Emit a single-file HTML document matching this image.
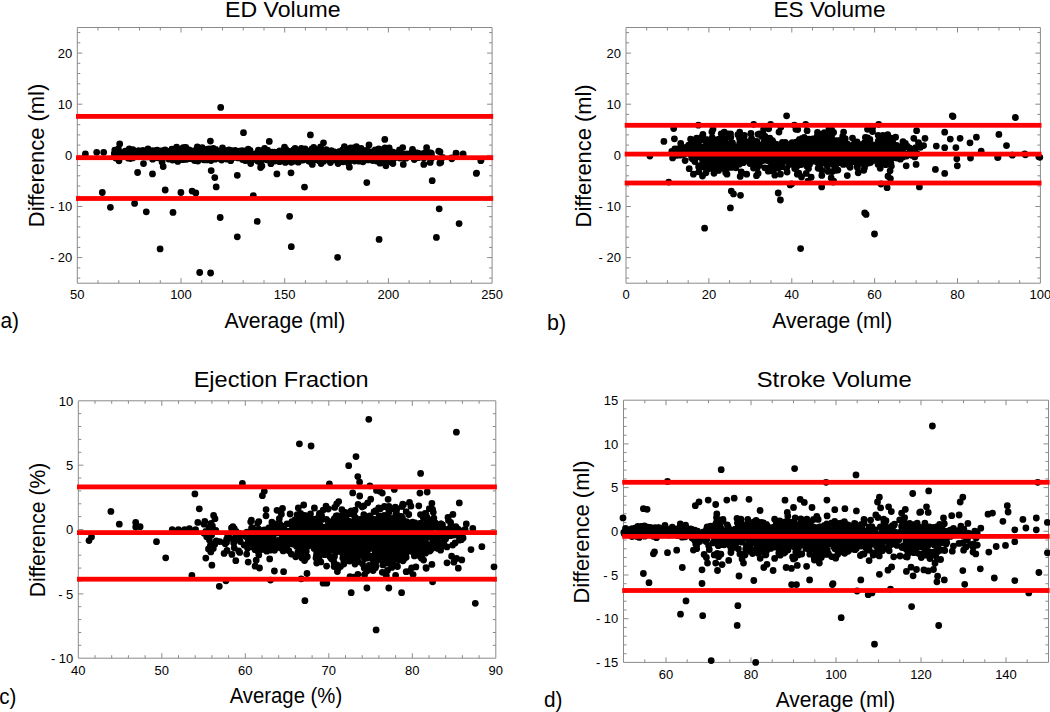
<!DOCTYPE html>
<html><head><meta charset="utf-8"><style>html,body{margin:0;padding:0;background:#fff;overflow:hidden}svg{display:block}</style></head><body>
<svg width="1050" height="712" viewBox="0 0 1050 712">
<rect width="1050" height="712" fill="#fff"/>
<path d="M77.3 27.5H492.1V283.2H77.3ZM98 283.2v-3M98 27.5v3M118.8 283.2v-3M118.8 27.5v3M139.5 283.2v-3M139.5 27.5v3M160.3 283.2v-3M160.3 27.5v3M181 283.2v-5M181 27.5v5M201.7 283.2v-3M201.7 27.5v3M222.5 283.2v-3M222.5 27.5v3M243.2 283.2v-3M243.2 27.5v3M264 283.2v-3M264 27.5v3M284.7 283.2v-5M284.7 27.5v5M305.4 283.2v-3M305.4 27.5v3M326.2 283.2v-3M326.2 27.5v3M346.9 283.2v-3M346.9 27.5v3M367.7 283.2v-3M367.7 27.5v3M388.4 283.2v-5M388.4 27.5v5M409.1 283.2v-3M409.1 27.5v3M429.9 283.2v-3M429.9 27.5v3M450.6 283.2v-3M450.6 27.5v3M471.4 283.2v-3M471.4 27.5v3M77.3 278.1h3M492.1 278.1h-3M77.3 267.9h3M492.1 267.9h-3M77.3 257.6h5M492.1 257.6h-5M77.3 247.4h3M492.1 247.4h-3M77.3 237.2h3M492.1 237.2h-3M77.3 226.9h3M492.1 226.9h-3M77.3 216.7h3M492.1 216.7h-3M77.3 206.5h5M492.1 206.5h-5M77.3 196.3h3M492.1 196.3h-3M77.3 186h3M492.1 186h-3M77.3 175.8h3M492.1 175.8h-3M77.3 165.6h3M492.1 165.6h-3M77.3 155.3h5M492.1 155.3h-5M77.3 145.1h3M492.1 145.1h-3M77.3 134.9h3M492.1 134.9h-3M77.3 124.7h3M492.1 124.7h-3M77.3 114.4h3M492.1 114.4h-3M77.3 104.2h5M492.1 104.2h-5M77.3 94h3M492.1 94h-3M77.3 83.8h3M492.1 83.8h-3M77.3 73.5h3M492.1 73.5h-3M77.3 63.3h3M492.1 63.3h-3M77.3 53.1h5M492.1 53.1h-5M77.3 42.8h3M492.1 42.8h-3M77.3 32.6h3M492.1 32.6h-3" stroke="#8a8a8a" stroke-width="1" fill="none"/>
<path d="M153.7 156.9a3.4 3.4 0 1 0 6.8 0a3.4 3.4 0 1 0 -6.8 0M127.2 155.4a3.4 3.4 0 1 0 6.8 0a3.4 3.4 0 1 0 -6.8 0M234.6 157.9a3.4 3.4 0 1 0 6.8 0a3.4 3.4 0 1 0 -6.8 0M146 155.5a3.4 3.4 0 1 0 6.8 0a3.4 3.4 0 1 0 -6.8 0M381.6 147.8a3.4 3.4 0 1 0 6.8 0a3.4 3.4 0 1 0 -6.8 0M356.1 160.5a3.4 3.4 0 1 0 6.8 0a3.4 3.4 0 1 0 -6.8 0M144.3 154.7a3.4 3.4 0 1 0 6.8 0a3.4 3.4 0 1 0 -6.8 0M293.3 153.1a3.4 3.4 0 1 0 6.8 0a3.4 3.4 0 1 0 -6.8 0M128.6 155.1a3.4 3.4 0 1 0 6.8 0a3.4 3.4 0 1 0 -6.8 0M200.4 159.8a3.4 3.4 0 1 0 6.8 0a3.4 3.4 0 1 0 -6.8 0M196.3 154.2a3.4 3.4 0 1 0 6.8 0a3.4 3.4 0 1 0 -6.8 0M260.8 152.7a3.4 3.4 0 1 0 6.8 0a3.4 3.4 0 1 0 -6.8 0M193 157.5a3.4 3.4 0 1 0 6.8 0a3.4 3.4 0 1 0 -6.8 0M154.1 155.8a3.4 3.4 0 1 0 6.8 0a3.4 3.4 0 1 0 -6.8 0M301.7 149a3.4 3.4 0 1 0 6.8 0a3.4 3.4 0 1 0 -6.8 0M309.5 152a3.4 3.4 0 1 0 6.8 0a3.4 3.4 0 1 0 -6.8 0M241.1 158.5a3.4 3.4 0 1 0 6.8 0a3.4 3.4 0 1 0 -6.8 0M128 153a3.4 3.4 0 1 0 6.8 0a3.4 3.4 0 1 0 -6.8 0M394.6 154.3a3.4 3.4 0 1 0 6.8 0a3.4 3.4 0 1 0 -6.8 0M117.1 156.5a3.4 3.4 0 1 0 6.8 0a3.4 3.4 0 1 0 -6.8 0M144.1 154.2a3.4 3.4 0 1 0 6.8 0a3.4 3.4 0 1 0 -6.8 0M222.4 153.3a3.4 3.4 0 1 0 6.8 0a3.4 3.4 0 1 0 -6.8 0M239.1 159.5a3.4 3.4 0 1 0 6.8 0a3.4 3.4 0 1 0 -6.8 0M190.2 150.9a3.4 3.4 0 1 0 6.8 0a3.4 3.4 0 1 0 -6.8 0M363.5 156.2a3.4 3.4 0 1 0 6.8 0a3.4 3.4 0 1 0 -6.8 0M177.3 156.7a3.4 3.4 0 1 0 6.8 0a3.4 3.4 0 1 0 -6.8 0M185.7 152.2a3.4 3.4 0 1 0 6.8 0a3.4 3.4 0 1 0 -6.8 0M383.2 156.5a3.4 3.4 0 1 0 6.8 0a3.4 3.4 0 1 0 -6.8 0M287.2 161.7a3.4 3.4 0 1 0 6.8 0a3.4 3.4 0 1 0 -6.8 0M360.7 157.4a3.4 3.4 0 1 0 6.8 0a3.4 3.4 0 1 0 -6.8 0M224.7 154.2a3.4 3.4 0 1 0 6.8 0a3.4 3.4 0 1 0 -6.8 0M170.3 154.1a3.4 3.4 0 1 0 6.8 0a3.4 3.4 0 1 0 -6.8 0M125.6 154.7a3.4 3.4 0 1 0 6.8 0a3.4 3.4 0 1 0 -6.8 0M117.9 155a3.4 3.4 0 1 0 6.8 0a3.4 3.4 0 1 0 -6.8 0M153.1 152.6a3.4 3.4 0 1 0 6.8 0a3.4 3.4 0 1 0 -6.8 0M353.4 157.6a3.4 3.4 0 1 0 6.8 0a3.4 3.4 0 1 0 -6.8 0M249 157.4a3.4 3.4 0 1 0 6.8 0a3.4 3.4 0 1 0 -6.8 0M347.7 156.8a3.4 3.4 0 1 0 6.8 0a3.4 3.4 0 1 0 -6.8 0M382.6 157.5a3.4 3.4 0 1 0 6.8 0a3.4 3.4 0 1 0 -6.8 0M261.6 158.3a3.4 3.4 0 1 0 6.8 0a3.4 3.4 0 1 0 -6.8 0M309.7 153.7a3.4 3.4 0 1 0 6.8 0a3.4 3.4 0 1 0 -6.8 0M262.9 156.5a3.4 3.4 0 1 0 6.8 0a3.4 3.4 0 1 0 -6.8 0M174.4 161.4a3.4 3.4 0 1 0 6.8 0a3.4 3.4 0 1 0 -6.8 0M344.6 154.4a3.4 3.4 0 1 0 6.8 0a3.4 3.4 0 1 0 -6.8 0M258.6 155.8a3.4 3.4 0 1 0 6.8 0a3.4 3.4 0 1 0 -6.8 0M184.7 155.1a3.4 3.4 0 1 0 6.8 0a3.4 3.4 0 1 0 -6.8 0M410.9 159.5a3.4 3.4 0 1 0 6.8 0a3.4 3.4 0 1 0 -6.8 0M173.7 154.4a3.4 3.4 0 1 0 6.8 0a3.4 3.4 0 1 0 -6.8 0M169.1 160.1a3.4 3.4 0 1 0 6.8 0a3.4 3.4 0 1 0 -6.8 0M297.4 151.3a3.4 3.4 0 1 0 6.8 0a3.4 3.4 0 1 0 -6.8 0M299.5 156.1a3.4 3.4 0 1 0 6.8 0a3.4 3.4 0 1 0 -6.8 0M161.7 149.8a3.4 3.4 0 1 0 6.8 0a3.4 3.4 0 1 0 -6.8 0M339.6 152.3a3.4 3.4 0 1 0 6.8 0a3.4 3.4 0 1 0 -6.8 0M419.8 156.1a3.4 3.4 0 1 0 6.8 0a3.4 3.4 0 1 0 -6.8 0M153.8 154.5a3.4 3.4 0 1 0 6.8 0a3.4 3.4 0 1 0 -6.8 0M391 153.3a3.4 3.4 0 1 0 6.8 0a3.4 3.4 0 1 0 -6.8 0M267.5 163.7a3.4 3.4 0 1 0 6.8 0a3.4 3.4 0 1 0 -6.8 0M261.2 155.8a3.4 3.4 0 1 0 6.8 0a3.4 3.4 0 1 0 -6.8 0M359.9 155.6a3.4 3.4 0 1 0 6.8 0a3.4 3.4 0 1 0 -6.8 0M179.4 157.4a3.4 3.4 0 1 0 6.8 0a3.4 3.4 0 1 0 -6.8 0M230.4 157.6a3.4 3.4 0 1 0 6.8 0a3.4 3.4 0 1 0 -6.8 0M277.4 153.3a3.4 3.4 0 1 0 6.8 0a3.4 3.4 0 1 0 -6.8 0M373.1 151.1a3.4 3.4 0 1 0 6.8 0a3.4 3.4 0 1 0 -6.8 0M236.5 154.2a3.4 3.4 0 1 0 6.8 0a3.4 3.4 0 1 0 -6.8 0M339.2 149.8a3.4 3.4 0 1 0 6.8 0a3.4 3.4 0 1 0 -6.8 0M203.8 155.9a3.4 3.4 0 1 0 6.8 0a3.4 3.4 0 1 0 -6.8 0M334.9 152.7a3.4 3.4 0 1 0 6.8 0a3.4 3.4 0 1 0 -6.8 0M331.5 154.1a3.4 3.4 0 1 0 6.8 0a3.4 3.4 0 1 0 -6.8 0M328 150.7a3.4 3.4 0 1 0 6.8 0a3.4 3.4 0 1 0 -6.8 0M257.1 156.6a3.4 3.4 0 1 0 6.8 0a3.4 3.4 0 1 0 -6.8 0M263.1 159.8a3.4 3.4 0 1 0 6.8 0a3.4 3.4 0 1 0 -6.8 0M380.1 153.2a3.4 3.4 0 1 0 6.8 0a3.4 3.4 0 1 0 -6.8 0M380.4 156.1a3.4 3.4 0 1 0 6.8 0a3.4 3.4 0 1 0 -6.8 0M131.3 155a3.4 3.4 0 1 0 6.8 0a3.4 3.4 0 1 0 -6.8 0M302.1 156.5a3.4 3.4 0 1 0 6.8 0a3.4 3.4 0 1 0 -6.8 0M299.4 153.8a3.4 3.4 0 1 0 6.8 0a3.4 3.4 0 1 0 -6.8 0M387.3 158.2a3.4 3.4 0 1 0 6.8 0a3.4 3.4 0 1 0 -6.8 0M393.7 154a3.4 3.4 0 1 0 6.8 0a3.4 3.4 0 1 0 -6.8 0M234 153.8a3.4 3.4 0 1 0 6.8 0a3.4 3.4 0 1 0 -6.8 0M317.1 156.8a3.4 3.4 0 1 0 6.8 0a3.4 3.4 0 1 0 -6.8 0M236.6 152.7a3.4 3.4 0 1 0 6.8 0a3.4 3.4 0 1 0 -6.8 0M129 157.2a3.4 3.4 0 1 0 6.8 0a3.4 3.4 0 1 0 -6.8 0M388.5 154.9a3.4 3.4 0 1 0 6.8 0a3.4 3.4 0 1 0 -6.8 0M187.9 155.9a3.4 3.4 0 1 0 6.8 0a3.4 3.4 0 1 0 -6.8 0M371.3 154.9a3.4 3.4 0 1 0 6.8 0a3.4 3.4 0 1 0 -6.8 0M273.8 156.9a3.4 3.4 0 1 0 6.8 0a3.4 3.4 0 1 0 -6.8 0M127.1 153.1a3.4 3.4 0 1 0 6.8 0a3.4 3.4 0 1 0 -6.8 0M292 155.6a3.4 3.4 0 1 0 6.8 0a3.4 3.4 0 1 0 -6.8 0M355.5 157.4a3.4 3.4 0 1 0 6.8 0a3.4 3.4 0 1 0 -6.8 0M268.8 152.2a3.4 3.4 0 1 0 6.8 0a3.4 3.4 0 1 0 -6.8 0M147.6 154.1a3.4 3.4 0 1 0 6.8 0a3.4 3.4 0 1 0 -6.8 0M125 155.2a3.4 3.4 0 1 0 6.8 0a3.4 3.4 0 1 0 -6.8 0M197.8 154a3.4 3.4 0 1 0 6.8 0a3.4 3.4 0 1 0 -6.8 0M209.8 158.8a3.4 3.4 0 1 0 6.8 0a3.4 3.4 0 1 0 -6.8 0M115 152.4a3.4 3.4 0 1 0 6.8 0a3.4 3.4 0 1 0 -6.8 0M377.9 154.3a3.4 3.4 0 1 0 6.8 0a3.4 3.4 0 1 0 -6.8 0M234.2 156.7a3.4 3.4 0 1 0 6.8 0a3.4 3.4 0 1 0 -6.8 0M307.3 152.2a3.4 3.4 0 1 0 6.8 0a3.4 3.4 0 1 0 -6.8 0M348.6 152.8a3.4 3.4 0 1 0 6.8 0a3.4 3.4 0 1 0 -6.8 0M126.2 152a3.4 3.4 0 1 0 6.8 0a3.4 3.4 0 1 0 -6.8 0M322.5 155.7a3.4 3.4 0 1 0 6.8 0a3.4 3.4 0 1 0 -6.8 0M359.6 156.2a3.4 3.4 0 1 0 6.8 0a3.4 3.4 0 1 0 -6.8 0M179.9 153.1a3.4 3.4 0 1 0 6.8 0a3.4 3.4 0 1 0 -6.8 0M185.9 155.5a3.4 3.4 0 1 0 6.8 0a3.4 3.4 0 1 0 -6.8 0M414.1 156.5a3.4 3.4 0 1 0 6.8 0a3.4 3.4 0 1 0 -6.8 0M110.9 153.5a3.4 3.4 0 1 0 6.8 0a3.4 3.4 0 1 0 -6.8 0M254.4 154.7a3.4 3.4 0 1 0 6.8 0a3.4 3.4 0 1 0 -6.8 0M136.3 154a3.4 3.4 0 1 0 6.8 0a3.4 3.4 0 1 0 -6.8 0M117 154.4a3.4 3.4 0 1 0 6.8 0a3.4 3.4 0 1 0 -6.8 0M325.3 159.4a3.4 3.4 0 1 0 6.8 0a3.4 3.4 0 1 0 -6.8 0M362 150.6a3.4 3.4 0 1 0 6.8 0a3.4 3.4 0 1 0 -6.8 0M317.7 163.5a3.4 3.4 0 1 0 6.8 0a3.4 3.4 0 1 0 -6.8 0M349.5 151.3a3.4 3.4 0 1 0 6.8 0a3.4 3.4 0 1 0 -6.8 0M150.4 151a3.4 3.4 0 1 0 6.8 0a3.4 3.4 0 1 0 -6.8 0M349.4 157a3.4 3.4 0 1 0 6.8 0a3.4 3.4 0 1 0 -6.8 0M305.9 151.1a3.4 3.4 0 1 0 6.8 0a3.4 3.4 0 1 0 -6.8 0M119.5 153.2a3.4 3.4 0 1 0 6.8 0a3.4 3.4 0 1 0 -6.8 0M270.3 156.2a3.4 3.4 0 1 0 6.8 0a3.4 3.4 0 1 0 -6.8 0M305.3 160.9a3.4 3.4 0 1 0 6.8 0a3.4 3.4 0 1 0 -6.8 0M254.4 155.1a3.4 3.4 0 1 0 6.8 0a3.4 3.4 0 1 0 -6.8 0M129.5 154a3.4 3.4 0 1 0 6.8 0a3.4 3.4 0 1 0 -6.8 0M319.2 156.3a3.4 3.4 0 1 0 6.8 0a3.4 3.4 0 1 0 -6.8 0M389.7 152.2a3.4 3.4 0 1 0 6.8 0a3.4 3.4 0 1 0 -6.8 0M330 157.5a3.4 3.4 0 1 0 6.8 0a3.4 3.4 0 1 0 -6.8 0M132.8 153.9a3.4 3.4 0 1 0 6.8 0a3.4 3.4 0 1 0 -6.8 0M273 160.4a3.4 3.4 0 1 0 6.8 0a3.4 3.4 0 1 0 -6.8 0M187.5 153.2a3.4 3.4 0 1 0 6.8 0a3.4 3.4 0 1 0 -6.8 0M258.3 150.4a3.4 3.4 0 1 0 6.8 0a3.4 3.4 0 1 0 -6.8 0M144.5 156.3a3.4 3.4 0 1 0 6.8 0a3.4 3.4 0 1 0 -6.8 0M115.6 160.8a3.4 3.4 0 1 0 6.8 0a3.4 3.4 0 1 0 -6.8 0M387.5 154.7a3.4 3.4 0 1 0 6.8 0a3.4 3.4 0 1 0 -6.8 0M403.3 156.2a3.4 3.4 0 1 0 6.8 0a3.4 3.4 0 1 0 -6.8 0M260.5 159.1a3.4 3.4 0 1 0 6.8 0a3.4 3.4 0 1 0 -6.8 0M364.2 159.5a3.4 3.4 0 1 0 6.8 0a3.4 3.4 0 1 0 -6.8 0M367.3 155.3a3.4 3.4 0 1 0 6.8 0a3.4 3.4 0 1 0 -6.8 0M239.5 155a3.4 3.4 0 1 0 6.8 0a3.4 3.4 0 1 0 -6.8 0M209 155.1a3.4 3.4 0 1 0 6.8 0a3.4 3.4 0 1 0 -6.8 0M350.6 154.8a3.4 3.4 0 1 0 6.8 0a3.4 3.4 0 1 0 -6.8 0M314.5 154.2a3.4 3.4 0 1 0 6.8 0a3.4 3.4 0 1 0 -6.8 0M396.3 158.1a3.4 3.4 0 1 0 6.8 0a3.4 3.4 0 1 0 -6.8 0M233 156.5a3.4 3.4 0 1 0 6.8 0a3.4 3.4 0 1 0 -6.8 0M192.3 155.5a3.4 3.4 0 1 0 6.8 0a3.4 3.4 0 1 0 -6.8 0M186.6 156.2a3.4 3.4 0 1 0 6.8 0a3.4 3.4 0 1 0 -6.8 0M424.9 156.6a3.4 3.4 0 1 0 6.8 0a3.4 3.4 0 1 0 -6.8 0M371.8 150a3.4 3.4 0 1 0 6.8 0a3.4 3.4 0 1 0 -6.8 0M320.1 153.4a3.4 3.4 0 1 0 6.8 0a3.4 3.4 0 1 0 -6.8 0M294.9 162.2a3.4 3.4 0 1 0 6.8 0a3.4 3.4 0 1 0 -6.8 0M245.6 157.3a3.4 3.4 0 1 0 6.8 0a3.4 3.4 0 1 0 -6.8 0M322 154.7a3.4 3.4 0 1 0 6.8 0a3.4 3.4 0 1 0 -6.8 0M270 159.8a3.4 3.4 0 1 0 6.8 0a3.4 3.4 0 1 0 -6.8 0M156.8 156.5a3.4 3.4 0 1 0 6.8 0a3.4 3.4 0 1 0 -6.8 0M369.8 152.8a3.4 3.4 0 1 0 6.8 0a3.4 3.4 0 1 0 -6.8 0M150.5 156a3.4 3.4 0 1 0 6.8 0a3.4 3.4 0 1 0 -6.8 0M179 156.6a3.4 3.4 0 1 0 6.8 0a3.4 3.4 0 1 0 -6.8 0M364.4 152.1a3.4 3.4 0 1 0 6.8 0a3.4 3.4 0 1 0 -6.8 0M218.4 156.8a3.4 3.4 0 1 0 6.8 0a3.4 3.4 0 1 0 -6.8 0M190 157.7a3.4 3.4 0 1 0 6.8 0a3.4 3.4 0 1 0 -6.8 0M357.4 157.8a3.4 3.4 0 1 0 6.8 0a3.4 3.4 0 1 0 -6.8 0M181.7 147.3a3.4 3.4 0 1 0 6.8 0a3.4 3.4 0 1 0 -6.8 0M360.2 157.7a3.4 3.4 0 1 0 6.8 0a3.4 3.4 0 1 0 -6.8 0M313.5 150.7a3.4 3.4 0 1 0 6.8 0a3.4 3.4 0 1 0 -6.8 0M222.6 155.7a3.4 3.4 0 1 0 6.8 0a3.4 3.4 0 1 0 -6.8 0M355.3 155a3.4 3.4 0 1 0 6.8 0a3.4 3.4 0 1 0 -6.8 0M260 156.6a3.4 3.4 0 1 0 6.8 0a3.4 3.4 0 1 0 -6.8 0M419.7 155.2a3.4 3.4 0 1 0 6.8 0a3.4 3.4 0 1 0 -6.8 0M121.9 151.1a3.4 3.4 0 1 0 6.8 0a3.4 3.4 0 1 0 -6.8 0M373.7 154.4a3.4 3.4 0 1 0 6.8 0a3.4 3.4 0 1 0 -6.8 0M292.6 156.6a3.4 3.4 0 1 0 6.8 0a3.4 3.4 0 1 0 -6.8 0M130.7 151.8a3.4 3.4 0 1 0 6.8 0a3.4 3.4 0 1 0 -6.8 0M282.5 153.4a3.4 3.4 0 1 0 6.8 0a3.4 3.4 0 1 0 -6.8 0M242.4 150.8a3.4 3.4 0 1 0 6.8 0a3.4 3.4 0 1 0 -6.8 0M177.7 149.6a3.4 3.4 0 1 0 6.8 0a3.4 3.4 0 1 0 -6.8 0M419.1 157.1a3.4 3.4 0 1 0 6.8 0a3.4 3.4 0 1 0 -6.8 0M230.7 155.5a3.4 3.4 0 1 0 6.8 0a3.4 3.4 0 1 0 -6.8 0M375.2 157.9a3.4 3.4 0 1 0 6.8 0a3.4 3.4 0 1 0 -6.8 0M305.8 155.6a3.4 3.4 0 1 0 6.8 0a3.4 3.4 0 1 0 -6.8 0M322 157.4a3.4 3.4 0 1 0 6.8 0a3.4 3.4 0 1 0 -6.8 0M345.1 163.4a3.4 3.4 0 1 0 6.8 0a3.4 3.4 0 1 0 -6.8 0M328.1 158.7a3.4 3.4 0 1 0 6.8 0a3.4 3.4 0 1 0 -6.8 0M174.5 153.9a3.4 3.4 0 1 0 6.8 0a3.4 3.4 0 1 0 -6.8 0M381.9 153.2a3.4 3.4 0 1 0 6.8 0a3.4 3.4 0 1 0 -6.8 0M401.1 155.8a3.4 3.4 0 1 0 6.8 0a3.4 3.4 0 1 0 -6.8 0M223.1 159a3.4 3.4 0 1 0 6.8 0a3.4 3.4 0 1 0 -6.8 0M426.4 153a3.4 3.4 0 1 0 6.8 0a3.4 3.4 0 1 0 -6.8 0M378.3 159.8a3.4 3.4 0 1 0 6.8 0a3.4 3.4 0 1 0 -6.8 0M217.5 156a3.4 3.4 0 1 0 6.8 0a3.4 3.4 0 1 0 -6.8 0M111.4 150.1a3.4 3.4 0 1 0 6.8 0a3.4 3.4 0 1 0 -6.8 0M386.4 161.6a3.4 3.4 0 1 0 6.8 0a3.4 3.4 0 1 0 -6.8 0M345.6 154a3.4 3.4 0 1 0 6.8 0a3.4 3.4 0 1 0 -6.8 0M217.2 155.4a3.4 3.4 0 1 0 6.8 0a3.4 3.4 0 1 0 -6.8 0M214.8 158.3a3.4 3.4 0 1 0 6.8 0a3.4 3.4 0 1 0 -6.8 0M329.9 155.6a3.4 3.4 0 1 0 6.8 0a3.4 3.4 0 1 0 -6.8 0M128.5 153.8a3.4 3.4 0 1 0 6.8 0a3.4 3.4 0 1 0 -6.8 0M207.6 160.5a3.4 3.4 0 1 0 6.8 0a3.4 3.4 0 1 0 -6.8 0M416.3 154.7a3.4 3.4 0 1 0 6.8 0a3.4 3.4 0 1 0 -6.8 0M111.7 151.8a3.4 3.4 0 1 0 6.8 0a3.4 3.4 0 1 0 -6.8 0M291.9 157.4a3.4 3.4 0 1 0 6.8 0a3.4 3.4 0 1 0 -6.8 0M384.2 155.4a3.4 3.4 0 1 0 6.8 0a3.4 3.4 0 1 0 -6.8 0M182.4 147.4a3.4 3.4 0 1 0 6.8 0a3.4 3.4 0 1 0 -6.8 0M340.1 155.3a3.4 3.4 0 1 0 6.8 0a3.4 3.4 0 1 0 -6.8 0M331.6 153.6a3.4 3.4 0 1 0 6.8 0a3.4 3.4 0 1 0 -6.8 0M334.3 157.6a3.4 3.4 0 1 0 6.8 0a3.4 3.4 0 1 0 -6.8 0M325.9 155.8a3.4 3.4 0 1 0 6.8 0a3.4 3.4 0 1 0 -6.8 0M203.8 155.3a3.4 3.4 0 1 0 6.8 0a3.4 3.4 0 1 0 -6.8 0M393.1 156.3a3.4 3.4 0 1 0 6.8 0a3.4 3.4 0 1 0 -6.8 0M313.6 155.7a3.4 3.4 0 1 0 6.8 0a3.4 3.4 0 1 0 -6.8 0M229.8 152.5a3.4 3.4 0 1 0 6.8 0a3.4 3.4 0 1 0 -6.8 0M300.6 150.1a3.4 3.4 0 1 0 6.8 0a3.4 3.4 0 1 0 -6.8 0M194.6 151.2a3.4 3.4 0 1 0 6.8 0a3.4 3.4 0 1 0 -6.8 0M181.4 158.9a3.4 3.4 0 1 0 6.8 0a3.4 3.4 0 1 0 -6.8 0M363.5 153.5a3.4 3.4 0 1 0 6.8 0a3.4 3.4 0 1 0 -6.8 0M412.8 156.6a3.4 3.4 0 1 0 6.8 0a3.4 3.4 0 1 0 -6.8 0M297.5 158a3.4 3.4 0 1 0 6.8 0a3.4 3.4 0 1 0 -6.8 0M351 157.2a3.4 3.4 0 1 0 6.8 0a3.4 3.4 0 1 0 -6.8 0M194.6 158.3a3.4 3.4 0 1 0 6.8 0a3.4 3.4 0 1 0 -6.8 0M376.6 163.2a3.4 3.4 0 1 0 6.8 0a3.4 3.4 0 1 0 -6.8 0M239 156.4a3.4 3.4 0 1 0 6.8 0a3.4 3.4 0 1 0 -6.8 0M281.1 147.2a3.4 3.4 0 1 0 6.8 0a3.4 3.4 0 1 0 -6.8 0M216.1 155.7a3.4 3.4 0 1 0 6.8 0a3.4 3.4 0 1 0 -6.8 0M297 157.4a3.4 3.4 0 1 0 6.8 0a3.4 3.4 0 1 0 -6.8 0M204.2 156.1a3.4 3.4 0 1 0 6.8 0a3.4 3.4 0 1 0 -6.8 0M338.1 157.6a3.4 3.4 0 1 0 6.8 0a3.4 3.4 0 1 0 -6.8 0M139.6 150.5a3.4 3.4 0 1 0 6.8 0a3.4 3.4 0 1 0 -6.8 0M157.4 152.8a3.4 3.4 0 1 0 6.8 0a3.4 3.4 0 1 0 -6.8 0M191.6 157.7a3.4 3.4 0 1 0 6.8 0a3.4 3.4 0 1 0 -6.8 0M212.8 154.2a3.4 3.4 0 1 0 6.8 0a3.4 3.4 0 1 0 -6.8 0M395.6 156.7a3.4 3.4 0 1 0 6.8 0a3.4 3.4 0 1 0 -6.8 0M112.3 158a3.4 3.4 0 1 0 6.8 0a3.4 3.4 0 1 0 -6.8 0M345.2 157.7a3.4 3.4 0 1 0 6.8 0a3.4 3.4 0 1 0 -6.8 0M114.8 152.1a3.4 3.4 0 1 0 6.8 0a3.4 3.4 0 1 0 -6.8 0M370.8 152.7a3.4 3.4 0 1 0 6.8 0a3.4 3.4 0 1 0 -6.8 0M152.3 152.3a3.4 3.4 0 1 0 6.8 0a3.4 3.4 0 1 0 -6.8 0M375.3 149a3.4 3.4 0 1 0 6.8 0a3.4 3.4 0 1 0 -6.8 0M402.9 155.2a3.4 3.4 0 1 0 6.8 0a3.4 3.4 0 1 0 -6.8 0M427.8 158.9a3.4 3.4 0 1 0 6.8 0a3.4 3.4 0 1 0 -6.8 0M369.2 157.5a3.4 3.4 0 1 0 6.8 0a3.4 3.4 0 1 0 -6.8 0M156.4 154.5a3.4 3.4 0 1 0 6.8 0a3.4 3.4 0 1 0 -6.8 0M347.7 158.3a3.4 3.4 0 1 0 6.8 0a3.4 3.4 0 1 0 -6.8 0M224.9 153.7a3.4 3.4 0 1 0 6.8 0a3.4 3.4 0 1 0 -6.8 0M317.9 156.1a3.4 3.4 0 1 0 6.8 0a3.4 3.4 0 1 0 -6.8 0M271.4 161.1a3.4 3.4 0 1 0 6.8 0a3.4 3.4 0 1 0 -6.8 0M282.1 156.5a3.4 3.4 0 1 0 6.8 0a3.4 3.4 0 1 0 -6.8 0M198.2 152a3.4 3.4 0 1 0 6.8 0a3.4 3.4 0 1 0 -6.8 0M238.4 153.3a3.4 3.4 0 1 0 6.8 0a3.4 3.4 0 1 0 -6.8 0M287.6 155.5a3.4 3.4 0 1 0 6.8 0a3.4 3.4 0 1 0 -6.8 0M241.7 160.6a3.4 3.4 0 1 0 6.8 0a3.4 3.4 0 1 0 -6.8 0M141.2 153a3.4 3.4 0 1 0 6.8 0a3.4 3.4 0 1 0 -6.8 0M256.5 155.6a3.4 3.4 0 1 0 6.8 0a3.4 3.4 0 1 0 -6.8 0M134.1 154.5a3.4 3.4 0 1 0 6.8 0a3.4 3.4 0 1 0 -6.8 0M254.7 151.1a3.4 3.4 0 1 0 6.8 0a3.4 3.4 0 1 0 -6.8 0M401 157.9a3.4 3.4 0 1 0 6.8 0a3.4 3.4 0 1 0 -6.8 0M166 153.9a3.4 3.4 0 1 0 6.8 0a3.4 3.4 0 1 0 -6.8 0M384.2 158a3.4 3.4 0 1 0 6.8 0a3.4 3.4 0 1 0 -6.8 0M129.3 157.9a3.4 3.4 0 1 0 6.8 0a3.4 3.4 0 1 0 -6.8 0M156 153.3a3.4 3.4 0 1 0 6.8 0a3.4 3.4 0 1 0 -6.8 0M254.2 161a3.4 3.4 0 1 0 6.8 0a3.4 3.4 0 1 0 -6.8 0M185.8 154.6a3.4 3.4 0 1 0 6.8 0a3.4 3.4 0 1 0 -6.8 0M156.7 154.6a3.4 3.4 0 1 0 6.8 0a3.4 3.4 0 1 0 -6.8 0M366.7 155.4a3.4 3.4 0 1 0 6.8 0a3.4 3.4 0 1 0 -6.8 0M292.6 153.4a3.4 3.4 0 1 0 6.8 0a3.4 3.4 0 1 0 -6.8 0M269.4 156.1a3.4 3.4 0 1 0 6.8 0a3.4 3.4 0 1 0 -6.8 0M416.8 154.4a3.4 3.4 0 1 0 6.8 0a3.4 3.4 0 1 0 -6.8 0M186.3 152.2a3.4 3.4 0 1 0 6.8 0a3.4 3.4 0 1 0 -6.8 0M237.1 153.5a3.4 3.4 0 1 0 6.8 0a3.4 3.4 0 1 0 -6.8 0M124.4 153.9a3.4 3.4 0 1 0 6.8 0a3.4 3.4 0 1 0 -6.8 0M415.3 157.6a3.4 3.4 0 1 0 6.8 0a3.4 3.4 0 1 0 -6.8 0M111.1 156.1a3.4 3.4 0 1 0 6.8 0a3.4 3.4 0 1 0 -6.8 0M257.2 158.7a3.4 3.4 0 1 0 6.8 0a3.4 3.4 0 1 0 -6.8 0M175.6 155.2a3.4 3.4 0 1 0 6.8 0a3.4 3.4 0 1 0 -6.8 0M141 154a3.4 3.4 0 1 0 6.8 0a3.4 3.4 0 1 0 -6.8 0M277.5 156.3a3.4 3.4 0 1 0 6.8 0a3.4 3.4 0 1 0 -6.8 0M149.1 157.5a3.4 3.4 0 1 0 6.8 0a3.4 3.4 0 1 0 -6.8 0M153.3 150.6a3.4 3.4 0 1 0 6.8 0a3.4 3.4 0 1 0 -6.8 0M225.6 149.9a3.4 3.4 0 1 0 6.8 0a3.4 3.4 0 1 0 -6.8 0M295.1 152.2a3.4 3.4 0 1 0 6.8 0a3.4 3.4 0 1 0 -6.8 0M378.6 158.8a3.4 3.4 0 1 0 6.8 0a3.4 3.4 0 1 0 -6.8 0M369 151.7a3.4 3.4 0 1 0 6.8 0a3.4 3.4 0 1 0 -6.8 0M127.3 153.5a3.4 3.4 0 1 0 6.8 0a3.4 3.4 0 1 0 -6.8 0M268.2 156.4a3.4 3.4 0 1 0 6.8 0a3.4 3.4 0 1 0 -6.8 0M255.6 156.7a3.4 3.4 0 1 0 6.8 0a3.4 3.4 0 1 0 -6.8 0M160.5 153.7a3.4 3.4 0 1 0 6.8 0a3.4 3.4 0 1 0 -6.8 0M334.5 156a3.4 3.4 0 1 0 6.8 0a3.4 3.4 0 1 0 -6.8 0M352.1 149.7a3.4 3.4 0 1 0 6.8 0a3.4 3.4 0 1 0 -6.8 0M175.2 156.2a3.4 3.4 0 1 0 6.8 0a3.4 3.4 0 1 0 -6.8 0M121.7 154a3.4 3.4 0 1 0 6.8 0a3.4 3.4 0 1 0 -6.8 0M314.1 149.9a3.4 3.4 0 1 0 6.8 0a3.4 3.4 0 1 0 -6.8 0M235.3 152.4a3.4 3.4 0 1 0 6.8 0a3.4 3.4 0 1 0 -6.8 0M386.6 154.6a3.4 3.4 0 1 0 6.8 0a3.4 3.4 0 1 0 -6.8 0M115 154.4a3.4 3.4 0 1 0 6.8 0a3.4 3.4 0 1 0 -6.8 0M420.5 158a3.4 3.4 0 1 0 6.8 0a3.4 3.4 0 1 0 -6.8 0M204.6 158.9a3.4 3.4 0 1 0 6.8 0a3.4 3.4 0 1 0 -6.8 0M300.9 152.4a3.4 3.4 0 1 0 6.8 0a3.4 3.4 0 1 0 -6.8 0M350.8 157.2a3.4 3.4 0 1 0 6.8 0a3.4 3.4 0 1 0 -6.8 0M273.7 152.2a3.4 3.4 0 1 0 6.8 0a3.4 3.4 0 1 0 -6.8 0M288.7 156.6a3.4 3.4 0 1 0 6.8 0a3.4 3.4 0 1 0 -6.8 0M141.1 153.2a3.4 3.4 0 1 0 6.8 0a3.4 3.4 0 1 0 -6.8 0M151.2 157.9a3.4 3.4 0 1 0 6.8 0a3.4 3.4 0 1 0 -6.8 0M309.9 156.3a3.4 3.4 0 1 0 6.8 0a3.4 3.4 0 1 0 -6.8 0M279.5 157.5a3.4 3.4 0 1 0 6.8 0a3.4 3.4 0 1 0 -6.8 0M129.5 149.6a3.4 3.4 0 1 0 6.8 0a3.4 3.4 0 1 0 -6.8 0M380.7 155.4a3.4 3.4 0 1 0 6.8 0a3.4 3.4 0 1 0 -6.8 0M353 156.5a3.4 3.4 0 1 0 6.8 0a3.4 3.4 0 1 0 -6.8 0M346.6 154.6a3.4 3.4 0 1 0 6.8 0a3.4 3.4 0 1 0 -6.8 0M327.2 156.5a3.4 3.4 0 1 0 6.8 0a3.4 3.4 0 1 0 -6.8 0M231.8 154.9a3.4 3.4 0 1 0 6.8 0a3.4 3.4 0 1 0 -6.8 0M215.9 157.7a3.4 3.4 0 1 0 6.8 0a3.4 3.4 0 1 0 -6.8 0M412.7 154.7a3.4 3.4 0 1 0 6.8 0a3.4 3.4 0 1 0 -6.8 0M235.4 154.4a3.4 3.4 0 1 0 6.8 0a3.4 3.4 0 1 0 -6.8 0M312.1 156.4a3.4 3.4 0 1 0 6.8 0a3.4 3.4 0 1 0 -6.8 0M345.1 161.4a3.4 3.4 0 1 0 6.8 0a3.4 3.4 0 1 0 -6.8 0M168.4 155.3a3.4 3.4 0 1 0 6.8 0a3.4 3.4 0 1 0 -6.8 0M251.2 155a3.4 3.4 0 1 0 6.8 0a3.4 3.4 0 1 0 -6.8 0M252.1 156.3a3.4 3.4 0 1 0 6.8 0a3.4 3.4 0 1 0 -6.8 0M405.7 153.8a3.4 3.4 0 1 0 6.8 0a3.4 3.4 0 1 0 -6.8 0M253.1 154.1a3.4 3.4 0 1 0 6.8 0a3.4 3.4 0 1 0 -6.8 0M310 154a3.4 3.4 0 1 0 6.8 0a3.4 3.4 0 1 0 -6.8 0M212.3 149.5a3.4 3.4 0 1 0 6.8 0a3.4 3.4 0 1 0 -6.8 0M364.7 159.3a3.4 3.4 0 1 0 6.8 0a3.4 3.4 0 1 0 -6.8 0M185.9 151.8a3.4 3.4 0 1 0 6.8 0a3.4 3.4 0 1 0 -6.8 0M177.4 155a3.4 3.4 0 1 0 6.8 0a3.4 3.4 0 1 0 -6.8 0M326.4 153.1a3.4 3.4 0 1 0 6.8 0a3.4 3.4 0 1 0 -6.8 0M155 152.1a3.4 3.4 0 1 0 6.8 0a3.4 3.4 0 1 0 -6.8 0M322.8 149.7a3.4 3.4 0 1 0 6.8 0a3.4 3.4 0 1 0 -6.8 0M146.7 155.7a3.4 3.4 0 1 0 6.8 0a3.4 3.4 0 1 0 -6.8 0M178.7 153.4a3.4 3.4 0 1 0 6.8 0a3.4 3.4 0 1 0 -6.8 0M154.8 157.8a3.4 3.4 0 1 0 6.8 0a3.4 3.4 0 1 0 -6.8 0M204 156.6a3.4 3.4 0 1 0 6.8 0a3.4 3.4 0 1 0 -6.8 0M389.5 157.5a3.4 3.4 0 1 0 6.8 0a3.4 3.4 0 1 0 -6.8 0M385.8 147.9a3.4 3.4 0 1 0 6.8 0a3.4 3.4 0 1 0 -6.8 0M320.3 161.3a3.4 3.4 0 1 0 6.8 0a3.4 3.4 0 1 0 -6.8 0M293.1 155.9a3.4 3.4 0 1 0 6.8 0a3.4 3.4 0 1 0 -6.8 0M224.7 158.2a3.4 3.4 0 1 0 6.8 0a3.4 3.4 0 1 0 -6.8 0M253.7 153.2a3.4 3.4 0 1 0 6.8 0a3.4 3.4 0 1 0 -6.8 0M226.3 155.4a3.4 3.4 0 1 0 6.8 0a3.4 3.4 0 1 0 -6.8 0M233.6 155a3.4 3.4 0 1 0 6.8 0a3.4 3.4 0 1 0 -6.8 0M317.2 151.5a3.4 3.4 0 1 0 6.8 0a3.4 3.4 0 1 0 -6.8 0M310.8 153a3.4 3.4 0 1 0 6.8 0a3.4 3.4 0 1 0 -6.8 0M200.1 150.7a3.4 3.4 0 1 0 6.8 0a3.4 3.4 0 1 0 -6.8 0M230.6 153.9a3.4 3.4 0 1 0 6.8 0a3.4 3.4 0 1 0 -6.8 0M231.7 150.5a3.4 3.4 0 1 0 6.8 0a3.4 3.4 0 1 0 -6.8 0M227.7 156.9a3.4 3.4 0 1 0 6.8 0a3.4 3.4 0 1 0 -6.8 0M333.2 154.1a3.4 3.4 0 1 0 6.8 0a3.4 3.4 0 1 0 -6.8 0M389.3 153.1a3.4 3.4 0 1 0 6.8 0a3.4 3.4 0 1 0 -6.8 0M379.6 154.5a3.4 3.4 0 1 0 6.8 0a3.4 3.4 0 1 0 -6.8 0M274.9 154.2a3.4 3.4 0 1 0 6.8 0a3.4 3.4 0 1 0 -6.8 0M347.7 151.1a3.4 3.4 0 1 0 6.8 0a3.4 3.4 0 1 0 -6.8 0M381.7 153.7a3.4 3.4 0 1 0 6.8 0a3.4 3.4 0 1 0 -6.8 0M145.6 151.6a3.4 3.4 0 1 0 6.8 0a3.4 3.4 0 1 0 -6.8 0M126.8 153.7a3.4 3.4 0 1 0 6.8 0a3.4 3.4 0 1 0 -6.8 0M230.9 155.3a3.4 3.4 0 1 0 6.8 0a3.4 3.4 0 1 0 -6.8 0M186.4 154.6a3.4 3.4 0 1 0 6.8 0a3.4 3.4 0 1 0 -6.8 0M173.2 147.2a3.4 3.4 0 1 0 6.8 0a3.4 3.4 0 1 0 -6.8 0M171.2 156a3.4 3.4 0 1 0 6.8 0a3.4 3.4 0 1 0 -6.8 0M244.8 149.1a3.4 3.4 0 1 0 6.8 0a3.4 3.4 0 1 0 -6.8 0M386.3 151.1a3.4 3.4 0 1 0 6.8 0a3.4 3.4 0 1 0 -6.8 0M244.5 150.3a3.4 3.4 0 1 0 6.8 0a3.4 3.4 0 1 0 -6.8 0M146.4 150.9a3.4 3.4 0 1 0 6.8 0a3.4 3.4 0 1 0 -6.8 0M218.2 160.1a3.4 3.4 0 1 0 6.8 0a3.4 3.4 0 1 0 -6.8 0M163.8 153.6a3.4 3.4 0 1 0 6.8 0a3.4 3.4 0 1 0 -6.8 0M196.9 152.4a3.4 3.4 0 1 0 6.8 0a3.4 3.4 0 1 0 -6.8 0M292.9 150.1a3.4 3.4 0 1 0 6.8 0a3.4 3.4 0 1 0 -6.8 0M126.9 158.5a3.4 3.4 0 1 0 6.8 0a3.4 3.4 0 1 0 -6.8 0M334.8 157.3a3.4 3.4 0 1 0 6.8 0a3.4 3.4 0 1 0 -6.8 0M113.9 150.8a3.4 3.4 0 1 0 6.8 0a3.4 3.4 0 1 0 -6.8 0M182.1 156.5a3.4 3.4 0 1 0 6.8 0a3.4 3.4 0 1 0 -6.8 0M209.7 156.9a3.4 3.4 0 1 0 6.8 0a3.4 3.4 0 1 0 -6.8 0M337 158.5a3.4 3.4 0 1 0 6.8 0a3.4 3.4 0 1 0 -6.8 0M301.8 152.1a3.4 3.4 0 1 0 6.8 0a3.4 3.4 0 1 0 -6.8 0M350.5 153.6a3.4 3.4 0 1 0 6.8 0a3.4 3.4 0 1 0 -6.8 0M236 151.2a3.4 3.4 0 1 0 6.8 0a3.4 3.4 0 1 0 -6.8 0M186.2 157.5a3.4 3.4 0 1 0 6.8 0a3.4 3.4 0 1 0 -6.8 0M244.2 158a3.4 3.4 0 1 0 6.8 0a3.4 3.4 0 1 0 -6.8 0M253.1 155.2a3.4 3.4 0 1 0 6.8 0a3.4 3.4 0 1 0 -6.8 0M244.4 154.7a3.4 3.4 0 1 0 6.8 0a3.4 3.4 0 1 0 -6.8 0M351 147.7a3.4 3.4 0 1 0 6.8 0a3.4 3.4 0 1 0 -6.8 0M292.8 159.1a3.4 3.4 0 1 0 6.8 0a3.4 3.4 0 1 0 -6.8 0M285 157.7a3.4 3.4 0 1 0 6.8 0a3.4 3.4 0 1 0 -6.8 0M412.9 154.3a3.4 3.4 0 1 0 6.8 0a3.4 3.4 0 1 0 -6.8 0M120.3 152.3a3.4 3.4 0 1 0 6.8 0a3.4 3.4 0 1 0 -6.8 0M215.3 152.9a3.4 3.4 0 1 0 6.8 0a3.4 3.4 0 1 0 -6.8 0M331 151.8a3.4 3.4 0 1 0 6.8 0a3.4 3.4 0 1 0 -6.8 0M347 156.4a3.4 3.4 0 1 0 6.8 0a3.4 3.4 0 1 0 -6.8 0M226.1 154.5a3.4 3.4 0 1 0 6.8 0a3.4 3.4 0 1 0 -6.8 0M417.5 157.1a3.4 3.4 0 1 0 6.8 0a3.4 3.4 0 1 0 -6.8 0M201.3 151a3.4 3.4 0 1 0 6.8 0a3.4 3.4 0 1 0 -6.8 0M122.1 152.1a3.4 3.4 0 1 0 6.8 0a3.4 3.4 0 1 0 -6.8 0M266.6 154.9a3.4 3.4 0 1 0 6.8 0a3.4 3.4 0 1 0 -6.8 0M374.1 155.4a3.4 3.4 0 1 0 6.8 0a3.4 3.4 0 1 0 -6.8 0M336.3 151.5a3.4 3.4 0 1 0 6.8 0a3.4 3.4 0 1 0 -6.8 0M309.8 152a3.4 3.4 0 1 0 6.8 0a3.4 3.4 0 1 0 -6.8 0M171.4 149.6a3.4 3.4 0 1 0 6.8 0a3.4 3.4 0 1 0 -6.8 0M162.5 155.2a3.4 3.4 0 1 0 6.8 0a3.4 3.4 0 1 0 -6.8 0M372 150.8a3.4 3.4 0 1 0 6.8 0a3.4 3.4 0 1 0 -6.8 0M271.4 159.5a3.4 3.4 0 1 0 6.8 0a3.4 3.4 0 1 0 -6.8 0M231.2 150.7a3.4 3.4 0 1 0 6.8 0a3.4 3.4 0 1 0 -6.8 0M126.2 155.6a3.4 3.4 0 1 0 6.8 0a3.4 3.4 0 1 0 -6.8 0M144.6 148.8a3.4 3.4 0 1 0 6.8 0a3.4 3.4 0 1 0 -6.8 0M114.6 151.3a3.4 3.4 0 1 0 6.8 0a3.4 3.4 0 1 0 -6.8 0M378.8 151.6a3.4 3.4 0 1 0 6.8 0a3.4 3.4 0 1 0 -6.8 0M294.9 155.5a3.4 3.4 0 1 0 6.8 0a3.4 3.4 0 1 0 -6.8 0M115 153.5a3.4 3.4 0 1 0 6.8 0a3.4 3.4 0 1 0 -6.8 0M399.4 154.2a3.4 3.4 0 1 0 6.8 0a3.4 3.4 0 1 0 -6.8 0M115.7 154.2a3.4 3.4 0 1 0 6.8 0a3.4 3.4 0 1 0 -6.8 0M124.9 158.2a3.4 3.4 0 1 0 6.8 0a3.4 3.4 0 1 0 -6.8 0M355.3 159a3.4 3.4 0 1 0 6.8 0a3.4 3.4 0 1 0 -6.8 0M242.3 157.3a3.4 3.4 0 1 0 6.8 0a3.4 3.4 0 1 0 -6.8 0M386.4 155.6a3.4 3.4 0 1 0 6.8 0a3.4 3.4 0 1 0 -6.8 0M344.4 155a3.4 3.4 0 1 0 6.8 0a3.4 3.4 0 1 0 -6.8 0M319.2 157.4a3.4 3.4 0 1 0 6.8 0a3.4 3.4 0 1 0 -6.8 0M215.7 152.1a3.4 3.4 0 1 0 6.8 0a3.4 3.4 0 1 0 -6.8 0M304.2 155.9a3.4 3.4 0 1 0 6.8 0a3.4 3.4 0 1 0 -6.8 0M290.7 152a3.4 3.4 0 1 0 6.8 0a3.4 3.4 0 1 0 -6.8 0M335.5 155.9a3.4 3.4 0 1 0 6.8 0a3.4 3.4 0 1 0 -6.8 0M127.9 150.7a3.4 3.4 0 1 0 6.8 0a3.4 3.4 0 1 0 -6.8 0M347.2 147.8a3.4 3.4 0 1 0 6.8 0a3.4 3.4 0 1 0 -6.8 0M282.5 149.4a3.4 3.4 0 1 0 6.8 0a3.4 3.4 0 1 0 -6.8 0M364.6 153.2a3.4 3.4 0 1 0 6.8 0a3.4 3.4 0 1 0 -6.8 0M341.5 150.9a3.4 3.4 0 1 0 6.8 0a3.4 3.4 0 1 0 -6.8 0M185.8 149.8a3.4 3.4 0 1 0 6.8 0a3.4 3.4 0 1 0 -6.8 0M122.7 151.5a3.4 3.4 0 1 0 6.8 0a3.4 3.4 0 1 0 -6.8 0M358.6 154a3.4 3.4 0 1 0 6.8 0a3.4 3.4 0 1 0 -6.8 0M306.4 161.4a3.4 3.4 0 1 0 6.8 0a3.4 3.4 0 1 0 -6.8 0M134.9 154.5a3.4 3.4 0 1 0 6.8 0a3.4 3.4 0 1 0 -6.8 0M377.1 152.9a3.4 3.4 0 1 0 6.8 0a3.4 3.4 0 1 0 -6.8 0M304.4 155.7a3.4 3.4 0 1 0 6.8 0a3.4 3.4 0 1 0 -6.8 0M337 157.4a3.4 3.4 0 1 0 6.8 0a3.4 3.4 0 1 0 -6.8 0M341.3 155.5a3.4 3.4 0 1 0 6.8 0a3.4 3.4 0 1 0 -6.8 0M363.7 159.3a3.4 3.4 0 1 0 6.8 0a3.4 3.4 0 1 0 -6.8 0M279.1 155.7a3.4 3.4 0 1 0 6.8 0a3.4 3.4 0 1 0 -6.8 0M214.4 156.9a3.4 3.4 0 1 0 6.8 0a3.4 3.4 0 1 0 -6.8 0M258.5 165.9a3.4 3.4 0 1 0 6.8 0a3.4 3.4 0 1 0 -6.8 0M140.9 156.5a3.4 3.4 0 1 0 6.8 0a3.4 3.4 0 1 0 -6.8 0M155.3 152.2a3.4 3.4 0 1 0 6.8 0a3.4 3.4 0 1 0 -6.8 0M120.2 156.6a3.4 3.4 0 1 0 6.8 0a3.4 3.4 0 1 0 -6.8 0M249.7 154.6a3.4 3.4 0 1 0 6.8 0a3.4 3.4 0 1 0 -6.8 0M381.3 160.7a3.4 3.4 0 1 0 6.8 0a3.4 3.4 0 1 0 -6.8 0M386.2 157.1a3.4 3.4 0 1 0 6.8 0a3.4 3.4 0 1 0 -6.8 0M134.5 154.4a3.4 3.4 0 1 0 6.8 0a3.4 3.4 0 1 0 -6.8 0M359.6 161.8a3.4 3.4 0 1 0 6.8 0a3.4 3.4 0 1 0 -6.8 0M281.6 152.6a3.4 3.4 0 1 0 6.8 0a3.4 3.4 0 1 0 -6.8 0M385 150.7a3.4 3.4 0 1 0 6.8 0a3.4 3.4 0 1 0 -6.8 0M418 154a3.4 3.4 0 1 0 6.8 0a3.4 3.4 0 1 0 -6.8 0M156.3 155.8a3.4 3.4 0 1 0 6.8 0a3.4 3.4 0 1 0 -6.8 0M183.8 154.9a3.4 3.4 0 1 0 6.8 0a3.4 3.4 0 1 0 -6.8 0M369.3 160.5a3.4 3.4 0 1 0 6.8 0a3.4 3.4 0 1 0 -6.8 0M295.6 156.7a3.4 3.4 0 1 0 6.8 0a3.4 3.4 0 1 0 -6.8 0M152 157.6a3.4 3.4 0 1 0 6.8 0a3.4 3.4 0 1 0 -6.8 0M279.8 153.2a3.4 3.4 0 1 0 6.8 0a3.4 3.4 0 1 0 -6.8 0M203.2 157.7a3.4 3.4 0 1 0 6.8 0a3.4 3.4 0 1 0 -6.8 0M178.8 157.7a3.4 3.4 0 1 0 6.8 0a3.4 3.4 0 1 0 -6.8 0M114.2 154.2a3.4 3.4 0 1 0 6.8 0a3.4 3.4 0 1 0 -6.8 0M173.7 155.8a3.4 3.4 0 1 0 6.8 0a3.4 3.4 0 1 0 -6.8 0M364.8 153.6a3.4 3.4 0 1 0 6.8 0a3.4 3.4 0 1 0 -6.8 0M351.5 155.5a3.4 3.4 0 1 0 6.8 0a3.4 3.4 0 1 0 -6.8 0M207.8 150.4a3.4 3.4 0 1 0 6.8 0a3.4 3.4 0 1 0 -6.8 0M174 155.7a3.4 3.4 0 1 0 6.8 0a3.4 3.4 0 1 0 -6.8 0M268.9 156.8a3.4 3.4 0 1 0 6.8 0a3.4 3.4 0 1 0 -6.8 0M155.1 152.5a3.4 3.4 0 1 0 6.8 0a3.4 3.4 0 1 0 -6.8 0M206.3 152.1a3.4 3.4 0 1 0 6.8 0a3.4 3.4 0 1 0 -6.8 0M143.3 154.1a3.4 3.4 0 1 0 6.8 0a3.4 3.4 0 1 0 -6.8 0M366.6 155.9a3.4 3.4 0 1 0 6.8 0a3.4 3.4 0 1 0 -6.8 0M184.3 158.6a3.4 3.4 0 1 0 6.8 0a3.4 3.4 0 1 0 -6.8 0M394 156.3a3.4 3.4 0 1 0 6.8 0a3.4 3.4 0 1 0 -6.8 0M366.9 154.3a3.4 3.4 0 1 0 6.8 0a3.4 3.4 0 1 0 -6.8 0M194.5 161a3.4 3.4 0 1 0 6.8 0a3.4 3.4 0 1 0 -6.8 0M150.7 154.5a3.4 3.4 0 1 0 6.8 0a3.4 3.4 0 1 0 -6.8 0M261.2 148.3a3.4 3.4 0 1 0 6.8 0a3.4 3.4 0 1 0 -6.8 0M274 157.9a3.4 3.4 0 1 0 6.8 0a3.4 3.4 0 1 0 -6.8 0M330.9 155.4a3.4 3.4 0 1 0 6.8 0a3.4 3.4 0 1 0 -6.8 0M284.6 156.3a3.4 3.4 0 1 0 6.8 0a3.4 3.4 0 1 0 -6.8 0M169.5 153.4a3.4 3.4 0 1 0 6.8 0a3.4 3.4 0 1 0 -6.8 0M168.5 149.2a3.4 3.4 0 1 0 6.8 0a3.4 3.4 0 1 0 -6.8 0M227.3 160.7a3.4 3.4 0 1 0 6.8 0a3.4 3.4 0 1 0 -6.8 0M351.4 157.1a3.4 3.4 0 1 0 6.8 0a3.4 3.4 0 1 0 -6.8 0M115 148.8a3.4 3.4 0 1 0 6.8 0a3.4 3.4 0 1 0 -6.8 0M163.8 154.8a3.4 3.4 0 1 0 6.8 0a3.4 3.4 0 1 0 -6.8 0M157.4 153.8a3.4 3.4 0 1 0 6.8 0a3.4 3.4 0 1 0 -6.8 0M238.1 154.8a3.4 3.4 0 1 0 6.8 0a3.4 3.4 0 1 0 -6.8 0M315 156.9a3.4 3.4 0 1 0 6.8 0a3.4 3.4 0 1 0 -6.8 0M219.7 152.8a3.4 3.4 0 1 0 6.8 0a3.4 3.4 0 1 0 -6.8 0M360.2 151a3.4 3.4 0 1 0 6.8 0a3.4 3.4 0 1 0 -6.8 0M264.3 155.1a3.4 3.4 0 1 0 6.8 0a3.4 3.4 0 1 0 -6.8 0M403.8 156.1a3.4 3.4 0 1 0 6.8 0a3.4 3.4 0 1 0 -6.8 0M119.2 155.2a3.4 3.4 0 1 0 6.8 0a3.4 3.4 0 1 0 -6.8 0M166.4 151.2a3.4 3.4 0 1 0 6.8 0a3.4 3.4 0 1 0 -6.8 0M311.6 152.5a3.4 3.4 0 1 0 6.8 0a3.4 3.4 0 1 0 -6.8 0M315.7 157.8a3.4 3.4 0 1 0 6.8 0a3.4 3.4 0 1 0 -6.8 0M190.6 157.7a3.4 3.4 0 1 0 6.8 0a3.4 3.4 0 1 0 -6.8 0M149.8 154.9a3.4 3.4 0 1 0 6.8 0a3.4 3.4 0 1 0 -6.8 0M324.1 153.6a3.4 3.4 0 1 0 6.8 0a3.4 3.4 0 1 0 -6.8 0M378.7 149.5a3.4 3.4 0 1 0 6.8 0a3.4 3.4 0 1 0 -6.8 0M223.8 158a3.4 3.4 0 1 0 6.8 0a3.4 3.4 0 1 0 -6.8 0M207.4 153.2a3.4 3.4 0 1 0 6.8 0a3.4 3.4 0 1 0 -6.8 0M422.3 156.7a3.4 3.4 0 1 0 6.8 0a3.4 3.4 0 1 0 -6.8 0M353 146.7a3.4 3.4 0 1 0 6.8 0a3.4 3.4 0 1 0 -6.8 0M181.9 154.1a3.4 3.4 0 1 0 6.8 0a3.4 3.4 0 1 0 -6.8 0M214.8 158.2a3.4 3.4 0 1 0 6.8 0a3.4 3.4 0 1 0 -6.8 0M116.6 155.2a3.4 3.4 0 1 0 6.8 0a3.4 3.4 0 1 0 -6.8 0M421.5 152.8a3.4 3.4 0 1 0 6.8 0a3.4 3.4 0 1 0 -6.8 0M363.6 150.5a3.4 3.4 0 1 0 6.8 0a3.4 3.4 0 1 0 -6.8 0M186.6 154.4a3.4 3.4 0 1 0 6.8 0a3.4 3.4 0 1 0 -6.8 0M288.3 159.1a3.4 3.4 0 1 0 6.8 0a3.4 3.4 0 1 0 -6.8 0M234.6 154.3a3.4 3.4 0 1 0 6.8 0a3.4 3.4 0 1 0 -6.8 0M145 156.2a3.4 3.4 0 1 0 6.8 0a3.4 3.4 0 1 0 -6.8 0M413 152.8a3.4 3.4 0 1 0 6.8 0a3.4 3.4 0 1 0 -6.8 0M146 154.7a3.4 3.4 0 1 0 6.8 0a3.4 3.4 0 1 0 -6.8 0M226.9 155.1a3.4 3.4 0 1 0 6.8 0a3.4 3.4 0 1 0 -6.8 0M350.8 156.4a3.4 3.4 0 1 0 6.8 0a3.4 3.4 0 1 0 -6.8 0M296.6 154.1a3.4 3.4 0 1 0 6.8 0a3.4 3.4 0 1 0 -6.8 0M285.9 151.4a3.4 3.4 0 1 0 6.8 0a3.4 3.4 0 1 0 -6.8 0M179.9 151.8a3.4 3.4 0 1 0 6.8 0a3.4 3.4 0 1 0 -6.8 0M114 153.8a3.4 3.4 0 1 0 6.8 0a3.4 3.4 0 1 0 -6.8 0M178.8 152.3a3.4 3.4 0 1 0 6.8 0a3.4 3.4 0 1 0 -6.8 0M406.1 155.1a3.4 3.4 0 1 0 6.8 0a3.4 3.4 0 1 0 -6.8 0M129.7 153.1a3.4 3.4 0 1 0 6.8 0a3.4 3.4 0 1 0 -6.8 0M236.4 155.4a3.4 3.4 0 1 0 6.8 0a3.4 3.4 0 1 0 -6.8 0M175 154.9a3.4 3.4 0 1 0 6.8 0a3.4 3.4 0 1 0 -6.8 0M211.4 153.1a3.4 3.4 0 1 0 6.8 0a3.4 3.4 0 1 0 -6.8 0M353.7 149.6a3.4 3.4 0 1 0 6.8 0a3.4 3.4 0 1 0 -6.8 0M327.9 154.4a3.4 3.4 0 1 0 6.8 0a3.4 3.4 0 1 0 -6.8 0M313.2 159.7a3.4 3.4 0 1 0 6.8 0a3.4 3.4 0 1 0 -6.8 0M329.6 159.8a3.4 3.4 0 1 0 6.8 0a3.4 3.4 0 1 0 -6.8 0M385.9 150a3.4 3.4 0 1 0 6.8 0a3.4 3.4 0 1 0 -6.8 0M284.3 157.8a3.4 3.4 0 1 0 6.8 0a3.4 3.4 0 1 0 -6.8 0M241.6 154.1a3.4 3.4 0 1 0 6.8 0a3.4 3.4 0 1 0 -6.8 0M220.6 158.2a3.4 3.4 0 1 0 6.8 0a3.4 3.4 0 1 0 -6.8 0M353.6 153a3.4 3.4 0 1 0 6.8 0a3.4 3.4 0 1 0 -6.8 0M152.1 154.6a3.4 3.4 0 1 0 6.8 0a3.4 3.4 0 1 0 -6.8 0M135.7 151.8a3.4 3.4 0 1 0 6.8 0a3.4 3.4 0 1 0 -6.8 0M384.8 160.7a3.4 3.4 0 1 0 6.8 0a3.4 3.4 0 1 0 -6.8 0M371 159.1a3.4 3.4 0 1 0 6.8 0a3.4 3.4 0 1 0 -6.8 0M373.8 156.3a3.4 3.4 0 1 0 6.8 0a3.4 3.4 0 1 0 -6.8 0M396.1 150a3.4 3.4 0 1 0 6.8 0a3.4 3.4 0 1 0 -6.8 0M212.9 154.5a3.4 3.4 0 1 0 6.8 0a3.4 3.4 0 1 0 -6.8 0M381.7 153.5a3.4 3.4 0 1 0 6.8 0a3.4 3.4 0 1 0 -6.8 0M225.3 154.8a3.4 3.4 0 1 0 6.8 0a3.4 3.4 0 1 0 -6.8 0M362.2 151.5a3.4 3.4 0 1 0 6.8 0a3.4 3.4 0 1 0 -6.8 0M395.5 155.3a3.4 3.4 0 1 0 6.8 0a3.4 3.4 0 1 0 -6.8 0M343.9 151.2a3.4 3.4 0 1 0 6.8 0a3.4 3.4 0 1 0 -6.8 0M257.2 163.3a3.4 3.4 0 1 0 6.8 0a3.4 3.4 0 1 0 -6.8 0M307.9 161.9a3.4 3.4 0 1 0 6.8 0a3.4 3.4 0 1 0 -6.8 0M155.3 153.7a3.4 3.4 0 1 0 6.8 0a3.4 3.4 0 1 0 -6.8 0M255 156.9a3.4 3.4 0 1 0 6.8 0a3.4 3.4 0 1 0 -6.8 0M211.6 159.2a3.4 3.4 0 1 0 6.8 0a3.4 3.4 0 1 0 -6.8 0M122.7 154.5a3.4 3.4 0 1 0 6.8 0a3.4 3.4 0 1 0 -6.8 0M111.7 151.8a3.4 3.4 0 1 0 6.8 0a3.4 3.4 0 1 0 -6.8 0M278.3 156.3a3.4 3.4 0 1 0 6.8 0a3.4 3.4 0 1 0 -6.8 0M186.7 158.7a3.4 3.4 0 1 0 6.8 0a3.4 3.4 0 1 0 -6.8 0M395.8 153.6a3.4 3.4 0 1 0 6.8 0a3.4 3.4 0 1 0 -6.8 0M327.8 155.9a3.4 3.4 0 1 0 6.8 0a3.4 3.4 0 1 0 -6.8 0M159.4 155.6a3.4 3.4 0 1 0 6.8 0a3.4 3.4 0 1 0 -6.8 0M128.4 150.8a3.4 3.4 0 1 0 6.8 0a3.4 3.4 0 1 0 -6.8 0M202.9 153.8a3.4 3.4 0 1 0 6.8 0a3.4 3.4 0 1 0 -6.8 0M139 155.3a3.4 3.4 0 1 0 6.8 0a3.4 3.4 0 1 0 -6.8 0M210.4 154.2a3.4 3.4 0 1 0 6.8 0a3.4 3.4 0 1 0 -6.8 0M277.2 155.7a3.4 3.4 0 1 0 6.8 0a3.4 3.4 0 1 0 -6.8 0M288 162.3a3.4 3.4 0 1 0 6.8 0a3.4 3.4 0 1 0 -6.8 0M200.6 157.1a3.4 3.4 0 1 0 6.8 0a3.4 3.4 0 1 0 -6.8 0M197.5 158.7a3.4 3.4 0 1 0 6.8 0a3.4 3.4 0 1 0 -6.8 0M404.4 154.5a3.4 3.4 0 1 0 6.8 0a3.4 3.4 0 1 0 -6.8 0M173.9 157.7a3.4 3.4 0 1 0 6.8 0a3.4 3.4 0 1 0 -6.8 0M180.2 152.3a3.4 3.4 0 1 0 6.8 0a3.4 3.4 0 1 0 -6.8 0M164 153.2a3.4 3.4 0 1 0 6.8 0a3.4 3.4 0 1 0 -6.8 0M263.3 159.1a3.4 3.4 0 1 0 6.8 0a3.4 3.4 0 1 0 -6.8 0M129.3 155.1a3.4 3.4 0 1 0 6.8 0a3.4 3.4 0 1 0 -6.8 0M165.3 151.9a3.4 3.4 0 1 0 6.8 0a3.4 3.4 0 1 0 -6.8 0M120.6 153.2a3.4 3.4 0 1 0 6.8 0a3.4 3.4 0 1 0 -6.8 0M137.1 155.3a3.4 3.4 0 1 0 6.8 0a3.4 3.4 0 1 0 -6.8 0M147.1 156.4a3.4 3.4 0 1 0 6.8 0a3.4 3.4 0 1 0 -6.8 0M211.5 149.9a3.4 3.4 0 1 0 6.8 0a3.4 3.4 0 1 0 -6.8 0M384.7 158.7a3.4 3.4 0 1 0 6.8 0a3.4 3.4 0 1 0 -6.8 0M240.1 153.8a3.4 3.4 0 1 0 6.8 0a3.4 3.4 0 1 0 -6.8 0M185.2 152.3a3.4 3.4 0 1 0 6.8 0a3.4 3.4 0 1 0 -6.8 0M284.5 153.3a3.4 3.4 0 1 0 6.8 0a3.4 3.4 0 1 0 -6.8 0M145.7 152a3.4 3.4 0 1 0 6.8 0a3.4 3.4 0 1 0 -6.8 0M220.7 154.3a3.4 3.4 0 1 0 6.8 0a3.4 3.4 0 1 0 -6.8 0M199.5 156.8a3.4 3.4 0 1 0 6.8 0a3.4 3.4 0 1 0 -6.8 0M202.4 156.1a3.4 3.4 0 1 0 6.8 0a3.4 3.4 0 1 0 -6.8 0M271.3 152.2a3.4 3.4 0 1 0 6.8 0a3.4 3.4 0 1 0 -6.8 0M199.6 155a3.4 3.4 0 1 0 6.8 0a3.4 3.4 0 1 0 -6.8 0M315.6 149.1a3.4 3.4 0 1 0 6.8 0a3.4 3.4 0 1 0 -6.8 0M363.1 159.1a3.4 3.4 0 1 0 6.8 0a3.4 3.4 0 1 0 -6.8 0M189.7 152.9a3.4 3.4 0 1 0 6.8 0a3.4 3.4 0 1 0 -6.8 0M228.6 150.6a3.4 3.4 0 1 0 6.8 0a3.4 3.4 0 1 0 -6.8 0M181.6 152.2a3.4 3.4 0 1 0 6.8 0a3.4 3.4 0 1 0 -6.8 0M143.6 156.9a3.4 3.4 0 1 0 6.8 0a3.4 3.4 0 1 0 -6.8 0M314.4 156.9a3.4 3.4 0 1 0 6.8 0a3.4 3.4 0 1 0 -6.8 0M197.3 155.5a3.4 3.4 0 1 0 6.8 0a3.4 3.4 0 1 0 -6.8 0M199.5 157.7a3.4 3.4 0 1 0 6.8 0a3.4 3.4 0 1 0 -6.8 0M315.6 160.7a3.4 3.4 0 1 0 6.8 0a3.4 3.4 0 1 0 -6.8 0M306.3 161.3a3.4 3.4 0 1 0 6.8 0a3.4 3.4 0 1 0 -6.8 0M192.5 155a3.4 3.4 0 1 0 6.8 0a3.4 3.4 0 1 0 -6.8 0M284.3 155.1a3.4 3.4 0 1 0 6.8 0a3.4 3.4 0 1 0 -6.8 0M170.7 156.6a3.4 3.4 0 1 0 6.8 0a3.4 3.4 0 1 0 -6.8 0M135.2 150.6a3.4 3.4 0 1 0 6.8 0a3.4 3.4 0 1 0 -6.8 0M191 158.4a3.4 3.4 0 1 0 6.8 0a3.4 3.4 0 1 0 -6.8 0M410.2 153.9a3.4 3.4 0 1 0 6.8 0a3.4 3.4 0 1 0 -6.8 0M290.2 150a3.4 3.4 0 1 0 6.8 0a3.4 3.4 0 1 0 -6.8 0M310.3 147.4a3.4 3.4 0 1 0 6.8 0a3.4 3.4 0 1 0 -6.8 0M328.5 154.4a3.4 3.4 0 1 0 6.8 0a3.4 3.4 0 1 0 -6.8 0M341 146.7a3.4 3.4 0 1 0 6.8 0a3.4 3.4 0 1 0 -6.8 0M266.2 152.5a3.4 3.4 0 1 0 6.8 0a3.4 3.4 0 1 0 -6.8 0M212.9 155.9a3.4 3.4 0 1 0 6.8 0a3.4 3.4 0 1 0 -6.8 0M312.8 157.7a3.4 3.4 0 1 0 6.8 0a3.4 3.4 0 1 0 -6.8 0M179.7 147.7a3.4 3.4 0 1 0 6.8 0a3.4 3.4 0 1 0 -6.8 0M196.2 157.6a3.4 3.4 0 1 0 6.8 0a3.4 3.4 0 1 0 -6.8 0M271.7 156.7a3.4 3.4 0 1 0 6.8 0a3.4 3.4 0 1 0 -6.8 0M159 151a3.4 3.4 0 1 0 6.8 0a3.4 3.4 0 1 0 -6.8 0M242.5 155.8a3.4 3.4 0 1 0 6.8 0a3.4 3.4 0 1 0 -6.8 0M213.7 153.6a3.4 3.4 0 1 0 6.8 0a3.4 3.4 0 1 0 -6.8 0M190.9 153.9a3.4 3.4 0 1 0 6.8 0a3.4 3.4 0 1 0 -6.8 0M203.4 151.6a3.4 3.4 0 1 0 6.8 0a3.4 3.4 0 1 0 -6.8 0M158.7 162.1a3.4 3.4 0 1 0 6.8 0a3.4 3.4 0 1 0 -6.8 0M134.6 154.5a3.4 3.4 0 1 0 6.8 0a3.4 3.4 0 1 0 -6.8 0M414.6 153.1a3.4 3.4 0 1 0 6.8 0a3.4 3.4 0 1 0 -6.8 0M265.9 155.2a3.4 3.4 0 1 0 6.8 0a3.4 3.4 0 1 0 -6.8 0M294.9 159.4a3.4 3.4 0 1 0 6.8 0a3.4 3.4 0 1 0 -6.8 0M181 153.1a3.4 3.4 0 1 0 6.8 0a3.4 3.4 0 1 0 -6.8 0M332.1 154.4a3.4 3.4 0 1 0 6.8 0a3.4 3.4 0 1 0 -6.8 0M352.5 157a3.4 3.4 0 1 0 6.8 0a3.4 3.4 0 1 0 -6.8 0M335 154.9a3.4 3.4 0 1 0 6.8 0a3.4 3.4 0 1 0 -6.8 0M346.6 152.1a3.4 3.4 0 1 0 6.8 0a3.4 3.4 0 1 0 -6.8 0M268.2 156.2a3.4 3.4 0 1 0 6.8 0a3.4 3.4 0 1 0 -6.8 0M272.7 152.9a3.4 3.4 0 1 0 6.8 0a3.4 3.4 0 1 0 -6.8 0M312.4 158.6a3.4 3.4 0 1 0 6.8 0a3.4 3.4 0 1 0 -6.8 0M155.6 153a3.4 3.4 0 1 0 6.8 0a3.4 3.4 0 1 0 -6.8 0M133.5 155.5a3.4 3.4 0 1 0 6.8 0a3.4 3.4 0 1 0 -6.8 0M399.5 156.7a3.4 3.4 0 1 0 6.8 0a3.4 3.4 0 1 0 -6.8 0M165.2 159a3.4 3.4 0 1 0 6.8 0a3.4 3.4 0 1 0 -6.8 0M335.7 155.1a3.4 3.4 0 1 0 6.8 0a3.4 3.4 0 1 0 -6.8 0M299.8 152.4a3.4 3.4 0 1 0 6.8 0a3.4 3.4 0 1 0 -6.8 0M301.1 156.4a3.4 3.4 0 1 0 6.8 0a3.4 3.4 0 1 0 -6.8 0M157.6 150.9a3.4 3.4 0 1 0 6.8 0a3.4 3.4 0 1 0 -6.8 0M166.5 155.2a3.4 3.4 0 1 0 6.8 0a3.4 3.4 0 1 0 -6.8 0M242.3 160.6a3.4 3.4 0 1 0 6.8 0a3.4 3.4 0 1 0 -6.8 0M427.4 153a3.4 3.4 0 1 0 6.8 0a3.4 3.4 0 1 0 -6.8 0M127.8 152.3a3.4 3.4 0 1 0 6.8 0a3.4 3.4 0 1 0 -6.8 0M383.1 153.2a3.4 3.4 0 1 0 6.8 0a3.4 3.4 0 1 0 -6.8 0M196.2 155.6a3.4 3.4 0 1 0 6.8 0a3.4 3.4 0 1 0 -6.8 0M304.7 154.5a3.4 3.4 0 1 0 6.8 0a3.4 3.4 0 1 0 -6.8 0M299.5 152a3.4 3.4 0 1 0 6.8 0a3.4 3.4 0 1 0 -6.8 0M272.1 153.3a3.4 3.4 0 1 0 6.8 0a3.4 3.4 0 1 0 -6.8 0M162.2 152.8a3.4 3.4 0 1 0 6.8 0a3.4 3.4 0 1 0 -6.8 0M183.1 154.5a3.4 3.4 0 1 0 6.8 0a3.4 3.4 0 1 0 -6.8 0M182.5 152.8a3.4 3.4 0 1 0 6.8 0a3.4 3.4 0 1 0 -6.8 0M142.9 153.4a3.4 3.4 0 1 0 6.8 0a3.4 3.4 0 1 0 -6.8 0M133.5 156.5a3.4 3.4 0 1 0 6.8 0a3.4 3.4 0 1 0 -6.8 0M268.1 156.6a3.4 3.4 0 1 0 6.8 0a3.4 3.4 0 1 0 -6.8 0M143.4 153.8a3.4 3.4 0 1 0 6.8 0a3.4 3.4 0 1 0 -6.8 0M222.7 153.5a3.4 3.4 0 1 0 6.8 0a3.4 3.4 0 1 0 -6.8 0M414.6 157a3.4 3.4 0 1 0 6.8 0a3.4 3.4 0 1 0 -6.8 0M178.4 159.3a3.4 3.4 0 1 0 6.8 0a3.4 3.4 0 1 0 -6.8 0M280.6 153.4a3.4 3.4 0 1 0 6.8 0a3.4 3.4 0 1 0 -6.8 0M364.7 159.9a3.4 3.4 0 1 0 6.8 0a3.4 3.4 0 1 0 -6.8 0M271.6 156.4a3.4 3.4 0 1 0 6.8 0a3.4 3.4 0 1 0 -6.8 0M208.2 153.5a3.4 3.4 0 1 0 6.8 0a3.4 3.4 0 1 0 -6.8 0M346.7 151.2a3.4 3.4 0 1 0 6.8 0a3.4 3.4 0 1 0 -6.8 0M419.7 157.1a3.4 3.4 0 1 0 6.8 0a3.4 3.4 0 1 0 -6.8 0M139.1 154.4a3.4 3.4 0 1 0 6.8 0a3.4 3.4 0 1 0 -6.8 0M303.7 153.5a3.4 3.4 0 1 0 6.8 0a3.4 3.4 0 1 0 -6.8 0M238.4 153.6a3.4 3.4 0 1 0 6.8 0a3.4 3.4 0 1 0 -6.8 0M142.2 153.4a3.4 3.4 0 1 0 6.8 0a3.4 3.4 0 1 0 -6.8 0M269.1 153.8a3.4 3.4 0 1 0 6.8 0a3.4 3.4 0 1 0 -6.8 0M361 152a3.4 3.4 0 1 0 6.8 0a3.4 3.4 0 1 0 -6.8 0M341.7 158a3.4 3.4 0 1 0 6.8 0a3.4 3.4 0 1 0 -6.8 0M254.1 155.3a3.4 3.4 0 1 0 6.8 0a3.4 3.4 0 1 0 -6.8 0M120.7 155.6a3.4 3.4 0 1 0 6.8 0a3.4 3.4 0 1 0 -6.8 0M246.7 150.5a3.4 3.4 0 1 0 6.8 0a3.4 3.4 0 1 0 -6.8 0M223.1 154a3.4 3.4 0 1 0 6.8 0a3.4 3.4 0 1 0 -6.8 0M172.5 154.2a3.4 3.4 0 1 0 6.8 0a3.4 3.4 0 1 0 -6.8 0M123.1 152.1a3.4 3.4 0 1 0 6.8 0a3.4 3.4 0 1 0 -6.8 0M221.5 157.8a3.4 3.4 0 1 0 6.8 0a3.4 3.4 0 1 0 -6.8 0M276.2 158.6a3.4 3.4 0 1 0 6.8 0a3.4 3.4 0 1 0 -6.8 0M398.1 155.3a3.4 3.4 0 1 0 6.8 0a3.4 3.4 0 1 0 -6.8 0M188.6 152.4a3.4 3.4 0 1 0 6.8 0a3.4 3.4 0 1 0 -6.8 0M261.7 155a3.4 3.4 0 1 0 6.8 0a3.4 3.4 0 1 0 -6.8 0M397.7 155.5a3.4 3.4 0 1 0 6.8 0a3.4 3.4 0 1 0 -6.8 0M291.7 148.4a3.4 3.4 0 1 0 6.8 0a3.4 3.4 0 1 0 -6.8 0M191.1 160.4a3.4 3.4 0 1 0 6.8 0a3.4 3.4 0 1 0 -6.8 0M197.5 149.4a3.4 3.4 0 1 0 6.8 0a3.4 3.4 0 1 0 -6.8 0M256.1 152.5a3.4 3.4 0 1 0 6.8 0a3.4 3.4 0 1 0 -6.8 0M127.9 156.7a3.4 3.4 0 1 0 6.8 0a3.4 3.4 0 1 0 -6.8 0M393.3 153.3a3.4 3.4 0 1 0 6.8 0a3.4 3.4 0 1 0 -6.8 0M210.5 156.8a3.4 3.4 0 1 0 6.8 0a3.4 3.4 0 1 0 -6.8 0M359.7 151a3.4 3.4 0 1 0 6.8 0a3.4 3.4 0 1 0 -6.8 0M158.9 155.1a3.4 3.4 0 1 0 6.8 0a3.4 3.4 0 1 0 -6.8 0M198.8 147.6a3.4 3.4 0 1 0 6.8 0a3.4 3.4 0 1 0 -6.8 0M374.1 152.5a3.4 3.4 0 1 0 6.8 0a3.4 3.4 0 1 0 -6.8 0M161.7 156.4a3.4 3.4 0 1 0 6.8 0a3.4 3.4 0 1 0 -6.8 0M233.1 154.8a3.4 3.4 0 1 0 6.8 0a3.4 3.4 0 1 0 -6.8 0M249.2 154.6a3.4 3.4 0 1 0 6.8 0a3.4 3.4 0 1 0 -6.8 0M157.7 156a3.4 3.4 0 1 0 6.8 0a3.4 3.4 0 1 0 -6.8 0M173 156.4a3.4 3.4 0 1 0 6.8 0a3.4 3.4 0 1 0 -6.8 0M296 159.3a3.4 3.4 0 1 0 6.8 0a3.4 3.4 0 1 0 -6.8 0M386.1 160.3a3.4 3.4 0 1 0 6.8 0a3.4 3.4 0 1 0 -6.8 0M208.2 157.9a3.4 3.4 0 1 0 6.8 0a3.4 3.4 0 1 0 -6.8 0M264.2 150.2a3.4 3.4 0 1 0 6.8 0a3.4 3.4 0 1 0 -6.8 0M204.1 149.2a3.4 3.4 0 1 0 6.8 0a3.4 3.4 0 1 0 -6.8 0M226.5 154.4a3.4 3.4 0 1 0 6.8 0a3.4 3.4 0 1 0 -6.8 0M123.6 154.8a3.4 3.4 0 1 0 6.8 0a3.4 3.4 0 1 0 -6.8 0M252 154.8a3.4 3.4 0 1 0 6.8 0a3.4 3.4 0 1 0 -6.8 0M375.2 158.7a3.4 3.4 0 1 0 6.8 0a3.4 3.4 0 1 0 -6.8 0M398.4 154.7a3.4 3.4 0 1 0 6.8 0a3.4 3.4 0 1 0 -6.8 0M155.3 151.7a3.4 3.4 0 1 0 6.8 0a3.4 3.4 0 1 0 -6.8 0M136.3 151.1a3.4 3.4 0 1 0 6.8 0a3.4 3.4 0 1 0 -6.8 0M269.3 156.9a3.4 3.4 0 1 0 6.8 0a3.4 3.4 0 1 0 -6.8 0M205.2 154.7a3.4 3.4 0 1 0 6.8 0a3.4 3.4 0 1 0 -6.8 0M332.5 160.2a3.4 3.4 0 1 0 6.8 0a3.4 3.4 0 1 0 -6.8 0M390.1 154.3a3.4 3.4 0 1 0 6.8 0a3.4 3.4 0 1 0 -6.8 0M400.8 157.2a3.4 3.4 0 1 0 6.8 0a3.4 3.4 0 1 0 -6.8 0M298 148.5a3.4 3.4 0 1 0 6.8 0a3.4 3.4 0 1 0 -6.8 0M327 162.6a3.4 3.4 0 1 0 6.8 0a3.4 3.4 0 1 0 -6.8 0M149 150.7a3.4 3.4 0 1 0 6.8 0a3.4 3.4 0 1 0 -6.8 0M379.4 155a3.4 3.4 0 1 0 6.8 0a3.4 3.4 0 1 0 -6.8 0M161.3 155.4a3.4 3.4 0 1 0 6.8 0a3.4 3.4 0 1 0 -6.8 0M333.1 154.1a3.4 3.4 0 1 0 6.8 0a3.4 3.4 0 1 0 -6.8 0M412.6 153.2a3.4 3.4 0 1 0 6.8 0a3.4 3.4 0 1 0 -6.8 0M203.2 159.9a3.4 3.4 0 1 0 6.8 0a3.4 3.4 0 1 0 -6.8 0M320.3 153a3.4 3.4 0 1 0 6.8 0a3.4 3.4 0 1 0 -6.8 0M127.8 151.9a3.4 3.4 0 1 0 6.8 0a3.4 3.4 0 1 0 -6.8 0M373.5 153.4a3.4 3.4 0 1 0 6.8 0a3.4 3.4 0 1 0 -6.8 0M185.6 153.3a3.4 3.4 0 1 0 6.8 0a3.4 3.4 0 1 0 -6.8 0M168.7 153.3a3.4 3.4 0 1 0 6.8 0a3.4 3.4 0 1 0 -6.8 0M403.5 153.8a3.4 3.4 0 1 0 6.8 0a3.4 3.4 0 1 0 -6.8 0M357.4 154.4a3.4 3.4 0 1 0 6.8 0a3.4 3.4 0 1 0 -6.8 0M191.4 160.5a3.4 3.4 0 1 0 6.8 0a3.4 3.4 0 1 0 -6.8 0M365.4 153.2a3.4 3.4 0 1 0 6.8 0a3.4 3.4 0 1 0 -6.8 0M276.3 150.9a3.4 3.4 0 1 0 6.8 0a3.4 3.4 0 1 0 -6.8 0M363.3 156.2a3.4 3.4 0 1 0 6.8 0a3.4 3.4 0 1 0 -6.8 0M357.7 148.5a3.4 3.4 0 1 0 6.8 0a3.4 3.4 0 1 0 -6.8 0M117.6 154.4a3.4 3.4 0 1 0 6.8 0a3.4 3.4 0 1 0 -6.8 0M153.7 153.9a3.4 3.4 0 1 0 6.8 0a3.4 3.4 0 1 0 -6.8 0M158.9 156a3.4 3.4 0 1 0 6.8 0a3.4 3.4 0 1 0 -6.8 0M315.5 156.6a3.4 3.4 0 1 0 6.8 0a3.4 3.4 0 1 0 -6.8 0M397.7 155.7a3.4 3.4 0 1 0 6.8 0a3.4 3.4 0 1 0 -6.8 0M255 150.1a3.4 3.4 0 1 0 6.8 0a3.4 3.4 0 1 0 -6.8 0M140.6 156.3a3.4 3.4 0 1 0 6.8 0a3.4 3.4 0 1 0 -6.8 0M145.1 153.9a3.4 3.4 0 1 0 6.8 0a3.4 3.4 0 1 0 -6.8 0M233.1 154.3a3.4 3.4 0 1 0 6.8 0a3.4 3.4 0 1 0 -6.8 0M253.8 153.3a3.4 3.4 0 1 0 6.8 0a3.4 3.4 0 1 0 -6.8 0M252.5 153.7a3.4 3.4 0 1 0 6.8 0a3.4 3.4 0 1 0 -6.8 0M424.9 156a3.4 3.4 0 1 0 6.8 0a3.4 3.4 0 1 0 -6.8 0M161.3 154.7a3.4 3.4 0 1 0 6.8 0a3.4 3.4 0 1 0 -6.8 0M227.3 155.4a3.4 3.4 0 1 0 6.8 0a3.4 3.4 0 1 0 -6.8 0M113.6 152.1a3.4 3.4 0 1 0 6.8 0a3.4 3.4 0 1 0 -6.8 0M308 151.6a3.4 3.4 0 1 0 6.8 0a3.4 3.4 0 1 0 -6.8 0M315.9 153.6a3.4 3.4 0 1 0 6.8 0a3.4 3.4 0 1 0 -6.8 0M409 156.7a3.4 3.4 0 1 0 6.8 0a3.4 3.4 0 1 0 -6.8 0M151.5 157.6a3.4 3.4 0 1 0 6.8 0a3.4 3.4 0 1 0 -6.8 0M183.4 155.1a3.4 3.4 0 1 0 6.8 0a3.4 3.4 0 1 0 -6.8 0M179.5 159.7a3.4 3.4 0 1 0 6.8 0a3.4 3.4 0 1 0 -6.8 0M370.4 159.2a3.4 3.4 0 1 0 6.8 0a3.4 3.4 0 1 0 -6.8 0M203.4 152.3a3.4 3.4 0 1 0 6.8 0a3.4 3.4 0 1 0 -6.8 0M396.6 154.5a3.4 3.4 0 1 0 6.8 0a3.4 3.4 0 1 0 -6.8 0M256.5 157.4a3.4 3.4 0 1 0 6.8 0a3.4 3.4 0 1 0 -6.8 0M323.2 154.9a3.4 3.4 0 1 0 6.8 0a3.4 3.4 0 1 0 -6.8 0M223.1 151.2a3.4 3.4 0 1 0 6.8 0a3.4 3.4 0 1 0 -6.8 0M290.5 151.8a3.4 3.4 0 1 0 6.8 0a3.4 3.4 0 1 0 -6.8 0M285.8 158.1a3.4 3.4 0 1 0 6.8 0a3.4 3.4 0 1 0 -6.8 0M259.9 153a3.4 3.4 0 1 0 6.8 0a3.4 3.4 0 1 0 -6.8 0M151.2 150.9a3.4 3.4 0 1 0 6.8 0a3.4 3.4 0 1 0 -6.8 0M343.2 154.3a3.4 3.4 0 1 0 6.8 0a3.4 3.4 0 1 0 -6.8 0M345.7 151.1a3.4 3.4 0 1 0 6.8 0a3.4 3.4 0 1 0 -6.8 0M358.8 150.2a3.4 3.4 0 1 0 6.8 0a3.4 3.4 0 1 0 -6.8 0M348.6 156.4a3.4 3.4 0 1 0 6.8 0a3.4 3.4 0 1 0 -6.8 0M140 155a3.4 3.4 0 1 0 6.8 0a3.4 3.4 0 1 0 -6.8 0M259.7 157.8a3.4 3.4 0 1 0 6.8 0a3.4 3.4 0 1 0 -6.8 0M418.8 155.9a3.4 3.4 0 1 0 6.8 0a3.4 3.4 0 1 0 -6.8 0M338.9 157.9a3.4 3.4 0 1 0 6.8 0a3.4 3.4 0 1 0 -6.8 0M259.5 159a3.4 3.4 0 1 0 6.8 0a3.4 3.4 0 1 0 -6.8 0M207.9 157.2a3.4 3.4 0 1 0 6.8 0a3.4 3.4 0 1 0 -6.8 0M127.1 154.2a3.4 3.4 0 1 0 6.8 0a3.4 3.4 0 1 0 -6.8 0M189.1 155.3a3.4 3.4 0 1 0 6.8 0a3.4 3.4 0 1 0 -6.8 0M292.5 161.2a3.4 3.4 0 1 0 6.8 0a3.4 3.4 0 1 0 -6.8 0M231.6 152.7a3.4 3.4 0 1 0 6.8 0a3.4 3.4 0 1 0 -6.8 0M237.2 152.9a3.4 3.4 0 1 0 6.8 0a3.4 3.4 0 1 0 -6.8 0M195 151.4a3.4 3.4 0 1 0 6.8 0a3.4 3.4 0 1 0 -6.8 0M220.8 150.2a3.4 3.4 0 1 0 6.8 0a3.4 3.4 0 1 0 -6.8 0M165.4 153.4a3.4 3.4 0 1 0 6.8 0a3.4 3.4 0 1 0 -6.8 0M204.8 151.9a3.4 3.4 0 1 0 6.8 0a3.4 3.4 0 1 0 -6.8 0M219.1 147.9a3.4 3.4 0 1 0 6.8 0a3.4 3.4 0 1 0 -6.8 0M117.9 154.1a3.4 3.4 0 1 0 6.8 0a3.4 3.4 0 1 0 -6.8 0M242.8 151.8a3.4 3.4 0 1 0 6.8 0a3.4 3.4 0 1 0 -6.8 0M236.4 156.9a3.4 3.4 0 1 0 6.8 0a3.4 3.4 0 1 0 -6.8 0M346.5 154.8a3.4 3.4 0 1 0 6.8 0a3.4 3.4 0 1 0 -6.8 0M305 151.7a3.4 3.4 0 1 0 6.8 0a3.4 3.4 0 1 0 -6.8 0M330.8 155.2a3.4 3.4 0 1 0 6.8 0a3.4 3.4 0 1 0 -6.8 0M139.7 155a3.4 3.4 0 1 0 6.8 0a3.4 3.4 0 1 0 -6.8 0M272 152.8a3.4 3.4 0 1 0 6.8 0a3.4 3.4 0 1 0 -6.8 0M126.3 150.3a3.4 3.4 0 1 0 6.8 0a3.4 3.4 0 1 0 -6.8 0M277.6 157.7a3.4 3.4 0 1 0 6.8 0a3.4 3.4 0 1 0 -6.8 0M206.2 148.9a3.4 3.4 0 1 0 6.8 0a3.4 3.4 0 1 0 -6.8 0M393.4 154.8a3.4 3.4 0 1 0 6.8 0a3.4 3.4 0 1 0 -6.8 0M356.2 157.9a3.4 3.4 0 1 0 6.8 0a3.4 3.4 0 1 0 -6.8 0M230.8 152.8a3.4 3.4 0 1 0 6.8 0a3.4 3.4 0 1 0 -6.8 0M355.6 161.2a3.4 3.4 0 1 0 6.8 0a3.4 3.4 0 1 0 -6.8 0M125.5 152a3.4 3.4 0 1 0 6.8 0a3.4 3.4 0 1 0 -6.8 0M277.6 157.6a3.4 3.4 0 1 0 6.8 0a3.4 3.4 0 1 0 -6.8 0M167.9 154a3.4 3.4 0 1 0 6.8 0a3.4 3.4 0 1 0 -6.8 0M263.1 154.6a3.4 3.4 0 1 0 6.8 0a3.4 3.4 0 1 0 -6.8 0M203.1 155.8a3.4 3.4 0 1 0 6.8 0a3.4 3.4 0 1 0 -6.8 0M340.1 152.4a3.4 3.4 0 1 0 6.8 0a3.4 3.4 0 1 0 -6.8 0M378 155.8a3.4 3.4 0 1 0 6.8 0a3.4 3.4 0 1 0 -6.8 0M293.4 154.2a3.4 3.4 0 1 0 6.8 0a3.4 3.4 0 1 0 -6.8 0M131.2 156.5a3.4 3.4 0 1 0 6.8 0a3.4 3.4 0 1 0 -6.8 0M339.6 161.8a3.4 3.4 0 1 0 6.8 0a3.4 3.4 0 1 0 -6.8 0M303.6 156.5a3.4 3.4 0 1 0 6.8 0a3.4 3.4 0 1 0 -6.8 0M373.1 161.1a3.4 3.4 0 1 0 6.8 0a3.4 3.4 0 1 0 -6.8 0M137.8 156.6a3.4 3.4 0 1 0 6.8 0a3.4 3.4 0 1 0 -6.8 0M184.3 154a3.4 3.4 0 1 0 6.8 0a3.4 3.4 0 1 0 -6.8 0M154.9 153.7a3.4 3.4 0 1 0 6.8 0a3.4 3.4 0 1 0 -6.8 0M194.6 154.1a3.4 3.4 0 1 0 6.8 0a3.4 3.4 0 1 0 -6.8 0M201.8 159.1a3.4 3.4 0 1 0 6.8 0a3.4 3.4 0 1 0 -6.8 0M351.2 161a3.4 3.4 0 1 0 6.8 0a3.4 3.4 0 1 0 -6.8 0M390.9 158.2a3.4 3.4 0 1 0 6.8 0a3.4 3.4 0 1 0 -6.8 0M174.5 155.7a3.4 3.4 0 1 0 6.8 0a3.4 3.4 0 1 0 -6.8 0M243.4 150.5a3.4 3.4 0 1 0 6.8 0a3.4 3.4 0 1 0 -6.8 0M347.5 157.1a3.4 3.4 0 1 0 6.8 0a3.4 3.4 0 1 0 -6.8 0M395.5 152.3a3.4 3.4 0 1 0 6.8 0a3.4 3.4 0 1 0 -6.8 0M325.2 154.5a3.4 3.4 0 1 0 6.8 0a3.4 3.4 0 1 0 -6.8 0M137.2 156.3a3.4 3.4 0 1 0 6.8 0a3.4 3.4 0 1 0 -6.8 0M135.9 151.4a3.4 3.4 0 1 0 6.8 0a3.4 3.4 0 1 0 -6.8 0M366 156.1a3.4 3.4 0 1 0 6.8 0a3.4 3.4 0 1 0 -6.8 0M281.9 162.4a3.4 3.4 0 1 0 6.8 0a3.4 3.4 0 1 0 -6.8 0M380.7 157.8a3.4 3.4 0 1 0 6.8 0a3.4 3.4 0 1 0 -6.8 0M181.4 155.9a3.4 3.4 0 1 0 6.8 0a3.4 3.4 0 1 0 -6.8 0M335.9 158.8a3.4 3.4 0 1 0 6.8 0a3.4 3.4 0 1 0 -6.8 0M268.3 156.8a3.4 3.4 0 1 0 6.8 0a3.4 3.4 0 1 0 -6.8 0M242.6 153.5a3.4 3.4 0 1 0 6.8 0a3.4 3.4 0 1 0 -6.8 0M148.3 153.9a3.4 3.4 0 1 0 6.8 0a3.4 3.4 0 1 0 -6.8 0M217.8 156a3.4 3.4 0 1 0 6.8 0a3.4 3.4 0 1 0 -6.8 0M407.2 155.9a3.4 3.4 0 1 0 6.8 0a3.4 3.4 0 1 0 -6.8 0M248 160.6a3.4 3.4 0 1 0 6.8 0a3.4 3.4 0 1 0 -6.8 0M252.5 158.8a3.4 3.4 0 1 0 6.8 0a3.4 3.4 0 1 0 -6.8 0M244.4 151.2a3.4 3.4 0 1 0 6.8 0a3.4 3.4 0 1 0 -6.8 0M167.1 154.1a3.4 3.4 0 1 0 6.8 0a3.4 3.4 0 1 0 -6.8 0M147 156.1a3.4 3.4 0 1 0 6.8 0a3.4 3.4 0 1 0 -6.8 0M114.9 151.8a3.4 3.4 0 1 0 6.8 0a3.4 3.4 0 1 0 -6.8 0M336.8 154.1a3.4 3.4 0 1 0 6.8 0a3.4 3.4 0 1 0 -6.8 0M154.5 152.3a3.4 3.4 0 1 0 6.8 0a3.4 3.4 0 1 0 -6.8 0M223.1 153.2a3.4 3.4 0 1 0 6.8 0a3.4 3.4 0 1 0 -6.8 0M276.1 161.7a3.4 3.4 0 1 0 6.8 0a3.4 3.4 0 1 0 -6.8 0M334.8 157.3a3.4 3.4 0 1 0 6.8 0a3.4 3.4 0 1 0 -6.8 0M391.7 155.9a3.4 3.4 0 1 0 6.8 0a3.4 3.4 0 1 0 -6.8 0M308.5 151.7a3.4 3.4 0 1 0 6.8 0a3.4 3.4 0 1 0 -6.8 0M374 160a3.4 3.4 0 1 0 6.8 0a3.4 3.4 0 1 0 -6.8 0M409.8 156.1a3.4 3.4 0 1 0 6.8 0a3.4 3.4 0 1 0 -6.8 0M304.7 156.3a3.4 3.4 0 1 0 6.8 0a3.4 3.4 0 1 0 -6.8 0M150.7 154.4a3.4 3.4 0 1 0 6.8 0a3.4 3.4 0 1 0 -6.8 0M428.5 156.6a3.4 3.4 0 1 0 6.8 0a3.4 3.4 0 1 0 -6.8 0M252.8 159.6a3.4 3.4 0 1 0 6.8 0a3.4 3.4 0 1 0 -6.8 0M167.5 152a3.4 3.4 0 1 0 6.8 0a3.4 3.4 0 1 0 -6.8 0M335.6 154.4a3.4 3.4 0 1 0 6.8 0a3.4 3.4 0 1 0 -6.8 0M386.8 152a3.4 3.4 0 1 0 6.8 0a3.4 3.4 0 1 0 -6.8 0M149.2 159.2a3.4 3.4 0 1 0 6.8 0a3.4 3.4 0 1 0 -6.8 0M348.7 152.2a3.4 3.4 0 1 0 6.8 0a3.4 3.4 0 1 0 -6.8 0M235.1 156.4a3.4 3.4 0 1 0 6.8 0a3.4 3.4 0 1 0 -6.8 0M385.4 148.5a3.4 3.4 0 1 0 6.8 0a3.4 3.4 0 1 0 -6.8 0M400.3 155.3a3.4 3.4 0 1 0 6.8 0a3.4 3.4 0 1 0 -6.8 0M177 152.6a3.4 3.4 0 1 0 6.8 0a3.4 3.4 0 1 0 -6.8 0M178.3 159.2a3.4 3.4 0 1 0 6.8 0a3.4 3.4 0 1 0 -6.8 0M222.7 152.3a3.4 3.4 0 1 0 6.8 0a3.4 3.4 0 1 0 -6.8 0M305.9 156.5a3.4 3.4 0 1 0 6.8 0a3.4 3.4 0 1 0 -6.8 0M297.2 152a3.4 3.4 0 1 0 6.8 0a3.4 3.4 0 1 0 -6.8 0M280.7 155.1a3.4 3.4 0 1 0 6.8 0a3.4 3.4 0 1 0 -6.8 0M115.3 153.8a3.4 3.4 0 1 0 6.8 0a3.4 3.4 0 1 0 -6.8 0M230.3 152.1a3.4 3.4 0 1 0 6.8 0a3.4 3.4 0 1 0 -6.8 0M211.8 155.8a3.4 3.4 0 1 0 6.8 0a3.4 3.4 0 1 0 -6.8 0M194.1 154.3a3.4 3.4 0 1 0 6.8 0a3.4 3.4 0 1 0 -6.8 0M299.6 160.1a3.4 3.4 0 1 0 6.8 0a3.4 3.4 0 1 0 -6.8 0M305.9 155.9a3.4 3.4 0 1 0 6.8 0a3.4 3.4 0 1 0 -6.8 0M384.5 153.1a3.4 3.4 0 1 0 6.8 0a3.4 3.4 0 1 0 -6.8 0M365.1 157.6a3.4 3.4 0 1 0 6.8 0a3.4 3.4 0 1 0 -6.8 0M384 153a3.4 3.4 0 1 0 6.8 0a3.4 3.4 0 1 0 -6.8 0M402.7 156.2a3.4 3.4 0 1 0 6.8 0a3.4 3.4 0 1 0 -6.8 0M160.7 156.7a3.4 3.4 0 1 0 6.8 0a3.4 3.4 0 1 0 -6.8 0M342.1 154.1a3.4 3.4 0 1 0 6.8 0a3.4 3.4 0 1 0 -6.8 0M357.2 156.2a3.4 3.4 0 1 0 6.8 0a3.4 3.4 0 1 0 -6.8 0M376.2 154.3a3.4 3.4 0 1 0 6.8 0a3.4 3.4 0 1 0 -6.8 0M237.6 153.9a3.4 3.4 0 1 0 6.8 0a3.4 3.4 0 1 0 -6.8 0M299.7 152.1a3.4 3.4 0 1 0 6.8 0a3.4 3.4 0 1 0 -6.8 0M370.1 157.8a3.4 3.4 0 1 0 6.8 0a3.4 3.4 0 1 0 -6.8 0M389.8 157.5a3.4 3.4 0 1 0 6.8 0a3.4 3.4 0 1 0 -6.8 0M238.7 150.7a3.4 3.4 0 1 0 6.8 0a3.4 3.4 0 1 0 -6.8 0M319.1 157.9a3.4 3.4 0 1 0 6.8 0a3.4 3.4 0 1 0 -6.8 0M383.2 155.6a3.4 3.4 0 1 0 6.8 0a3.4 3.4 0 1 0 -6.8 0M278.6 158.2a3.4 3.4 0 1 0 6.8 0a3.4 3.4 0 1 0 -6.8 0M294.1 156a3.4 3.4 0 1 0 6.8 0a3.4 3.4 0 1 0 -6.8 0M193.9 147a3.4 3.4 0 1 0 6.8 0a3.4 3.4 0 1 0 -6.8 0M340.8 159.4a3.4 3.4 0 1 0 6.8 0a3.4 3.4 0 1 0 -6.8 0M386 154a3.4 3.4 0 1 0 6.8 0a3.4 3.4 0 1 0 -6.8 0M275.1 152.5a3.4 3.4 0 1 0 6.8 0a3.4 3.4 0 1 0 -6.8 0M209.9 148.3a3.4 3.4 0 1 0 6.8 0a3.4 3.4 0 1 0 -6.8 0M321.8 154.3a3.4 3.4 0 1 0 6.8 0a3.4 3.4 0 1 0 -6.8 0M125.9 149a3.4 3.4 0 1 0 6.8 0a3.4 3.4 0 1 0 -6.8 0M402.6 158.2a3.4 3.4 0 1 0 6.8 0a3.4 3.4 0 1 0 -6.8 0M402.9 154.2a3.4 3.4 0 1 0 6.8 0a3.4 3.4 0 1 0 -6.8 0M223.3 155.6a3.4 3.4 0 1 0 6.8 0a3.4 3.4 0 1 0 -6.8 0M405.1 156.7a3.4 3.4 0 1 0 6.8 0a3.4 3.4 0 1 0 -6.8 0M292.8 153a3.4 3.4 0 1 0 6.8 0a3.4 3.4 0 1 0 -6.8 0M154.1 150.7a3.4 3.4 0 1 0 6.8 0a3.4 3.4 0 1 0 -6.8 0M325.9 155.8a3.4 3.4 0 1 0 6.8 0a3.4 3.4 0 1 0 -6.8 0M373 153.9a3.4 3.4 0 1 0 6.8 0a3.4 3.4 0 1 0 -6.8 0M331.2 159.5a3.4 3.4 0 1 0 6.8 0a3.4 3.4 0 1 0 -6.8 0M272.6 157.4a3.4 3.4 0 1 0 6.8 0a3.4 3.4 0 1 0 -6.8 0M130.6 153.2a3.4 3.4 0 1 0 6.8 0a3.4 3.4 0 1 0 -6.8 0M304.5 155.6a3.4 3.4 0 1 0 6.8 0a3.4 3.4 0 1 0 -6.8 0M295 153.5a3.4 3.4 0 1 0 6.8 0a3.4 3.4 0 1 0 -6.8 0M308.5 148.8a3.4 3.4 0 1 0 6.8 0a3.4 3.4 0 1 0 -6.8 0M208.3 159.8a3.4 3.4 0 1 0 6.8 0a3.4 3.4 0 1 0 -6.8 0M210.6 157.8a3.4 3.4 0 1 0 6.8 0a3.4 3.4 0 1 0 -6.8 0M302.1 152.1a3.4 3.4 0 1 0 6.8 0a3.4 3.4 0 1 0 -6.8 0M207.5 151.7a3.4 3.4 0 1 0 6.8 0a3.4 3.4 0 1 0 -6.8 0M301.6 157a3.4 3.4 0 1 0 6.8 0a3.4 3.4 0 1 0 -6.8 0M274.7 158.3a3.4 3.4 0 1 0 6.8 0a3.4 3.4 0 1 0 -6.8 0M153.8 150.2a3.4 3.4 0 1 0 6.8 0a3.4 3.4 0 1 0 -6.8 0M253.8 159.4a3.4 3.4 0 1 0 6.8 0a3.4 3.4 0 1 0 -6.8 0M296.2 151.8a3.4 3.4 0 1 0 6.8 0a3.4 3.4 0 1 0 -6.8 0M312 153a3.4 3.4 0 1 0 6.8 0a3.4 3.4 0 1 0 -6.8 0M283.2 153.3a3.4 3.4 0 1 0 6.8 0a3.4 3.4 0 1 0 -6.8 0M171.5 159.1a3.4 3.4 0 1 0 6.8 0a3.4 3.4 0 1 0 -6.8 0M422.3 156.5a3.4 3.4 0 1 0 6.8 0a3.4 3.4 0 1 0 -6.8 0M131.2 153.9a3.4 3.4 0 1 0 6.8 0a3.4 3.4 0 1 0 -6.8 0M150.3 154.2a3.4 3.4 0 1 0 6.8 0a3.4 3.4 0 1 0 -6.8 0M238.1 155.3a3.4 3.4 0 1 0 6.8 0a3.4 3.4 0 1 0 -6.8 0M142.2 153.3a3.4 3.4 0 1 0 6.8 0a3.4 3.4 0 1 0 -6.8 0M207.9 152.9a3.4 3.4 0 1 0 6.8 0a3.4 3.4 0 1 0 -6.8 0M170.4 154a3.4 3.4 0 1 0 6.8 0a3.4 3.4 0 1 0 -6.8 0M264.2 155.1a3.4 3.4 0 1 0 6.8 0a3.4 3.4 0 1 0 -6.8 0M231.8 154.2a3.4 3.4 0 1 0 6.8 0a3.4 3.4 0 1 0 -6.8 0M317.8 151.8a3.4 3.4 0 1 0 6.8 0a3.4 3.4 0 1 0 -6.8 0M175.3 157.3a3.4 3.4 0 1 0 6.8 0a3.4 3.4 0 1 0 -6.8 0M422.3 152.5a3.4 3.4 0 1 0 6.8 0a3.4 3.4 0 1 0 -6.8 0M247.3 163.5a3.4 3.4 0 1 0 6.8 0a3.4 3.4 0 1 0 -6.8 0M305.8 152.1a3.4 3.4 0 1 0 6.8 0a3.4 3.4 0 1 0 -6.8 0M225.8 155.8a3.4 3.4 0 1 0 6.8 0a3.4 3.4 0 1 0 -6.8 0M321.1 153a3.4 3.4 0 1 0 6.8 0a3.4 3.4 0 1 0 -6.8 0M166.9 155.8a3.4 3.4 0 1 0 6.8 0a3.4 3.4 0 1 0 -6.8 0M311.2 154.9a3.4 3.4 0 1 0 6.8 0a3.4 3.4 0 1 0 -6.8 0M317.2 147a3.4 3.4 0 1 0 6.8 0a3.4 3.4 0 1 0 -6.8 0M169.4 158.5a3.4 3.4 0 1 0 6.8 0a3.4 3.4 0 1 0 -6.8 0M186 151a3.4 3.4 0 1 0 6.8 0a3.4 3.4 0 1 0 -6.8 0M291.4 154.7a3.4 3.4 0 1 0 6.8 0a3.4 3.4 0 1 0 -6.8 0M212.2 155.9a3.4 3.4 0 1 0 6.8 0a3.4 3.4 0 1 0 -6.8 0M240.7 156.5a3.4 3.4 0 1 0 6.8 0a3.4 3.4 0 1 0 -6.8 0M245.4 156.2a3.4 3.4 0 1 0 6.8 0a3.4 3.4 0 1 0 -6.8 0M337.9 155.8a3.4 3.4 0 1 0 6.8 0a3.4 3.4 0 1 0 -6.8 0M271.7 153.4a3.4 3.4 0 1 0 6.8 0a3.4 3.4 0 1 0 -6.8 0M182.7 159.4a3.4 3.4 0 1 0 6.8 0a3.4 3.4 0 1 0 -6.8 0M428 153.5a3.4 3.4 0 1 0 6.8 0a3.4 3.4 0 1 0 -6.8 0M217.3 107.4a3.4 3.4 0 1 0 6.8 0a3.4 3.4 0 1 0 -6.8 0M240.1 132.7a3.4 3.4 0 1 0 6.8 0a3.4 3.4 0 1 0 -6.8 0M207 141.1a3.4 3.4 0 1 0 6.8 0a3.4 3.4 0 1 0 -6.8 0M265.9 141.4a3.4 3.4 0 1 0 6.8 0a3.4 3.4 0 1 0 -6.8 0M116.3 143.9a3.4 3.4 0 1 0 6.8 0a3.4 3.4 0 1 0 -6.8 0M82 154a3.4 3.4 0 1 0 6.8 0a3.4 3.4 0 1 0 -6.8 0M140.1 163.6a3.4 3.4 0 1 0 6.8 0a3.4 3.4 0 1 0 -6.8 0M134.2 172.5a3.4 3.4 0 1 0 6.8 0a3.4 3.4 0 1 0 -6.8 0M149.1 173.9a3.4 3.4 0 1 0 6.8 0a3.4 3.4 0 1 0 -6.8 0M159.8 166.6a3.4 3.4 0 1 0 6.8 0a3.4 3.4 0 1 0 -6.8 0M207.8 170.6a3.4 3.4 0 1 0 6.8 0a3.4 3.4 0 1 0 -6.8 0M211.4 177.6a3.4 3.4 0 1 0 6.8 0a3.4 3.4 0 1 0 -6.8 0M212.8 186.9a3.4 3.4 0 1 0 6.8 0a3.4 3.4 0 1 0 -6.8 0M233.9 175.3a3.4 3.4 0 1 0 6.8 0a3.4 3.4 0 1 0 -6.8 0M257.2 167.5a3.4 3.4 0 1 0 6.8 0a3.4 3.4 0 1 0 -6.8 0M273.5 173.9a3.4 3.4 0 1 0 6.8 0a3.4 3.4 0 1 0 -6.8 0M98.9 192.5a3.4 3.4 0 1 0 6.8 0a3.4 3.4 0 1 0 -6.8 0M161.8 190a3.4 3.4 0 1 0 6.8 0a3.4 3.4 0 1 0 -6.8 0M177.5 192.5a3.4 3.4 0 1 0 6.8 0a3.4 3.4 0 1 0 -6.8 0M188.7 191.1a3.4 3.4 0 1 0 6.8 0a3.4 3.4 0 1 0 -6.8 0M192.4 193a3.4 3.4 0 1 0 6.8 0a3.4 3.4 0 1 0 -6.8 0M249.9 195.6a3.4 3.4 0 1 0 6.8 0a3.4 3.4 0 1 0 -6.8 0M107 207.3a3.4 3.4 0 1 0 6.8 0a3.4 3.4 0 1 0 -6.8 0M131.2 203.4a3.4 3.4 0 1 0 6.8 0a3.4 3.4 0 1 0 -6.8 0M142.9 211.8a3.4 3.4 0 1 0 6.8 0a3.4 3.4 0 1 0 -6.8 0M169.6 212.4a3.4 3.4 0 1 0 6.8 0a3.4 3.4 0 1 0 -6.8 0M216.8 217.5a3.4 3.4 0 1 0 6.8 0a3.4 3.4 0 1 0 -6.8 0M253.8 221.4a3.4 3.4 0 1 0 6.8 0a3.4 3.4 0 1 0 -6.8 0M233.9 236.8a3.4 3.4 0 1 0 6.8 0a3.4 3.4 0 1 0 -6.8 0M156.7 248.9a3.4 3.4 0 1 0 6.8 0a3.4 3.4 0 1 0 -6.8 0M196.3 272.5a3.4 3.4 0 1 0 6.8 0a3.4 3.4 0 1 0 -6.8 0M207.2 273a3.4 3.4 0 1 0 6.8 0a3.4 3.4 0 1 0 -6.8 0M93.3 152.3a3.4 3.4 0 1 0 6.8 0a3.4 3.4 0 1 0 -6.8 0M100.3 152.3a3.4 3.4 0 1 0 6.8 0a3.4 3.4 0 1 0 -6.8 0M307 134.9a3.4 3.4 0 1 0 6.8 0a3.4 3.4 0 1 0 -6.8 0M381.4 139.4a3.4 3.4 0 1 0 6.8 0a3.4 3.4 0 1 0 -6.8 0M320.1 142.8a3.4 3.4 0 1 0 6.8 0a3.4 3.4 0 1 0 -6.8 0M423.2 147.6a3.4 3.4 0 1 0 6.8 0a3.4 3.4 0 1 0 -6.8 0M399.3 147.6a3.4 3.4 0 1 0 6.8 0a3.4 3.4 0 1 0 -6.8 0M409.1 149.5a3.4 3.4 0 1 0 6.8 0a3.4 3.4 0 1 0 -6.8 0M435.3 151.2a3.4 3.4 0 1 0 6.8 0a3.4 3.4 0 1 0 -6.8 0M452.6 153.2a3.4 3.4 0 1 0 6.8 0a3.4 3.4 0 1 0 -6.8 0M459.7 154a3.4 3.4 0 1 0 6.8 0a3.4 3.4 0 1 0 -6.8 0M365.6 145a3.4 3.4 0 1 0 6.8 0a3.4 3.4 0 1 0 -6.8 0M287.6 172.8a3.4 3.4 0 1 0 6.8 0a3.4 3.4 0 1 0 -6.8 0M301.1 187.1a3.4 3.4 0 1 0 6.8 0a3.4 3.4 0 1 0 -6.8 0M346 167.2a3.4 3.4 0 1 0 6.8 0a3.4 3.4 0 1 0 -6.8 0M363.4 182.6a3.4 3.4 0 1 0 6.8 0a3.4 3.4 0 1 0 -6.8 0M428.8 180.7a3.4 3.4 0 1 0 6.8 0a3.4 3.4 0 1 0 -6.8 0M436.4 163a3.4 3.4 0 1 0 6.8 0a3.4 3.4 0 1 0 -6.8 0M473.2 173.1a3.4 3.4 0 1 0 6.8 0a3.4 3.4 0 1 0 -6.8 0M477.4 160.7a3.4 3.4 0 1 0 6.8 0a3.4 3.4 0 1 0 -6.8 0M286.2 216.3a3.4 3.4 0 1 0 6.8 0a3.4 3.4 0 1 0 -6.8 0M287.9 246.7a3.4 3.4 0 1 0 6.8 0a3.4 3.4 0 1 0 -6.8 0M334.2 257.3a3.4 3.4 0 1 0 6.8 0a3.4 3.4 0 1 0 -6.8 0M375.7 239.4a3.4 3.4 0 1 0 6.8 0a3.4 3.4 0 1 0 -6.8 0M435.8 208.8a3.4 3.4 0 1 0 6.8 0a3.4 3.4 0 1 0 -6.8 0M455.7 223.6a3.4 3.4 0 1 0 6.8 0a3.4 3.4 0 1 0 -6.8 0M433 237.4a3.4 3.4 0 1 0 6.8 0a3.4 3.4 0 1 0 -6.8 0M308.9 164.4a3.4 3.4 0 1 0 6.8 0a3.4 3.4 0 1 0 -6.8 0M334.7 163.6a3.4 3.4 0 1 0 6.8 0a3.4 3.4 0 1 0 -6.8 0M382.5 165.8a3.4 3.4 0 1 0 6.8 0a3.4 3.4 0 1 0 -6.8 0M389.5 163.6a3.4 3.4 0 1 0 6.8 0a3.4 3.4 0 1 0 -6.8 0M399.9 164.4a3.4 3.4 0 1 0 6.8 0a3.4 3.4 0 1 0 -6.8 0M420.4 164.4a3.4 3.4 0 1 0 6.8 0a3.4 3.4 0 1 0 -6.8 0M426.8 162.4a3.4 3.4 0 1 0 6.8 0a3.4 3.4 0 1 0 -6.8 0M410.6 158.8a3.4 3.4 0 1 0 6.8 0a3.4 3.4 0 1 0 -6.8 0M448.4 158.8a3.4 3.4 0 1 0 6.8 0a3.4 3.4 0 1 0 -6.8 0M439.2 157.4a3.4 3.4 0 1 0 6.8 0a3.4 3.4 0 1 0 -6.8 0M436.6 151.8a3.4 3.4 0 1 0 6.8 0a3.4 3.4 0 1 0 -6.8 0M437.4 162.6a3.4 3.4 0 1 0 6.8 0a3.4 3.4 0 1 0 -6.8 0M448.2 158a3.4 3.4 0 1 0 6.8 0a3.4 3.4 0 1 0 -6.8 0M452.8 153.3a3.4 3.4 0 1 0 6.8 0a3.4 3.4 0 1 0 -6.8 0M459.8 154.1a3.4 3.4 0 1 0 6.8 0a3.4 3.4 0 1 0 -6.8 0M477.6 160.6a3.4 3.4 0 1 0 6.8 0a3.4 3.4 0 1 0 -6.8 0M472.9 173.4a3.4 3.4 0 1 0 6.8 0a3.4 3.4 0 1 0 -6.8 0" fill="#000"/>
<rect x="76" y="114" width="417.2" height="4.8" fill="#ff0000"/>
<rect x="76" y="155.3" width="417.2" height="4.8" fill="#ff0000"/>
<rect x="76" y="196.1" width="417.2" height="4.8" fill="#ff0000"/>
<path d="M626 27.5H1040.4V283.2H626ZM646.7 283.2v-3M646.7 27.5v3M667.4 283.2v-3M667.4 27.5v3M688.2 283.2v-3M688.2 27.5v3M708.9 283.2v-5M708.9 27.5v5M729.6 283.2v-3M729.6 27.5v3M750.3 283.2v-3M750.3 27.5v3M771 283.2v-3M771 27.5v3M791.8 283.2v-5M791.8 27.5v5M812.5 283.2v-3M812.5 27.5v3M833.2 283.2v-3M833.2 27.5v3M853.9 283.2v-3M853.9 27.5v3M874.6 283.2v-5M874.6 27.5v5M895.4 283.2v-3M895.4 27.5v3M916.1 283.2v-3M916.1 27.5v3M936.8 283.2v-3M936.8 27.5v3M957.5 283.2v-5M957.5 27.5v5M978.2 283.2v-3M978.2 27.5v3M999 283.2v-3M999 27.5v3M1019.7 283.2v-3M1019.7 27.5v3M626 278.1h3M1040.4 278.1h-3M626 267.9h3M1040.4 267.9h-3M626 257.6h5M1040.4 257.6h-5M626 247.4h3M1040.4 247.4h-3M626 237.2h3M1040.4 237.2h-3M626 226.9h3M1040.4 226.9h-3M626 216.7h3M1040.4 216.7h-3M626 206.5h5M1040.4 206.5h-5M626 196.3h3M1040.4 196.3h-3M626 186h3M1040.4 186h-3M626 175.8h3M1040.4 175.8h-3M626 165.6h3M1040.4 165.6h-3M626 155.3h5M1040.4 155.3h-5M626 145.1h3M1040.4 145.1h-3M626 134.9h3M1040.4 134.9h-3M626 124.7h3M1040.4 124.7h-3M626 114.4h3M1040.4 114.4h-3M626 104.2h5M1040.4 104.2h-5M626 94h3M1040.4 94h-3M626 83.8h3M1040.4 83.8h-3M626 73.5h3M1040.4 73.5h-3M626 63.3h3M1040.4 63.3h-3M626 53.1h5M1040.4 53.1h-5M626 42.8h3M1040.4 42.8h-3M626 32.6h3M1040.4 32.6h-3" stroke="#8a8a8a" stroke-width="1" fill="none"/>
<path d="M742.9 155.1a3.4 3.4 0 1 0 6.8 0a3.4 3.4 0 1 0 -6.8 0M673.5 150.6a3.4 3.4 0 1 0 6.8 0a3.4 3.4 0 1 0 -6.8 0M690.1 152.9a3.4 3.4 0 1 0 6.8 0a3.4 3.4 0 1 0 -6.8 0M690.2 149a3.4 3.4 0 1 0 6.8 0a3.4 3.4 0 1 0 -6.8 0M734.4 157.4a3.4 3.4 0 1 0 6.8 0a3.4 3.4 0 1 0 -6.8 0M717.8 146.9a3.4 3.4 0 1 0 6.8 0a3.4 3.4 0 1 0 -6.8 0M849.2 149.4a3.4 3.4 0 1 0 6.8 0a3.4 3.4 0 1 0 -6.8 0M753.1 150a3.4 3.4 0 1 0 6.8 0a3.4 3.4 0 1 0 -6.8 0M788.4 161.3a3.4 3.4 0 1 0 6.8 0a3.4 3.4 0 1 0 -6.8 0M755.1 156.1a3.4 3.4 0 1 0 6.8 0a3.4 3.4 0 1 0 -6.8 0M789.3 145.9a3.4 3.4 0 1 0 6.8 0a3.4 3.4 0 1 0 -6.8 0M708.8 137.7a3.4 3.4 0 1 0 6.8 0a3.4 3.4 0 1 0 -6.8 0M697.7 156.5a3.4 3.4 0 1 0 6.8 0a3.4 3.4 0 1 0 -6.8 0M799.8 151.1a3.4 3.4 0 1 0 6.8 0a3.4 3.4 0 1 0 -6.8 0M793.2 166.6a3.4 3.4 0 1 0 6.8 0a3.4 3.4 0 1 0 -6.8 0M827.8 161.7a3.4 3.4 0 1 0 6.8 0a3.4 3.4 0 1 0 -6.8 0M819.8 144.7a3.4 3.4 0 1 0 6.8 0a3.4 3.4 0 1 0 -6.8 0M818.2 138.6a3.4 3.4 0 1 0 6.8 0a3.4 3.4 0 1 0 -6.8 0M691.4 161.5a3.4 3.4 0 1 0 6.8 0a3.4 3.4 0 1 0 -6.8 0M715.2 170.4a3.4 3.4 0 1 0 6.8 0a3.4 3.4 0 1 0 -6.8 0M760.9 154.9a3.4 3.4 0 1 0 6.8 0a3.4 3.4 0 1 0 -6.8 0M825.6 128.6a3.4 3.4 0 1 0 6.8 0a3.4 3.4 0 1 0 -6.8 0M804.5 145.4a3.4 3.4 0 1 0 6.8 0a3.4 3.4 0 1 0 -6.8 0M830.3 145.8a3.4 3.4 0 1 0 6.8 0a3.4 3.4 0 1 0 -6.8 0M729.8 162.5a3.4 3.4 0 1 0 6.8 0a3.4 3.4 0 1 0 -6.8 0M688.7 152.2a3.4 3.4 0 1 0 6.8 0a3.4 3.4 0 1 0 -6.8 0M706 153.6a3.4 3.4 0 1 0 6.8 0a3.4 3.4 0 1 0 -6.8 0M826.3 158.4a3.4 3.4 0 1 0 6.8 0a3.4 3.4 0 1 0 -6.8 0M702.1 164.8a3.4 3.4 0 1 0 6.8 0a3.4 3.4 0 1 0 -6.8 0M740.6 141.6a3.4 3.4 0 1 0 6.8 0a3.4 3.4 0 1 0 -6.8 0M834.6 162.8a3.4 3.4 0 1 0 6.8 0a3.4 3.4 0 1 0 -6.8 0M670 151.2a3.4 3.4 0 1 0 6.8 0a3.4 3.4 0 1 0 -6.8 0M773.1 145.4a3.4 3.4 0 1 0 6.8 0a3.4 3.4 0 1 0 -6.8 0M780.1 155a3.4 3.4 0 1 0 6.8 0a3.4 3.4 0 1 0 -6.8 0M801 161.2a3.4 3.4 0 1 0 6.8 0a3.4 3.4 0 1 0 -6.8 0M685.1 145.6a3.4 3.4 0 1 0 6.8 0a3.4 3.4 0 1 0 -6.8 0M812.4 158.4a3.4 3.4 0 1 0 6.8 0a3.4 3.4 0 1 0 -6.8 0M724.4 149.3a3.4 3.4 0 1 0 6.8 0a3.4 3.4 0 1 0 -6.8 0M734.5 134.7a3.4 3.4 0 1 0 6.8 0a3.4 3.4 0 1 0 -6.8 0M820.1 163a3.4 3.4 0 1 0 6.8 0a3.4 3.4 0 1 0 -6.8 0M887.2 150.7a3.4 3.4 0 1 0 6.8 0a3.4 3.4 0 1 0 -6.8 0M691.8 153.7a3.4 3.4 0 1 0 6.8 0a3.4 3.4 0 1 0 -6.8 0M882.6 153a3.4 3.4 0 1 0 6.8 0a3.4 3.4 0 1 0 -6.8 0M874.8 142.4a3.4 3.4 0 1 0 6.8 0a3.4 3.4 0 1 0 -6.8 0M805 147.5a3.4 3.4 0 1 0 6.8 0a3.4 3.4 0 1 0 -6.8 0M824.8 147.3a3.4 3.4 0 1 0 6.8 0a3.4 3.4 0 1 0 -6.8 0M780.3 158a3.4 3.4 0 1 0 6.8 0a3.4 3.4 0 1 0 -6.8 0M868.3 148.1a3.4 3.4 0 1 0 6.8 0a3.4 3.4 0 1 0 -6.8 0M718.7 152.7a3.4 3.4 0 1 0 6.8 0a3.4 3.4 0 1 0 -6.8 0M789.6 150.8a3.4 3.4 0 1 0 6.8 0a3.4 3.4 0 1 0 -6.8 0M750.5 147.9a3.4 3.4 0 1 0 6.8 0a3.4 3.4 0 1 0 -6.8 0M840.9 143.3a3.4 3.4 0 1 0 6.8 0a3.4 3.4 0 1 0 -6.8 0M685.3 151.4a3.4 3.4 0 1 0 6.8 0a3.4 3.4 0 1 0 -6.8 0M772 168.6a3.4 3.4 0 1 0 6.8 0a3.4 3.4 0 1 0 -6.8 0M786.7 154a3.4 3.4 0 1 0 6.8 0a3.4 3.4 0 1 0 -6.8 0M677.1 152.2a3.4 3.4 0 1 0 6.8 0a3.4 3.4 0 1 0 -6.8 0M758.3 148.3a3.4 3.4 0 1 0 6.8 0a3.4 3.4 0 1 0 -6.8 0M836.5 147a3.4 3.4 0 1 0 6.8 0a3.4 3.4 0 1 0 -6.8 0M746.4 141.9a3.4 3.4 0 1 0 6.8 0a3.4 3.4 0 1 0 -6.8 0M820.1 155.4a3.4 3.4 0 1 0 6.8 0a3.4 3.4 0 1 0 -6.8 0M827.4 155.1a3.4 3.4 0 1 0 6.8 0a3.4 3.4 0 1 0 -6.8 0M867.1 162.5a3.4 3.4 0 1 0 6.8 0a3.4 3.4 0 1 0 -6.8 0M672.9 155.4a3.4 3.4 0 1 0 6.8 0a3.4 3.4 0 1 0 -6.8 0M781.9 159.8a3.4 3.4 0 1 0 6.8 0a3.4 3.4 0 1 0 -6.8 0M702.5 139.5a3.4 3.4 0 1 0 6.8 0a3.4 3.4 0 1 0 -6.8 0M720.3 158.1a3.4 3.4 0 1 0 6.8 0a3.4 3.4 0 1 0 -6.8 0M689.3 154.2a3.4 3.4 0 1 0 6.8 0a3.4 3.4 0 1 0 -6.8 0M708.3 149.3a3.4 3.4 0 1 0 6.8 0a3.4 3.4 0 1 0 -6.8 0M740.4 155.6a3.4 3.4 0 1 0 6.8 0a3.4 3.4 0 1 0 -6.8 0M843.2 154.5a3.4 3.4 0 1 0 6.8 0a3.4 3.4 0 1 0 -6.8 0M839.4 152.8a3.4 3.4 0 1 0 6.8 0a3.4 3.4 0 1 0 -6.8 0M779.1 158.1a3.4 3.4 0 1 0 6.8 0a3.4 3.4 0 1 0 -6.8 0M828.6 154.3a3.4 3.4 0 1 0 6.8 0a3.4 3.4 0 1 0 -6.8 0M679 150.2a3.4 3.4 0 1 0 6.8 0a3.4 3.4 0 1 0 -6.8 0M789 157.3a3.4 3.4 0 1 0 6.8 0a3.4 3.4 0 1 0 -6.8 0M721.3 156.8a3.4 3.4 0 1 0 6.8 0a3.4 3.4 0 1 0 -6.8 0M698.4 136.8a3.4 3.4 0 1 0 6.8 0a3.4 3.4 0 1 0 -6.8 0M698.9 154.7a3.4 3.4 0 1 0 6.8 0a3.4 3.4 0 1 0 -6.8 0M860.4 170.3a3.4 3.4 0 1 0 6.8 0a3.4 3.4 0 1 0 -6.8 0M821.7 148.8a3.4 3.4 0 1 0 6.8 0a3.4 3.4 0 1 0 -6.8 0M712.9 152.9a3.4 3.4 0 1 0 6.8 0a3.4 3.4 0 1 0 -6.8 0M818.9 154.4a3.4 3.4 0 1 0 6.8 0a3.4 3.4 0 1 0 -6.8 0M699.3 150a3.4 3.4 0 1 0 6.8 0a3.4 3.4 0 1 0 -6.8 0M739.7 155.8a3.4 3.4 0 1 0 6.8 0a3.4 3.4 0 1 0 -6.8 0M890.9 157.6a3.4 3.4 0 1 0 6.8 0a3.4 3.4 0 1 0 -6.8 0M692.3 152.1a3.4 3.4 0 1 0 6.8 0a3.4 3.4 0 1 0 -6.8 0M858.8 144.3a3.4 3.4 0 1 0 6.8 0a3.4 3.4 0 1 0 -6.8 0M709.3 151.9a3.4 3.4 0 1 0 6.8 0a3.4 3.4 0 1 0 -6.8 0M899.6 141.6a3.4 3.4 0 1 0 6.8 0a3.4 3.4 0 1 0 -6.8 0M720.8 162.2a3.4 3.4 0 1 0 6.8 0a3.4 3.4 0 1 0 -6.8 0M830.6 158.6a3.4 3.4 0 1 0 6.8 0a3.4 3.4 0 1 0 -6.8 0M715.8 154.5a3.4 3.4 0 1 0 6.8 0a3.4 3.4 0 1 0 -6.8 0M821.1 151.4a3.4 3.4 0 1 0 6.8 0a3.4 3.4 0 1 0 -6.8 0M884.4 151a3.4 3.4 0 1 0 6.8 0a3.4 3.4 0 1 0 -6.8 0M822.3 160.8a3.4 3.4 0 1 0 6.8 0a3.4 3.4 0 1 0 -6.8 0M806.2 151.3a3.4 3.4 0 1 0 6.8 0a3.4 3.4 0 1 0 -6.8 0M890.2 155.2a3.4 3.4 0 1 0 6.8 0a3.4 3.4 0 1 0 -6.8 0M737.1 150.4a3.4 3.4 0 1 0 6.8 0a3.4 3.4 0 1 0 -6.8 0M677.4 151.8a3.4 3.4 0 1 0 6.8 0a3.4 3.4 0 1 0 -6.8 0M725.1 151.7a3.4 3.4 0 1 0 6.8 0a3.4 3.4 0 1 0 -6.8 0M789 152a3.4 3.4 0 1 0 6.8 0a3.4 3.4 0 1 0 -6.8 0M882.5 154.6a3.4 3.4 0 1 0 6.8 0a3.4 3.4 0 1 0 -6.8 0M770.7 159.6a3.4 3.4 0 1 0 6.8 0a3.4 3.4 0 1 0 -6.8 0M771.3 153.5a3.4 3.4 0 1 0 6.8 0a3.4 3.4 0 1 0 -6.8 0M813.9 162.2a3.4 3.4 0 1 0 6.8 0a3.4 3.4 0 1 0 -6.8 0M821.4 139.3a3.4 3.4 0 1 0 6.8 0a3.4 3.4 0 1 0 -6.8 0M817.6 157.1a3.4 3.4 0 1 0 6.8 0a3.4 3.4 0 1 0 -6.8 0M824.9 152.8a3.4 3.4 0 1 0 6.8 0a3.4 3.4 0 1 0 -6.8 0M763.4 157.6a3.4 3.4 0 1 0 6.8 0a3.4 3.4 0 1 0 -6.8 0M705.3 142.9a3.4 3.4 0 1 0 6.8 0a3.4 3.4 0 1 0 -6.8 0M771.4 175.2a3.4 3.4 0 1 0 6.8 0a3.4 3.4 0 1 0 -6.8 0M699.5 134.5a3.4 3.4 0 1 0 6.8 0a3.4 3.4 0 1 0 -6.8 0M714.4 151.6a3.4 3.4 0 1 0 6.8 0a3.4 3.4 0 1 0 -6.8 0M762.6 156.6a3.4 3.4 0 1 0 6.8 0a3.4 3.4 0 1 0 -6.8 0M793.2 142.2a3.4 3.4 0 1 0 6.8 0a3.4 3.4 0 1 0 -6.8 0M826.1 153.5a3.4 3.4 0 1 0 6.8 0a3.4 3.4 0 1 0 -6.8 0M788.7 158.8a3.4 3.4 0 1 0 6.8 0a3.4 3.4 0 1 0 -6.8 0M839.9 164.4a3.4 3.4 0 1 0 6.8 0a3.4 3.4 0 1 0 -6.8 0M883.8 163.3a3.4 3.4 0 1 0 6.8 0a3.4 3.4 0 1 0 -6.8 0M792.3 148.5a3.4 3.4 0 1 0 6.8 0a3.4 3.4 0 1 0 -6.8 0M796.8 152.6a3.4 3.4 0 1 0 6.8 0a3.4 3.4 0 1 0 -6.8 0M693.9 156.3a3.4 3.4 0 1 0 6.8 0a3.4 3.4 0 1 0 -6.8 0M748.1 138.3a3.4 3.4 0 1 0 6.8 0a3.4 3.4 0 1 0 -6.8 0M738.9 138.4a3.4 3.4 0 1 0 6.8 0a3.4 3.4 0 1 0 -6.8 0M713.5 161.5a3.4 3.4 0 1 0 6.8 0a3.4 3.4 0 1 0 -6.8 0M740.9 153.7a3.4 3.4 0 1 0 6.8 0a3.4 3.4 0 1 0 -6.8 0M877.3 146.1a3.4 3.4 0 1 0 6.8 0a3.4 3.4 0 1 0 -6.8 0M883.6 140.5a3.4 3.4 0 1 0 6.8 0a3.4 3.4 0 1 0 -6.8 0M724.8 134a3.4 3.4 0 1 0 6.8 0a3.4 3.4 0 1 0 -6.8 0M862 145.4a3.4 3.4 0 1 0 6.8 0a3.4 3.4 0 1 0 -6.8 0M681.4 151.6a3.4 3.4 0 1 0 6.8 0a3.4 3.4 0 1 0 -6.8 0M672.4 152.8a3.4 3.4 0 1 0 6.8 0a3.4 3.4 0 1 0 -6.8 0M673.9 149.9a3.4 3.4 0 1 0 6.8 0a3.4 3.4 0 1 0 -6.8 0M671 138.8a3.4 3.4 0 1 0 6.8 0a3.4 3.4 0 1 0 -6.8 0M882.5 147a3.4 3.4 0 1 0 6.8 0a3.4 3.4 0 1 0 -6.8 0M756.2 151a3.4 3.4 0 1 0 6.8 0a3.4 3.4 0 1 0 -6.8 0M700.7 159.4a3.4 3.4 0 1 0 6.8 0a3.4 3.4 0 1 0 -6.8 0M725.9 160.4a3.4 3.4 0 1 0 6.8 0a3.4 3.4 0 1 0 -6.8 0M736.9 157.4a3.4 3.4 0 1 0 6.8 0a3.4 3.4 0 1 0 -6.8 0M696.1 165.6a3.4 3.4 0 1 0 6.8 0a3.4 3.4 0 1 0 -6.8 0M743.1 154.4a3.4 3.4 0 1 0 6.8 0a3.4 3.4 0 1 0 -6.8 0M831.3 163.3a3.4 3.4 0 1 0 6.8 0a3.4 3.4 0 1 0 -6.8 0M788.5 153.9a3.4 3.4 0 1 0 6.8 0a3.4 3.4 0 1 0 -6.8 0M782.2 147.2a3.4 3.4 0 1 0 6.8 0a3.4 3.4 0 1 0 -6.8 0M716 159a3.4 3.4 0 1 0 6.8 0a3.4 3.4 0 1 0 -6.8 0M725.2 157.6a3.4 3.4 0 1 0 6.8 0a3.4 3.4 0 1 0 -6.8 0M790.8 151.1a3.4 3.4 0 1 0 6.8 0a3.4 3.4 0 1 0 -6.8 0M778.9 147.3a3.4 3.4 0 1 0 6.8 0a3.4 3.4 0 1 0 -6.8 0M815.8 148.2a3.4 3.4 0 1 0 6.8 0a3.4 3.4 0 1 0 -6.8 0M711 160.7a3.4 3.4 0 1 0 6.8 0a3.4 3.4 0 1 0 -6.8 0M876.8 168.3a3.4 3.4 0 1 0 6.8 0a3.4 3.4 0 1 0 -6.8 0M733.2 146.6a3.4 3.4 0 1 0 6.8 0a3.4 3.4 0 1 0 -6.8 0M774.6 159.2a3.4 3.4 0 1 0 6.8 0a3.4 3.4 0 1 0 -6.8 0M820 155.9a3.4 3.4 0 1 0 6.8 0a3.4 3.4 0 1 0 -6.8 0M716.7 143.9a3.4 3.4 0 1 0 6.8 0a3.4 3.4 0 1 0 -6.8 0M789.7 151.5a3.4 3.4 0 1 0 6.8 0a3.4 3.4 0 1 0 -6.8 0M832.1 146.1a3.4 3.4 0 1 0 6.8 0a3.4 3.4 0 1 0 -6.8 0M782.9 156.7a3.4 3.4 0 1 0 6.8 0a3.4 3.4 0 1 0 -6.8 0M756 153.2a3.4 3.4 0 1 0 6.8 0a3.4 3.4 0 1 0 -6.8 0M819.4 140.9a3.4 3.4 0 1 0 6.8 0a3.4 3.4 0 1 0 -6.8 0M703.6 148.4a3.4 3.4 0 1 0 6.8 0a3.4 3.4 0 1 0 -6.8 0M692.5 149a3.4 3.4 0 1 0 6.8 0a3.4 3.4 0 1 0 -6.8 0M754.4 151a3.4 3.4 0 1 0 6.8 0a3.4 3.4 0 1 0 -6.8 0M873.3 153.8a3.4 3.4 0 1 0 6.8 0a3.4 3.4 0 1 0 -6.8 0M744.3 153.9a3.4 3.4 0 1 0 6.8 0a3.4 3.4 0 1 0 -6.8 0M796.9 151.3a3.4 3.4 0 1 0 6.8 0a3.4 3.4 0 1 0 -6.8 0M698.8 139.7a3.4 3.4 0 1 0 6.8 0a3.4 3.4 0 1 0 -6.8 0M713.3 147.5a3.4 3.4 0 1 0 6.8 0a3.4 3.4 0 1 0 -6.8 0M736.4 152.6a3.4 3.4 0 1 0 6.8 0a3.4 3.4 0 1 0 -6.8 0M881.6 159a3.4 3.4 0 1 0 6.8 0a3.4 3.4 0 1 0 -6.8 0M754.3 147.6a3.4 3.4 0 1 0 6.8 0a3.4 3.4 0 1 0 -6.8 0M707.1 154.8a3.4 3.4 0 1 0 6.8 0a3.4 3.4 0 1 0 -6.8 0M846.5 151.1a3.4 3.4 0 1 0 6.8 0a3.4 3.4 0 1 0 -6.8 0M754.9 165.1a3.4 3.4 0 1 0 6.8 0a3.4 3.4 0 1 0 -6.8 0M713.2 169.7a3.4 3.4 0 1 0 6.8 0a3.4 3.4 0 1 0 -6.8 0M715.2 157.4a3.4 3.4 0 1 0 6.8 0a3.4 3.4 0 1 0 -6.8 0M690.3 143.6a3.4 3.4 0 1 0 6.8 0a3.4 3.4 0 1 0 -6.8 0M815.4 141.5a3.4 3.4 0 1 0 6.8 0a3.4 3.4 0 1 0 -6.8 0M842 161.3a3.4 3.4 0 1 0 6.8 0a3.4 3.4 0 1 0 -6.8 0M738.5 155.4a3.4 3.4 0 1 0 6.8 0a3.4 3.4 0 1 0 -6.8 0M851 154.3a3.4 3.4 0 1 0 6.8 0a3.4 3.4 0 1 0 -6.8 0M872.4 160.5a3.4 3.4 0 1 0 6.8 0a3.4 3.4 0 1 0 -6.8 0M899.1 145.7a3.4 3.4 0 1 0 6.8 0a3.4 3.4 0 1 0 -6.8 0M841.2 144.1a3.4 3.4 0 1 0 6.8 0a3.4 3.4 0 1 0 -6.8 0M764.7 160.3a3.4 3.4 0 1 0 6.8 0a3.4 3.4 0 1 0 -6.8 0M846.9 163.2a3.4 3.4 0 1 0 6.8 0a3.4 3.4 0 1 0 -6.8 0M820.9 132.7a3.4 3.4 0 1 0 6.8 0a3.4 3.4 0 1 0 -6.8 0M780.7 157.4a3.4 3.4 0 1 0 6.8 0a3.4 3.4 0 1 0 -6.8 0M736.6 141.4a3.4 3.4 0 1 0 6.8 0a3.4 3.4 0 1 0 -6.8 0M879.5 149.6a3.4 3.4 0 1 0 6.8 0a3.4 3.4 0 1 0 -6.8 0M734.9 155.9a3.4 3.4 0 1 0 6.8 0a3.4 3.4 0 1 0 -6.8 0M839.6 160a3.4 3.4 0 1 0 6.8 0a3.4 3.4 0 1 0 -6.8 0M753.9 156.2a3.4 3.4 0 1 0 6.8 0a3.4 3.4 0 1 0 -6.8 0M884.7 143.9a3.4 3.4 0 1 0 6.8 0a3.4 3.4 0 1 0 -6.8 0M815.5 134a3.4 3.4 0 1 0 6.8 0a3.4 3.4 0 1 0 -6.8 0M811.9 158.6a3.4 3.4 0 1 0 6.8 0a3.4 3.4 0 1 0 -6.8 0M857.7 156.3a3.4 3.4 0 1 0 6.8 0a3.4 3.4 0 1 0 -6.8 0M812.8 153.4a3.4 3.4 0 1 0 6.8 0a3.4 3.4 0 1 0 -6.8 0M823.8 157.8a3.4 3.4 0 1 0 6.8 0a3.4 3.4 0 1 0 -6.8 0M817.5 146a3.4 3.4 0 1 0 6.8 0a3.4 3.4 0 1 0 -6.8 0M749.3 148.1a3.4 3.4 0 1 0 6.8 0a3.4 3.4 0 1 0 -6.8 0M804.3 146.8a3.4 3.4 0 1 0 6.8 0a3.4 3.4 0 1 0 -6.8 0M875.2 154.9a3.4 3.4 0 1 0 6.8 0a3.4 3.4 0 1 0 -6.8 0M887.1 145.5a3.4 3.4 0 1 0 6.8 0a3.4 3.4 0 1 0 -6.8 0M838 157.7a3.4 3.4 0 1 0 6.8 0a3.4 3.4 0 1 0 -6.8 0M791.9 144.5a3.4 3.4 0 1 0 6.8 0a3.4 3.4 0 1 0 -6.8 0M709 147.9a3.4 3.4 0 1 0 6.8 0a3.4 3.4 0 1 0 -6.8 0M893.3 158.1a3.4 3.4 0 1 0 6.8 0a3.4 3.4 0 1 0 -6.8 0M795.8 174.6a3.4 3.4 0 1 0 6.8 0a3.4 3.4 0 1 0 -6.8 0M818.9 159.4a3.4 3.4 0 1 0 6.8 0a3.4 3.4 0 1 0 -6.8 0M881.4 153.5a3.4 3.4 0 1 0 6.8 0a3.4 3.4 0 1 0 -6.8 0M820.1 157.5a3.4 3.4 0 1 0 6.8 0a3.4 3.4 0 1 0 -6.8 0M851.8 157.9a3.4 3.4 0 1 0 6.8 0a3.4 3.4 0 1 0 -6.8 0M727.7 144.5a3.4 3.4 0 1 0 6.8 0a3.4 3.4 0 1 0 -6.8 0M689.6 151.6a3.4 3.4 0 1 0 6.8 0a3.4 3.4 0 1 0 -6.8 0M794.2 151.5a3.4 3.4 0 1 0 6.8 0a3.4 3.4 0 1 0 -6.8 0M773.7 165.5a3.4 3.4 0 1 0 6.8 0a3.4 3.4 0 1 0 -6.8 0M771.3 151.7a3.4 3.4 0 1 0 6.8 0a3.4 3.4 0 1 0 -6.8 0M727.2 133.9a3.4 3.4 0 1 0 6.8 0a3.4 3.4 0 1 0 -6.8 0M828.7 147.3a3.4 3.4 0 1 0 6.8 0a3.4 3.4 0 1 0 -6.8 0M801 152.8a3.4 3.4 0 1 0 6.8 0a3.4 3.4 0 1 0 -6.8 0M753.6 157.7a3.4 3.4 0 1 0 6.8 0a3.4 3.4 0 1 0 -6.8 0M840.7 151.7a3.4 3.4 0 1 0 6.8 0a3.4 3.4 0 1 0 -6.8 0M746.6 150.5a3.4 3.4 0 1 0 6.8 0a3.4 3.4 0 1 0 -6.8 0M700.8 155.4a3.4 3.4 0 1 0 6.8 0a3.4 3.4 0 1 0 -6.8 0M759.9 144.9a3.4 3.4 0 1 0 6.8 0a3.4 3.4 0 1 0 -6.8 0M891 152.8a3.4 3.4 0 1 0 6.8 0a3.4 3.4 0 1 0 -6.8 0M716.7 154.2a3.4 3.4 0 1 0 6.8 0a3.4 3.4 0 1 0 -6.8 0M787.6 157.3a3.4 3.4 0 1 0 6.8 0a3.4 3.4 0 1 0 -6.8 0M738.7 145.8a3.4 3.4 0 1 0 6.8 0a3.4 3.4 0 1 0 -6.8 0M710.3 165.8a3.4 3.4 0 1 0 6.8 0a3.4 3.4 0 1 0 -6.8 0M689.7 151.2a3.4 3.4 0 1 0 6.8 0a3.4 3.4 0 1 0 -6.8 0M818.4 145.8a3.4 3.4 0 1 0 6.8 0a3.4 3.4 0 1 0 -6.8 0M730.8 146.3a3.4 3.4 0 1 0 6.8 0a3.4 3.4 0 1 0 -6.8 0M882.4 144.1a3.4 3.4 0 1 0 6.8 0a3.4 3.4 0 1 0 -6.8 0M874.6 149.6a3.4 3.4 0 1 0 6.8 0a3.4 3.4 0 1 0 -6.8 0M892.9 148.5a3.4 3.4 0 1 0 6.8 0a3.4 3.4 0 1 0 -6.8 0M705.1 152.6a3.4 3.4 0 1 0 6.8 0a3.4 3.4 0 1 0 -6.8 0M756.4 150.4a3.4 3.4 0 1 0 6.8 0a3.4 3.4 0 1 0 -6.8 0M814.8 137.1a3.4 3.4 0 1 0 6.8 0a3.4 3.4 0 1 0 -6.8 0M756 148.8a3.4 3.4 0 1 0 6.8 0a3.4 3.4 0 1 0 -6.8 0M774.6 151.1a3.4 3.4 0 1 0 6.8 0a3.4 3.4 0 1 0 -6.8 0M739.9 162.7a3.4 3.4 0 1 0 6.8 0a3.4 3.4 0 1 0 -6.8 0M727.7 153.5a3.4 3.4 0 1 0 6.8 0a3.4 3.4 0 1 0 -6.8 0M691.9 150.4a3.4 3.4 0 1 0 6.8 0a3.4 3.4 0 1 0 -6.8 0M802.2 152.1a3.4 3.4 0 1 0 6.8 0a3.4 3.4 0 1 0 -6.8 0M792.1 155.7a3.4 3.4 0 1 0 6.8 0a3.4 3.4 0 1 0 -6.8 0M884.3 153.9a3.4 3.4 0 1 0 6.8 0a3.4 3.4 0 1 0 -6.8 0M852.4 150.7a3.4 3.4 0 1 0 6.8 0a3.4 3.4 0 1 0 -6.8 0M878.8 161.1a3.4 3.4 0 1 0 6.8 0a3.4 3.4 0 1 0 -6.8 0M862.5 162.6a3.4 3.4 0 1 0 6.8 0a3.4 3.4 0 1 0 -6.8 0M669.5 155.8a3.4 3.4 0 1 0 6.8 0a3.4 3.4 0 1 0 -6.8 0M704.7 153.2a3.4 3.4 0 1 0 6.8 0a3.4 3.4 0 1 0 -6.8 0M774.6 157.8a3.4 3.4 0 1 0 6.8 0a3.4 3.4 0 1 0 -6.8 0M889.5 151.1a3.4 3.4 0 1 0 6.8 0a3.4 3.4 0 1 0 -6.8 0M721.6 169.6a3.4 3.4 0 1 0 6.8 0a3.4 3.4 0 1 0 -6.8 0M714.2 151.5a3.4 3.4 0 1 0 6.8 0a3.4 3.4 0 1 0 -6.8 0M792.6 142.2a3.4 3.4 0 1 0 6.8 0a3.4 3.4 0 1 0 -6.8 0M679.1 150.5a3.4 3.4 0 1 0 6.8 0a3.4 3.4 0 1 0 -6.8 0M752.4 143.5a3.4 3.4 0 1 0 6.8 0a3.4 3.4 0 1 0 -6.8 0M821.6 145.7a3.4 3.4 0 1 0 6.8 0a3.4 3.4 0 1 0 -6.8 0M860.3 154.3a3.4 3.4 0 1 0 6.8 0a3.4 3.4 0 1 0 -6.8 0M689.5 155.8a3.4 3.4 0 1 0 6.8 0a3.4 3.4 0 1 0 -6.8 0M857.4 153.5a3.4 3.4 0 1 0 6.8 0a3.4 3.4 0 1 0 -6.8 0M769.1 140.6a3.4 3.4 0 1 0 6.8 0a3.4 3.4 0 1 0 -6.8 0M824 166a3.4 3.4 0 1 0 6.8 0a3.4 3.4 0 1 0 -6.8 0M741.9 147.9a3.4 3.4 0 1 0 6.8 0a3.4 3.4 0 1 0 -6.8 0M874.7 164.6a3.4 3.4 0 1 0 6.8 0a3.4 3.4 0 1 0 -6.8 0M774.8 156.5a3.4 3.4 0 1 0 6.8 0a3.4 3.4 0 1 0 -6.8 0M818.7 145.9a3.4 3.4 0 1 0 6.8 0a3.4 3.4 0 1 0 -6.8 0M872.5 152.3a3.4 3.4 0 1 0 6.8 0a3.4 3.4 0 1 0 -6.8 0M861.9 144.6a3.4 3.4 0 1 0 6.8 0a3.4 3.4 0 1 0 -6.8 0M830.9 159.1a3.4 3.4 0 1 0 6.8 0a3.4 3.4 0 1 0 -6.8 0M811.5 155a3.4 3.4 0 1 0 6.8 0a3.4 3.4 0 1 0 -6.8 0M725 148.7a3.4 3.4 0 1 0 6.8 0a3.4 3.4 0 1 0 -6.8 0M790.4 149.4a3.4 3.4 0 1 0 6.8 0a3.4 3.4 0 1 0 -6.8 0M728 165.4a3.4 3.4 0 1 0 6.8 0a3.4 3.4 0 1 0 -6.8 0M889.3 147.2a3.4 3.4 0 1 0 6.8 0a3.4 3.4 0 1 0 -6.8 0M872.6 155.4a3.4 3.4 0 1 0 6.8 0a3.4 3.4 0 1 0 -6.8 0M890.6 148.7a3.4 3.4 0 1 0 6.8 0a3.4 3.4 0 1 0 -6.8 0M834.5 170.1a3.4 3.4 0 1 0 6.8 0a3.4 3.4 0 1 0 -6.8 0M793.1 158.2a3.4 3.4 0 1 0 6.8 0a3.4 3.4 0 1 0 -6.8 0M741.8 152.5a3.4 3.4 0 1 0 6.8 0a3.4 3.4 0 1 0 -6.8 0M701.1 149.1a3.4 3.4 0 1 0 6.8 0a3.4 3.4 0 1 0 -6.8 0M827.6 141.6a3.4 3.4 0 1 0 6.8 0a3.4 3.4 0 1 0 -6.8 0M737.2 155.3a3.4 3.4 0 1 0 6.8 0a3.4 3.4 0 1 0 -6.8 0M708.1 157.1a3.4 3.4 0 1 0 6.8 0a3.4 3.4 0 1 0 -6.8 0M736.2 154.7a3.4 3.4 0 1 0 6.8 0a3.4 3.4 0 1 0 -6.8 0M854.9 151.8a3.4 3.4 0 1 0 6.8 0a3.4 3.4 0 1 0 -6.8 0M816.4 166.2a3.4 3.4 0 1 0 6.8 0a3.4 3.4 0 1 0 -6.8 0M900.9 144.1a3.4 3.4 0 1 0 6.8 0a3.4 3.4 0 1 0 -6.8 0M702.7 147.2a3.4 3.4 0 1 0 6.8 0a3.4 3.4 0 1 0 -6.8 0M867.8 153a3.4 3.4 0 1 0 6.8 0a3.4 3.4 0 1 0 -6.8 0M885.2 162.5a3.4 3.4 0 1 0 6.8 0a3.4 3.4 0 1 0 -6.8 0M785.1 148.5a3.4 3.4 0 1 0 6.8 0a3.4 3.4 0 1 0 -6.8 0M755 154a3.4 3.4 0 1 0 6.8 0a3.4 3.4 0 1 0 -6.8 0M740.6 152.4a3.4 3.4 0 1 0 6.8 0a3.4 3.4 0 1 0 -6.8 0M813.6 143.2a3.4 3.4 0 1 0 6.8 0a3.4 3.4 0 1 0 -6.8 0M915.1 142.7a3.4 3.4 0 1 0 6.8 0a3.4 3.4 0 1 0 -6.8 0M765.9 143.4a3.4 3.4 0 1 0 6.8 0a3.4 3.4 0 1 0 -6.8 0M673.2 151a3.4 3.4 0 1 0 6.8 0a3.4 3.4 0 1 0 -6.8 0M822.3 160.7a3.4 3.4 0 1 0 6.8 0a3.4 3.4 0 1 0 -6.8 0M822.5 139.3a3.4 3.4 0 1 0 6.8 0a3.4 3.4 0 1 0 -6.8 0M739.6 148.3a3.4 3.4 0 1 0 6.8 0a3.4 3.4 0 1 0 -6.8 0M825.3 154.1a3.4 3.4 0 1 0 6.8 0a3.4 3.4 0 1 0 -6.8 0M681.9 151.6a3.4 3.4 0 1 0 6.8 0a3.4 3.4 0 1 0 -6.8 0M705.5 143.4a3.4 3.4 0 1 0 6.8 0a3.4 3.4 0 1 0 -6.8 0M887.1 144.5a3.4 3.4 0 1 0 6.8 0a3.4 3.4 0 1 0 -6.8 0M689.1 145.7a3.4 3.4 0 1 0 6.8 0a3.4 3.4 0 1 0 -6.8 0M768.9 159.4a3.4 3.4 0 1 0 6.8 0a3.4 3.4 0 1 0 -6.8 0M815.9 152.3a3.4 3.4 0 1 0 6.8 0a3.4 3.4 0 1 0 -6.8 0M714.1 150.2a3.4 3.4 0 1 0 6.8 0a3.4 3.4 0 1 0 -6.8 0M820 157.5a3.4 3.4 0 1 0 6.8 0a3.4 3.4 0 1 0 -6.8 0M824.9 146.5a3.4 3.4 0 1 0 6.8 0a3.4 3.4 0 1 0 -6.8 0M698.3 157.3a3.4 3.4 0 1 0 6.8 0a3.4 3.4 0 1 0 -6.8 0M842.3 151.5a3.4 3.4 0 1 0 6.8 0a3.4 3.4 0 1 0 -6.8 0M780.8 151a3.4 3.4 0 1 0 6.8 0a3.4 3.4 0 1 0 -6.8 0M766.4 155.8a3.4 3.4 0 1 0 6.8 0a3.4 3.4 0 1 0 -6.8 0M711.1 148.9a3.4 3.4 0 1 0 6.8 0a3.4 3.4 0 1 0 -6.8 0M801.6 143.3a3.4 3.4 0 1 0 6.8 0a3.4 3.4 0 1 0 -6.8 0M746.9 151.7a3.4 3.4 0 1 0 6.8 0a3.4 3.4 0 1 0 -6.8 0M669.6 152.2a3.4 3.4 0 1 0 6.8 0a3.4 3.4 0 1 0 -6.8 0M804.8 162.7a3.4 3.4 0 1 0 6.8 0a3.4 3.4 0 1 0 -6.8 0M756 146.1a3.4 3.4 0 1 0 6.8 0a3.4 3.4 0 1 0 -6.8 0M783.2 168.4a3.4 3.4 0 1 0 6.8 0a3.4 3.4 0 1 0 -6.8 0M759.7 146.1a3.4 3.4 0 1 0 6.8 0a3.4 3.4 0 1 0 -6.8 0M700.4 149.3a3.4 3.4 0 1 0 6.8 0a3.4 3.4 0 1 0 -6.8 0M780.2 149a3.4 3.4 0 1 0 6.8 0a3.4 3.4 0 1 0 -6.8 0M840.6 157.9a3.4 3.4 0 1 0 6.8 0a3.4 3.4 0 1 0 -6.8 0M734.5 148.5a3.4 3.4 0 1 0 6.8 0a3.4 3.4 0 1 0 -6.8 0M695.2 145.2a3.4 3.4 0 1 0 6.8 0a3.4 3.4 0 1 0 -6.8 0M865.7 150.5a3.4 3.4 0 1 0 6.8 0a3.4 3.4 0 1 0 -6.8 0M736 150.2a3.4 3.4 0 1 0 6.8 0a3.4 3.4 0 1 0 -6.8 0M870 155.8a3.4 3.4 0 1 0 6.8 0a3.4 3.4 0 1 0 -6.8 0M781.9 160.2a3.4 3.4 0 1 0 6.8 0a3.4 3.4 0 1 0 -6.8 0M825.7 148.3a3.4 3.4 0 1 0 6.8 0a3.4 3.4 0 1 0 -6.8 0M785.6 156.3a3.4 3.4 0 1 0 6.8 0a3.4 3.4 0 1 0 -6.8 0M726.3 152.9a3.4 3.4 0 1 0 6.8 0a3.4 3.4 0 1 0 -6.8 0M749.5 158.3a3.4 3.4 0 1 0 6.8 0a3.4 3.4 0 1 0 -6.8 0M765.3 156.4a3.4 3.4 0 1 0 6.8 0a3.4 3.4 0 1 0 -6.8 0M757.6 150.4a3.4 3.4 0 1 0 6.8 0a3.4 3.4 0 1 0 -6.8 0M758.6 144.9a3.4 3.4 0 1 0 6.8 0a3.4 3.4 0 1 0 -6.8 0M854.9 164.2a3.4 3.4 0 1 0 6.8 0a3.4 3.4 0 1 0 -6.8 0M706.7 149a3.4 3.4 0 1 0 6.8 0a3.4 3.4 0 1 0 -6.8 0M880.2 139.8a3.4 3.4 0 1 0 6.8 0a3.4 3.4 0 1 0 -6.8 0M832.5 159.9a3.4 3.4 0 1 0 6.8 0a3.4 3.4 0 1 0 -6.8 0M737.8 154.6a3.4 3.4 0 1 0 6.8 0a3.4 3.4 0 1 0 -6.8 0M789.1 158.7a3.4 3.4 0 1 0 6.8 0a3.4 3.4 0 1 0 -6.8 0M670.4 151.1a3.4 3.4 0 1 0 6.8 0a3.4 3.4 0 1 0 -6.8 0M865 157.9a3.4 3.4 0 1 0 6.8 0a3.4 3.4 0 1 0 -6.8 0M742.4 144.4a3.4 3.4 0 1 0 6.8 0a3.4 3.4 0 1 0 -6.8 0M669.2 157.9a3.4 3.4 0 1 0 6.8 0a3.4 3.4 0 1 0 -6.8 0M862 137.4a3.4 3.4 0 1 0 6.8 0a3.4 3.4 0 1 0 -6.8 0M716.5 139.4a3.4 3.4 0 1 0 6.8 0a3.4 3.4 0 1 0 -6.8 0M736.3 143.2a3.4 3.4 0 1 0 6.8 0a3.4 3.4 0 1 0 -6.8 0M727.9 151.2a3.4 3.4 0 1 0 6.8 0a3.4 3.4 0 1 0 -6.8 0M747.8 155a3.4 3.4 0 1 0 6.8 0a3.4 3.4 0 1 0 -6.8 0M797.2 164.7a3.4 3.4 0 1 0 6.8 0a3.4 3.4 0 1 0 -6.8 0M857.6 157.7a3.4 3.4 0 1 0 6.8 0a3.4 3.4 0 1 0 -6.8 0M729.7 148.3a3.4 3.4 0 1 0 6.8 0a3.4 3.4 0 1 0 -6.8 0M804.1 151.3a3.4 3.4 0 1 0 6.8 0a3.4 3.4 0 1 0 -6.8 0M739.2 147.3a3.4 3.4 0 1 0 6.8 0a3.4 3.4 0 1 0 -6.8 0M795.1 154a3.4 3.4 0 1 0 6.8 0a3.4 3.4 0 1 0 -6.8 0M866.1 155.7a3.4 3.4 0 1 0 6.8 0a3.4 3.4 0 1 0 -6.8 0M786.5 157.5a3.4 3.4 0 1 0 6.8 0a3.4 3.4 0 1 0 -6.8 0M692 152.7a3.4 3.4 0 1 0 6.8 0a3.4 3.4 0 1 0 -6.8 0M824.9 153.1a3.4 3.4 0 1 0 6.8 0a3.4 3.4 0 1 0 -6.8 0M800.8 162a3.4 3.4 0 1 0 6.8 0a3.4 3.4 0 1 0 -6.8 0M740.8 141.6a3.4 3.4 0 1 0 6.8 0a3.4 3.4 0 1 0 -6.8 0M878.2 153a3.4 3.4 0 1 0 6.8 0a3.4 3.4 0 1 0 -6.8 0M748.1 155.9a3.4 3.4 0 1 0 6.8 0a3.4 3.4 0 1 0 -6.8 0M728.4 150.6a3.4 3.4 0 1 0 6.8 0a3.4 3.4 0 1 0 -6.8 0M846 159.7a3.4 3.4 0 1 0 6.8 0a3.4 3.4 0 1 0 -6.8 0M797.6 147.5a3.4 3.4 0 1 0 6.8 0a3.4 3.4 0 1 0 -6.8 0M815.9 144.8a3.4 3.4 0 1 0 6.8 0a3.4 3.4 0 1 0 -6.8 0M691.7 153.9a3.4 3.4 0 1 0 6.8 0a3.4 3.4 0 1 0 -6.8 0M690.4 152a3.4 3.4 0 1 0 6.8 0a3.4 3.4 0 1 0 -6.8 0M776.8 146a3.4 3.4 0 1 0 6.8 0a3.4 3.4 0 1 0 -6.8 0M684.9 151.3a3.4 3.4 0 1 0 6.8 0a3.4 3.4 0 1 0 -6.8 0M881.9 155.3a3.4 3.4 0 1 0 6.8 0a3.4 3.4 0 1 0 -6.8 0M769.7 157.4a3.4 3.4 0 1 0 6.8 0a3.4 3.4 0 1 0 -6.8 0M773.6 153.1a3.4 3.4 0 1 0 6.8 0a3.4 3.4 0 1 0 -6.8 0M718.8 146.5a3.4 3.4 0 1 0 6.8 0a3.4 3.4 0 1 0 -6.8 0M832.7 157.2a3.4 3.4 0 1 0 6.8 0a3.4 3.4 0 1 0 -6.8 0M809.4 146.4a3.4 3.4 0 1 0 6.8 0a3.4 3.4 0 1 0 -6.8 0M687.9 149.5a3.4 3.4 0 1 0 6.8 0a3.4 3.4 0 1 0 -6.8 0M798.1 154a3.4 3.4 0 1 0 6.8 0a3.4 3.4 0 1 0 -6.8 0M720.9 151.6a3.4 3.4 0 1 0 6.8 0a3.4 3.4 0 1 0 -6.8 0M877.8 144.3a3.4 3.4 0 1 0 6.8 0a3.4 3.4 0 1 0 -6.8 0M725.4 165.1a3.4 3.4 0 1 0 6.8 0a3.4 3.4 0 1 0 -6.8 0M828.6 147.4a3.4 3.4 0 1 0 6.8 0a3.4 3.4 0 1 0 -6.8 0M670.5 152.2a3.4 3.4 0 1 0 6.8 0a3.4 3.4 0 1 0 -6.8 0M749.7 149.3a3.4 3.4 0 1 0 6.8 0a3.4 3.4 0 1 0 -6.8 0M827 161.6a3.4 3.4 0 1 0 6.8 0a3.4 3.4 0 1 0 -6.8 0M758.3 154.7a3.4 3.4 0 1 0 6.8 0a3.4 3.4 0 1 0 -6.8 0M847.7 148.9a3.4 3.4 0 1 0 6.8 0a3.4 3.4 0 1 0 -6.8 0M768.1 165.8a3.4 3.4 0 1 0 6.8 0a3.4 3.4 0 1 0 -6.8 0M704.9 160a3.4 3.4 0 1 0 6.8 0a3.4 3.4 0 1 0 -6.8 0M734.9 155.1a3.4 3.4 0 1 0 6.8 0a3.4 3.4 0 1 0 -6.8 0M823.5 146.9a3.4 3.4 0 1 0 6.8 0a3.4 3.4 0 1 0 -6.8 0M711.6 148.2a3.4 3.4 0 1 0 6.8 0a3.4 3.4 0 1 0 -6.8 0M721.6 141.2a3.4 3.4 0 1 0 6.8 0a3.4 3.4 0 1 0 -6.8 0M805.9 151.6a3.4 3.4 0 1 0 6.8 0a3.4 3.4 0 1 0 -6.8 0M824.1 150.2a3.4 3.4 0 1 0 6.8 0a3.4 3.4 0 1 0 -6.8 0M758.8 153.1a3.4 3.4 0 1 0 6.8 0a3.4 3.4 0 1 0 -6.8 0M786.5 155.6a3.4 3.4 0 1 0 6.8 0a3.4 3.4 0 1 0 -6.8 0M708 155.5a3.4 3.4 0 1 0 6.8 0a3.4 3.4 0 1 0 -6.8 0M766.3 158.6a3.4 3.4 0 1 0 6.8 0a3.4 3.4 0 1 0 -6.8 0M775.6 148.3a3.4 3.4 0 1 0 6.8 0a3.4 3.4 0 1 0 -6.8 0M775.6 167.8a3.4 3.4 0 1 0 6.8 0a3.4 3.4 0 1 0 -6.8 0M720.1 155.9a3.4 3.4 0 1 0 6.8 0a3.4 3.4 0 1 0 -6.8 0M848.1 145.6a3.4 3.4 0 1 0 6.8 0a3.4 3.4 0 1 0 -6.8 0M903.2 156.1a3.4 3.4 0 1 0 6.8 0a3.4 3.4 0 1 0 -6.8 0M691.3 155.7a3.4 3.4 0 1 0 6.8 0a3.4 3.4 0 1 0 -6.8 0M726.5 161.2a3.4 3.4 0 1 0 6.8 0a3.4 3.4 0 1 0 -6.8 0M691.1 159.5a3.4 3.4 0 1 0 6.8 0a3.4 3.4 0 1 0 -6.8 0M805.7 139.1a3.4 3.4 0 1 0 6.8 0a3.4 3.4 0 1 0 -6.8 0M815.3 149.2a3.4 3.4 0 1 0 6.8 0a3.4 3.4 0 1 0 -6.8 0M676.5 155.1a3.4 3.4 0 1 0 6.8 0a3.4 3.4 0 1 0 -6.8 0M711.3 155.8a3.4 3.4 0 1 0 6.8 0a3.4 3.4 0 1 0 -6.8 0M818.4 175.4a3.4 3.4 0 1 0 6.8 0a3.4 3.4 0 1 0 -6.8 0M800.9 137.5a3.4 3.4 0 1 0 6.8 0a3.4 3.4 0 1 0 -6.8 0M875.8 152.4a3.4 3.4 0 1 0 6.8 0a3.4 3.4 0 1 0 -6.8 0M859.7 154.2a3.4 3.4 0 1 0 6.8 0a3.4 3.4 0 1 0 -6.8 0M834.4 140.7a3.4 3.4 0 1 0 6.8 0a3.4 3.4 0 1 0 -6.8 0M716.5 156.3a3.4 3.4 0 1 0 6.8 0a3.4 3.4 0 1 0 -6.8 0M793.7 152a3.4 3.4 0 1 0 6.8 0a3.4 3.4 0 1 0 -6.8 0M720.4 161.8a3.4 3.4 0 1 0 6.8 0a3.4 3.4 0 1 0 -6.8 0M887.8 150.9a3.4 3.4 0 1 0 6.8 0a3.4 3.4 0 1 0 -6.8 0M871.7 151.8a3.4 3.4 0 1 0 6.8 0a3.4 3.4 0 1 0 -6.8 0M718.4 150.7a3.4 3.4 0 1 0 6.8 0a3.4 3.4 0 1 0 -6.8 0M762.7 142.3a3.4 3.4 0 1 0 6.8 0a3.4 3.4 0 1 0 -6.8 0M854.8 152.6a3.4 3.4 0 1 0 6.8 0a3.4 3.4 0 1 0 -6.8 0M738.6 144.4a3.4 3.4 0 1 0 6.8 0a3.4 3.4 0 1 0 -6.8 0M727.7 145.5a3.4 3.4 0 1 0 6.8 0a3.4 3.4 0 1 0 -6.8 0M719.5 152.5a3.4 3.4 0 1 0 6.8 0a3.4 3.4 0 1 0 -6.8 0M688 153.4a3.4 3.4 0 1 0 6.8 0a3.4 3.4 0 1 0 -6.8 0M777 144.6a3.4 3.4 0 1 0 6.8 0a3.4 3.4 0 1 0 -6.8 0M843.6 155.1a3.4 3.4 0 1 0 6.8 0a3.4 3.4 0 1 0 -6.8 0M852.6 143.7a3.4 3.4 0 1 0 6.8 0a3.4 3.4 0 1 0 -6.8 0M883.4 146.2a3.4 3.4 0 1 0 6.8 0a3.4 3.4 0 1 0 -6.8 0M720 158.9a3.4 3.4 0 1 0 6.8 0a3.4 3.4 0 1 0 -6.8 0M709.8 148.1a3.4 3.4 0 1 0 6.8 0a3.4 3.4 0 1 0 -6.8 0M764.5 149.8a3.4 3.4 0 1 0 6.8 0a3.4 3.4 0 1 0 -6.8 0M806.6 155.7a3.4 3.4 0 1 0 6.8 0a3.4 3.4 0 1 0 -6.8 0M687.2 151.1a3.4 3.4 0 1 0 6.8 0a3.4 3.4 0 1 0 -6.8 0M719.5 145.4a3.4 3.4 0 1 0 6.8 0a3.4 3.4 0 1 0 -6.8 0M769.5 161.6a3.4 3.4 0 1 0 6.8 0a3.4 3.4 0 1 0 -6.8 0M756.4 145.6a3.4 3.4 0 1 0 6.8 0a3.4 3.4 0 1 0 -6.8 0M766.4 138.1a3.4 3.4 0 1 0 6.8 0a3.4 3.4 0 1 0 -6.8 0M806.9 160a3.4 3.4 0 1 0 6.8 0a3.4 3.4 0 1 0 -6.8 0M724.4 153.3a3.4 3.4 0 1 0 6.8 0a3.4 3.4 0 1 0 -6.8 0M724.1 145.7a3.4 3.4 0 1 0 6.8 0a3.4 3.4 0 1 0 -6.8 0M870.3 153.1a3.4 3.4 0 1 0 6.8 0a3.4 3.4 0 1 0 -6.8 0M690 154.9a3.4 3.4 0 1 0 6.8 0a3.4 3.4 0 1 0 -6.8 0M887.3 157.1a3.4 3.4 0 1 0 6.8 0a3.4 3.4 0 1 0 -6.8 0M686.9 154.2a3.4 3.4 0 1 0 6.8 0a3.4 3.4 0 1 0 -6.8 0M699.1 147a3.4 3.4 0 1 0 6.8 0a3.4 3.4 0 1 0 -6.8 0M750.9 153.2a3.4 3.4 0 1 0 6.8 0a3.4 3.4 0 1 0 -6.8 0M713.9 139.6a3.4 3.4 0 1 0 6.8 0a3.4 3.4 0 1 0 -6.8 0M850.8 146.1a3.4 3.4 0 1 0 6.8 0a3.4 3.4 0 1 0 -6.8 0M723.3 149.2a3.4 3.4 0 1 0 6.8 0a3.4 3.4 0 1 0 -6.8 0M830.4 165a3.4 3.4 0 1 0 6.8 0a3.4 3.4 0 1 0 -6.8 0M683.7 146.9a3.4 3.4 0 1 0 6.8 0a3.4 3.4 0 1 0 -6.8 0M854.6 149.1a3.4 3.4 0 1 0 6.8 0a3.4 3.4 0 1 0 -6.8 0M717.6 161.6a3.4 3.4 0 1 0 6.8 0a3.4 3.4 0 1 0 -6.8 0M781.4 146.4a3.4 3.4 0 1 0 6.8 0a3.4 3.4 0 1 0 -6.8 0M736.2 153.9a3.4 3.4 0 1 0 6.8 0a3.4 3.4 0 1 0 -6.8 0M729.2 146.9a3.4 3.4 0 1 0 6.8 0a3.4 3.4 0 1 0 -6.8 0M832.6 165.2a3.4 3.4 0 1 0 6.8 0a3.4 3.4 0 1 0 -6.8 0M820.6 150.8a3.4 3.4 0 1 0 6.8 0a3.4 3.4 0 1 0 -6.8 0M744.4 145.6a3.4 3.4 0 1 0 6.8 0a3.4 3.4 0 1 0 -6.8 0M706.1 146.5a3.4 3.4 0 1 0 6.8 0a3.4 3.4 0 1 0 -6.8 0M750.1 168a3.4 3.4 0 1 0 6.8 0a3.4 3.4 0 1 0 -6.8 0M886.6 154.5a3.4 3.4 0 1 0 6.8 0a3.4 3.4 0 1 0 -6.8 0M842.8 147a3.4 3.4 0 1 0 6.8 0a3.4 3.4 0 1 0 -6.8 0M679.3 153.2a3.4 3.4 0 1 0 6.8 0a3.4 3.4 0 1 0 -6.8 0M842.6 157.5a3.4 3.4 0 1 0 6.8 0a3.4 3.4 0 1 0 -6.8 0M748.7 158.5a3.4 3.4 0 1 0 6.8 0a3.4 3.4 0 1 0 -6.8 0M747.4 148.9a3.4 3.4 0 1 0 6.8 0a3.4 3.4 0 1 0 -6.8 0M817.7 143a3.4 3.4 0 1 0 6.8 0a3.4 3.4 0 1 0 -6.8 0M818.9 146.5a3.4 3.4 0 1 0 6.8 0a3.4 3.4 0 1 0 -6.8 0M789.6 149.4a3.4 3.4 0 1 0 6.8 0a3.4 3.4 0 1 0 -6.8 0M691.1 152.8a3.4 3.4 0 1 0 6.8 0a3.4 3.4 0 1 0 -6.8 0M700.3 154.5a3.4 3.4 0 1 0 6.8 0a3.4 3.4 0 1 0 -6.8 0M804.4 159.2a3.4 3.4 0 1 0 6.8 0a3.4 3.4 0 1 0 -6.8 0M722.8 169.7a3.4 3.4 0 1 0 6.8 0a3.4 3.4 0 1 0 -6.8 0M821.8 154.9a3.4 3.4 0 1 0 6.8 0a3.4 3.4 0 1 0 -6.8 0M810.4 161a3.4 3.4 0 1 0 6.8 0a3.4 3.4 0 1 0 -6.8 0M790.3 155.7a3.4 3.4 0 1 0 6.8 0a3.4 3.4 0 1 0 -6.8 0M715.1 150.1a3.4 3.4 0 1 0 6.8 0a3.4 3.4 0 1 0 -6.8 0M727.5 160.3a3.4 3.4 0 1 0 6.8 0a3.4 3.4 0 1 0 -6.8 0M801.6 152.2a3.4 3.4 0 1 0 6.8 0a3.4 3.4 0 1 0 -6.8 0M759.8 157.4a3.4 3.4 0 1 0 6.8 0a3.4 3.4 0 1 0 -6.8 0M746.9 147a3.4 3.4 0 1 0 6.8 0a3.4 3.4 0 1 0 -6.8 0M887 178.6a3.4 3.4 0 1 0 6.8 0a3.4 3.4 0 1 0 -6.8 0M803.5 158.2a3.4 3.4 0 1 0 6.8 0a3.4 3.4 0 1 0 -6.8 0M802.8 173.4a3.4 3.4 0 1 0 6.8 0a3.4 3.4 0 1 0 -6.8 0M810.4 151.3a3.4 3.4 0 1 0 6.8 0a3.4 3.4 0 1 0 -6.8 0M753.9 167.5a3.4 3.4 0 1 0 6.8 0a3.4 3.4 0 1 0 -6.8 0M781.8 142.5a3.4 3.4 0 1 0 6.8 0a3.4 3.4 0 1 0 -6.8 0M694.9 153.2a3.4 3.4 0 1 0 6.8 0a3.4 3.4 0 1 0 -6.8 0M888.4 147.4a3.4 3.4 0 1 0 6.8 0a3.4 3.4 0 1 0 -6.8 0M865.8 157.8a3.4 3.4 0 1 0 6.8 0a3.4 3.4 0 1 0 -6.8 0M761.4 167.8a3.4 3.4 0 1 0 6.8 0a3.4 3.4 0 1 0 -6.8 0M887.1 147.4a3.4 3.4 0 1 0 6.8 0a3.4 3.4 0 1 0 -6.8 0M840.4 146.8a3.4 3.4 0 1 0 6.8 0a3.4 3.4 0 1 0 -6.8 0M880.1 139.1a3.4 3.4 0 1 0 6.8 0a3.4 3.4 0 1 0 -6.8 0M855 145.1a3.4 3.4 0 1 0 6.8 0a3.4 3.4 0 1 0 -6.8 0M877.9 159a3.4 3.4 0 1 0 6.8 0a3.4 3.4 0 1 0 -6.8 0M710.8 153.2a3.4 3.4 0 1 0 6.8 0a3.4 3.4 0 1 0 -6.8 0M710.6 161.8a3.4 3.4 0 1 0 6.8 0a3.4 3.4 0 1 0 -6.8 0M808.2 155a3.4 3.4 0 1 0 6.8 0a3.4 3.4 0 1 0 -6.8 0M744.4 147.3a3.4 3.4 0 1 0 6.8 0a3.4 3.4 0 1 0 -6.8 0M742.3 155.9a3.4 3.4 0 1 0 6.8 0a3.4 3.4 0 1 0 -6.8 0M692 149.9a3.4 3.4 0 1 0 6.8 0a3.4 3.4 0 1 0 -6.8 0M692.3 150.9a3.4 3.4 0 1 0 6.8 0a3.4 3.4 0 1 0 -6.8 0M723.5 143.5a3.4 3.4 0 1 0 6.8 0a3.4 3.4 0 1 0 -6.8 0M887.9 154.5a3.4 3.4 0 1 0 6.8 0a3.4 3.4 0 1 0 -6.8 0M826.8 148a3.4 3.4 0 1 0 6.8 0a3.4 3.4 0 1 0 -6.8 0M868.7 153a3.4 3.4 0 1 0 6.8 0a3.4 3.4 0 1 0 -6.8 0M726.3 148.3a3.4 3.4 0 1 0 6.8 0a3.4 3.4 0 1 0 -6.8 0M788.5 153.5a3.4 3.4 0 1 0 6.8 0a3.4 3.4 0 1 0 -6.8 0M818.6 136.1a3.4 3.4 0 1 0 6.8 0a3.4 3.4 0 1 0 -6.8 0M734.7 148.2a3.4 3.4 0 1 0 6.8 0a3.4 3.4 0 1 0 -6.8 0M788.3 155.6a3.4 3.4 0 1 0 6.8 0a3.4 3.4 0 1 0 -6.8 0M782.1 154a3.4 3.4 0 1 0 6.8 0a3.4 3.4 0 1 0 -6.8 0M795.8 144.8a3.4 3.4 0 1 0 6.8 0a3.4 3.4 0 1 0 -6.8 0M776.1 152a3.4 3.4 0 1 0 6.8 0a3.4 3.4 0 1 0 -6.8 0M833.4 161.7a3.4 3.4 0 1 0 6.8 0a3.4 3.4 0 1 0 -6.8 0M735.9 164.2a3.4 3.4 0 1 0 6.8 0a3.4 3.4 0 1 0 -6.8 0M864.7 151.7a3.4 3.4 0 1 0 6.8 0a3.4 3.4 0 1 0 -6.8 0M883.1 150.8a3.4 3.4 0 1 0 6.8 0a3.4 3.4 0 1 0 -6.8 0M746.8 152.4a3.4 3.4 0 1 0 6.8 0a3.4 3.4 0 1 0 -6.8 0M808.5 144.6a3.4 3.4 0 1 0 6.8 0a3.4 3.4 0 1 0 -6.8 0M758 149.3a3.4 3.4 0 1 0 6.8 0a3.4 3.4 0 1 0 -6.8 0M760 134.7a3.4 3.4 0 1 0 6.8 0a3.4 3.4 0 1 0 -6.8 0M736.1 138.2a3.4 3.4 0 1 0 6.8 0a3.4 3.4 0 1 0 -6.8 0M696.6 157a3.4 3.4 0 1 0 6.8 0a3.4 3.4 0 1 0 -6.8 0M904 146.5a3.4 3.4 0 1 0 6.8 0a3.4 3.4 0 1 0 -6.8 0M690.6 151.5a3.4 3.4 0 1 0 6.8 0a3.4 3.4 0 1 0 -6.8 0M765.2 160.8a3.4 3.4 0 1 0 6.8 0a3.4 3.4 0 1 0 -6.8 0M745.8 150.4a3.4 3.4 0 1 0 6.8 0a3.4 3.4 0 1 0 -6.8 0M705.1 140.2a3.4 3.4 0 1 0 6.8 0a3.4 3.4 0 1 0 -6.8 0M886.7 170.8a3.4 3.4 0 1 0 6.8 0a3.4 3.4 0 1 0 -6.8 0M727.8 158.4a3.4 3.4 0 1 0 6.8 0a3.4 3.4 0 1 0 -6.8 0M881 147a3.4 3.4 0 1 0 6.8 0a3.4 3.4 0 1 0 -6.8 0M796 148.9a3.4 3.4 0 1 0 6.8 0a3.4 3.4 0 1 0 -6.8 0M765.3 128.8a3.4 3.4 0 1 0 6.8 0a3.4 3.4 0 1 0 -6.8 0M828.5 145.9a3.4 3.4 0 1 0 6.8 0a3.4 3.4 0 1 0 -6.8 0M766.6 167.4a3.4 3.4 0 1 0 6.8 0a3.4 3.4 0 1 0 -6.8 0M778.1 150a3.4 3.4 0 1 0 6.8 0a3.4 3.4 0 1 0 -6.8 0M822.1 146.1a3.4 3.4 0 1 0 6.8 0a3.4 3.4 0 1 0 -6.8 0M800.1 163.8a3.4 3.4 0 1 0 6.8 0a3.4 3.4 0 1 0 -6.8 0M801.5 148.4a3.4 3.4 0 1 0 6.8 0a3.4 3.4 0 1 0 -6.8 0M763.3 155a3.4 3.4 0 1 0 6.8 0a3.4 3.4 0 1 0 -6.8 0M771.4 156.9a3.4 3.4 0 1 0 6.8 0a3.4 3.4 0 1 0 -6.8 0M761.5 136.1a3.4 3.4 0 1 0 6.8 0a3.4 3.4 0 1 0 -6.8 0M801.9 141.3a3.4 3.4 0 1 0 6.8 0a3.4 3.4 0 1 0 -6.8 0M826.6 147.8a3.4 3.4 0 1 0 6.8 0a3.4 3.4 0 1 0 -6.8 0M820.6 155.3a3.4 3.4 0 1 0 6.8 0a3.4 3.4 0 1 0 -6.8 0M819.5 146.3a3.4 3.4 0 1 0 6.8 0a3.4 3.4 0 1 0 -6.8 0M710.8 148.5a3.4 3.4 0 1 0 6.8 0a3.4 3.4 0 1 0 -6.8 0M706 168.5a3.4 3.4 0 1 0 6.8 0a3.4 3.4 0 1 0 -6.8 0M709 155.2a3.4 3.4 0 1 0 6.8 0a3.4 3.4 0 1 0 -6.8 0M875.8 148.3a3.4 3.4 0 1 0 6.8 0a3.4 3.4 0 1 0 -6.8 0M689.7 158.1a3.4 3.4 0 1 0 6.8 0a3.4 3.4 0 1 0 -6.8 0M864.8 161.2a3.4 3.4 0 1 0 6.8 0a3.4 3.4 0 1 0 -6.8 0M886.7 159.1a3.4 3.4 0 1 0 6.8 0a3.4 3.4 0 1 0 -6.8 0M785.2 147.1a3.4 3.4 0 1 0 6.8 0a3.4 3.4 0 1 0 -6.8 0M727.6 148.4a3.4 3.4 0 1 0 6.8 0a3.4 3.4 0 1 0 -6.8 0M880.7 151a3.4 3.4 0 1 0 6.8 0a3.4 3.4 0 1 0 -6.8 0M783.6 153.8a3.4 3.4 0 1 0 6.8 0a3.4 3.4 0 1 0 -6.8 0M702.7 140.9a3.4 3.4 0 1 0 6.8 0a3.4 3.4 0 1 0 -6.8 0M854.4 154.3a3.4 3.4 0 1 0 6.8 0a3.4 3.4 0 1 0 -6.8 0M812.7 154.4a3.4 3.4 0 1 0 6.8 0a3.4 3.4 0 1 0 -6.8 0M794.8 150.5a3.4 3.4 0 1 0 6.8 0a3.4 3.4 0 1 0 -6.8 0M782.2 147.7a3.4 3.4 0 1 0 6.8 0a3.4 3.4 0 1 0 -6.8 0M752.1 149.2a3.4 3.4 0 1 0 6.8 0a3.4 3.4 0 1 0 -6.8 0M869.8 157.8a3.4 3.4 0 1 0 6.8 0a3.4 3.4 0 1 0 -6.8 0M787.3 147.7a3.4 3.4 0 1 0 6.8 0a3.4 3.4 0 1 0 -6.8 0M792.9 155.4a3.4 3.4 0 1 0 6.8 0a3.4 3.4 0 1 0 -6.8 0M728.6 143.4a3.4 3.4 0 1 0 6.8 0a3.4 3.4 0 1 0 -6.8 0M818.6 141.8a3.4 3.4 0 1 0 6.8 0a3.4 3.4 0 1 0 -6.8 0M768.6 151.4a3.4 3.4 0 1 0 6.8 0a3.4 3.4 0 1 0 -6.8 0M759.5 160.6a3.4 3.4 0 1 0 6.8 0a3.4 3.4 0 1 0 -6.8 0M749.7 140.7a3.4 3.4 0 1 0 6.8 0a3.4 3.4 0 1 0 -6.8 0M880.9 152.4a3.4 3.4 0 1 0 6.8 0a3.4 3.4 0 1 0 -6.8 0M778.4 166.6a3.4 3.4 0 1 0 6.8 0a3.4 3.4 0 1 0 -6.8 0M761.3 147.4a3.4 3.4 0 1 0 6.8 0a3.4 3.4 0 1 0 -6.8 0M754.7 173.4a3.4 3.4 0 1 0 6.8 0a3.4 3.4 0 1 0 -6.8 0M824.6 143.5a3.4 3.4 0 1 0 6.8 0a3.4 3.4 0 1 0 -6.8 0M689.2 159a3.4 3.4 0 1 0 6.8 0a3.4 3.4 0 1 0 -6.8 0M805.5 151.9a3.4 3.4 0 1 0 6.8 0a3.4 3.4 0 1 0 -6.8 0M716.5 139a3.4 3.4 0 1 0 6.8 0a3.4 3.4 0 1 0 -6.8 0M701.4 153.8a3.4 3.4 0 1 0 6.8 0a3.4 3.4 0 1 0 -6.8 0M770 162.7a3.4 3.4 0 1 0 6.8 0a3.4 3.4 0 1 0 -6.8 0M895.6 153a3.4 3.4 0 1 0 6.8 0a3.4 3.4 0 1 0 -6.8 0M770.9 153.3a3.4 3.4 0 1 0 6.8 0a3.4 3.4 0 1 0 -6.8 0M889 149.7a3.4 3.4 0 1 0 6.8 0a3.4 3.4 0 1 0 -6.8 0M862.2 153.5a3.4 3.4 0 1 0 6.8 0a3.4 3.4 0 1 0 -6.8 0M724 144.7a3.4 3.4 0 1 0 6.8 0a3.4 3.4 0 1 0 -6.8 0M893.3 152a3.4 3.4 0 1 0 6.8 0a3.4 3.4 0 1 0 -6.8 0M711.2 154.6a3.4 3.4 0 1 0 6.8 0a3.4 3.4 0 1 0 -6.8 0M798.7 138.4a3.4 3.4 0 1 0 6.8 0a3.4 3.4 0 1 0 -6.8 0M763.9 160.6a3.4 3.4 0 1 0 6.8 0a3.4 3.4 0 1 0 -6.8 0M742.4 158.6a3.4 3.4 0 1 0 6.8 0a3.4 3.4 0 1 0 -6.8 0M844.2 144.2a3.4 3.4 0 1 0 6.8 0a3.4 3.4 0 1 0 -6.8 0M695 148.7a3.4 3.4 0 1 0 6.8 0a3.4 3.4 0 1 0 -6.8 0M686.4 151.3a3.4 3.4 0 1 0 6.8 0a3.4 3.4 0 1 0 -6.8 0M715 158.7a3.4 3.4 0 1 0 6.8 0a3.4 3.4 0 1 0 -6.8 0M853.6 141.8a3.4 3.4 0 1 0 6.8 0a3.4 3.4 0 1 0 -6.8 0M780.9 161.4a3.4 3.4 0 1 0 6.8 0a3.4 3.4 0 1 0 -6.8 0M715.7 145.2a3.4 3.4 0 1 0 6.8 0a3.4 3.4 0 1 0 -6.8 0M702.9 144.7a3.4 3.4 0 1 0 6.8 0a3.4 3.4 0 1 0 -6.8 0M807.5 139.5a3.4 3.4 0 1 0 6.8 0a3.4 3.4 0 1 0 -6.8 0M870.1 155.6a3.4 3.4 0 1 0 6.8 0a3.4 3.4 0 1 0 -6.8 0M788 150.8a3.4 3.4 0 1 0 6.8 0a3.4 3.4 0 1 0 -6.8 0M861 143a3.4 3.4 0 1 0 6.8 0a3.4 3.4 0 1 0 -6.8 0M888 166.1a3.4 3.4 0 1 0 6.8 0a3.4 3.4 0 1 0 -6.8 0M681.7 152.1a3.4 3.4 0 1 0 6.8 0a3.4 3.4 0 1 0 -6.8 0M845 153.3a3.4 3.4 0 1 0 6.8 0a3.4 3.4 0 1 0 -6.8 0M855.8 145a3.4 3.4 0 1 0 6.8 0a3.4 3.4 0 1 0 -6.8 0M839 156.1a3.4 3.4 0 1 0 6.8 0a3.4 3.4 0 1 0 -6.8 0M796.4 151.8a3.4 3.4 0 1 0 6.8 0a3.4 3.4 0 1 0 -6.8 0M792 154a3.4 3.4 0 1 0 6.8 0a3.4 3.4 0 1 0 -6.8 0M791.4 159.5a3.4 3.4 0 1 0 6.8 0a3.4 3.4 0 1 0 -6.8 0M737.1 145.7a3.4 3.4 0 1 0 6.8 0a3.4 3.4 0 1 0 -6.8 0M713.2 166.8a3.4 3.4 0 1 0 6.8 0a3.4 3.4 0 1 0 -6.8 0M794.6 155.9a3.4 3.4 0 1 0 6.8 0a3.4 3.4 0 1 0 -6.8 0M726.9 156.7a3.4 3.4 0 1 0 6.8 0a3.4 3.4 0 1 0 -6.8 0M843.1 147.7a3.4 3.4 0 1 0 6.8 0a3.4 3.4 0 1 0 -6.8 0M822.5 138a3.4 3.4 0 1 0 6.8 0a3.4 3.4 0 1 0 -6.8 0M676.3 152.7a3.4 3.4 0 1 0 6.8 0a3.4 3.4 0 1 0 -6.8 0M826.9 163.2a3.4 3.4 0 1 0 6.8 0a3.4 3.4 0 1 0 -6.8 0M690.7 151.4a3.4 3.4 0 1 0 6.8 0a3.4 3.4 0 1 0 -6.8 0M740.5 156.2a3.4 3.4 0 1 0 6.8 0a3.4 3.4 0 1 0 -6.8 0M724 146.6a3.4 3.4 0 1 0 6.8 0a3.4 3.4 0 1 0 -6.8 0M797.8 155a3.4 3.4 0 1 0 6.8 0a3.4 3.4 0 1 0 -6.8 0M818.1 139.8a3.4 3.4 0 1 0 6.8 0a3.4 3.4 0 1 0 -6.8 0M707.7 146.9a3.4 3.4 0 1 0 6.8 0a3.4 3.4 0 1 0 -6.8 0M702.7 154.1a3.4 3.4 0 1 0 6.8 0a3.4 3.4 0 1 0 -6.8 0M722.4 150.7a3.4 3.4 0 1 0 6.8 0a3.4 3.4 0 1 0 -6.8 0M847.2 150a3.4 3.4 0 1 0 6.8 0a3.4 3.4 0 1 0 -6.8 0M748.7 145.4a3.4 3.4 0 1 0 6.8 0a3.4 3.4 0 1 0 -6.8 0M788.9 151.3a3.4 3.4 0 1 0 6.8 0a3.4 3.4 0 1 0 -6.8 0M763.2 155a3.4 3.4 0 1 0 6.8 0a3.4 3.4 0 1 0 -6.8 0M831.4 154a3.4 3.4 0 1 0 6.8 0a3.4 3.4 0 1 0 -6.8 0M796.5 149.2a3.4 3.4 0 1 0 6.8 0a3.4 3.4 0 1 0 -6.8 0M846.4 156.7a3.4 3.4 0 1 0 6.8 0a3.4 3.4 0 1 0 -6.8 0M907 150.8a3.4 3.4 0 1 0 6.8 0a3.4 3.4 0 1 0 -6.8 0M821.3 158.3a3.4 3.4 0 1 0 6.8 0a3.4 3.4 0 1 0 -6.8 0M862.8 144.1a3.4 3.4 0 1 0 6.8 0a3.4 3.4 0 1 0 -6.8 0M881.5 150.4a3.4 3.4 0 1 0 6.8 0a3.4 3.4 0 1 0 -6.8 0M746.6 142a3.4 3.4 0 1 0 6.8 0a3.4 3.4 0 1 0 -6.8 0M691.3 152.8a3.4 3.4 0 1 0 6.8 0a3.4 3.4 0 1 0 -6.8 0M844.2 145.9a3.4 3.4 0 1 0 6.8 0a3.4 3.4 0 1 0 -6.8 0M680.3 154.3a3.4 3.4 0 1 0 6.8 0a3.4 3.4 0 1 0 -6.8 0M826 138.6a3.4 3.4 0 1 0 6.8 0a3.4 3.4 0 1 0 -6.8 0M881 150a3.4 3.4 0 1 0 6.8 0a3.4 3.4 0 1 0 -6.8 0M691.1 148.3a3.4 3.4 0 1 0 6.8 0a3.4 3.4 0 1 0 -6.8 0M803.5 166.3a3.4 3.4 0 1 0 6.8 0a3.4 3.4 0 1 0 -6.8 0M694.6 154.5a3.4 3.4 0 1 0 6.8 0a3.4 3.4 0 1 0 -6.8 0M899.6 157a3.4 3.4 0 1 0 6.8 0a3.4 3.4 0 1 0 -6.8 0M770.9 162.8a3.4 3.4 0 1 0 6.8 0a3.4 3.4 0 1 0 -6.8 0M822.1 149.9a3.4 3.4 0 1 0 6.8 0a3.4 3.4 0 1 0 -6.8 0M881.5 153.4a3.4 3.4 0 1 0 6.8 0a3.4 3.4 0 1 0 -6.8 0M870.9 149.6a3.4 3.4 0 1 0 6.8 0a3.4 3.4 0 1 0 -6.8 0M709.3 144.7a3.4 3.4 0 1 0 6.8 0a3.4 3.4 0 1 0 -6.8 0M833.6 144a3.4 3.4 0 1 0 6.8 0a3.4 3.4 0 1 0 -6.8 0M753.6 154.3a3.4 3.4 0 1 0 6.8 0a3.4 3.4 0 1 0 -6.8 0M814.1 132.4a3.4 3.4 0 1 0 6.8 0a3.4 3.4 0 1 0 -6.8 0M691.2 151.2a3.4 3.4 0 1 0 6.8 0a3.4 3.4 0 1 0 -6.8 0M706.3 166.1a3.4 3.4 0 1 0 6.8 0a3.4 3.4 0 1 0 -6.8 0M812.5 155a3.4 3.4 0 1 0 6.8 0a3.4 3.4 0 1 0 -6.8 0M795.6 151.2a3.4 3.4 0 1 0 6.8 0a3.4 3.4 0 1 0 -6.8 0M772.6 144.1a3.4 3.4 0 1 0 6.8 0a3.4 3.4 0 1 0 -6.8 0M737.3 162.4a3.4 3.4 0 1 0 6.8 0a3.4 3.4 0 1 0 -6.8 0M718.4 134.9a3.4 3.4 0 1 0 6.8 0a3.4 3.4 0 1 0 -6.8 0M793.8 153.2a3.4 3.4 0 1 0 6.8 0a3.4 3.4 0 1 0 -6.8 0M818.5 144.1a3.4 3.4 0 1 0 6.8 0a3.4 3.4 0 1 0 -6.8 0M771.7 152.2a3.4 3.4 0 1 0 6.8 0a3.4 3.4 0 1 0 -6.8 0M748.8 143.3a3.4 3.4 0 1 0 6.8 0a3.4 3.4 0 1 0 -6.8 0M767.8 146.5a3.4 3.4 0 1 0 6.8 0a3.4 3.4 0 1 0 -6.8 0M825.6 156.1a3.4 3.4 0 1 0 6.8 0a3.4 3.4 0 1 0 -6.8 0M686.1 148.5a3.4 3.4 0 1 0 6.8 0a3.4 3.4 0 1 0 -6.8 0M722.5 154.5a3.4 3.4 0 1 0 6.8 0a3.4 3.4 0 1 0 -6.8 0M883.8 147.1a3.4 3.4 0 1 0 6.8 0a3.4 3.4 0 1 0 -6.8 0M814.5 154a3.4 3.4 0 1 0 6.8 0a3.4 3.4 0 1 0 -6.8 0M724.7 153.9a3.4 3.4 0 1 0 6.8 0a3.4 3.4 0 1 0 -6.8 0M721.7 139.5a3.4 3.4 0 1 0 6.8 0a3.4 3.4 0 1 0 -6.8 0M878.7 138.5a3.4 3.4 0 1 0 6.8 0a3.4 3.4 0 1 0 -6.8 0M753.5 141.3a3.4 3.4 0 1 0 6.8 0a3.4 3.4 0 1 0 -6.8 0M791.9 155.3a3.4 3.4 0 1 0 6.8 0a3.4 3.4 0 1 0 -6.8 0M814.3 136.1a3.4 3.4 0 1 0 6.8 0a3.4 3.4 0 1 0 -6.8 0M702.9 147.5a3.4 3.4 0 1 0 6.8 0a3.4 3.4 0 1 0 -6.8 0M870.8 153.8a3.4 3.4 0 1 0 6.8 0a3.4 3.4 0 1 0 -6.8 0M737.1 148.6a3.4 3.4 0 1 0 6.8 0a3.4 3.4 0 1 0 -6.8 0M836.7 162.7a3.4 3.4 0 1 0 6.8 0a3.4 3.4 0 1 0 -6.8 0M821.8 144.5a3.4 3.4 0 1 0 6.8 0a3.4 3.4 0 1 0 -6.8 0M746.6 159.6a3.4 3.4 0 1 0 6.8 0a3.4 3.4 0 1 0 -6.8 0M737.1 157.7a3.4 3.4 0 1 0 6.8 0a3.4 3.4 0 1 0 -6.8 0M731.9 157.7a3.4 3.4 0 1 0 6.8 0a3.4 3.4 0 1 0 -6.8 0M857.5 148a3.4 3.4 0 1 0 6.8 0a3.4 3.4 0 1 0 -6.8 0M835.1 149.1a3.4 3.4 0 1 0 6.8 0a3.4 3.4 0 1 0 -6.8 0M816.7 153a3.4 3.4 0 1 0 6.8 0a3.4 3.4 0 1 0 -6.8 0M735.6 155a3.4 3.4 0 1 0 6.8 0a3.4 3.4 0 1 0 -6.8 0M850.5 144.3a3.4 3.4 0 1 0 6.8 0a3.4 3.4 0 1 0 -6.8 0M851.9 161.9a3.4 3.4 0 1 0 6.8 0a3.4 3.4 0 1 0 -6.8 0M826.5 149.2a3.4 3.4 0 1 0 6.8 0a3.4 3.4 0 1 0 -6.8 0M707.9 141.7a3.4 3.4 0 1 0 6.8 0a3.4 3.4 0 1 0 -6.8 0M787.2 147.4a3.4 3.4 0 1 0 6.8 0a3.4 3.4 0 1 0 -6.8 0M736.2 151.1a3.4 3.4 0 1 0 6.8 0a3.4 3.4 0 1 0 -6.8 0M689.2 150.2a3.4 3.4 0 1 0 6.8 0a3.4 3.4 0 1 0 -6.8 0M718.6 153.6a3.4 3.4 0 1 0 6.8 0a3.4 3.4 0 1 0 -6.8 0M734.8 150.5a3.4 3.4 0 1 0 6.8 0a3.4 3.4 0 1 0 -6.8 0M800.1 160.7a3.4 3.4 0 1 0 6.8 0a3.4 3.4 0 1 0 -6.8 0M813.4 153.3a3.4 3.4 0 1 0 6.8 0a3.4 3.4 0 1 0 -6.8 0M725.2 153.1a3.4 3.4 0 1 0 6.8 0a3.4 3.4 0 1 0 -6.8 0M861.8 152.6a3.4 3.4 0 1 0 6.8 0a3.4 3.4 0 1 0 -6.8 0M846.7 167.3a3.4 3.4 0 1 0 6.8 0a3.4 3.4 0 1 0 -6.8 0M885 162.2a3.4 3.4 0 1 0 6.8 0a3.4 3.4 0 1 0 -6.8 0M814 158.2a3.4 3.4 0 1 0 6.8 0a3.4 3.4 0 1 0 -6.8 0M716.8 168a3.4 3.4 0 1 0 6.8 0a3.4 3.4 0 1 0 -6.8 0M728.5 150.5a3.4 3.4 0 1 0 6.8 0a3.4 3.4 0 1 0 -6.8 0M827.5 147.2a3.4 3.4 0 1 0 6.8 0a3.4 3.4 0 1 0 -6.8 0M750.2 144.9a3.4 3.4 0 1 0 6.8 0a3.4 3.4 0 1 0 -6.8 0M712 147.5a3.4 3.4 0 1 0 6.8 0a3.4 3.4 0 1 0 -6.8 0M811.9 145.3a3.4 3.4 0 1 0 6.8 0a3.4 3.4 0 1 0 -6.8 0M722.9 143.6a3.4 3.4 0 1 0 6.8 0a3.4 3.4 0 1 0 -6.8 0M814.7 153a3.4 3.4 0 1 0 6.8 0a3.4 3.4 0 1 0 -6.8 0M688.8 151.2a3.4 3.4 0 1 0 6.8 0a3.4 3.4 0 1 0 -6.8 0M798.9 155.1a3.4 3.4 0 1 0 6.8 0a3.4 3.4 0 1 0 -6.8 0M808.6 159.5a3.4 3.4 0 1 0 6.8 0a3.4 3.4 0 1 0 -6.8 0M850.8 157.1a3.4 3.4 0 1 0 6.8 0a3.4 3.4 0 1 0 -6.8 0M733.8 155.2a3.4 3.4 0 1 0 6.8 0a3.4 3.4 0 1 0 -6.8 0M743 157.5a3.4 3.4 0 1 0 6.8 0a3.4 3.4 0 1 0 -6.8 0M745.7 160.5a3.4 3.4 0 1 0 6.8 0a3.4 3.4 0 1 0 -6.8 0M879.1 156.3a3.4 3.4 0 1 0 6.8 0a3.4 3.4 0 1 0 -6.8 0M858.7 147.5a3.4 3.4 0 1 0 6.8 0a3.4 3.4 0 1 0 -6.8 0M702.6 149.3a3.4 3.4 0 1 0 6.8 0a3.4 3.4 0 1 0 -6.8 0M746.2 160a3.4 3.4 0 1 0 6.8 0a3.4 3.4 0 1 0 -6.8 0M874.9 160.7a3.4 3.4 0 1 0 6.8 0a3.4 3.4 0 1 0 -6.8 0M709.3 148a3.4 3.4 0 1 0 6.8 0a3.4 3.4 0 1 0 -6.8 0M710.5 141.5a3.4 3.4 0 1 0 6.8 0a3.4 3.4 0 1 0 -6.8 0M803.1 148.4a3.4 3.4 0 1 0 6.8 0a3.4 3.4 0 1 0 -6.8 0M880.3 157.8a3.4 3.4 0 1 0 6.8 0a3.4 3.4 0 1 0 -6.8 0M745.7 152.7a3.4 3.4 0 1 0 6.8 0a3.4 3.4 0 1 0 -6.8 0M727.4 137.3a3.4 3.4 0 1 0 6.8 0a3.4 3.4 0 1 0 -6.8 0M844.4 156.6a3.4 3.4 0 1 0 6.8 0a3.4 3.4 0 1 0 -6.8 0M688.3 158.1a3.4 3.4 0 1 0 6.8 0a3.4 3.4 0 1 0 -6.8 0M764.8 149.2a3.4 3.4 0 1 0 6.8 0a3.4 3.4 0 1 0 -6.8 0M831.9 150.8a3.4 3.4 0 1 0 6.8 0a3.4 3.4 0 1 0 -6.8 0M779 142.5a3.4 3.4 0 1 0 6.8 0a3.4 3.4 0 1 0 -6.8 0M690.3 146.2a3.4 3.4 0 1 0 6.8 0a3.4 3.4 0 1 0 -6.8 0M834.9 152.3a3.4 3.4 0 1 0 6.8 0a3.4 3.4 0 1 0 -6.8 0M815.6 145.2a3.4 3.4 0 1 0 6.8 0a3.4 3.4 0 1 0 -6.8 0M756.3 162.8a3.4 3.4 0 1 0 6.8 0a3.4 3.4 0 1 0 -6.8 0M731.7 146.9a3.4 3.4 0 1 0 6.8 0a3.4 3.4 0 1 0 -6.8 0M801.2 159.1a3.4 3.4 0 1 0 6.8 0a3.4 3.4 0 1 0 -6.8 0M768.1 140.1a3.4 3.4 0 1 0 6.8 0a3.4 3.4 0 1 0 -6.8 0M824 160a3.4 3.4 0 1 0 6.8 0a3.4 3.4 0 1 0 -6.8 0M808.5 145.6a3.4 3.4 0 1 0 6.8 0a3.4 3.4 0 1 0 -6.8 0M695.2 166.7a3.4 3.4 0 1 0 6.8 0a3.4 3.4 0 1 0 -6.8 0M769.1 151.3a3.4 3.4 0 1 0 6.8 0a3.4 3.4 0 1 0 -6.8 0M816.8 164.2a3.4 3.4 0 1 0 6.8 0a3.4 3.4 0 1 0 -6.8 0M751.4 147a3.4 3.4 0 1 0 6.8 0a3.4 3.4 0 1 0 -6.8 0M912 147.9a3.4 3.4 0 1 0 6.8 0a3.4 3.4 0 1 0 -6.8 0M830.1 149.9a3.4 3.4 0 1 0 6.8 0a3.4 3.4 0 1 0 -6.8 0M827.6 156.7a3.4 3.4 0 1 0 6.8 0a3.4 3.4 0 1 0 -6.8 0M884.2 156.2a3.4 3.4 0 1 0 6.8 0a3.4 3.4 0 1 0 -6.8 0M763.2 152.6a3.4 3.4 0 1 0 6.8 0a3.4 3.4 0 1 0 -6.8 0M767.8 148.5a3.4 3.4 0 1 0 6.8 0a3.4 3.4 0 1 0 -6.8 0M789.4 161.9a3.4 3.4 0 1 0 6.8 0a3.4 3.4 0 1 0 -6.8 0M729.1 143a3.4 3.4 0 1 0 6.8 0a3.4 3.4 0 1 0 -6.8 0M809.9 155.1a3.4 3.4 0 1 0 6.8 0a3.4 3.4 0 1 0 -6.8 0M876.1 153.8a3.4 3.4 0 1 0 6.8 0a3.4 3.4 0 1 0 -6.8 0M827.4 156.4a3.4 3.4 0 1 0 6.8 0a3.4 3.4 0 1 0 -6.8 0M676.9 150.8a3.4 3.4 0 1 0 6.8 0a3.4 3.4 0 1 0 -6.8 0M846.5 149.1a3.4 3.4 0 1 0 6.8 0a3.4 3.4 0 1 0 -6.8 0M731.8 160.3a3.4 3.4 0 1 0 6.8 0a3.4 3.4 0 1 0 -6.8 0M829.4 149.9a3.4 3.4 0 1 0 6.8 0a3.4 3.4 0 1 0 -6.8 0M827.3 160.5a3.4 3.4 0 1 0 6.8 0a3.4 3.4 0 1 0 -6.8 0M892.4 155.9a3.4 3.4 0 1 0 6.8 0a3.4 3.4 0 1 0 -6.8 0M692.4 151.3a3.4 3.4 0 1 0 6.8 0a3.4 3.4 0 1 0 -6.8 0M770.1 166.3a3.4 3.4 0 1 0 6.8 0a3.4 3.4 0 1 0 -6.8 0M906.2 152.1a3.4 3.4 0 1 0 6.8 0a3.4 3.4 0 1 0 -6.8 0M821.7 150.7a3.4 3.4 0 1 0 6.8 0a3.4 3.4 0 1 0 -6.8 0M770.7 149.4a3.4 3.4 0 1 0 6.8 0a3.4 3.4 0 1 0 -6.8 0M818.4 142.7a3.4 3.4 0 1 0 6.8 0a3.4 3.4 0 1 0 -6.8 0M737.9 171.8a3.4 3.4 0 1 0 6.8 0a3.4 3.4 0 1 0 -6.8 0M854 167.6a3.4 3.4 0 1 0 6.8 0a3.4 3.4 0 1 0 -6.8 0M909.4 151a3.4 3.4 0 1 0 6.8 0a3.4 3.4 0 1 0 -6.8 0M899.2 156.6a3.4 3.4 0 1 0 6.8 0a3.4 3.4 0 1 0 -6.8 0M850.9 153.9a3.4 3.4 0 1 0 6.8 0a3.4 3.4 0 1 0 -6.8 0M827 148.3a3.4 3.4 0 1 0 6.8 0a3.4 3.4 0 1 0 -6.8 0M709.4 145a3.4 3.4 0 1 0 6.8 0a3.4 3.4 0 1 0 -6.8 0M772.1 153.3a3.4 3.4 0 1 0 6.8 0a3.4 3.4 0 1 0 -6.8 0M670.4 154.2a3.4 3.4 0 1 0 6.8 0a3.4 3.4 0 1 0 -6.8 0M879 157.2a3.4 3.4 0 1 0 6.8 0a3.4 3.4 0 1 0 -6.8 0M689.6 148.3a3.4 3.4 0 1 0 6.8 0a3.4 3.4 0 1 0 -6.8 0M678.9 150.4a3.4 3.4 0 1 0 6.8 0a3.4 3.4 0 1 0 -6.8 0M826.9 160.7a3.4 3.4 0 1 0 6.8 0a3.4 3.4 0 1 0 -6.8 0M720.2 156.3a3.4 3.4 0 1 0 6.8 0a3.4 3.4 0 1 0 -6.8 0M886.6 148.6a3.4 3.4 0 1 0 6.8 0a3.4 3.4 0 1 0 -6.8 0M787.4 152.4a3.4 3.4 0 1 0 6.8 0a3.4 3.4 0 1 0 -6.8 0M836.9 146.8a3.4 3.4 0 1 0 6.8 0a3.4 3.4 0 1 0 -6.8 0M832 142.8a3.4 3.4 0 1 0 6.8 0a3.4 3.4 0 1 0 -6.8 0M741 143.4a3.4 3.4 0 1 0 6.8 0a3.4 3.4 0 1 0 -6.8 0M755.3 144.7a3.4 3.4 0 1 0 6.8 0a3.4 3.4 0 1 0 -6.8 0M748.4 143.8a3.4 3.4 0 1 0 6.8 0a3.4 3.4 0 1 0 -6.8 0M887.2 153.4a3.4 3.4 0 1 0 6.8 0a3.4 3.4 0 1 0 -6.8 0M720.2 151.4a3.4 3.4 0 1 0 6.8 0a3.4 3.4 0 1 0 -6.8 0M829.5 146.9a3.4 3.4 0 1 0 6.8 0a3.4 3.4 0 1 0 -6.8 0M852.6 154.3a3.4 3.4 0 1 0 6.8 0a3.4 3.4 0 1 0 -6.8 0M827.4 148.5a3.4 3.4 0 1 0 6.8 0a3.4 3.4 0 1 0 -6.8 0M755.9 133.9a3.4 3.4 0 1 0 6.8 0a3.4 3.4 0 1 0 -6.8 0M689.1 147.4a3.4 3.4 0 1 0 6.8 0a3.4 3.4 0 1 0 -6.8 0M678.9 148.2a3.4 3.4 0 1 0 6.8 0a3.4 3.4 0 1 0 -6.8 0M809.4 150.3a3.4 3.4 0 1 0 6.8 0a3.4 3.4 0 1 0 -6.8 0M887.5 147.7a3.4 3.4 0 1 0 6.8 0a3.4 3.4 0 1 0 -6.8 0M825.7 150.5a3.4 3.4 0 1 0 6.8 0a3.4 3.4 0 1 0 -6.8 0M813 157.1a3.4 3.4 0 1 0 6.8 0a3.4 3.4 0 1 0 -6.8 0M802.7 153a3.4 3.4 0 1 0 6.8 0a3.4 3.4 0 1 0 -6.8 0M849.7 146.6a3.4 3.4 0 1 0 6.8 0a3.4 3.4 0 1 0 -6.8 0M908.9 155.4a3.4 3.4 0 1 0 6.8 0a3.4 3.4 0 1 0 -6.8 0M787.4 163.8a3.4 3.4 0 1 0 6.8 0a3.4 3.4 0 1 0 -6.8 0M777.6 154.5a3.4 3.4 0 1 0 6.8 0a3.4 3.4 0 1 0 -6.8 0M818.5 157.7a3.4 3.4 0 1 0 6.8 0a3.4 3.4 0 1 0 -6.8 0M698.4 153.1a3.4 3.4 0 1 0 6.8 0a3.4 3.4 0 1 0 -6.8 0M876.1 149.5a3.4 3.4 0 1 0 6.8 0a3.4 3.4 0 1 0 -6.8 0M802.8 154.5a3.4 3.4 0 1 0 6.8 0a3.4 3.4 0 1 0 -6.8 0M833 162.2a3.4 3.4 0 1 0 6.8 0a3.4 3.4 0 1 0 -6.8 0M857.5 157.6a3.4 3.4 0 1 0 6.8 0a3.4 3.4 0 1 0 -6.8 0M832.9 170.3a3.4 3.4 0 1 0 6.8 0a3.4 3.4 0 1 0 -6.8 0M797.4 152.2a3.4 3.4 0 1 0 6.8 0a3.4 3.4 0 1 0 -6.8 0M827.8 178a3.4 3.4 0 1 0 6.8 0a3.4 3.4 0 1 0 -6.8 0M794.5 144.4a3.4 3.4 0 1 0 6.8 0a3.4 3.4 0 1 0 -6.8 0M736.9 163.1a3.4 3.4 0 1 0 6.8 0a3.4 3.4 0 1 0 -6.8 0M829.2 154.4a3.4 3.4 0 1 0 6.8 0a3.4 3.4 0 1 0 -6.8 0M762.1 145.7a3.4 3.4 0 1 0 6.8 0a3.4 3.4 0 1 0 -6.8 0M869.1 160.3a3.4 3.4 0 1 0 6.8 0a3.4 3.4 0 1 0 -6.8 0M808.2 141.4a3.4 3.4 0 1 0 6.8 0a3.4 3.4 0 1 0 -6.8 0M699.7 148.8a3.4 3.4 0 1 0 6.8 0a3.4 3.4 0 1 0 -6.8 0M706.2 149.6a3.4 3.4 0 1 0 6.8 0a3.4 3.4 0 1 0 -6.8 0M717.8 133.8a3.4 3.4 0 1 0 6.8 0a3.4 3.4 0 1 0 -6.8 0M863.9 146.7a3.4 3.4 0 1 0 6.8 0a3.4 3.4 0 1 0 -6.8 0M709.8 147.3a3.4 3.4 0 1 0 6.8 0a3.4 3.4 0 1 0 -6.8 0M820.1 151.1a3.4 3.4 0 1 0 6.8 0a3.4 3.4 0 1 0 -6.8 0M731.4 159.5a3.4 3.4 0 1 0 6.8 0a3.4 3.4 0 1 0 -6.8 0M816.9 146.2a3.4 3.4 0 1 0 6.8 0a3.4 3.4 0 1 0 -6.8 0M848.2 146.3a3.4 3.4 0 1 0 6.8 0a3.4 3.4 0 1 0 -6.8 0M901.8 154a3.4 3.4 0 1 0 6.8 0a3.4 3.4 0 1 0 -6.8 0M707.3 154.8a3.4 3.4 0 1 0 6.8 0a3.4 3.4 0 1 0 -6.8 0M689.7 150.5a3.4 3.4 0 1 0 6.8 0a3.4 3.4 0 1 0 -6.8 0M674.6 153a3.4 3.4 0 1 0 6.8 0a3.4 3.4 0 1 0 -6.8 0M747.2 151.2a3.4 3.4 0 1 0 6.8 0a3.4 3.4 0 1 0 -6.8 0M871.3 152.8a3.4 3.4 0 1 0 6.8 0a3.4 3.4 0 1 0 -6.8 0M673.9 148.8a3.4 3.4 0 1 0 6.8 0a3.4 3.4 0 1 0 -6.8 0M880.8 152.8a3.4 3.4 0 1 0 6.8 0a3.4 3.4 0 1 0 -6.8 0M767.8 148a3.4 3.4 0 1 0 6.8 0a3.4 3.4 0 1 0 -6.8 0M777.3 160a3.4 3.4 0 1 0 6.8 0a3.4 3.4 0 1 0 -6.8 0M698.5 158.6a3.4 3.4 0 1 0 6.8 0a3.4 3.4 0 1 0 -6.8 0M830.2 132.4a3.4 3.4 0 1 0 6.8 0a3.4 3.4 0 1 0 -6.8 0M737.6 159.5a3.4 3.4 0 1 0 6.8 0a3.4 3.4 0 1 0 -6.8 0M849.1 138.1a3.4 3.4 0 1 0 6.8 0a3.4 3.4 0 1 0 -6.8 0M769.7 152.5a3.4 3.4 0 1 0 6.8 0a3.4 3.4 0 1 0 -6.8 0M801 158.1a3.4 3.4 0 1 0 6.8 0a3.4 3.4 0 1 0 -6.8 0M728 146.6a3.4 3.4 0 1 0 6.8 0a3.4 3.4 0 1 0 -6.8 0M872.2 146.7a3.4 3.4 0 1 0 6.8 0a3.4 3.4 0 1 0 -6.8 0M712.7 153.4a3.4 3.4 0 1 0 6.8 0a3.4 3.4 0 1 0 -6.8 0M813.6 153.9a3.4 3.4 0 1 0 6.8 0a3.4 3.4 0 1 0 -6.8 0M719.7 150.3a3.4 3.4 0 1 0 6.8 0a3.4 3.4 0 1 0 -6.8 0M768.5 151.5a3.4 3.4 0 1 0 6.8 0a3.4 3.4 0 1 0 -6.8 0M797.6 145a3.4 3.4 0 1 0 6.8 0a3.4 3.4 0 1 0 -6.8 0M822 147.6a3.4 3.4 0 1 0 6.8 0a3.4 3.4 0 1 0 -6.8 0M764.9 171.2a3.4 3.4 0 1 0 6.8 0a3.4 3.4 0 1 0 -6.8 0M789.7 150.9a3.4 3.4 0 1 0 6.8 0a3.4 3.4 0 1 0 -6.8 0M913.6 153.7a3.4 3.4 0 1 0 6.8 0a3.4 3.4 0 1 0 -6.8 0M721.4 166.2a3.4 3.4 0 1 0 6.8 0a3.4 3.4 0 1 0 -6.8 0M788.7 142.7a3.4 3.4 0 1 0 6.8 0a3.4 3.4 0 1 0 -6.8 0M828.1 159.7a3.4 3.4 0 1 0 6.8 0a3.4 3.4 0 1 0 -6.8 0M841.8 138.7a3.4 3.4 0 1 0 6.8 0a3.4 3.4 0 1 0 -6.8 0M739.2 152.2a3.4 3.4 0 1 0 6.8 0a3.4 3.4 0 1 0 -6.8 0M763.8 157.7a3.4 3.4 0 1 0 6.8 0a3.4 3.4 0 1 0 -6.8 0M713 156.4a3.4 3.4 0 1 0 6.8 0a3.4 3.4 0 1 0 -6.8 0M759.2 149.1a3.4 3.4 0 1 0 6.8 0a3.4 3.4 0 1 0 -6.8 0M682 153.4a3.4 3.4 0 1 0 6.8 0a3.4 3.4 0 1 0 -6.8 0M738.4 151.4a3.4 3.4 0 1 0 6.8 0a3.4 3.4 0 1 0 -6.8 0M825.8 144.2a3.4 3.4 0 1 0 6.8 0a3.4 3.4 0 1 0 -6.8 0M740.8 139.1a3.4 3.4 0 1 0 6.8 0a3.4 3.4 0 1 0 -6.8 0M769.9 171.3a3.4 3.4 0 1 0 6.8 0a3.4 3.4 0 1 0 -6.8 0M772.5 150.2a3.4 3.4 0 1 0 6.8 0a3.4 3.4 0 1 0 -6.8 0M892.4 152.7a3.4 3.4 0 1 0 6.8 0a3.4 3.4 0 1 0 -6.8 0M793.7 148.5a3.4 3.4 0 1 0 6.8 0a3.4 3.4 0 1 0 -6.8 0M848.4 148.3a3.4 3.4 0 1 0 6.8 0a3.4 3.4 0 1 0 -6.8 0M839.3 136.4a3.4 3.4 0 1 0 6.8 0a3.4 3.4 0 1 0 -6.8 0M718.5 154.4a3.4 3.4 0 1 0 6.8 0a3.4 3.4 0 1 0 -6.8 0M747.2 147.1a3.4 3.4 0 1 0 6.8 0a3.4 3.4 0 1 0 -6.8 0M814.1 140.6a3.4 3.4 0 1 0 6.8 0a3.4 3.4 0 1 0 -6.8 0M854.8 144.4a3.4 3.4 0 1 0 6.8 0a3.4 3.4 0 1 0 -6.8 0M758.7 152.5a3.4 3.4 0 1 0 6.8 0a3.4 3.4 0 1 0 -6.8 0M812 154.2a3.4 3.4 0 1 0 6.8 0a3.4 3.4 0 1 0 -6.8 0M754.8 149a3.4 3.4 0 1 0 6.8 0a3.4 3.4 0 1 0 -6.8 0M818.6 136.2a3.4 3.4 0 1 0 6.8 0a3.4 3.4 0 1 0 -6.8 0M884.7 151.4a3.4 3.4 0 1 0 6.8 0a3.4 3.4 0 1 0 -6.8 0M811.6 152a3.4 3.4 0 1 0 6.8 0a3.4 3.4 0 1 0 -6.8 0M770.8 155.3a3.4 3.4 0 1 0 6.8 0a3.4 3.4 0 1 0 -6.8 0M708.7 142.3a3.4 3.4 0 1 0 6.8 0a3.4 3.4 0 1 0 -6.8 0M883.8 149.9a3.4 3.4 0 1 0 6.8 0a3.4 3.4 0 1 0 -6.8 0M880.7 147.8a3.4 3.4 0 1 0 6.8 0a3.4 3.4 0 1 0 -6.8 0M881.7 153.1a3.4 3.4 0 1 0 6.8 0a3.4 3.4 0 1 0 -6.8 0M825 146.7a3.4 3.4 0 1 0 6.8 0a3.4 3.4 0 1 0 -6.8 0M761.7 153.4a3.4 3.4 0 1 0 6.8 0a3.4 3.4 0 1 0 -6.8 0M728.2 167.4a3.4 3.4 0 1 0 6.8 0a3.4 3.4 0 1 0 -6.8 0M794.5 152.5a3.4 3.4 0 1 0 6.8 0a3.4 3.4 0 1 0 -6.8 0M839.3 152.2a3.4 3.4 0 1 0 6.8 0a3.4 3.4 0 1 0 -6.8 0M699.6 153.8a3.4 3.4 0 1 0 6.8 0a3.4 3.4 0 1 0 -6.8 0M887.4 163.1a3.4 3.4 0 1 0 6.8 0a3.4 3.4 0 1 0 -6.8 0M702.6 153.5a3.4 3.4 0 1 0 6.8 0a3.4 3.4 0 1 0 -6.8 0M734.9 149.7a3.4 3.4 0 1 0 6.8 0a3.4 3.4 0 1 0 -6.8 0M696.2 148.7a3.4 3.4 0 1 0 6.8 0a3.4 3.4 0 1 0 -6.8 0M825.2 155.7a3.4 3.4 0 1 0 6.8 0a3.4 3.4 0 1 0 -6.8 0M872.8 149.7a3.4 3.4 0 1 0 6.8 0a3.4 3.4 0 1 0 -6.8 0M894.5 152.2a3.4 3.4 0 1 0 6.8 0a3.4 3.4 0 1 0 -6.8 0M776.7 157.7a3.4 3.4 0 1 0 6.8 0a3.4 3.4 0 1 0 -6.8 0M668.4 151.5a3.4 3.4 0 1 0 6.8 0a3.4 3.4 0 1 0 -6.8 0M832.4 160.7a3.4 3.4 0 1 0 6.8 0a3.4 3.4 0 1 0 -6.8 0M860.4 159.3a3.4 3.4 0 1 0 6.8 0a3.4 3.4 0 1 0 -6.8 0M797.4 152.1a3.4 3.4 0 1 0 6.8 0a3.4 3.4 0 1 0 -6.8 0M720.2 154.5a3.4 3.4 0 1 0 6.8 0a3.4 3.4 0 1 0 -6.8 0M800.9 153.3a3.4 3.4 0 1 0 6.8 0a3.4 3.4 0 1 0 -6.8 0M824.5 152.4a3.4 3.4 0 1 0 6.8 0a3.4 3.4 0 1 0 -6.8 0M848.3 158.9a3.4 3.4 0 1 0 6.8 0a3.4 3.4 0 1 0 -6.8 0M827.8 155.4a3.4 3.4 0 1 0 6.8 0a3.4 3.4 0 1 0 -6.8 0M755.5 165.4a3.4 3.4 0 1 0 6.8 0a3.4 3.4 0 1 0 -6.8 0M680.7 147.9a3.4 3.4 0 1 0 6.8 0a3.4 3.4 0 1 0 -6.8 0M777.5 144.8a3.4 3.4 0 1 0 6.8 0a3.4 3.4 0 1 0 -6.8 0M760.6 153.6a3.4 3.4 0 1 0 6.8 0a3.4 3.4 0 1 0 -6.8 0M738.9 162.7a3.4 3.4 0 1 0 6.8 0a3.4 3.4 0 1 0 -6.8 0M881.5 151.8a3.4 3.4 0 1 0 6.8 0a3.4 3.4 0 1 0 -6.8 0M692.3 153.5a3.4 3.4 0 1 0 6.8 0a3.4 3.4 0 1 0 -6.8 0M736.3 150.2a3.4 3.4 0 1 0 6.8 0a3.4 3.4 0 1 0 -6.8 0M799.6 148.3a3.4 3.4 0 1 0 6.8 0a3.4 3.4 0 1 0 -6.8 0M703.4 151.7a3.4 3.4 0 1 0 6.8 0a3.4 3.4 0 1 0 -6.8 0M769.5 154.7a3.4 3.4 0 1 0 6.8 0a3.4 3.4 0 1 0 -6.8 0M818.1 146.5a3.4 3.4 0 1 0 6.8 0a3.4 3.4 0 1 0 -6.8 0M820.7 151.2a3.4 3.4 0 1 0 6.8 0a3.4 3.4 0 1 0 -6.8 0M676.9 149.6a3.4 3.4 0 1 0 6.8 0a3.4 3.4 0 1 0 -6.8 0M819.3 142.3a3.4 3.4 0 1 0 6.8 0a3.4 3.4 0 1 0 -6.8 0M693.2 138.2a3.4 3.4 0 1 0 6.8 0a3.4 3.4 0 1 0 -6.8 0M693.9 146.4a3.4 3.4 0 1 0 6.8 0a3.4 3.4 0 1 0 -6.8 0M862.8 160.3a3.4 3.4 0 1 0 6.8 0a3.4 3.4 0 1 0 -6.8 0M712 169.2a3.4 3.4 0 1 0 6.8 0a3.4 3.4 0 1 0 -6.8 0M879.2 152.6a3.4 3.4 0 1 0 6.8 0a3.4 3.4 0 1 0 -6.8 0M802.9 149.2a3.4 3.4 0 1 0 6.8 0a3.4 3.4 0 1 0 -6.8 0M810.7 155.9a3.4 3.4 0 1 0 6.8 0a3.4 3.4 0 1 0 -6.8 0M823.1 151.9a3.4 3.4 0 1 0 6.8 0a3.4 3.4 0 1 0 -6.8 0M832 154.2a3.4 3.4 0 1 0 6.8 0a3.4 3.4 0 1 0 -6.8 0M754.1 157.1a3.4 3.4 0 1 0 6.8 0a3.4 3.4 0 1 0 -6.8 0M779.8 152.3a3.4 3.4 0 1 0 6.8 0a3.4 3.4 0 1 0 -6.8 0M859.2 148a3.4 3.4 0 1 0 6.8 0a3.4 3.4 0 1 0 -6.8 0M700.3 167a3.4 3.4 0 1 0 6.8 0a3.4 3.4 0 1 0 -6.8 0M815.8 168.4a3.4 3.4 0 1 0 6.8 0a3.4 3.4 0 1 0 -6.8 0M782.1 143a3.4 3.4 0 1 0 6.8 0a3.4 3.4 0 1 0 -6.8 0M789.4 153.1a3.4 3.4 0 1 0 6.8 0a3.4 3.4 0 1 0 -6.8 0M757 156.5a3.4 3.4 0 1 0 6.8 0a3.4 3.4 0 1 0 -6.8 0M885.2 154.9a3.4 3.4 0 1 0 6.8 0a3.4 3.4 0 1 0 -6.8 0M700.9 159.5a3.4 3.4 0 1 0 6.8 0a3.4 3.4 0 1 0 -6.8 0M685.6 148.5a3.4 3.4 0 1 0 6.8 0a3.4 3.4 0 1 0 -6.8 0M782.4 155.9a3.4 3.4 0 1 0 6.8 0a3.4 3.4 0 1 0 -6.8 0M732.5 167.8a3.4 3.4 0 1 0 6.8 0a3.4 3.4 0 1 0 -6.8 0M760.8 140.6a3.4 3.4 0 1 0 6.8 0a3.4 3.4 0 1 0 -6.8 0M692 151.9a3.4 3.4 0 1 0 6.8 0a3.4 3.4 0 1 0 -6.8 0M692.9 150.3a3.4 3.4 0 1 0 6.8 0a3.4 3.4 0 1 0 -6.8 0M843 147.2a3.4 3.4 0 1 0 6.8 0a3.4 3.4 0 1 0 -6.8 0M774 149.4a3.4 3.4 0 1 0 6.8 0a3.4 3.4 0 1 0 -6.8 0M795.4 173.2a3.4 3.4 0 1 0 6.8 0a3.4 3.4 0 1 0 -6.8 0M746.6 163.5a3.4 3.4 0 1 0 6.8 0a3.4 3.4 0 1 0 -6.8 0M757.8 158a3.4 3.4 0 1 0 6.8 0a3.4 3.4 0 1 0 -6.8 0M829.8 148.7a3.4 3.4 0 1 0 6.8 0a3.4 3.4 0 1 0 -6.8 0M725.3 144.4a3.4 3.4 0 1 0 6.8 0a3.4 3.4 0 1 0 -6.8 0M736.8 176.4a3.4 3.4 0 1 0 6.8 0a3.4 3.4 0 1 0 -6.8 0M761.3 141.8a3.4 3.4 0 1 0 6.8 0a3.4 3.4 0 1 0 -6.8 0M699.3 162.4a3.4 3.4 0 1 0 6.8 0a3.4 3.4 0 1 0 -6.8 0M727.7 146.6a3.4 3.4 0 1 0 6.8 0a3.4 3.4 0 1 0 -6.8 0M807.8 177.2a3.4 3.4 0 1 0 6.8 0a3.4 3.4 0 1 0 -6.8 0M743.6 158.5a3.4 3.4 0 1 0 6.8 0a3.4 3.4 0 1 0 -6.8 0M763 159.8a3.4 3.4 0 1 0 6.8 0a3.4 3.4 0 1 0 -6.8 0M687.5 150.4a3.4 3.4 0 1 0 6.8 0a3.4 3.4 0 1 0 -6.8 0M699.3 156.8a3.4 3.4 0 1 0 6.8 0a3.4 3.4 0 1 0 -6.8 0M825.8 148.1a3.4 3.4 0 1 0 6.8 0a3.4 3.4 0 1 0 -6.8 0M697.5 151.5a3.4 3.4 0 1 0 6.8 0a3.4 3.4 0 1 0 -6.8 0M885.6 146.2a3.4 3.4 0 1 0 6.8 0a3.4 3.4 0 1 0 -6.8 0M884.3 134.6a3.4 3.4 0 1 0 6.8 0a3.4 3.4 0 1 0 -6.8 0M864.5 148.8a3.4 3.4 0 1 0 6.8 0a3.4 3.4 0 1 0 -6.8 0M736.5 159a3.4 3.4 0 1 0 6.8 0a3.4 3.4 0 1 0 -6.8 0M828.7 143a3.4 3.4 0 1 0 6.8 0a3.4 3.4 0 1 0 -6.8 0M735 157.6a3.4 3.4 0 1 0 6.8 0a3.4 3.4 0 1 0 -6.8 0M809.2 149.9a3.4 3.4 0 1 0 6.8 0a3.4 3.4 0 1 0 -6.8 0M750.8 156.8a3.4 3.4 0 1 0 6.8 0a3.4 3.4 0 1 0 -6.8 0M756.2 150.4a3.4 3.4 0 1 0 6.8 0a3.4 3.4 0 1 0 -6.8 0M760.2 148.2a3.4 3.4 0 1 0 6.8 0a3.4 3.4 0 1 0 -6.8 0M834 153.4a3.4 3.4 0 1 0 6.8 0a3.4 3.4 0 1 0 -6.8 0M684.3 151.6a3.4 3.4 0 1 0 6.8 0a3.4 3.4 0 1 0 -6.8 0M852.5 157.5a3.4 3.4 0 1 0 6.8 0a3.4 3.4 0 1 0 -6.8 0M762.1 155.8a3.4 3.4 0 1 0 6.8 0a3.4 3.4 0 1 0 -6.8 0M766.1 150.6a3.4 3.4 0 1 0 6.8 0a3.4 3.4 0 1 0 -6.8 0M694.4 142a3.4 3.4 0 1 0 6.8 0a3.4 3.4 0 1 0 -6.8 0M749.8 163a3.4 3.4 0 1 0 6.8 0a3.4 3.4 0 1 0 -6.8 0M728.4 143.1a3.4 3.4 0 1 0 6.8 0a3.4 3.4 0 1 0 -6.8 0M753.1 157.2a3.4 3.4 0 1 0 6.8 0a3.4 3.4 0 1 0 -6.8 0M780.7 154.5a3.4 3.4 0 1 0 6.8 0a3.4 3.4 0 1 0 -6.8 0M714.7 153.4a3.4 3.4 0 1 0 6.8 0a3.4 3.4 0 1 0 -6.8 0M736.8 152.7a3.4 3.4 0 1 0 6.8 0a3.4 3.4 0 1 0 -6.8 0M709.2 156.7a3.4 3.4 0 1 0 6.8 0a3.4 3.4 0 1 0 -6.8 0M724.2 146.4a3.4 3.4 0 1 0 6.8 0a3.4 3.4 0 1 0 -6.8 0M781.3 145.7a3.4 3.4 0 1 0 6.8 0a3.4 3.4 0 1 0 -6.8 0M740.2 140.4a3.4 3.4 0 1 0 6.8 0a3.4 3.4 0 1 0 -6.8 0M797.8 163.4a3.4 3.4 0 1 0 6.8 0a3.4 3.4 0 1 0 -6.8 0M741.2 151.7a3.4 3.4 0 1 0 6.8 0a3.4 3.4 0 1 0 -6.8 0M785.5 156.3a3.4 3.4 0 1 0 6.8 0a3.4 3.4 0 1 0 -6.8 0M912.7 164.4a3.4 3.4 0 1 0 6.8 0a3.4 3.4 0 1 0 -6.8 0M671.4 148.8a3.4 3.4 0 1 0 6.8 0a3.4 3.4 0 1 0 -6.8 0M863.7 146.5a3.4 3.4 0 1 0 6.8 0a3.4 3.4 0 1 0 -6.8 0M766 154.5a3.4 3.4 0 1 0 6.8 0a3.4 3.4 0 1 0 -6.8 0M811.4 155.7a3.4 3.4 0 1 0 6.8 0a3.4 3.4 0 1 0 -6.8 0M727.8 145.1a3.4 3.4 0 1 0 6.8 0a3.4 3.4 0 1 0 -6.8 0M780 150.6a3.4 3.4 0 1 0 6.8 0a3.4 3.4 0 1 0 -6.8 0M762.5 155.9a3.4 3.4 0 1 0 6.8 0a3.4 3.4 0 1 0 -6.8 0M714.9 153.3a3.4 3.4 0 1 0 6.8 0a3.4 3.4 0 1 0 -6.8 0M693.4 147.3a3.4 3.4 0 1 0 6.8 0a3.4 3.4 0 1 0 -6.8 0M758.8 136.6a3.4 3.4 0 1 0 6.8 0a3.4 3.4 0 1 0 -6.8 0M767.3 154.4a3.4 3.4 0 1 0 6.8 0a3.4 3.4 0 1 0 -6.8 0M694.9 142.6a3.4 3.4 0 1 0 6.8 0a3.4 3.4 0 1 0 -6.8 0M715.2 146.8a3.4 3.4 0 1 0 6.8 0a3.4 3.4 0 1 0 -6.8 0M849 148.3a3.4 3.4 0 1 0 6.8 0a3.4 3.4 0 1 0 -6.8 0M686.4 151.2a3.4 3.4 0 1 0 6.8 0a3.4 3.4 0 1 0 -6.8 0M691.3 153.7a3.4 3.4 0 1 0 6.8 0a3.4 3.4 0 1 0 -6.8 0M828.3 159.9a3.4 3.4 0 1 0 6.8 0a3.4 3.4 0 1 0 -6.8 0M690.7 142.8a3.4 3.4 0 1 0 6.8 0a3.4 3.4 0 1 0 -6.8 0M688.9 152.2a3.4 3.4 0 1 0 6.8 0a3.4 3.4 0 1 0 -6.8 0M746 147.8a3.4 3.4 0 1 0 6.8 0a3.4 3.4 0 1 0 -6.8 0M713.3 149.6a3.4 3.4 0 1 0 6.8 0a3.4 3.4 0 1 0 -6.8 0M789 147a3.4 3.4 0 1 0 6.8 0a3.4 3.4 0 1 0 -6.8 0M814.7 168.3a3.4 3.4 0 1 0 6.8 0a3.4 3.4 0 1 0 -6.8 0M862.7 163.9a3.4 3.4 0 1 0 6.8 0a3.4 3.4 0 1 0 -6.8 0M887 137.9a3.4 3.4 0 1 0 6.8 0a3.4 3.4 0 1 0 -6.8 0M807 140.9a3.4 3.4 0 1 0 6.8 0a3.4 3.4 0 1 0 -6.8 0M866.1 153.4a3.4 3.4 0 1 0 6.8 0a3.4 3.4 0 1 0 -6.8 0M827.4 148.9a3.4 3.4 0 1 0 6.8 0a3.4 3.4 0 1 0 -6.8 0M830.9 152.9a3.4 3.4 0 1 0 6.8 0a3.4 3.4 0 1 0 -6.8 0M707.7 146.7a3.4 3.4 0 1 0 6.8 0a3.4 3.4 0 1 0 -6.8 0M766.7 141.3a3.4 3.4 0 1 0 6.8 0a3.4 3.4 0 1 0 -6.8 0M764.8 143.3a3.4 3.4 0 1 0 6.8 0a3.4 3.4 0 1 0 -6.8 0M786.3 161a3.4 3.4 0 1 0 6.8 0a3.4 3.4 0 1 0 -6.8 0M859.2 153.8a3.4 3.4 0 1 0 6.8 0a3.4 3.4 0 1 0 -6.8 0M812.7 154.7a3.4 3.4 0 1 0 6.8 0a3.4 3.4 0 1 0 -6.8 0M794.3 129.5a3.4 3.4 0 1 0 6.8 0a3.4 3.4 0 1 0 -6.8 0M736.1 153.4a3.4 3.4 0 1 0 6.8 0a3.4 3.4 0 1 0 -6.8 0M752 156.1a3.4 3.4 0 1 0 6.8 0a3.4 3.4 0 1 0 -6.8 0M720.3 147a3.4 3.4 0 1 0 6.8 0a3.4 3.4 0 1 0 -6.8 0M739.8 150.8a3.4 3.4 0 1 0 6.8 0a3.4 3.4 0 1 0 -6.8 0M885.7 151.8a3.4 3.4 0 1 0 6.8 0a3.4 3.4 0 1 0 -6.8 0M883.8 152.7a3.4 3.4 0 1 0 6.8 0a3.4 3.4 0 1 0 -6.8 0M857.6 154.8a3.4 3.4 0 1 0 6.8 0a3.4 3.4 0 1 0 -6.8 0M760.8 146.9a3.4 3.4 0 1 0 6.8 0a3.4 3.4 0 1 0 -6.8 0M721.7 165a3.4 3.4 0 1 0 6.8 0a3.4 3.4 0 1 0 -6.8 0M762 158.8a3.4 3.4 0 1 0 6.8 0a3.4 3.4 0 1 0 -6.8 0M793.7 156.1a3.4 3.4 0 1 0 6.8 0a3.4 3.4 0 1 0 -6.8 0M863.2 155.2a3.4 3.4 0 1 0 6.8 0a3.4 3.4 0 1 0 -6.8 0M829.3 161.1a3.4 3.4 0 1 0 6.8 0a3.4 3.4 0 1 0 -6.8 0M754.6 134.3a3.4 3.4 0 1 0 6.8 0a3.4 3.4 0 1 0 -6.8 0M842.7 148.5a3.4 3.4 0 1 0 6.8 0a3.4 3.4 0 1 0 -6.8 0M755.6 149.8a3.4 3.4 0 1 0 6.8 0a3.4 3.4 0 1 0 -6.8 0M835.5 148.4a3.4 3.4 0 1 0 6.8 0a3.4 3.4 0 1 0 -6.8 0M886.6 153.3a3.4 3.4 0 1 0 6.8 0a3.4 3.4 0 1 0 -6.8 0M883.7 151.3a3.4 3.4 0 1 0 6.8 0a3.4 3.4 0 1 0 -6.8 0M835.5 157.6a3.4 3.4 0 1 0 6.8 0a3.4 3.4 0 1 0 -6.8 0M700.7 151.9a3.4 3.4 0 1 0 6.8 0a3.4 3.4 0 1 0 -6.8 0M792.8 164a3.4 3.4 0 1 0 6.8 0a3.4 3.4 0 1 0 -6.8 0M818 147.1a3.4 3.4 0 1 0 6.8 0a3.4 3.4 0 1 0 -6.8 0M763 149.8a3.4 3.4 0 1 0 6.8 0a3.4 3.4 0 1 0 -6.8 0M775.3 155.9a3.4 3.4 0 1 0 6.8 0a3.4 3.4 0 1 0 -6.8 0M861.1 167.7a3.4 3.4 0 1 0 6.8 0a3.4 3.4 0 1 0 -6.8 0M777.8 158.4a3.4 3.4 0 1 0 6.8 0a3.4 3.4 0 1 0 -6.8 0M746 146.4a3.4 3.4 0 1 0 6.8 0a3.4 3.4 0 1 0 -6.8 0M794.7 150a3.4 3.4 0 1 0 6.8 0a3.4 3.4 0 1 0 -6.8 0M765.6 145.6a3.4 3.4 0 1 0 6.8 0a3.4 3.4 0 1 0 -6.8 0M794.3 158.3a3.4 3.4 0 1 0 6.8 0a3.4 3.4 0 1 0 -6.8 0M725.4 151.5a3.4 3.4 0 1 0 6.8 0a3.4 3.4 0 1 0 -6.8 0M814.8 156.2a3.4 3.4 0 1 0 6.8 0a3.4 3.4 0 1 0 -6.8 0M871.1 151.1a3.4 3.4 0 1 0 6.8 0a3.4 3.4 0 1 0 -6.8 0M864.6 151.6a3.4 3.4 0 1 0 6.8 0a3.4 3.4 0 1 0 -6.8 0M758.5 148.3a3.4 3.4 0 1 0 6.8 0a3.4 3.4 0 1 0 -6.8 0M699.1 176a3.4 3.4 0 1 0 6.8 0a3.4 3.4 0 1 0 -6.8 0M844.4 164.5a3.4 3.4 0 1 0 6.8 0a3.4 3.4 0 1 0 -6.8 0M806.6 141.5a3.4 3.4 0 1 0 6.8 0a3.4 3.4 0 1 0 -6.8 0M868.1 159.9a3.4 3.4 0 1 0 6.8 0a3.4 3.4 0 1 0 -6.8 0M912.3 147.6a3.4 3.4 0 1 0 6.8 0a3.4 3.4 0 1 0 -6.8 0M783.2 144.1a3.4 3.4 0 1 0 6.8 0a3.4 3.4 0 1 0 -6.8 0M725.6 151.9a3.4 3.4 0 1 0 6.8 0a3.4 3.4 0 1 0 -6.8 0M868.8 144.6a3.4 3.4 0 1 0 6.8 0a3.4 3.4 0 1 0 -6.8 0M689.9 151.6a3.4 3.4 0 1 0 6.8 0a3.4 3.4 0 1 0 -6.8 0M883.8 155.5a3.4 3.4 0 1 0 6.8 0a3.4 3.4 0 1 0 -6.8 0M827.5 155.9a3.4 3.4 0 1 0 6.8 0a3.4 3.4 0 1 0 -6.8 0M879.4 156.6a3.4 3.4 0 1 0 6.8 0a3.4 3.4 0 1 0 -6.8 0M822.7 149.2a3.4 3.4 0 1 0 6.8 0a3.4 3.4 0 1 0 -6.8 0M704.4 151.5a3.4 3.4 0 1 0 6.8 0a3.4 3.4 0 1 0 -6.8 0M841 156.3a3.4 3.4 0 1 0 6.8 0a3.4 3.4 0 1 0 -6.8 0M715.8 146a3.4 3.4 0 1 0 6.8 0a3.4 3.4 0 1 0 -6.8 0M806.1 164.5a3.4 3.4 0 1 0 6.8 0a3.4 3.4 0 1 0 -6.8 0M786.1 155.8a3.4 3.4 0 1 0 6.8 0a3.4 3.4 0 1 0 -6.8 0M768.1 155.9a3.4 3.4 0 1 0 6.8 0a3.4 3.4 0 1 0 -6.8 0M755.7 158.6a3.4 3.4 0 1 0 6.8 0a3.4 3.4 0 1 0 -6.8 0M814 153.8a3.4 3.4 0 1 0 6.8 0a3.4 3.4 0 1 0 -6.8 0M874.8 135.3a3.4 3.4 0 1 0 6.8 0a3.4 3.4 0 1 0 -6.8 0M743.3 142.6a3.4 3.4 0 1 0 6.8 0a3.4 3.4 0 1 0 -6.8 0M823.3 146.8a3.4 3.4 0 1 0 6.8 0a3.4 3.4 0 1 0 -6.8 0M813 154.5a3.4 3.4 0 1 0 6.8 0a3.4 3.4 0 1 0 -6.8 0M828.2 129.7a3.4 3.4 0 1 0 6.8 0a3.4 3.4 0 1 0 -6.8 0M773 150.9a3.4 3.4 0 1 0 6.8 0a3.4 3.4 0 1 0 -6.8 0M867.3 147.5a3.4 3.4 0 1 0 6.8 0a3.4 3.4 0 1 0 -6.8 0M744.7 152.5a3.4 3.4 0 1 0 6.8 0a3.4 3.4 0 1 0 -6.8 0M771.7 150a3.4 3.4 0 1 0 6.8 0a3.4 3.4 0 1 0 -6.8 0M704.7 160.7a3.4 3.4 0 1 0 6.8 0a3.4 3.4 0 1 0 -6.8 0M833.3 162.5a3.4 3.4 0 1 0 6.8 0a3.4 3.4 0 1 0 -6.8 0M917.1 147.3a3.4 3.4 0 1 0 6.8 0a3.4 3.4 0 1 0 -6.8 0M724 156.7a3.4 3.4 0 1 0 6.8 0a3.4 3.4 0 1 0 -6.8 0M784.8 152.3a3.4 3.4 0 1 0 6.8 0a3.4 3.4 0 1 0 -6.8 0M735.3 154a3.4 3.4 0 1 0 6.8 0a3.4 3.4 0 1 0 -6.8 0M880.1 153.6a3.4 3.4 0 1 0 6.8 0a3.4 3.4 0 1 0 -6.8 0M877.8 148.7a3.4 3.4 0 1 0 6.8 0a3.4 3.4 0 1 0 -6.8 0M695.4 171.8a3.4 3.4 0 1 0 6.8 0a3.4 3.4 0 1 0 -6.8 0M817.7 156.6a3.4 3.4 0 1 0 6.8 0a3.4 3.4 0 1 0 -6.8 0M709.4 152.6a3.4 3.4 0 1 0 6.8 0a3.4 3.4 0 1 0 -6.8 0M721.4 154.9a3.4 3.4 0 1 0 6.8 0a3.4 3.4 0 1 0 -6.8 0M786.1 164.6a3.4 3.4 0 1 0 6.8 0a3.4 3.4 0 1 0 -6.8 0M813.6 136.7a3.4 3.4 0 1 0 6.8 0a3.4 3.4 0 1 0 -6.8 0M795.2 151a3.4 3.4 0 1 0 6.8 0a3.4 3.4 0 1 0 -6.8 0M761.5 159.7a3.4 3.4 0 1 0 6.8 0a3.4 3.4 0 1 0 -6.8 0M870.1 152a3.4 3.4 0 1 0 6.8 0a3.4 3.4 0 1 0 -6.8 0M771 144.3a3.4 3.4 0 1 0 6.8 0a3.4 3.4 0 1 0 -6.8 0M812.9 153.7a3.4 3.4 0 1 0 6.8 0a3.4 3.4 0 1 0 -6.8 0M867.7 151.5a3.4 3.4 0 1 0 6.8 0a3.4 3.4 0 1 0 -6.8 0M758 157.4a3.4 3.4 0 1 0 6.8 0a3.4 3.4 0 1 0 -6.8 0M899.3 149a3.4 3.4 0 1 0 6.8 0a3.4 3.4 0 1 0 -6.8 0M777.4 127.2a3.4 3.4 0 1 0 6.8 0a3.4 3.4 0 1 0 -6.8 0M812.3 149.1a3.4 3.4 0 1 0 6.8 0a3.4 3.4 0 1 0 -6.8 0M851.3 154.6a3.4 3.4 0 1 0 6.8 0a3.4 3.4 0 1 0 -6.8 0M791.3 168.6a3.4 3.4 0 1 0 6.8 0a3.4 3.4 0 1 0 -6.8 0M740.8 146.3a3.4 3.4 0 1 0 6.8 0a3.4 3.4 0 1 0 -6.8 0M736.7 148.4a3.4 3.4 0 1 0 6.8 0a3.4 3.4 0 1 0 -6.8 0M746.7 152.3a3.4 3.4 0 1 0 6.8 0a3.4 3.4 0 1 0 -6.8 0M735 157.5a3.4 3.4 0 1 0 6.8 0a3.4 3.4 0 1 0 -6.8 0M843.7 144a3.4 3.4 0 1 0 6.8 0a3.4 3.4 0 1 0 -6.8 0M709.4 143.6a3.4 3.4 0 1 0 6.8 0a3.4 3.4 0 1 0 -6.8 0M728.7 145.1a3.4 3.4 0 1 0 6.8 0a3.4 3.4 0 1 0 -6.8 0M882.4 164.7a3.4 3.4 0 1 0 6.8 0a3.4 3.4 0 1 0 -6.8 0M875.9 163.8a3.4 3.4 0 1 0 6.8 0a3.4 3.4 0 1 0 -6.8 0M722.8 149.3a3.4 3.4 0 1 0 6.8 0a3.4 3.4 0 1 0 -6.8 0M713.3 150.3a3.4 3.4 0 1 0 6.8 0a3.4 3.4 0 1 0 -6.8 0M843.2 154.7a3.4 3.4 0 1 0 6.8 0a3.4 3.4 0 1 0 -6.8 0M802.2 154.8a3.4 3.4 0 1 0 6.8 0a3.4 3.4 0 1 0 -6.8 0M859.2 150.3a3.4 3.4 0 1 0 6.8 0a3.4 3.4 0 1 0 -6.8 0M790.6 153.4a3.4 3.4 0 1 0 6.8 0a3.4 3.4 0 1 0 -6.8 0M837.8 154.8a3.4 3.4 0 1 0 6.8 0a3.4 3.4 0 1 0 -6.8 0M710.6 173.3a3.4 3.4 0 1 0 6.8 0a3.4 3.4 0 1 0 -6.8 0M679.7 152.2a3.4 3.4 0 1 0 6.8 0a3.4 3.4 0 1 0 -6.8 0M716.6 141.5a3.4 3.4 0 1 0 6.8 0a3.4 3.4 0 1 0 -6.8 0M786.6 159.1a3.4 3.4 0 1 0 6.8 0a3.4 3.4 0 1 0 -6.8 0M761.9 140a3.4 3.4 0 1 0 6.8 0a3.4 3.4 0 1 0 -6.8 0M865.8 152.6a3.4 3.4 0 1 0 6.8 0a3.4 3.4 0 1 0 -6.8 0M681.7 148.8a3.4 3.4 0 1 0 6.8 0a3.4 3.4 0 1 0 -6.8 0M744.3 147.7a3.4 3.4 0 1 0 6.8 0a3.4 3.4 0 1 0 -6.8 0M853.8 166.6a3.4 3.4 0 1 0 6.8 0a3.4 3.4 0 1 0 -6.8 0M761.4 154a3.4 3.4 0 1 0 6.8 0a3.4 3.4 0 1 0 -6.8 0M824.1 145.5a3.4 3.4 0 1 0 6.8 0a3.4 3.4 0 1 0 -6.8 0M737.5 145.8a3.4 3.4 0 1 0 6.8 0a3.4 3.4 0 1 0 -6.8 0M866.6 147.6a3.4 3.4 0 1 0 6.8 0a3.4 3.4 0 1 0 -6.8 0M794.8 160.4a3.4 3.4 0 1 0 6.8 0a3.4 3.4 0 1 0 -6.8 0M715.5 151.6a3.4 3.4 0 1 0 6.8 0a3.4 3.4 0 1 0 -6.8 0M791.1 151.6a3.4 3.4 0 1 0 6.8 0a3.4 3.4 0 1 0 -6.8 0M865.2 162.9a3.4 3.4 0 1 0 6.8 0a3.4 3.4 0 1 0 -6.8 0M797.9 146.1a3.4 3.4 0 1 0 6.8 0a3.4 3.4 0 1 0 -6.8 0M747.8 146.1a3.4 3.4 0 1 0 6.8 0a3.4 3.4 0 1 0 -6.8 0M830.3 152.7a3.4 3.4 0 1 0 6.8 0a3.4 3.4 0 1 0 -6.8 0M883.8 149.2a3.4 3.4 0 1 0 6.8 0a3.4 3.4 0 1 0 -6.8 0M709.3 142.9a3.4 3.4 0 1 0 6.8 0a3.4 3.4 0 1 0 -6.8 0M860.1 159.2a3.4 3.4 0 1 0 6.8 0a3.4 3.4 0 1 0 -6.8 0M781.4 150.6a3.4 3.4 0 1 0 6.8 0a3.4 3.4 0 1 0 -6.8 0M802.7 152.5a3.4 3.4 0 1 0 6.8 0a3.4 3.4 0 1 0 -6.8 0M762.9 154.9a3.4 3.4 0 1 0 6.8 0a3.4 3.4 0 1 0 -6.8 0M745.8 152.4a3.4 3.4 0 1 0 6.8 0a3.4 3.4 0 1 0 -6.8 0M741.3 158.6a3.4 3.4 0 1 0 6.8 0a3.4 3.4 0 1 0 -6.8 0M766.4 153.9a3.4 3.4 0 1 0 6.8 0a3.4 3.4 0 1 0 -6.8 0M832.4 140.6a3.4 3.4 0 1 0 6.8 0a3.4 3.4 0 1 0 -6.8 0M773.9 165.7a3.4 3.4 0 1 0 6.8 0a3.4 3.4 0 1 0 -6.8 0M763 149.2a3.4 3.4 0 1 0 6.8 0a3.4 3.4 0 1 0 -6.8 0M827.8 150.7a3.4 3.4 0 1 0 6.8 0a3.4 3.4 0 1 0 -6.8 0M794.9 150.8a3.4 3.4 0 1 0 6.8 0a3.4 3.4 0 1 0 -6.8 0M716.9 145.5a3.4 3.4 0 1 0 6.8 0a3.4 3.4 0 1 0 -6.8 0M672.9 149.3a3.4 3.4 0 1 0 6.8 0a3.4 3.4 0 1 0 -6.8 0M689.9 155.2a3.4 3.4 0 1 0 6.8 0a3.4 3.4 0 1 0 -6.8 0M911.3 156.9a3.4 3.4 0 1 0 6.8 0a3.4 3.4 0 1 0 -6.8 0M809.3 138.8a3.4 3.4 0 1 0 6.8 0a3.4 3.4 0 1 0 -6.8 0M865.7 154.2a3.4 3.4 0 1 0 6.8 0a3.4 3.4 0 1 0 -6.8 0M774.2 154a3.4 3.4 0 1 0 6.8 0a3.4 3.4 0 1 0 -6.8 0M768.8 151.4a3.4 3.4 0 1 0 6.8 0a3.4 3.4 0 1 0 -6.8 0M897 159.2a3.4 3.4 0 1 0 6.8 0a3.4 3.4 0 1 0 -6.8 0M754.7 156.5a3.4 3.4 0 1 0 6.8 0a3.4 3.4 0 1 0 -6.8 0M815.5 154.2a3.4 3.4 0 1 0 6.8 0a3.4 3.4 0 1 0 -6.8 0M860.4 163.9a3.4 3.4 0 1 0 6.8 0a3.4 3.4 0 1 0 -6.8 0M723.1 145.6a3.4 3.4 0 1 0 6.8 0a3.4 3.4 0 1 0 -6.8 0M805.5 147.9a3.4 3.4 0 1 0 6.8 0a3.4 3.4 0 1 0 -6.8 0M765.2 144a3.4 3.4 0 1 0 6.8 0a3.4 3.4 0 1 0 -6.8 0M887.5 163.1a3.4 3.4 0 1 0 6.8 0a3.4 3.4 0 1 0 -6.8 0M716.6 148a3.4 3.4 0 1 0 6.8 0a3.4 3.4 0 1 0 -6.8 0M796.1 139.3a3.4 3.4 0 1 0 6.8 0a3.4 3.4 0 1 0 -6.8 0M707.3 144.8a3.4 3.4 0 1 0 6.8 0a3.4 3.4 0 1 0 -6.8 0M714.3 147.3a3.4 3.4 0 1 0 6.8 0a3.4 3.4 0 1 0 -6.8 0M697.3 154.2a3.4 3.4 0 1 0 6.8 0a3.4 3.4 0 1 0 -6.8 0M719.5 152.8a3.4 3.4 0 1 0 6.8 0a3.4 3.4 0 1 0 -6.8 0M770.8 151.3a3.4 3.4 0 1 0 6.8 0a3.4 3.4 0 1 0 -6.8 0M690.4 149.5a3.4 3.4 0 1 0 6.8 0a3.4 3.4 0 1 0 -6.8 0M887.1 150.5a3.4 3.4 0 1 0 6.8 0a3.4 3.4 0 1 0 -6.8 0M874.8 141.2a3.4 3.4 0 1 0 6.8 0a3.4 3.4 0 1 0 -6.8 0M720.5 151.8a3.4 3.4 0 1 0 6.8 0a3.4 3.4 0 1 0 -6.8 0M752.7 162.3a3.4 3.4 0 1 0 6.8 0a3.4 3.4 0 1 0 -6.8 0M703.6 146.9a3.4 3.4 0 1 0 6.8 0a3.4 3.4 0 1 0 -6.8 0M712.5 159a3.4 3.4 0 1 0 6.8 0a3.4 3.4 0 1 0 -6.8 0M829.2 152.9a3.4 3.4 0 1 0 6.8 0a3.4 3.4 0 1 0 -6.8 0M800.2 152.9a3.4 3.4 0 1 0 6.8 0a3.4 3.4 0 1 0 -6.8 0M732.4 150.8a3.4 3.4 0 1 0 6.8 0a3.4 3.4 0 1 0 -6.8 0M783.7 172.1a3.4 3.4 0 1 0 6.8 0a3.4 3.4 0 1 0 -6.8 0M756.8 149.9a3.4 3.4 0 1 0 6.8 0a3.4 3.4 0 1 0 -6.8 0M723.1 146.4a3.4 3.4 0 1 0 6.8 0a3.4 3.4 0 1 0 -6.8 0M698.1 149.1a3.4 3.4 0 1 0 6.8 0a3.4 3.4 0 1 0 -6.8 0M854.8 158.3a3.4 3.4 0 1 0 6.8 0a3.4 3.4 0 1 0 -6.8 0M715.8 151.2a3.4 3.4 0 1 0 6.8 0a3.4 3.4 0 1 0 -6.8 0M761.8 142.1a3.4 3.4 0 1 0 6.8 0a3.4 3.4 0 1 0 -6.8 0M822.4 150.8a3.4 3.4 0 1 0 6.8 0a3.4 3.4 0 1 0 -6.8 0M708.5 132a3.4 3.4 0 1 0 6.8 0a3.4 3.4 0 1 0 -6.8 0M823.9 157a3.4 3.4 0 1 0 6.8 0a3.4 3.4 0 1 0 -6.8 0M826 149a3.4 3.4 0 1 0 6.8 0a3.4 3.4 0 1 0 -6.8 0M829.4 156.3a3.4 3.4 0 1 0 6.8 0a3.4 3.4 0 1 0 -6.8 0M866.5 139.4a3.4 3.4 0 1 0 6.8 0a3.4 3.4 0 1 0 -6.8 0M720.1 145.1a3.4 3.4 0 1 0 6.8 0a3.4 3.4 0 1 0 -6.8 0M853.5 147.8a3.4 3.4 0 1 0 6.8 0a3.4 3.4 0 1 0 -6.8 0M812.2 150a3.4 3.4 0 1 0 6.8 0a3.4 3.4 0 1 0 -6.8 0M876.2 146.2a3.4 3.4 0 1 0 6.8 0a3.4 3.4 0 1 0 -6.8 0M798.4 155.4a3.4 3.4 0 1 0 6.8 0a3.4 3.4 0 1 0 -6.8 0M789 161.7a3.4 3.4 0 1 0 6.8 0a3.4 3.4 0 1 0 -6.8 0M845.9 152.5a3.4 3.4 0 1 0 6.8 0a3.4 3.4 0 1 0 -6.8 0M734 155.3a3.4 3.4 0 1 0 6.8 0a3.4 3.4 0 1 0 -6.8 0M852.4 149.3a3.4 3.4 0 1 0 6.8 0a3.4 3.4 0 1 0 -6.8 0M763.2 151.2a3.4 3.4 0 1 0 6.8 0a3.4 3.4 0 1 0 -6.8 0M789.8 154a3.4 3.4 0 1 0 6.8 0a3.4 3.4 0 1 0 -6.8 0M809.6 152.7a3.4 3.4 0 1 0 6.8 0a3.4 3.4 0 1 0 -6.8 0M762.5 152.7a3.4 3.4 0 1 0 6.8 0a3.4 3.4 0 1 0 -6.8 0M689.3 157.1a3.4 3.4 0 1 0 6.8 0a3.4 3.4 0 1 0 -6.8 0M781.1 148.6a3.4 3.4 0 1 0 6.8 0a3.4 3.4 0 1 0 -6.8 0M807.2 161a3.4 3.4 0 1 0 6.8 0a3.4 3.4 0 1 0 -6.8 0M832.7 145.6a3.4 3.4 0 1 0 6.8 0a3.4 3.4 0 1 0 -6.8 0M818.5 170.5a3.4 3.4 0 1 0 6.8 0a3.4 3.4 0 1 0 -6.8 0M762.6 147.8a3.4 3.4 0 1 0 6.8 0a3.4 3.4 0 1 0 -6.8 0M764.7 150.6a3.4 3.4 0 1 0 6.8 0a3.4 3.4 0 1 0 -6.8 0M792.4 146a3.4 3.4 0 1 0 6.8 0a3.4 3.4 0 1 0 -6.8 0M816 144.4a3.4 3.4 0 1 0 6.8 0a3.4 3.4 0 1 0 -6.8 0M842.2 150.8a3.4 3.4 0 1 0 6.8 0a3.4 3.4 0 1 0 -6.8 0M780.7 159.4a3.4 3.4 0 1 0 6.8 0a3.4 3.4 0 1 0 -6.8 0M746.9 150.8a3.4 3.4 0 1 0 6.8 0a3.4 3.4 0 1 0 -6.8 0M769.3 160.4a3.4 3.4 0 1 0 6.8 0a3.4 3.4 0 1 0 -6.8 0M692.9 151.4a3.4 3.4 0 1 0 6.8 0a3.4 3.4 0 1 0 -6.8 0M780.3 146.7a3.4 3.4 0 1 0 6.8 0a3.4 3.4 0 1 0 -6.8 0M785.7 152.3a3.4 3.4 0 1 0 6.8 0a3.4 3.4 0 1 0 -6.8 0M864.1 148.3a3.4 3.4 0 1 0 6.8 0a3.4 3.4 0 1 0 -6.8 0M883.7 146.5a3.4 3.4 0 1 0 6.8 0a3.4 3.4 0 1 0 -6.8 0M839.7 162.1a3.4 3.4 0 1 0 6.8 0a3.4 3.4 0 1 0 -6.8 0M752.8 152.2a3.4 3.4 0 1 0 6.8 0a3.4 3.4 0 1 0 -6.8 0M721.2 150.3a3.4 3.4 0 1 0 6.8 0a3.4 3.4 0 1 0 -6.8 0M820 150.2a3.4 3.4 0 1 0 6.8 0a3.4 3.4 0 1 0 -6.8 0M770.2 169.3a3.4 3.4 0 1 0 6.8 0a3.4 3.4 0 1 0 -6.8 0M720.5 145.8a3.4 3.4 0 1 0 6.8 0a3.4 3.4 0 1 0 -6.8 0M728.8 153.7a3.4 3.4 0 1 0 6.8 0a3.4 3.4 0 1 0 -6.8 0M670.9 151.1a3.4 3.4 0 1 0 6.8 0a3.4 3.4 0 1 0 -6.8 0M749.6 149.4a3.4 3.4 0 1 0 6.8 0a3.4 3.4 0 1 0 -6.8 0M889.2 141.5a3.4 3.4 0 1 0 6.8 0a3.4 3.4 0 1 0 -6.8 0M774.8 156.5a3.4 3.4 0 1 0 6.8 0a3.4 3.4 0 1 0 -6.8 0M815.8 149.4a3.4 3.4 0 1 0 6.8 0a3.4 3.4 0 1 0 -6.8 0M829.6 162.3a3.4 3.4 0 1 0 6.8 0a3.4 3.4 0 1 0 -6.8 0M845.5 153.1a3.4 3.4 0 1 0 6.8 0a3.4 3.4 0 1 0 -6.8 0M829.4 147.9a3.4 3.4 0 1 0 6.8 0a3.4 3.4 0 1 0 -6.8 0M885.6 155.5a3.4 3.4 0 1 0 6.8 0a3.4 3.4 0 1 0 -6.8 0M829.1 146.6a3.4 3.4 0 1 0 6.8 0a3.4 3.4 0 1 0 -6.8 0M827.1 153.8a3.4 3.4 0 1 0 6.8 0a3.4 3.4 0 1 0 -6.8 0M850.3 156.5a3.4 3.4 0 1 0 6.8 0a3.4 3.4 0 1 0 -6.8 0M869.2 127.6a3.4 3.4 0 1 0 6.8 0a3.4 3.4 0 1 0 -6.8 0M884.7 151.3a3.4 3.4 0 1 0 6.8 0a3.4 3.4 0 1 0 -6.8 0M738.9 152.3a3.4 3.4 0 1 0 6.8 0a3.4 3.4 0 1 0 -6.8 0M886.2 160.8a3.4 3.4 0 1 0 6.8 0a3.4 3.4 0 1 0 -6.8 0M867.3 152.3a3.4 3.4 0 1 0 6.8 0a3.4 3.4 0 1 0 -6.8 0M701.7 152.7a3.4 3.4 0 1 0 6.8 0a3.4 3.4 0 1 0 -6.8 0M802 144.4a3.4 3.4 0 1 0 6.8 0a3.4 3.4 0 1 0 -6.8 0M757 150.9a3.4 3.4 0 1 0 6.8 0a3.4 3.4 0 1 0 -6.8 0M848.8 146.9a3.4 3.4 0 1 0 6.8 0a3.4 3.4 0 1 0 -6.8 0M815.4 153.7a3.4 3.4 0 1 0 6.8 0a3.4 3.4 0 1 0 -6.8 0M749.8 145.5a3.4 3.4 0 1 0 6.8 0a3.4 3.4 0 1 0 -6.8 0M681.7 160.6a3.4 3.4 0 1 0 6.8 0a3.4 3.4 0 1 0 -6.8 0M829.3 161.2a3.4 3.4 0 1 0 6.8 0a3.4 3.4 0 1 0 -6.8 0M794.8 161.2a3.4 3.4 0 1 0 6.8 0a3.4 3.4 0 1 0 -6.8 0M870.3 159.1a3.4 3.4 0 1 0 6.8 0a3.4 3.4 0 1 0 -6.8 0M761.3 144.6a3.4 3.4 0 1 0 6.8 0a3.4 3.4 0 1 0 -6.8 0M895.4 152.3a3.4 3.4 0 1 0 6.8 0a3.4 3.4 0 1 0 -6.8 0M836.5 140.5a3.4 3.4 0 1 0 6.8 0a3.4 3.4 0 1 0 -6.8 0M793 157.8a3.4 3.4 0 1 0 6.8 0a3.4 3.4 0 1 0 -6.8 0M740.9 135.5a3.4 3.4 0 1 0 6.8 0a3.4 3.4 0 1 0 -6.8 0M885.6 152.1a3.4 3.4 0 1 0 6.8 0a3.4 3.4 0 1 0 -6.8 0M858.1 157.4a3.4 3.4 0 1 0 6.8 0a3.4 3.4 0 1 0 -6.8 0M827.8 139.8a3.4 3.4 0 1 0 6.8 0a3.4 3.4 0 1 0 -6.8 0M805.9 146.4a3.4 3.4 0 1 0 6.8 0a3.4 3.4 0 1 0 -6.8 0M746.8 157a3.4 3.4 0 1 0 6.8 0a3.4 3.4 0 1 0 -6.8 0M828.1 136.6a3.4 3.4 0 1 0 6.8 0a3.4 3.4 0 1 0 -6.8 0M796.5 145.8a3.4 3.4 0 1 0 6.8 0a3.4 3.4 0 1 0 -6.8 0M759.1 151.7a3.4 3.4 0 1 0 6.8 0a3.4 3.4 0 1 0 -6.8 0M751.8 164.5a3.4 3.4 0 1 0 6.8 0a3.4 3.4 0 1 0 -6.8 0M689.4 150.3a3.4 3.4 0 1 0 6.8 0a3.4 3.4 0 1 0 -6.8 0M734.6 149.9a3.4 3.4 0 1 0 6.8 0a3.4 3.4 0 1 0 -6.8 0M847.9 151.8a3.4 3.4 0 1 0 6.8 0a3.4 3.4 0 1 0 -6.8 0M689.1 149.3a3.4 3.4 0 1 0 6.8 0a3.4 3.4 0 1 0 -6.8 0M785.3 152.5a3.4 3.4 0 1 0 6.8 0a3.4 3.4 0 1 0 -6.8 0M895 151.5a3.4 3.4 0 1 0 6.8 0a3.4 3.4 0 1 0 -6.8 0M881.1 159.5a3.4 3.4 0 1 0 6.8 0a3.4 3.4 0 1 0 -6.8 0M769.6 152.8a3.4 3.4 0 1 0 6.8 0a3.4 3.4 0 1 0 -6.8 0M807.7 151.8a3.4 3.4 0 1 0 6.8 0a3.4 3.4 0 1 0 -6.8 0M726.5 153.6a3.4 3.4 0 1 0 6.8 0a3.4 3.4 0 1 0 -6.8 0M836.1 145.3a3.4 3.4 0 1 0 6.8 0a3.4 3.4 0 1 0 -6.8 0M783.1 158.5a3.4 3.4 0 1 0 6.8 0a3.4 3.4 0 1 0 -6.8 0M682.5 152.8a3.4 3.4 0 1 0 6.8 0a3.4 3.4 0 1 0 -6.8 0M698.1 154.5a3.4 3.4 0 1 0 6.8 0a3.4 3.4 0 1 0 -6.8 0M711.4 154.4a3.4 3.4 0 1 0 6.8 0a3.4 3.4 0 1 0 -6.8 0M812.4 153.5a3.4 3.4 0 1 0 6.8 0a3.4 3.4 0 1 0 -6.8 0M865 143.8a3.4 3.4 0 1 0 6.8 0a3.4 3.4 0 1 0 -6.8 0M744.8 150.7a3.4 3.4 0 1 0 6.8 0a3.4 3.4 0 1 0 -6.8 0M746 157.6a3.4 3.4 0 1 0 6.8 0a3.4 3.4 0 1 0 -6.8 0M745.4 150.5a3.4 3.4 0 1 0 6.8 0a3.4 3.4 0 1 0 -6.8 0M800 146.5a3.4 3.4 0 1 0 6.8 0a3.4 3.4 0 1 0 -6.8 0M797.7 152.5a3.4 3.4 0 1 0 6.8 0a3.4 3.4 0 1 0 -6.8 0M715.2 149.8a3.4 3.4 0 1 0 6.8 0a3.4 3.4 0 1 0 -6.8 0M731.5 147.7a3.4 3.4 0 1 0 6.8 0a3.4 3.4 0 1 0 -6.8 0M879.7 143.4a3.4 3.4 0 1 0 6.8 0a3.4 3.4 0 1 0 -6.8 0M753.6 159.6a3.4 3.4 0 1 0 6.8 0a3.4 3.4 0 1 0 -6.8 0M744.3 154.9a3.4 3.4 0 1 0 6.8 0a3.4 3.4 0 1 0 -6.8 0M696.2 147.2a3.4 3.4 0 1 0 6.8 0a3.4 3.4 0 1 0 -6.8 0M801.6 151.5a3.4 3.4 0 1 0 6.8 0a3.4 3.4 0 1 0 -6.8 0M773 146.7a3.4 3.4 0 1 0 6.8 0a3.4 3.4 0 1 0 -6.8 0M870.2 150.4a3.4 3.4 0 1 0 6.8 0a3.4 3.4 0 1 0 -6.8 0M797.7 153.8a3.4 3.4 0 1 0 6.8 0a3.4 3.4 0 1 0 -6.8 0M785.3 153.5a3.4 3.4 0 1 0 6.8 0a3.4 3.4 0 1 0 -6.8 0M905.9 147.8a3.4 3.4 0 1 0 6.8 0a3.4 3.4 0 1 0 -6.8 0M771.4 156a3.4 3.4 0 1 0 6.8 0a3.4 3.4 0 1 0 -6.8 0M841.2 144a3.4 3.4 0 1 0 6.8 0a3.4 3.4 0 1 0 -6.8 0M771 154.5a3.4 3.4 0 1 0 6.8 0a3.4 3.4 0 1 0 -6.8 0M809.2 145.2a3.4 3.4 0 1 0 6.8 0a3.4 3.4 0 1 0 -6.8 0M871.4 153.4a3.4 3.4 0 1 0 6.8 0a3.4 3.4 0 1 0 -6.8 0M711.9 150.7a3.4 3.4 0 1 0 6.8 0a3.4 3.4 0 1 0 -6.8 0M692.8 153.3a3.4 3.4 0 1 0 6.8 0a3.4 3.4 0 1 0 -6.8 0M754.2 159a3.4 3.4 0 1 0 6.8 0a3.4 3.4 0 1 0 -6.8 0M724.5 155.3a3.4 3.4 0 1 0 6.8 0a3.4 3.4 0 1 0 -6.8 0M712.3 153.1a3.4 3.4 0 1 0 6.8 0a3.4 3.4 0 1 0 -6.8 0M792.3 149.8a3.4 3.4 0 1 0 6.8 0a3.4 3.4 0 1 0 -6.8 0M881.1 153.7a3.4 3.4 0 1 0 6.8 0a3.4 3.4 0 1 0 -6.8 0M855.5 161a3.4 3.4 0 1 0 6.8 0a3.4 3.4 0 1 0 -6.8 0M881.2 164.1a3.4 3.4 0 1 0 6.8 0a3.4 3.4 0 1 0 -6.8 0M760.9 145.4a3.4 3.4 0 1 0 6.8 0a3.4 3.4 0 1 0 -6.8 0M673.2 153.2a3.4 3.4 0 1 0 6.8 0a3.4 3.4 0 1 0 -6.8 0M844.7 160.1a3.4 3.4 0 1 0 6.8 0a3.4 3.4 0 1 0 -6.8 0M703.7 150.2a3.4 3.4 0 1 0 6.8 0a3.4 3.4 0 1 0 -6.8 0M822.4 156.9a3.4 3.4 0 1 0 6.8 0a3.4 3.4 0 1 0 -6.8 0M690.5 151.4a3.4 3.4 0 1 0 6.8 0a3.4 3.4 0 1 0 -6.8 0M862.4 154.7a3.4 3.4 0 1 0 6.8 0a3.4 3.4 0 1 0 -6.8 0M893.2 145.4a3.4 3.4 0 1 0 6.8 0a3.4 3.4 0 1 0 -6.8 0M848.8 150.7a3.4 3.4 0 1 0 6.8 0a3.4 3.4 0 1 0 -6.8 0M685.2 145.2a3.4 3.4 0 1 0 6.8 0a3.4 3.4 0 1 0 -6.8 0M702.2 148.8a3.4 3.4 0 1 0 6.8 0a3.4 3.4 0 1 0 -6.8 0M851.2 150.6a3.4 3.4 0 1 0 6.8 0a3.4 3.4 0 1 0 -6.8 0M749.1 143.8a3.4 3.4 0 1 0 6.8 0a3.4 3.4 0 1 0 -6.8 0M880.8 155.1a3.4 3.4 0 1 0 6.8 0a3.4 3.4 0 1 0 -6.8 0M684.7 149a3.4 3.4 0 1 0 6.8 0a3.4 3.4 0 1 0 -6.8 0M864.3 137.9a3.4 3.4 0 1 0 6.8 0a3.4 3.4 0 1 0 -6.8 0M822 155.1a3.4 3.4 0 1 0 6.8 0a3.4 3.4 0 1 0 -6.8 0M731.9 155.7a3.4 3.4 0 1 0 6.8 0a3.4 3.4 0 1 0 -6.8 0M757.2 156.9a3.4 3.4 0 1 0 6.8 0a3.4 3.4 0 1 0 -6.8 0M870.4 150.1a3.4 3.4 0 1 0 6.8 0a3.4 3.4 0 1 0 -6.8 0M783.2 115.8a3.4 3.4 0 1 0 6.8 0a3.4 3.4 0 1 0 -6.8 0M695 125.1a3.4 3.4 0 1 0 6.8 0a3.4 3.4 0 1 0 -6.8 0M750.3 124.3a3.4 3.4 0 1 0 6.8 0a3.4 3.4 0 1 0 -6.8 0M767.2 124.3a3.4 3.4 0 1 0 6.8 0a3.4 3.4 0 1 0 -6.8 0M802.3 124.3a3.4 3.4 0 1 0 6.8 0a3.4 3.4 0 1 0 -6.8 0M791 125.1a3.4 3.4 0 1 0 6.8 0a3.4 3.4 0 1 0 -6.8 0M670.3 128.5a3.4 3.4 0 1 0 6.8 0a3.4 3.4 0 1 0 -6.8 0M660.5 141.4a3.4 3.4 0 1 0 6.8 0a3.4 3.4 0 1 0 -6.8 0M646.5 156a3.4 3.4 0 1 0 6.8 0a3.4 3.4 0 1 0 -6.8 0M665.3 182.1a3.4 3.4 0 1 0 6.8 0a3.4 3.4 0 1 0 -6.8 0M727.9 191.1a3.4 3.4 0 1 0 6.8 0a3.4 3.4 0 1 0 -6.8 0M730.1 193.9a3.4 3.4 0 1 0 6.8 0a3.4 3.4 0 1 0 -6.8 0M737.1 195.3a3.4 3.4 0 1 0 6.8 0a3.4 3.4 0 1 0 -6.8 0M727 207.9a3.4 3.4 0 1 0 6.8 0a3.4 3.4 0 1 0 -6.8 0M774.8 193a3.4 3.4 0 1 0 6.8 0a3.4 3.4 0 1 0 -6.8 0M777 200a3.4 3.4 0 1 0 6.8 0a3.4 3.4 0 1 0 -6.8 0M701.2 228.1a3.4 3.4 0 1 0 6.8 0a3.4 3.4 0 1 0 -6.8 0M797.2 248.6a3.4 3.4 0 1 0 6.8 0a3.4 3.4 0 1 0 -6.8 0M786.8 184.9a3.4 3.4 0 1 0 6.8 0a3.4 3.4 0 1 0 -6.8 0M818.3 186.9a3.4 3.4 0 1 0 6.8 0a3.4 3.4 0 1 0 -6.8 0M830.3 181.2a3.4 3.4 0 1 0 6.8 0a3.4 3.4 0 1 0 -6.8 0M685.8 168.6a3.4 3.4 0 1 0 6.8 0a3.4 3.4 0 1 0 -6.8 0M690 174.2a3.4 3.4 0 1 0 6.8 0a3.4 3.4 0 1 0 -6.8 0M722.3 172.8a3.4 3.4 0 1 0 6.8 0a3.4 3.4 0 1 0 -6.8 0M709.6 129.3a3.4 3.4 0 1 0 6.8 0a3.4 3.4 0 1 0 -6.8 0M720.9 132.1a3.4 3.4 0 1 0 6.8 0a3.4 3.4 0 1 0 -6.8 0M736.3 132.1a3.4 3.4 0 1 0 6.8 0a3.4 3.4 0 1 0 -6.8 0M747.5 133.5a3.4 3.4 0 1 0 6.8 0a3.4 3.4 0 1 0 -6.8 0M760.2 129.3a3.4 3.4 0 1 0 6.8 0a3.4 3.4 0 1 0 -6.8 0M775.6 132.1a3.4 3.4 0 1 0 6.8 0a3.4 3.4 0 1 0 -6.8 0M792.5 129.3a3.4 3.4 0 1 0 6.8 0a3.4 3.4 0 1 0 -6.8 0M803.7 130.7a3.4 3.4 0 1 0 6.8 0a3.4 3.4 0 1 0 -6.8 0M824.7 132.1a3.4 3.4 0 1 0 6.8 0a3.4 3.4 0 1 0 -6.8 0M677.3 143.3a3.4 3.4 0 1 0 6.8 0a3.4 3.4 0 1 0 -6.8 0M687.2 139.1a3.4 3.4 0 1 0 6.8 0a3.4 3.4 0 1 0 -6.8 0M743.3 174.2a3.4 3.4 0 1 0 6.8 0a3.4 3.4 0 1 0 -6.8 0M753.1 175.6a3.4 3.4 0 1 0 6.8 0a3.4 3.4 0 1 0 -6.8 0M768.6 170a3.4 3.4 0 1 0 6.8 0a3.4 3.4 0 1 0 -6.8 0M777 174.2a3.4 3.4 0 1 0 6.8 0a3.4 3.4 0 1 0 -6.8 0M793.9 174.2a3.4 3.4 0 1 0 6.8 0a3.4 3.4 0 1 0 -6.8 0M805.1 168.6a3.4 3.4 0 1 0 6.8 0a3.4 3.4 0 1 0 -6.8 0M824.7 171.4a3.4 3.4 0 1 0 6.8 0a3.4 3.4 0 1 0 -6.8 0M702.6 172.8a3.4 3.4 0 1 0 6.8 0a3.4 3.4 0 1 0 -6.8 0M723.6 174.2a3.4 3.4 0 1 0 6.8 0a3.4 3.4 0 1 0 -6.8 0M798.1 177a3.4 3.4 0 1 0 6.8 0a3.4 3.4 0 1 0 -6.8 0M804.6 181.2a3.4 3.4 0 1 0 6.8 0a3.4 3.4 0 1 0 -6.8 0M788.2 184a3.4 3.4 0 1 0 6.8 0a3.4 3.4 0 1 0 -6.8 0M948.9 115.8a3.4 3.4 0 1 0 6.8 0a3.4 3.4 0 1 0 -6.8 0M949.6 116.5a3.4 3.4 0 1 0 6.8 0a3.4 3.4 0 1 0 -6.8 0M1012 117.5a3.4 3.4 0 1 0 6.8 0a3.4 3.4 0 1 0 -6.8 0M875.3 124.3a3.4 3.4 0 1 0 6.8 0a3.4 3.4 0 1 0 -6.8 0M913.2 130.7a3.4 3.4 0 1 0 6.8 0a3.4 3.4 0 1 0 -6.8 0M941.3 132.1a3.4 3.4 0 1 0 6.8 0a3.4 3.4 0 1 0 -6.8 0M995.5 134.4a3.4 3.4 0 1 0 6.8 0a3.4 3.4 0 1 0 -6.8 0M973 137.2a3.4 3.4 0 1 0 6.8 0a3.4 3.4 0 1 0 -6.8 0M956.7 138.3a3.4 3.4 0 1 0 6.8 0a3.4 3.4 0 1 0 -6.8 0M946.9 139.1a3.4 3.4 0 1 0 6.8 0a3.4 3.4 0 1 0 -6.8 0M921.6 138.3a3.4 3.4 0 1 0 6.8 0a3.4 3.4 0 1 0 -6.8 0M910.4 138.3a3.4 3.4 0 1 0 6.8 0a3.4 3.4 0 1 0 -6.8 0M966.6 142.8a3.4 3.4 0 1 0 6.8 0a3.4 3.4 0 1 0 -6.8 0M1003.1 145.6a3.4 3.4 0 1 0 6.8 0a3.4 3.4 0 1 0 -6.8 0M952.5 147.6a3.4 3.4 0 1 0 6.8 0a3.4 3.4 0 1 0 -6.8 0M932.9 146.1a3.4 3.4 0 1 0 6.8 0a3.4 3.4 0 1 0 -6.8 0M941.3 147.6a3.4 3.4 0 1 0 6.8 0a3.4 3.4 0 1 0 -6.8 0M977.8 151.2a3.4 3.4 0 1 0 6.8 0a3.4 3.4 0 1 0 -6.8 0M1021.3 154a3.4 3.4 0 1 0 6.8 0a3.4 3.4 0 1 0 -6.8 0M1008.7 155.1a3.4 3.4 0 1 0 6.8 0a3.4 3.4 0 1 0 -6.8 0M1035.4 156.8a3.4 3.4 0 1 0 6.8 0a3.4 3.4 0 1 0 -6.8 0M994.6 157.4a3.4 3.4 0 1 0 6.8 0a3.4 3.4 0 1 0 -6.8 0M967.1 158a3.4 3.4 0 1 0 6.8 0a3.4 3.4 0 1 0 -6.8 0M953.4 158.8a3.4 3.4 0 1 0 6.8 0a3.4 3.4 0 1 0 -6.8 0M953.9 165.8a3.4 3.4 0 1 0 6.8 0a3.4 3.4 0 1 0 -6.8 0M941.3 173.4a3.4 3.4 0 1 0 6.8 0a3.4 3.4 0 1 0 -6.8 0M932 169.4a3.4 3.4 0 1 0 6.8 0a3.4 3.4 0 1 0 -6.8 0M902.8 165.8a3.4 3.4 0 1 0 6.8 0a3.4 3.4 0 1 0 -6.8 0M916 186.9a3.4 3.4 0 1 0 6.8 0a3.4 3.4 0 1 0 -6.8 0M883.7 187.7a3.4 3.4 0 1 0 6.8 0a3.4 3.4 0 1 0 -6.8 0M877.6 184a3.4 3.4 0 1 0 6.8 0a3.4 3.4 0 1 0 -6.8 0M884.6 176.2a3.4 3.4 0 1 0 6.8 0a3.4 3.4 0 1 0 -6.8 0M861.3 213a3.4 3.4 0 1 0 6.8 0a3.4 3.4 0 1 0 -6.8 0M862.7 214.4a3.4 3.4 0 1 0 6.8 0a3.4 3.4 0 1 0 -6.8 0M871.1 234a3.4 3.4 0 1 0 6.8 0a3.4 3.4 0 1 0 -6.8 0M843.9 175.6a3.4 3.4 0 1 0 6.8 0a3.4 3.4 0 1 0 -6.8 0M854.8 172.8a3.4 3.4 0 1 0 6.8 0a3.4 3.4 0 1 0 -6.8 0M829 171.4a3.4 3.4 0 1 0 6.8 0a3.4 3.4 0 1 0 -6.8 0M829.8 182.1a3.4 3.4 0 1 0 6.8 0a3.4 3.4 0 1 0 -6.8 0M864.1 129.3a3.4 3.4 0 1 0 6.8 0a3.4 3.4 0 1 0 -6.8 0M869.1 131.5a3.4 3.4 0 1 0 6.8 0a3.4 3.4 0 1 0 -6.8 0M840.2 132.1a3.4 3.4 0 1 0 6.8 0a3.4 3.4 0 1 0 -6.8 0M879.6 135.5a3.4 3.4 0 1 0 6.8 0a3.4 3.4 0 1 0 -6.8 0M892.2 137.2a3.4 3.4 0 1 0 6.8 0a3.4 3.4 0 1 0 -6.8 0M883.7 140.5a3.4 3.4 0 1 0 6.8 0a3.4 3.4 0 1 0 -6.8 0M902 143.3a3.4 3.4 0 1 0 6.8 0a3.4 3.4 0 1 0 -6.8 0M920.2 145.6a3.4 3.4 0 1 0 6.8 0a3.4 3.4 0 1 0 -6.8 0M994.2 157.6a3.4 3.4 0 1 0 6.8 0a3.4 3.4 0 1 0 -6.8 0M1009 155.2a3.4 3.4 0 1 0 6.8 0a3.4 3.4 0 1 0 -6.8 0M1022 154.8a3.4 3.4 0 1 0 6.8 0a3.4 3.4 0 1 0 -6.8 0M1036.4 157.3a3.4 3.4 0 1 0 6.8 0a3.4 3.4 0 1 0 -6.8 0" fill="#000"/>
<rect x="624.7" y="122.9" width="416.8" height="4.8" fill="#ff0000"/>
<rect x="624.7" y="151.7" width="416.8" height="4.8" fill="#ff0000"/>
<rect x="624.7" y="180.6" width="416.8" height="4.8" fill="#ff0000"/>
<path d="M78.3 400.8H495.8V658.2H78.3ZM95 658.2v-3M95 400.8v3M111.7 658.2v-3M111.7 400.8v3M128.4 658.2v-3M128.4 400.8v3M145.1 658.2v-3M145.1 400.8v3M161.8 658.2v-5M161.8 400.8v5M178.5 658.2v-3M178.5 400.8v3M195.2 658.2v-3M195.2 400.8v3M211.9 658.2v-3M211.9 400.8v3M228.6 658.2v-3M228.6 400.8v3M245.3 658.2v-5M245.3 400.8v5M262 658.2v-3M262 400.8v3M278.7 658.2v-3M278.7 400.8v3M295.4 658.2v-3M295.4 400.8v3M312.1 658.2v-3M312.1 400.8v3M328.8 658.2v-5M328.8 400.8v5M345.5 658.2v-3M345.5 400.8v3M362.2 658.2v-3M362.2 400.8v3M378.9 658.2v-3M378.9 400.8v3M395.6 658.2v-3M395.6 400.8v3M412.3 658.2v-5M412.3 400.8v5M429 658.2v-3M429 400.8v3M445.7 658.2v-3M445.7 400.8v3M462.4 658.2v-3M462.4 400.8v3M479.1 658.2v-3M479.1 400.8v3M78.3 645.3h3M495.8 645.3h-3M78.3 632.5h3M495.8 632.5h-3M78.3 619.6h3M495.8 619.6h-3M78.3 606.7h3M495.8 606.7h-3M78.3 593.9h5M495.8 593.9h-5M78.3 581h3M495.8 581h-3M78.3 568.1h3M495.8 568.1h-3M78.3 555.2h3M495.8 555.2h-3M78.3 542.4h3M495.8 542.4h-3M78.3 529.5h5M495.8 529.5h-5M78.3 516.6h3M495.8 516.6h-3M78.3 503.8h3M495.8 503.8h-3M78.3 490.9h3M495.8 490.9h-3M78.3 478h3M495.8 478h-3M78.3 465.2h5M495.8 465.2h-5M78.3 452.3h3M495.8 452.3h-3M78.3 439.4h3M495.8 439.4h-3M78.3 426.5h3M495.8 426.5h-3M78.3 413.7h3M495.8 413.7h-3" stroke="#8a8a8a" stroke-width="1" fill="none"/>
<path d="M427.1 524.5a3.4 3.4 0 1 0 6.8 0a3.4 3.4 0 1 0 -6.8 0M211.2 543.8a3.4 3.4 0 1 0 6.8 0a3.4 3.4 0 1 0 -6.8 0M413.7 546.9a3.4 3.4 0 1 0 6.8 0a3.4 3.4 0 1 0 -6.8 0M310.5 545.2a3.4 3.4 0 1 0 6.8 0a3.4 3.4 0 1 0 -6.8 0M351.8 531.4a3.4 3.4 0 1 0 6.8 0a3.4 3.4 0 1 0 -6.8 0M206 540a3.4 3.4 0 1 0 6.8 0a3.4 3.4 0 1 0 -6.8 0M443.6 562.8a3.4 3.4 0 1 0 6.8 0a3.4 3.4 0 1 0 -6.8 0M453.7 534.6a3.4 3.4 0 1 0 6.8 0a3.4 3.4 0 1 0 -6.8 0M436.4 531.8a3.4 3.4 0 1 0 6.8 0a3.4 3.4 0 1 0 -6.8 0M354 526.5a3.4 3.4 0 1 0 6.8 0a3.4 3.4 0 1 0 -6.8 0M401.9 547.3a3.4 3.4 0 1 0 6.8 0a3.4 3.4 0 1 0 -6.8 0M393.3 565.4a3.4 3.4 0 1 0 6.8 0a3.4 3.4 0 1 0 -6.8 0M347.1 530.6a3.4 3.4 0 1 0 6.8 0a3.4 3.4 0 1 0 -6.8 0M344 531.6a3.4 3.4 0 1 0 6.8 0a3.4 3.4 0 1 0 -6.8 0M340.5 530.8a3.4 3.4 0 1 0 6.8 0a3.4 3.4 0 1 0 -6.8 0M419.3 540.8a3.4 3.4 0 1 0 6.8 0a3.4 3.4 0 1 0 -6.8 0M390.1 536.2a3.4 3.4 0 1 0 6.8 0a3.4 3.4 0 1 0 -6.8 0M353.4 549.6a3.4 3.4 0 1 0 6.8 0a3.4 3.4 0 1 0 -6.8 0M298 541.5a3.4 3.4 0 1 0 6.8 0a3.4 3.4 0 1 0 -6.8 0M266 543a3.4 3.4 0 1 0 6.8 0a3.4 3.4 0 1 0 -6.8 0M363.7 531.1a3.4 3.4 0 1 0 6.8 0a3.4 3.4 0 1 0 -6.8 0M288.2 535a3.4 3.4 0 1 0 6.8 0a3.4 3.4 0 1 0 -6.8 0M382.6 538.5a3.4 3.4 0 1 0 6.8 0a3.4 3.4 0 1 0 -6.8 0M305.8 531.8a3.4 3.4 0 1 0 6.8 0a3.4 3.4 0 1 0 -6.8 0M313.3 563.1a3.4 3.4 0 1 0 6.8 0a3.4 3.4 0 1 0 -6.8 0M389.9 558.7a3.4 3.4 0 1 0 6.8 0a3.4 3.4 0 1 0 -6.8 0M267.9 538a3.4 3.4 0 1 0 6.8 0a3.4 3.4 0 1 0 -6.8 0M366.8 516.5a3.4 3.4 0 1 0 6.8 0a3.4 3.4 0 1 0 -6.8 0M283.5 533.3a3.4 3.4 0 1 0 6.8 0a3.4 3.4 0 1 0 -6.8 0M356 525.5a3.4 3.4 0 1 0 6.8 0a3.4 3.4 0 1 0 -6.8 0M348.2 513.8a3.4 3.4 0 1 0 6.8 0a3.4 3.4 0 1 0 -6.8 0M369.7 570.5a3.4 3.4 0 1 0 6.8 0a3.4 3.4 0 1 0 -6.8 0M401.6 527a3.4 3.4 0 1 0 6.8 0a3.4 3.4 0 1 0 -6.8 0M350 522.2a3.4 3.4 0 1 0 6.8 0a3.4 3.4 0 1 0 -6.8 0M406.1 502.5a3.4 3.4 0 1 0 6.8 0a3.4 3.4 0 1 0 -6.8 0M419.2 540.8a3.4 3.4 0 1 0 6.8 0a3.4 3.4 0 1 0 -6.8 0M390.6 523a3.4 3.4 0 1 0 6.8 0a3.4 3.4 0 1 0 -6.8 0M338.5 509.7a3.4 3.4 0 1 0 6.8 0a3.4 3.4 0 1 0 -6.8 0M266.7 533a3.4 3.4 0 1 0 6.8 0a3.4 3.4 0 1 0 -6.8 0M299.3 528.9a3.4 3.4 0 1 0 6.8 0a3.4 3.4 0 1 0 -6.8 0M340.4 564a3.4 3.4 0 1 0 6.8 0a3.4 3.4 0 1 0 -6.8 0M452.9 534a3.4 3.4 0 1 0 6.8 0a3.4 3.4 0 1 0 -6.8 0M409.7 574.6a3.4 3.4 0 1 0 6.8 0a3.4 3.4 0 1 0 -6.8 0M426.6 527.5a3.4 3.4 0 1 0 6.8 0a3.4 3.4 0 1 0 -6.8 0M393.3 509.2a3.4 3.4 0 1 0 6.8 0a3.4 3.4 0 1 0 -6.8 0M394.1 566.5a3.4 3.4 0 1 0 6.8 0a3.4 3.4 0 1 0 -6.8 0M297.1 539a3.4 3.4 0 1 0 6.8 0a3.4 3.4 0 1 0 -6.8 0M418.2 537a3.4 3.4 0 1 0 6.8 0a3.4 3.4 0 1 0 -6.8 0M246.8 544.9a3.4 3.4 0 1 0 6.8 0a3.4 3.4 0 1 0 -6.8 0M312.3 521.9a3.4 3.4 0 1 0 6.8 0a3.4 3.4 0 1 0 -6.8 0M405.2 528.4a3.4 3.4 0 1 0 6.8 0a3.4 3.4 0 1 0 -6.8 0M366.3 529.9a3.4 3.4 0 1 0 6.8 0a3.4 3.4 0 1 0 -6.8 0M366.7 537.5a3.4 3.4 0 1 0 6.8 0a3.4 3.4 0 1 0 -6.8 0M414.8 546.8a3.4 3.4 0 1 0 6.8 0a3.4 3.4 0 1 0 -6.8 0M302.8 557a3.4 3.4 0 1 0 6.8 0a3.4 3.4 0 1 0 -6.8 0M319.4 533a3.4 3.4 0 1 0 6.8 0a3.4 3.4 0 1 0 -6.8 0M360 540.1a3.4 3.4 0 1 0 6.8 0a3.4 3.4 0 1 0 -6.8 0M301.2 527.2a3.4 3.4 0 1 0 6.8 0a3.4 3.4 0 1 0 -6.8 0M344.1 514.2a3.4 3.4 0 1 0 6.8 0a3.4 3.4 0 1 0 -6.8 0M267.6 550.1a3.4 3.4 0 1 0 6.8 0a3.4 3.4 0 1 0 -6.8 0M337.2 530.1a3.4 3.4 0 1 0 6.8 0a3.4 3.4 0 1 0 -6.8 0M333.9 539.9a3.4 3.4 0 1 0 6.8 0a3.4 3.4 0 1 0 -6.8 0M402.5 555.9a3.4 3.4 0 1 0 6.8 0a3.4 3.4 0 1 0 -6.8 0M296.7 531.3a3.4 3.4 0 1 0 6.8 0a3.4 3.4 0 1 0 -6.8 0M314.8 537a3.4 3.4 0 1 0 6.8 0a3.4 3.4 0 1 0 -6.8 0M366.5 515.9a3.4 3.4 0 1 0 6.8 0a3.4 3.4 0 1 0 -6.8 0M338 525.6a3.4 3.4 0 1 0 6.8 0a3.4 3.4 0 1 0 -6.8 0M300.6 544a3.4 3.4 0 1 0 6.8 0a3.4 3.4 0 1 0 -6.8 0M360.9 548.5a3.4 3.4 0 1 0 6.8 0a3.4 3.4 0 1 0 -6.8 0M401.3 552.8a3.4 3.4 0 1 0 6.8 0a3.4 3.4 0 1 0 -6.8 0M307 537.6a3.4 3.4 0 1 0 6.8 0a3.4 3.4 0 1 0 -6.8 0M406 540.9a3.4 3.4 0 1 0 6.8 0a3.4 3.4 0 1 0 -6.8 0M354.4 535.5a3.4 3.4 0 1 0 6.8 0a3.4 3.4 0 1 0 -6.8 0M412.5 540.3a3.4 3.4 0 1 0 6.8 0a3.4 3.4 0 1 0 -6.8 0M268.5 522.2a3.4 3.4 0 1 0 6.8 0a3.4 3.4 0 1 0 -6.8 0M313.7 547.7a3.4 3.4 0 1 0 6.8 0a3.4 3.4 0 1 0 -6.8 0M357.8 531.3a3.4 3.4 0 1 0 6.8 0a3.4 3.4 0 1 0 -6.8 0M362.5 551.8a3.4 3.4 0 1 0 6.8 0a3.4 3.4 0 1 0 -6.8 0M332.7 549.1a3.4 3.4 0 1 0 6.8 0a3.4 3.4 0 1 0 -6.8 0M410.9 535.9a3.4 3.4 0 1 0 6.8 0a3.4 3.4 0 1 0 -6.8 0M398.2 523.1a3.4 3.4 0 1 0 6.8 0a3.4 3.4 0 1 0 -6.8 0M280 543.8a3.4 3.4 0 1 0 6.8 0a3.4 3.4 0 1 0 -6.8 0M343.3 528.9a3.4 3.4 0 1 0 6.8 0a3.4 3.4 0 1 0 -6.8 0M418.7 549.1a3.4 3.4 0 1 0 6.8 0a3.4 3.4 0 1 0 -6.8 0M311.2 545.1a3.4 3.4 0 1 0 6.8 0a3.4 3.4 0 1 0 -6.8 0M306.8 537.2a3.4 3.4 0 1 0 6.8 0a3.4 3.4 0 1 0 -6.8 0M308.1 540.3a3.4 3.4 0 1 0 6.8 0a3.4 3.4 0 1 0 -6.8 0M294.9 507.9a3.4 3.4 0 1 0 6.8 0a3.4 3.4 0 1 0 -6.8 0M447.2 522.4a3.4 3.4 0 1 0 6.8 0a3.4 3.4 0 1 0 -6.8 0M244.7 542a3.4 3.4 0 1 0 6.8 0a3.4 3.4 0 1 0 -6.8 0M385.7 529.6a3.4 3.4 0 1 0 6.8 0a3.4 3.4 0 1 0 -6.8 0M388.7 518.7a3.4 3.4 0 1 0 6.8 0a3.4 3.4 0 1 0 -6.8 0M302.7 557.4a3.4 3.4 0 1 0 6.8 0a3.4 3.4 0 1 0 -6.8 0M374.7 541.9a3.4 3.4 0 1 0 6.8 0a3.4 3.4 0 1 0 -6.8 0M245 536.6a3.4 3.4 0 1 0 6.8 0a3.4 3.4 0 1 0 -6.8 0M304.8 538.5a3.4 3.4 0 1 0 6.8 0a3.4 3.4 0 1 0 -6.8 0M400.9 542a3.4 3.4 0 1 0 6.8 0a3.4 3.4 0 1 0 -6.8 0M369.9 541.4a3.4 3.4 0 1 0 6.8 0a3.4 3.4 0 1 0 -6.8 0M364.3 502.8a3.4 3.4 0 1 0 6.8 0a3.4 3.4 0 1 0 -6.8 0M229.5 526.6a3.4 3.4 0 1 0 6.8 0a3.4 3.4 0 1 0 -6.8 0M318.5 519.5a3.4 3.4 0 1 0 6.8 0a3.4 3.4 0 1 0 -6.8 0M357.7 543.4a3.4 3.4 0 1 0 6.8 0a3.4 3.4 0 1 0 -6.8 0M434 545.1a3.4 3.4 0 1 0 6.8 0a3.4 3.4 0 1 0 -6.8 0M370.4 520.3a3.4 3.4 0 1 0 6.8 0a3.4 3.4 0 1 0 -6.8 0M364.6 556a3.4 3.4 0 1 0 6.8 0a3.4 3.4 0 1 0 -6.8 0M283.7 537.6a3.4 3.4 0 1 0 6.8 0a3.4 3.4 0 1 0 -6.8 0M451.7 543a3.4 3.4 0 1 0 6.8 0a3.4 3.4 0 1 0 -6.8 0M345 531.1a3.4 3.4 0 1 0 6.8 0a3.4 3.4 0 1 0 -6.8 0M295.8 520.3a3.4 3.4 0 1 0 6.8 0a3.4 3.4 0 1 0 -6.8 0M387.7 545.2a3.4 3.4 0 1 0 6.8 0a3.4 3.4 0 1 0 -6.8 0M340.6 548.3a3.4 3.4 0 1 0 6.8 0a3.4 3.4 0 1 0 -6.8 0M412.6 542.4a3.4 3.4 0 1 0 6.8 0a3.4 3.4 0 1 0 -6.8 0M441.1 539.2a3.4 3.4 0 1 0 6.8 0a3.4 3.4 0 1 0 -6.8 0M378.4 533.2a3.4 3.4 0 1 0 6.8 0a3.4 3.4 0 1 0 -6.8 0M307.6 518.7a3.4 3.4 0 1 0 6.8 0a3.4 3.4 0 1 0 -6.8 0M362.8 543.8a3.4 3.4 0 1 0 6.8 0a3.4 3.4 0 1 0 -6.8 0M328.1 526.8a3.4 3.4 0 1 0 6.8 0a3.4 3.4 0 1 0 -6.8 0M348.2 544.7a3.4 3.4 0 1 0 6.8 0a3.4 3.4 0 1 0 -6.8 0M341.2 538.9a3.4 3.4 0 1 0 6.8 0a3.4 3.4 0 1 0 -6.8 0M302.5 548.9a3.4 3.4 0 1 0 6.8 0a3.4 3.4 0 1 0 -6.8 0M376.5 553.9a3.4 3.4 0 1 0 6.8 0a3.4 3.4 0 1 0 -6.8 0M361.1 527.8a3.4 3.4 0 1 0 6.8 0a3.4 3.4 0 1 0 -6.8 0M373.1 538.5a3.4 3.4 0 1 0 6.8 0a3.4 3.4 0 1 0 -6.8 0M331.2 530.2a3.4 3.4 0 1 0 6.8 0a3.4 3.4 0 1 0 -6.8 0M332.8 522.4a3.4 3.4 0 1 0 6.8 0a3.4 3.4 0 1 0 -6.8 0M417.1 514.6a3.4 3.4 0 1 0 6.8 0a3.4 3.4 0 1 0 -6.8 0M342.3 529.2a3.4 3.4 0 1 0 6.8 0a3.4 3.4 0 1 0 -6.8 0M381.7 516.1a3.4 3.4 0 1 0 6.8 0a3.4 3.4 0 1 0 -6.8 0M401.6 546.9a3.4 3.4 0 1 0 6.8 0a3.4 3.4 0 1 0 -6.8 0M362.1 528.6a3.4 3.4 0 1 0 6.8 0a3.4 3.4 0 1 0 -6.8 0M425.9 508.7a3.4 3.4 0 1 0 6.8 0a3.4 3.4 0 1 0 -6.8 0M339.9 528.1a3.4 3.4 0 1 0 6.8 0a3.4 3.4 0 1 0 -6.8 0M384.6 558a3.4 3.4 0 1 0 6.8 0a3.4 3.4 0 1 0 -6.8 0M374.6 534.9a3.4 3.4 0 1 0 6.8 0a3.4 3.4 0 1 0 -6.8 0M291 533a3.4 3.4 0 1 0 6.8 0a3.4 3.4 0 1 0 -6.8 0M360.7 522.1a3.4 3.4 0 1 0 6.8 0a3.4 3.4 0 1 0 -6.8 0M391.4 507.9a3.4 3.4 0 1 0 6.8 0a3.4 3.4 0 1 0 -6.8 0M385.5 506.3a3.4 3.4 0 1 0 6.8 0a3.4 3.4 0 1 0 -6.8 0M360.4 514.7a3.4 3.4 0 1 0 6.8 0a3.4 3.4 0 1 0 -6.8 0M421.5 531.5a3.4 3.4 0 1 0 6.8 0a3.4 3.4 0 1 0 -6.8 0M359 537.9a3.4 3.4 0 1 0 6.8 0a3.4 3.4 0 1 0 -6.8 0M450.7 532.6a3.4 3.4 0 1 0 6.8 0a3.4 3.4 0 1 0 -6.8 0M431 544.4a3.4 3.4 0 1 0 6.8 0a3.4 3.4 0 1 0 -6.8 0M317.4 520a3.4 3.4 0 1 0 6.8 0a3.4 3.4 0 1 0 -6.8 0M250.5 532.8a3.4 3.4 0 1 0 6.8 0a3.4 3.4 0 1 0 -6.8 0M299.8 554.8a3.4 3.4 0 1 0 6.8 0a3.4 3.4 0 1 0 -6.8 0M344.2 532.9a3.4 3.4 0 1 0 6.8 0a3.4 3.4 0 1 0 -6.8 0M373.2 555a3.4 3.4 0 1 0 6.8 0a3.4 3.4 0 1 0 -6.8 0M334.8 544.1a3.4 3.4 0 1 0 6.8 0a3.4 3.4 0 1 0 -6.8 0M443.8 531.7a3.4 3.4 0 1 0 6.8 0a3.4 3.4 0 1 0 -6.8 0M298.9 539a3.4 3.4 0 1 0 6.8 0a3.4 3.4 0 1 0 -6.8 0M400.9 537.7a3.4 3.4 0 1 0 6.8 0a3.4 3.4 0 1 0 -6.8 0M230.8 547.8a3.4 3.4 0 1 0 6.8 0a3.4 3.4 0 1 0 -6.8 0M364.1 550.7a3.4 3.4 0 1 0 6.8 0a3.4 3.4 0 1 0 -6.8 0M243.5 532.2a3.4 3.4 0 1 0 6.8 0a3.4 3.4 0 1 0 -6.8 0M341.4 534.5a3.4 3.4 0 1 0 6.8 0a3.4 3.4 0 1 0 -6.8 0M407.5 506.2a3.4 3.4 0 1 0 6.8 0a3.4 3.4 0 1 0 -6.8 0M391.3 538.2a3.4 3.4 0 1 0 6.8 0a3.4 3.4 0 1 0 -6.8 0M315.1 550.9a3.4 3.4 0 1 0 6.8 0a3.4 3.4 0 1 0 -6.8 0M344.1 542.1a3.4 3.4 0 1 0 6.8 0a3.4 3.4 0 1 0 -6.8 0M296.2 520.6a3.4 3.4 0 1 0 6.8 0a3.4 3.4 0 1 0 -6.8 0M387.7 532.7a3.4 3.4 0 1 0 6.8 0a3.4 3.4 0 1 0 -6.8 0M323.2 535.4a3.4 3.4 0 1 0 6.8 0a3.4 3.4 0 1 0 -6.8 0M395.9 551a3.4 3.4 0 1 0 6.8 0a3.4 3.4 0 1 0 -6.8 0M260.4 549.4a3.4 3.4 0 1 0 6.8 0a3.4 3.4 0 1 0 -6.8 0M369.3 531.5a3.4 3.4 0 1 0 6.8 0a3.4 3.4 0 1 0 -6.8 0M391.9 526.5a3.4 3.4 0 1 0 6.8 0a3.4 3.4 0 1 0 -6.8 0M262.5 530.6a3.4 3.4 0 1 0 6.8 0a3.4 3.4 0 1 0 -6.8 0M390.6 533.3a3.4 3.4 0 1 0 6.8 0a3.4 3.4 0 1 0 -6.8 0M353.5 544.9a3.4 3.4 0 1 0 6.8 0a3.4 3.4 0 1 0 -6.8 0M335.4 533.8a3.4 3.4 0 1 0 6.8 0a3.4 3.4 0 1 0 -6.8 0M406.8 571a3.4 3.4 0 1 0 6.8 0a3.4 3.4 0 1 0 -6.8 0M410.2 548.2a3.4 3.4 0 1 0 6.8 0a3.4 3.4 0 1 0 -6.8 0M290.5 535.2a3.4 3.4 0 1 0 6.8 0a3.4 3.4 0 1 0 -6.8 0M403.3 521.7a3.4 3.4 0 1 0 6.8 0a3.4 3.4 0 1 0 -6.8 0M418.7 528.3a3.4 3.4 0 1 0 6.8 0a3.4 3.4 0 1 0 -6.8 0M347.1 542.2a3.4 3.4 0 1 0 6.8 0a3.4 3.4 0 1 0 -6.8 0M373.7 522.7a3.4 3.4 0 1 0 6.8 0a3.4 3.4 0 1 0 -6.8 0M348.5 511.8a3.4 3.4 0 1 0 6.8 0a3.4 3.4 0 1 0 -6.8 0M300.7 519.1a3.4 3.4 0 1 0 6.8 0a3.4 3.4 0 1 0 -6.8 0M395.8 524.4a3.4 3.4 0 1 0 6.8 0a3.4 3.4 0 1 0 -6.8 0M276.2 545.4a3.4 3.4 0 1 0 6.8 0a3.4 3.4 0 1 0 -6.8 0M411.1 532.6a3.4 3.4 0 1 0 6.8 0a3.4 3.4 0 1 0 -6.8 0M346 556.4a3.4 3.4 0 1 0 6.8 0a3.4 3.4 0 1 0 -6.8 0M299.4 538.8a3.4 3.4 0 1 0 6.8 0a3.4 3.4 0 1 0 -6.8 0M278.7 542.8a3.4 3.4 0 1 0 6.8 0a3.4 3.4 0 1 0 -6.8 0M255.4 554.9a3.4 3.4 0 1 0 6.8 0a3.4 3.4 0 1 0 -6.8 0M301.4 549.3a3.4 3.4 0 1 0 6.8 0a3.4 3.4 0 1 0 -6.8 0M384.3 519a3.4 3.4 0 1 0 6.8 0a3.4 3.4 0 1 0 -6.8 0M428.3 522.5a3.4 3.4 0 1 0 6.8 0a3.4 3.4 0 1 0 -6.8 0M350.9 533.9a3.4 3.4 0 1 0 6.8 0a3.4 3.4 0 1 0 -6.8 0M397.2 530a3.4 3.4 0 1 0 6.8 0a3.4 3.4 0 1 0 -6.8 0M385.3 521.6a3.4 3.4 0 1 0 6.8 0a3.4 3.4 0 1 0 -6.8 0M202.4 531.3a3.4 3.4 0 1 0 6.8 0a3.4 3.4 0 1 0 -6.8 0M396.5 540.8a3.4 3.4 0 1 0 6.8 0a3.4 3.4 0 1 0 -6.8 0M323.2 566.1a3.4 3.4 0 1 0 6.8 0a3.4 3.4 0 1 0 -6.8 0M428.7 546.7a3.4 3.4 0 1 0 6.8 0a3.4 3.4 0 1 0 -6.8 0M405.7 527.3a3.4 3.4 0 1 0 6.8 0a3.4 3.4 0 1 0 -6.8 0M354.5 574.3a3.4 3.4 0 1 0 6.8 0a3.4 3.4 0 1 0 -6.8 0M302.6 548.2a3.4 3.4 0 1 0 6.8 0a3.4 3.4 0 1 0 -6.8 0M318.9 541.7a3.4 3.4 0 1 0 6.8 0a3.4 3.4 0 1 0 -6.8 0M393.8 526a3.4 3.4 0 1 0 6.8 0a3.4 3.4 0 1 0 -6.8 0M330 532.3a3.4 3.4 0 1 0 6.8 0a3.4 3.4 0 1 0 -6.8 0M297.9 551.1a3.4 3.4 0 1 0 6.8 0a3.4 3.4 0 1 0 -6.8 0M358 520.7a3.4 3.4 0 1 0 6.8 0a3.4 3.4 0 1 0 -6.8 0M445.4 534.7a3.4 3.4 0 1 0 6.8 0a3.4 3.4 0 1 0 -6.8 0M262.6 539.8a3.4 3.4 0 1 0 6.8 0a3.4 3.4 0 1 0 -6.8 0M353.8 550.4a3.4 3.4 0 1 0 6.8 0a3.4 3.4 0 1 0 -6.8 0M373.8 536a3.4 3.4 0 1 0 6.8 0a3.4 3.4 0 1 0 -6.8 0M228.1 528a3.4 3.4 0 1 0 6.8 0a3.4 3.4 0 1 0 -6.8 0M380 554.2a3.4 3.4 0 1 0 6.8 0a3.4 3.4 0 1 0 -6.8 0M313.6 525.7a3.4 3.4 0 1 0 6.8 0a3.4 3.4 0 1 0 -6.8 0M353.6 538.1a3.4 3.4 0 1 0 6.8 0a3.4 3.4 0 1 0 -6.8 0M419.6 535.2a3.4 3.4 0 1 0 6.8 0a3.4 3.4 0 1 0 -6.8 0M370.8 558.5a3.4 3.4 0 1 0 6.8 0a3.4 3.4 0 1 0 -6.8 0M400.3 524.5a3.4 3.4 0 1 0 6.8 0a3.4 3.4 0 1 0 -6.8 0M425.7 520.9a3.4 3.4 0 1 0 6.8 0a3.4 3.4 0 1 0 -6.8 0M349.7 524.5a3.4 3.4 0 1 0 6.8 0a3.4 3.4 0 1 0 -6.8 0M301.4 529.2a3.4 3.4 0 1 0 6.8 0a3.4 3.4 0 1 0 -6.8 0M280.7 541.6a3.4 3.4 0 1 0 6.8 0a3.4 3.4 0 1 0 -6.8 0M353.4 547.9a3.4 3.4 0 1 0 6.8 0a3.4 3.4 0 1 0 -6.8 0M306.9 534.1a3.4 3.4 0 1 0 6.8 0a3.4 3.4 0 1 0 -6.8 0M390.2 524.4a3.4 3.4 0 1 0 6.8 0a3.4 3.4 0 1 0 -6.8 0M380.4 544.2a3.4 3.4 0 1 0 6.8 0a3.4 3.4 0 1 0 -6.8 0M415.7 539.4a3.4 3.4 0 1 0 6.8 0a3.4 3.4 0 1 0 -6.8 0M293.4 529.6a3.4 3.4 0 1 0 6.8 0a3.4 3.4 0 1 0 -6.8 0M331.1 556.6a3.4 3.4 0 1 0 6.8 0a3.4 3.4 0 1 0 -6.8 0M409.2 527.1a3.4 3.4 0 1 0 6.8 0a3.4 3.4 0 1 0 -6.8 0M249.6 539.8a3.4 3.4 0 1 0 6.8 0a3.4 3.4 0 1 0 -6.8 0M381.4 534.6a3.4 3.4 0 1 0 6.8 0a3.4 3.4 0 1 0 -6.8 0M331.3 507.4a3.4 3.4 0 1 0 6.8 0a3.4 3.4 0 1 0 -6.8 0M396.2 540.5a3.4 3.4 0 1 0 6.8 0a3.4 3.4 0 1 0 -6.8 0M292.4 523.7a3.4 3.4 0 1 0 6.8 0a3.4 3.4 0 1 0 -6.8 0M416.6 527.2a3.4 3.4 0 1 0 6.8 0a3.4 3.4 0 1 0 -6.8 0M249.6 534.5a3.4 3.4 0 1 0 6.8 0a3.4 3.4 0 1 0 -6.8 0M356 554.6a3.4 3.4 0 1 0 6.8 0a3.4 3.4 0 1 0 -6.8 0M367.7 534.6a3.4 3.4 0 1 0 6.8 0a3.4 3.4 0 1 0 -6.8 0M294.5 529.3a3.4 3.4 0 1 0 6.8 0a3.4 3.4 0 1 0 -6.8 0M328.8 522.8a3.4 3.4 0 1 0 6.8 0a3.4 3.4 0 1 0 -6.8 0M330.4 528.8a3.4 3.4 0 1 0 6.8 0a3.4 3.4 0 1 0 -6.8 0M311 508a3.4 3.4 0 1 0 6.8 0a3.4 3.4 0 1 0 -6.8 0M371.8 533.8a3.4 3.4 0 1 0 6.8 0a3.4 3.4 0 1 0 -6.8 0M395.8 528.7a3.4 3.4 0 1 0 6.8 0a3.4 3.4 0 1 0 -6.8 0M382.5 551.1a3.4 3.4 0 1 0 6.8 0a3.4 3.4 0 1 0 -6.8 0M409.6 536a3.4 3.4 0 1 0 6.8 0a3.4 3.4 0 1 0 -6.8 0M380.7 515.5a3.4 3.4 0 1 0 6.8 0a3.4 3.4 0 1 0 -6.8 0M401.1 550.5a3.4 3.4 0 1 0 6.8 0a3.4 3.4 0 1 0 -6.8 0M386.2 522.8a3.4 3.4 0 1 0 6.8 0a3.4 3.4 0 1 0 -6.8 0M286.5 540.6a3.4 3.4 0 1 0 6.8 0a3.4 3.4 0 1 0 -6.8 0M400.7 545.3a3.4 3.4 0 1 0 6.8 0a3.4 3.4 0 1 0 -6.8 0M426.5 544.6a3.4 3.4 0 1 0 6.8 0a3.4 3.4 0 1 0 -6.8 0M372 551.8a3.4 3.4 0 1 0 6.8 0a3.4 3.4 0 1 0 -6.8 0M387.7 564.7a3.4 3.4 0 1 0 6.8 0a3.4 3.4 0 1 0 -6.8 0M384.5 552.4a3.4 3.4 0 1 0 6.8 0a3.4 3.4 0 1 0 -6.8 0M379.5 564.9a3.4 3.4 0 1 0 6.8 0a3.4 3.4 0 1 0 -6.8 0M406.3 539.9a3.4 3.4 0 1 0 6.8 0a3.4 3.4 0 1 0 -6.8 0M370.9 544.3a3.4 3.4 0 1 0 6.8 0a3.4 3.4 0 1 0 -6.8 0M350.7 560.2a3.4 3.4 0 1 0 6.8 0a3.4 3.4 0 1 0 -6.8 0M285.5 550.8a3.4 3.4 0 1 0 6.8 0a3.4 3.4 0 1 0 -6.8 0M318.2 526.9a3.4 3.4 0 1 0 6.8 0a3.4 3.4 0 1 0 -6.8 0M337.7 523.9a3.4 3.4 0 1 0 6.8 0a3.4 3.4 0 1 0 -6.8 0M442.7 529.7a3.4 3.4 0 1 0 6.8 0a3.4 3.4 0 1 0 -6.8 0M356.6 530.2a3.4 3.4 0 1 0 6.8 0a3.4 3.4 0 1 0 -6.8 0M252.8 560.2a3.4 3.4 0 1 0 6.8 0a3.4 3.4 0 1 0 -6.8 0M365.8 528.5a3.4 3.4 0 1 0 6.8 0a3.4 3.4 0 1 0 -6.8 0M318.9 536.6a3.4 3.4 0 1 0 6.8 0a3.4 3.4 0 1 0 -6.8 0M411.5 536.5a3.4 3.4 0 1 0 6.8 0a3.4 3.4 0 1 0 -6.8 0M402.8 571.7a3.4 3.4 0 1 0 6.8 0a3.4 3.4 0 1 0 -6.8 0M276.6 526.6a3.4 3.4 0 1 0 6.8 0a3.4 3.4 0 1 0 -6.8 0M374.7 550.6a3.4 3.4 0 1 0 6.8 0a3.4 3.4 0 1 0 -6.8 0M212.4 530.4a3.4 3.4 0 1 0 6.8 0a3.4 3.4 0 1 0 -6.8 0M321.5 533.5a3.4 3.4 0 1 0 6.8 0a3.4 3.4 0 1 0 -6.8 0M384 507.5a3.4 3.4 0 1 0 6.8 0a3.4 3.4 0 1 0 -6.8 0M400.2 557a3.4 3.4 0 1 0 6.8 0a3.4 3.4 0 1 0 -6.8 0M247.3 521.8a3.4 3.4 0 1 0 6.8 0a3.4 3.4 0 1 0 -6.8 0M365.4 531.3a3.4 3.4 0 1 0 6.8 0a3.4 3.4 0 1 0 -6.8 0M291.9 531.2a3.4 3.4 0 1 0 6.8 0a3.4 3.4 0 1 0 -6.8 0M394.2 530.9a3.4 3.4 0 1 0 6.8 0a3.4 3.4 0 1 0 -6.8 0M296.3 553a3.4 3.4 0 1 0 6.8 0a3.4 3.4 0 1 0 -6.8 0M348.9 525.1a3.4 3.4 0 1 0 6.8 0a3.4 3.4 0 1 0 -6.8 0M358 554.8a3.4 3.4 0 1 0 6.8 0a3.4 3.4 0 1 0 -6.8 0M439.1 533.6a3.4 3.4 0 1 0 6.8 0a3.4 3.4 0 1 0 -6.8 0M347.7 510.8a3.4 3.4 0 1 0 6.8 0a3.4 3.4 0 1 0 -6.8 0M338 542.9a3.4 3.4 0 1 0 6.8 0a3.4 3.4 0 1 0 -6.8 0M323.6 541.7a3.4 3.4 0 1 0 6.8 0a3.4 3.4 0 1 0 -6.8 0M398.5 527.3a3.4 3.4 0 1 0 6.8 0a3.4 3.4 0 1 0 -6.8 0M332.3 524.2a3.4 3.4 0 1 0 6.8 0a3.4 3.4 0 1 0 -6.8 0M303.1 523.9a3.4 3.4 0 1 0 6.8 0a3.4 3.4 0 1 0 -6.8 0M450.6 533.6a3.4 3.4 0 1 0 6.8 0a3.4 3.4 0 1 0 -6.8 0M301.4 531.8a3.4 3.4 0 1 0 6.8 0a3.4 3.4 0 1 0 -6.8 0M379.2 550.2a3.4 3.4 0 1 0 6.8 0a3.4 3.4 0 1 0 -6.8 0M327.5 530.1a3.4 3.4 0 1 0 6.8 0a3.4 3.4 0 1 0 -6.8 0M385.4 555.1a3.4 3.4 0 1 0 6.8 0a3.4 3.4 0 1 0 -6.8 0M270.2 544.7a3.4 3.4 0 1 0 6.8 0a3.4 3.4 0 1 0 -6.8 0M363.6 532.4a3.4 3.4 0 1 0 6.8 0a3.4 3.4 0 1 0 -6.8 0M314.4 544.4a3.4 3.4 0 1 0 6.8 0a3.4 3.4 0 1 0 -6.8 0M412 529.7a3.4 3.4 0 1 0 6.8 0a3.4 3.4 0 1 0 -6.8 0M371.6 526.9a3.4 3.4 0 1 0 6.8 0a3.4 3.4 0 1 0 -6.8 0M294.1 542.5a3.4 3.4 0 1 0 6.8 0a3.4 3.4 0 1 0 -6.8 0M383 575.7a3.4 3.4 0 1 0 6.8 0a3.4 3.4 0 1 0 -6.8 0M327.1 557a3.4 3.4 0 1 0 6.8 0a3.4 3.4 0 1 0 -6.8 0M315.4 551.3a3.4 3.4 0 1 0 6.8 0a3.4 3.4 0 1 0 -6.8 0M344.9 534a3.4 3.4 0 1 0 6.8 0a3.4 3.4 0 1 0 -6.8 0M396.5 559.8a3.4 3.4 0 1 0 6.8 0a3.4 3.4 0 1 0 -6.8 0M295.1 536.1a3.4 3.4 0 1 0 6.8 0a3.4 3.4 0 1 0 -6.8 0M368.5 537.6a3.4 3.4 0 1 0 6.8 0a3.4 3.4 0 1 0 -6.8 0M331 544.8a3.4 3.4 0 1 0 6.8 0a3.4 3.4 0 1 0 -6.8 0M392.2 516.1a3.4 3.4 0 1 0 6.8 0a3.4 3.4 0 1 0 -6.8 0M342.3 539a3.4 3.4 0 1 0 6.8 0a3.4 3.4 0 1 0 -6.8 0M360.9 535.4a3.4 3.4 0 1 0 6.8 0a3.4 3.4 0 1 0 -6.8 0M390.4 533.5a3.4 3.4 0 1 0 6.8 0a3.4 3.4 0 1 0 -6.8 0M339.4 558.1a3.4 3.4 0 1 0 6.8 0a3.4 3.4 0 1 0 -6.8 0M418.1 558.2a3.4 3.4 0 1 0 6.8 0a3.4 3.4 0 1 0 -6.8 0M352.4 520.8a3.4 3.4 0 1 0 6.8 0a3.4 3.4 0 1 0 -6.8 0M402.8 533.3a3.4 3.4 0 1 0 6.8 0a3.4 3.4 0 1 0 -6.8 0M300.8 544.4a3.4 3.4 0 1 0 6.8 0a3.4 3.4 0 1 0 -6.8 0M394.5 521.6a3.4 3.4 0 1 0 6.8 0a3.4 3.4 0 1 0 -6.8 0M451.4 530.3a3.4 3.4 0 1 0 6.8 0a3.4 3.4 0 1 0 -6.8 0M359.5 534a3.4 3.4 0 1 0 6.8 0a3.4 3.4 0 1 0 -6.8 0M334.8 568.6a3.4 3.4 0 1 0 6.8 0a3.4 3.4 0 1 0 -6.8 0M370 535.3a3.4 3.4 0 1 0 6.8 0a3.4 3.4 0 1 0 -6.8 0M277.4 548a3.4 3.4 0 1 0 6.8 0a3.4 3.4 0 1 0 -6.8 0M397.2 536.7a3.4 3.4 0 1 0 6.8 0a3.4 3.4 0 1 0 -6.8 0M450.2 530a3.4 3.4 0 1 0 6.8 0a3.4 3.4 0 1 0 -6.8 0M354.2 559.9a3.4 3.4 0 1 0 6.8 0a3.4 3.4 0 1 0 -6.8 0M313.3 548.6a3.4 3.4 0 1 0 6.8 0a3.4 3.4 0 1 0 -6.8 0M269.4 537.6a3.4 3.4 0 1 0 6.8 0a3.4 3.4 0 1 0 -6.8 0M378.2 541.1a3.4 3.4 0 1 0 6.8 0a3.4 3.4 0 1 0 -6.8 0M264 537.2a3.4 3.4 0 1 0 6.8 0a3.4 3.4 0 1 0 -6.8 0M354.1 551.1a3.4 3.4 0 1 0 6.8 0a3.4 3.4 0 1 0 -6.8 0M419.6 547.4a3.4 3.4 0 1 0 6.8 0a3.4 3.4 0 1 0 -6.8 0M382.7 551.8a3.4 3.4 0 1 0 6.8 0a3.4 3.4 0 1 0 -6.8 0M360.8 568.1a3.4 3.4 0 1 0 6.8 0a3.4 3.4 0 1 0 -6.8 0M419.8 534.2a3.4 3.4 0 1 0 6.8 0a3.4 3.4 0 1 0 -6.8 0M353.4 562.1a3.4 3.4 0 1 0 6.8 0a3.4 3.4 0 1 0 -6.8 0M292.9 530.6a3.4 3.4 0 1 0 6.8 0a3.4 3.4 0 1 0 -6.8 0M345.2 531.8a3.4 3.4 0 1 0 6.8 0a3.4 3.4 0 1 0 -6.8 0M205.1 548.9a3.4 3.4 0 1 0 6.8 0a3.4 3.4 0 1 0 -6.8 0M271 571a3.4 3.4 0 1 0 6.8 0a3.4 3.4 0 1 0 -6.8 0M392.5 514a3.4 3.4 0 1 0 6.8 0a3.4 3.4 0 1 0 -6.8 0M393.2 518.8a3.4 3.4 0 1 0 6.8 0a3.4 3.4 0 1 0 -6.8 0M364 532a3.4 3.4 0 1 0 6.8 0a3.4 3.4 0 1 0 -6.8 0M344.2 557.2a3.4 3.4 0 1 0 6.8 0a3.4 3.4 0 1 0 -6.8 0M281.4 540.2a3.4 3.4 0 1 0 6.8 0a3.4 3.4 0 1 0 -6.8 0M305.7 534.6a3.4 3.4 0 1 0 6.8 0a3.4 3.4 0 1 0 -6.8 0M301.4 553.6a3.4 3.4 0 1 0 6.8 0a3.4 3.4 0 1 0 -6.8 0M385.4 517.6a3.4 3.4 0 1 0 6.8 0a3.4 3.4 0 1 0 -6.8 0M434.3 548.4a3.4 3.4 0 1 0 6.8 0a3.4 3.4 0 1 0 -6.8 0M328.7 535.4a3.4 3.4 0 1 0 6.8 0a3.4 3.4 0 1 0 -6.8 0M339.8 537.7a3.4 3.4 0 1 0 6.8 0a3.4 3.4 0 1 0 -6.8 0M349.3 549.1a3.4 3.4 0 1 0 6.8 0a3.4 3.4 0 1 0 -6.8 0M371.5 527.5a3.4 3.4 0 1 0 6.8 0a3.4 3.4 0 1 0 -6.8 0M451.2 533.2a3.4 3.4 0 1 0 6.8 0a3.4 3.4 0 1 0 -6.8 0M299.4 521.1a3.4 3.4 0 1 0 6.8 0a3.4 3.4 0 1 0 -6.8 0M301.3 543.5a3.4 3.4 0 1 0 6.8 0a3.4 3.4 0 1 0 -6.8 0M347.5 535.9a3.4 3.4 0 1 0 6.8 0a3.4 3.4 0 1 0 -6.8 0M422.8 568.3a3.4 3.4 0 1 0 6.8 0a3.4 3.4 0 1 0 -6.8 0M259 536.6a3.4 3.4 0 1 0 6.8 0a3.4 3.4 0 1 0 -6.8 0M362.1 551.8a3.4 3.4 0 1 0 6.8 0a3.4 3.4 0 1 0 -6.8 0M302.5 527.7a3.4 3.4 0 1 0 6.8 0a3.4 3.4 0 1 0 -6.8 0M437.2 550.2a3.4 3.4 0 1 0 6.8 0a3.4 3.4 0 1 0 -6.8 0M390.1 559.8a3.4 3.4 0 1 0 6.8 0a3.4 3.4 0 1 0 -6.8 0M426.6 533.2a3.4 3.4 0 1 0 6.8 0a3.4 3.4 0 1 0 -6.8 0M292.2 543a3.4 3.4 0 1 0 6.8 0a3.4 3.4 0 1 0 -6.8 0M337.7 535.4a3.4 3.4 0 1 0 6.8 0a3.4 3.4 0 1 0 -6.8 0M413.8 534.2a3.4 3.4 0 1 0 6.8 0a3.4 3.4 0 1 0 -6.8 0M367.7 537a3.4 3.4 0 1 0 6.8 0a3.4 3.4 0 1 0 -6.8 0M298.7 554.9a3.4 3.4 0 1 0 6.8 0a3.4 3.4 0 1 0 -6.8 0M354 530.5a3.4 3.4 0 1 0 6.8 0a3.4 3.4 0 1 0 -6.8 0M411.5 536.1a3.4 3.4 0 1 0 6.8 0a3.4 3.4 0 1 0 -6.8 0M263.3 551.2a3.4 3.4 0 1 0 6.8 0a3.4 3.4 0 1 0 -6.8 0M407.1 548.6a3.4 3.4 0 1 0 6.8 0a3.4 3.4 0 1 0 -6.8 0M402.2 545.4a3.4 3.4 0 1 0 6.8 0a3.4 3.4 0 1 0 -6.8 0M395.6 516.2a3.4 3.4 0 1 0 6.8 0a3.4 3.4 0 1 0 -6.8 0M366.3 533.1a3.4 3.4 0 1 0 6.8 0a3.4 3.4 0 1 0 -6.8 0M246.7 534.2a3.4 3.4 0 1 0 6.8 0a3.4 3.4 0 1 0 -6.8 0M263.5 539.7a3.4 3.4 0 1 0 6.8 0a3.4 3.4 0 1 0 -6.8 0M350.5 513.3a3.4 3.4 0 1 0 6.8 0a3.4 3.4 0 1 0 -6.8 0M387.2 533.1a3.4 3.4 0 1 0 6.8 0a3.4 3.4 0 1 0 -6.8 0M349.2 529.5a3.4 3.4 0 1 0 6.8 0a3.4 3.4 0 1 0 -6.8 0M370.8 535a3.4 3.4 0 1 0 6.8 0a3.4 3.4 0 1 0 -6.8 0M274.3 524.7a3.4 3.4 0 1 0 6.8 0a3.4 3.4 0 1 0 -6.8 0M306.8 525.2a3.4 3.4 0 1 0 6.8 0a3.4 3.4 0 1 0 -6.8 0M443.3 530.2a3.4 3.4 0 1 0 6.8 0a3.4 3.4 0 1 0 -6.8 0M262.6 515.8a3.4 3.4 0 1 0 6.8 0a3.4 3.4 0 1 0 -6.8 0M320.5 544.9a3.4 3.4 0 1 0 6.8 0a3.4 3.4 0 1 0 -6.8 0M277.1 548a3.4 3.4 0 1 0 6.8 0a3.4 3.4 0 1 0 -6.8 0M328.2 523.9a3.4 3.4 0 1 0 6.8 0a3.4 3.4 0 1 0 -6.8 0M302.1 558.6a3.4 3.4 0 1 0 6.8 0a3.4 3.4 0 1 0 -6.8 0M330.4 535.4a3.4 3.4 0 1 0 6.8 0a3.4 3.4 0 1 0 -6.8 0M201.4 521.5a3.4 3.4 0 1 0 6.8 0a3.4 3.4 0 1 0 -6.8 0M342 541.8a3.4 3.4 0 1 0 6.8 0a3.4 3.4 0 1 0 -6.8 0M368 530.5a3.4 3.4 0 1 0 6.8 0a3.4 3.4 0 1 0 -6.8 0M366.1 522.2a3.4 3.4 0 1 0 6.8 0a3.4 3.4 0 1 0 -6.8 0M384.7 548.5a3.4 3.4 0 1 0 6.8 0a3.4 3.4 0 1 0 -6.8 0M416.9 537.9a3.4 3.4 0 1 0 6.8 0a3.4 3.4 0 1 0 -6.8 0M211.3 544.4a3.4 3.4 0 1 0 6.8 0a3.4 3.4 0 1 0 -6.8 0M328 558.7a3.4 3.4 0 1 0 6.8 0a3.4 3.4 0 1 0 -6.8 0M306.3 533.4a3.4 3.4 0 1 0 6.8 0a3.4 3.4 0 1 0 -6.8 0M302.9 551.2a3.4 3.4 0 1 0 6.8 0a3.4 3.4 0 1 0 -6.8 0M318.8 531.9a3.4 3.4 0 1 0 6.8 0a3.4 3.4 0 1 0 -6.8 0M414.2 538.1a3.4 3.4 0 1 0 6.8 0a3.4 3.4 0 1 0 -6.8 0M461 530.3a3.4 3.4 0 1 0 6.8 0a3.4 3.4 0 1 0 -6.8 0M435.1 528.3a3.4 3.4 0 1 0 6.8 0a3.4 3.4 0 1 0 -6.8 0M337.2 533.8a3.4 3.4 0 1 0 6.8 0a3.4 3.4 0 1 0 -6.8 0M380.5 535a3.4 3.4 0 1 0 6.8 0a3.4 3.4 0 1 0 -6.8 0M383.9 526.4a3.4 3.4 0 1 0 6.8 0a3.4 3.4 0 1 0 -6.8 0M267.4 550a3.4 3.4 0 1 0 6.8 0a3.4 3.4 0 1 0 -6.8 0M412.5 566.9a3.4 3.4 0 1 0 6.8 0a3.4 3.4 0 1 0 -6.8 0M396.9 523.2a3.4 3.4 0 1 0 6.8 0a3.4 3.4 0 1 0 -6.8 0M247.2 545.5a3.4 3.4 0 1 0 6.8 0a3.4 3.4 0 1 0 -6.8 0M366.5 529.6a3.4 3.4 0 1 0 6.8 0a3.4 3.4 0 1 0 -6.8 0M430.2 544.1a3.4 3.4 0 1 0 6.8 0a3.4 3.4 0 1 0 -6.8 0M395.6 540.1a3.4 3.4 0 1 0 6.8 0a3.4 3.4 0 1 0 -6.8 0M406.2 534.7a3.4 3.4 0 1 0 6.8 0a3.4 3.4 0 1 0 -6.8 0M326.2 524.9a3.4 3.4 0 1 0 6.8 0a3.4 3.4 0 1 0 -6.8 0M419.8 530a3.4 3.4 0 1 0 6.8 0a3.4 3.4 0 1 0 -6.8 0M262.1 532.2a3.4 3.4 0 1 0 6.8 0a3.4 3.4 0 1 0 -6.8 0M403 541.5a3.4 3.4 0 1 0 6.8 0a3.4 3.4 0 1 0 -6.8 0M386.5 537.4a3.4 3.4 0 1 0 6.8 0a3.4 3.4 0 1 0 -6.8 0M334 571.6a3.4 3.4 0 1 0 6.8 0a3.4 3.4 0 1 0 -6.8 0M394.3 549.4a3.4 3.4 0 1 0 6.8 0a3.4 3.4 0 1 0 -6.8 0M325.7 541.2a3.4 3.4 0 1 0 6.8 0a3.4 3.4 0 1 0 -6.8 0M209.9 548.6a3.4 3.4 0 1 0 6.8 0a3.4 3.4 0 1 0 -6.8 0M422.1 553.2a3.4 3.4 0 1 0 6.8 0a3.4 3.4 0 1 0 -6.8 0M300.2 525.6a3.4 3.4 0 1 0 6.8 0a3.4 3.4 0 1 0 -6.8 0M431.9 522.9a3.4 3.4 0 1 0 6.8 0a3.4 3.4 0 1 0 -6.8 0M425.4 532a3.4 3.4 0 1 0 6.8 0a3.4 3.4 0 1 0 -6.8 0M416.8 544.8a3.4 3.4 0 1 0 6.8 0a3.4 3.4 0 1 0 -6.8 0M390.2 522.8a3.4 3.4 0 1 0 6.8 0a3.4 3.4 0 1 0 -6.8 0M298.8 535.1a3.4 3.4 0 1 0 6.8 0a3.4 3.4 0 1 0 -6.8 0M367.3 534.8a3.4 3.4 0 1 0 6.8 0a3.4 3.4 0 1 0 -6.8 0M453.2 533.9a3.4 3.4 0 1 0 6.8 0a3.4 3.4 0 1 0 -6.8 0M335.8 541.8a3.4 3.4 0 1 0 6.8 0a3.4 3.4 0 1 0 -6.8 0M374 520.6a3.4 3.4 0 1 0 6.8 0a3.4 3.4 0 1 0 -6.8 0M383.6 516.6a3.4 3.4 0 1 0 6.8 0a3.4 3.4 0 1 0 -6.8 0M385.9 544a3.4 3.4 0 1 0 6.8 0a3.4 3.4 0 1 0 -6.8 0M270.6 523.7a3.4 3.4 0 1 0 6.8 0a3.4 3.4 0 1 0 -6.8 0M332.2 543.4a3.4 3.4 0 1 0 6.8 0a3.4 3.4 0 1 0 -6.8 0M339.8 544.3a3.4 3.4 0 1 0 6.8 0a3.4 3.4 0 1 0 -6.8 0M380.7 559.1a3.4 3.4 0 1 0 6.8 0a3.4 3.4 0 1 0 -6.8 0M381.2 540.4a3.4 3.4 0 1 0 6.8 0a3.4 3.4 0 1 0 -6.8 0M371.9 526.9a3.4 3.4 0 1 0 6.8 0a3.4 3.4 0 1 0 -6.8 0M429.3 539.7a3.4 3.4 0 1 0 6.8 0a3.4 3.4 0 1 0 -6.8 0M386.5 551.6a3.4 3.4 0 1 0 6.8 0a3.4 3.4 0 1 0 -6.8 0M375.4 523.8a3.4 3.4 0 1 0 6.8 0a3.4 3.4 0 1 0 -6.8 0M371 519.5a3.4 3.4 0 1 0 6.8 0a3.4 3.4 0 1 0 -6.8 0M279.8 550.9a3.4 3.4 0 1 0 6.8 0a3.4 3.4 0 1 0 -6.8 0M303.6 573.5a3.4 3.4 0 1 0 6.8 0a3.4 3.4 0 1 0 -6.8 0M350 550.1a3.4 3.4 0 1 0 6.8 0a3.4 3.4 0 1 0 -6.8 0M322.5 527.1a3.4 3.4 0 1 0 6.8 0a3.4 3.4 0 1 0 -6.8 0M351.6 541.4a3.4 3.4 0 1 0 6.8 0a3.4 3.4 0 1 0 -6.8 0M442.2 538.9a3.4 3.4 0 1 0 6.8 0a3.4 3.4 0 1 0 -6.8 0M316.2 546.4a3.4 3.4 0 1 0 6.8 0a3.4 3.4 0 1 0 -6.8 0M408.8 540.3a3.4 3.4 0 1 0 6.8 0a3.4 3.4 0 1 0 -6.8 0M419.9 537.7a3.4 3.4 0 1 0 6.8 0a3.4 3.4 0 1 0 -6.8 0M322.7 552.9a3.4 3.4 0 1 0 6.8 0a3.4 3.4 0 1 0 -6.8 0M422.6 527.4a3.4 3.4 0 1 0 6.8 0a3.4 3.4 0 1 0 -6.8 0M348.1 542.4a3.4 3.4 0 1 0 6.8 0a3.4 3.4 0 1 0 -6.8 0M303.9 556.7a3.4 3.4 0 1 0 6.8 0a3.4 3.4 0 1 0 -6.8 0M212.9 540.8a3.4 3.4 0 1 0 6.8 0a3.4 3.4 0 1 0 -6.8 0M335.3 501.6a3.4 3.4 0 1 0 6.8 0a3.4 3.4 0 1 0 -6.8 0M367.3 542.6a3.4 3.4 0 1 0 6.8 0a3.4 3.4 0 1 0 -6.8 0M306.3 532.8a3.4 3.4 0 1 0 6.8 0a3.4 3.4 0 1 0 -6.8 0M368.1 537.1a3.4 3.4 0 1 0 6.8 0a3.4 3.4 0 1 0 -6.8 0M334.6 527.7a3.4 3.4 0 1 0 6.8 0a3.4 3.4 0 1 0 -6.8 0M358.5 537.8a3.4 3.4 0 1 0 6.8 0a3.4 3.4 0 1 0 -6.8 0M392.6 526.6a3.4 3.4 0 1 0 6.8 0a3.4 3.4 0 1 0 -6.8 0M253.8 540.2a3.4 3.4 0 1 0 6.8 0a3.4 3.4 0 1 0 -6.8 0M340.8 522.3a3.4 3.4 0 1 0 6.8 0a3.4 3.4 0 1 0 -6.8 0M303.3 529.1a3.4 3.4 0 1 0 6.8 0a3.4 3.4 0 1 0 -6.8 0M377 508.8a3.4 3.4 0 1 0 6.8 0a3.4 3.4 0 1 0 -6.8 0M283.6 545.9a3.4 3.4 0 1 0 6.8 0a3.4 3.4 0 1 0 -6.8 0M351.1 548.2a3.4 3.4 0 1 0 6.8 0a3.4 3.4 0 1 0 -6.8 0M385.2 527.9a3.4 3.4 0 1 0 6.8 0a3.4 3.4 0 1 0 -6.8 0M380 526a3.4 3.4 0 1 0 6.8 0a3.4 3.4 0 1 0 -6.8 0M316.5 523.5a3.4 3.4 0 1 0 6.8 0a3.4 3.4 0 1 0 -6.8 0M443.8 530.4a3.4 3.4 0 1 0 6.8 0a3.4 3.4 0 1 0 -6.8 0M321.2 545.2a3.4 3.4 0 1 0 6.8 0a3.4 3.4 0 1 0 -6.8 0M382.1 542.8a3.4 3.4 0 1 0 6.8 0a3.4 3.4 0 1 0 -6.8 0M327.3 545.6a3.4 3.4 0 1 0 6.8 0a3.4 3.4 0 1 0 -6.8 0M351 535.8a3.4 3.4 0 1 0 6.8 0a3.4 3.4 0 1 0 -6.8 0M300.3 505a3.4 3.4 0 1 0 6.8 0a3.4 3.4 0 1 0 -6.8 0M384 536.6a3.4 3.4 0 1 0 6.8 0a3.4 3.4 0 1 0 -6.8 0M354.5 546.4a3.4 3.4 0 1 0 6.8 0a3.4 3.4 0 1 0 -6.8 0M342.3 537.3a3.4 3.4 0 1 0 6.8 0a3.4 3.4 0 1 0 -6.8 0M341.5 514.4a3.4 3.4 0 1 0 6.8 0a3.4 3.4 0 1 0 -6.8 0M345.4 548a3.4 3.4 0 1 0 6.8 0a3.4 3.4 0 1 0 -6.8 0M349.8 537.8a3.4 3.4 0 1 0 6.8 0a3.4 3.4 0 1 0 -6.8 0M247.1 531.3a3.4 3.4 0 1 0 6.8 0a3.4 3.4 0 1 0 -6.8 0M207 545.5a3.4 3.4 0 1 0 6.8 0a3.4 3.4 0 1 0 -6.8 0M427.2 533.2a3.4 3.4 0 1 0 6.8 0a3.4 3.4 0 1 0 -6.8 0M355.3 538.7a3.4 3.4 0 1 0 6.8 0a3.4 3.4 0 1 0 -6.8 0M345.8 528.6a3.4 3.4 0 1 0 6.8 0a3.4 3.4 0 1 0 -6.8 0M400.2 530.2a3.4 3.4 0 1 0 6.8 0a3.4 3.4 0 1 0 -6.8 0M375.1 549.8a3.4 3.4 0 1 0 6.8 0a3.4 3.4 0 1 0 -6.8 0M377.5 545.1a3.4 3.4 0 1 0 6.8 0a3.4 3.4 0 1 0 -6.8 0M374.8 549.2a3.4 3.4 0 1 0 6.8 0a3.4 3.4 0 1 0 -6.8 0M369.6 546.1a3.4 3.4 0 1 0 6.8 0a3.4 3.4 0 1 0 -6.8 0M249.3 546.9a3.4 3.4 0 1 0 6.8 0a3.4 3.4 0 1 0 -6.8 0M224.2 536.6a3.4 3.4 0 1 0 6.8 0a3.4 3.4 0 1 0 -6.8 0M350.2 548.3a3.4 3.4 0 1 0 6.8 0a3.4 3.4 0 1 0 -6.8 0M393.8 538.5a3.4 3.4 0 1 0 6.8 0a3.4 3.4 0 1 0 -6.8 0M356.2 541.2a3.4 3.4 0 1 0 6.8 0a3.4 3.4 0 1 0 -6.8 0M278 514.2a3.4 3.4 0 1 0 6.8 0a3.4 3.4 0 1 0 -6.8 0M368.6 536.9a3.4 3.4 0 1 0 6.8 0a3.4 3.4 0 1 0 -6.8 0M381 534.9a3.4 3.4 0 1 0 6.8 0a3.4 3.4 0 1 0 -6.8 0M301.9 540.5a3.4 3.4 0 1 0 6.8 0a3.4 3.4 0 1 0 -6.8 0M387.6 529.5a3.4 3.4 0 1 0 6.8 0a3.4 3.4 0 1 0 -6.8 0M372.6 566.3a3.4 3.4 0 1 0 6.8 0a3.4 3.4 0 1 0 -6.8 0M422.6 567.7a3.4 3.4 0 1 0 6.8 0a3.4 3.4 0 1 0 -6.8 0M333.5 564.9a3.4 3.4 0 1 0 6.8 0a3.4 3.4 0 1 0 -6.8 0M382 552a3.4 3.4 0 1 0 6.8 0a3.4 3.4 0 1 0 -6.8 0M357.8 540.4a3.4 3.4 0 1 0 6.8 0a3.4 3.4 0 1 0 -6.8 0M402 523.5a3.4 3.4 0 1 0 6.8 0a3.4 3.4 0 1 0 -6.8 0M411.6 553.1a3.4 3.4 0 1 0 6.8 0a3.4 3.4 0 1 0 -6.8 0M339.6 552.2a3.4 3.4 0 1 0 6.8 0a3.4 3.4 0 1 0 -6.8 0M340.3 512.9a3.4 3.4 0 1 0 6.8 0a3.4 3.4 0 1 0 -6.8 0M362.2 544.6a3.4 3.4 0 1 0 6.8 0a3.4 3.4 0 1 0 -6.8 0M318.2 515.6a3.4 3.4 0 1 0 6.8 0a3.4 3.4 0 1 0 -6.8 0M388.9 557.5a3.4 3.4 0 1 0 6.8 0a3.4 3.4 0 1 0 -6.8 0M363.3 541.7a3.4 3.4 0 1 0 6.8 0a3.4 3.4 0 1 0 -6.8 0M338.3 542.7a3.4 3.4 0 1 0 6.8 0a3.4 3.4 0 1 0 -6.8 0M205.6 527.3a3.4 3.4 0 1 0 6.8 0a3.4 3.4 0 1 0 -6.8 0M374.2 526.6a3.4 3.4 0 1 0 6.8 0a3.4 3.4 0 1 0 -6.8 0M328.5 528.8a3.4 3.4 0 1 0 6.8 0a3.4 3.4 0 1 0 -6.8 0M376.9 559.4a3.4 3.4 0 1 0 6.8 0a3.4 3.4 0 1 0 -6.8 0M333.9 533.7a3.4 3.4 0 1 0 6.8 0a3.4 3.4 0 1 0 -6.8 0M437.7 523.8a3.4 3.4 0 1 0 6.8 0a3.4 3.4 0 1 0 -6.8 0M392.6 540.9a3.4 3.4 0 1 0 6.8 0a3.4 3.4 0 1 0 -6.8 0M423.1 529a3.4 3.4 0 1 0 6.8 0a3.4 3.4 0 1 0 -6.8 0M391.5 544.2a3.4 3.4 0 1 0 6.8 0a3.4 3.4 0 1 0 -6.8 0M385.5 552a3.4 3.4 0 1 0 6.8 0a3.4 3.4 0 1 0 -6.8 0M332.8 530.6a3.4 3.4 0 1 0 6.8 0a3.4 3.4 0 1 0 -6.8 0M437.4 538.2a3.4 3.4 0 1 0 6.8 0a3.4 3.4 0 1 0 -6.8 0M379.3 537.8a3.4 3.4 0 1 0 6.8 0a3.4 3.4 0 1 0 -6.8 0M272.5 533.3a3.4 3.4 0 1 0 6.8 0a3.4 3.4 0 1 0 -6.8 0M331.6 518.2a3.4 3.4 0 1 0 6.8 0a3.4 3.4 0 1 0 -6.8 0M376.8 520a3.4 3.4 0 1 0 6.8 0a3.4 3.4 0 1 0 -6.8 0M402.6 532.3a3.4 3.4 0 1 0 6.8 0a3.4 3.4 0 1 0 -6.8 0M399.9 549.9a3.4 3.4 0 1 0 6.8 0a3.4 3.4 0 1 0 -6.8 0M313 555.2a3.4 3.4 0 1 0 6.8 0a3.4 3.4 0 1 0 -6.8 0M203.3 536.8a3.4 3.4 0 1 0 6.8 0a3.4 3.4 0 1 0 -6.8 0M462.9 523.9a3.4 3.4 0 1 0 6.8 0a3.4 3.4 0 1 0 -6.8 0M370.7 511.6a3.4 3.4 0 1 0 6.8 0a3.4 3.4 0 1 0 -6.8 0M400.6 555.9a3.4 3.4 0 1 0 6.8 0a3.4 3.4 0 1 0 -6.8 0M397.3 544a3.4 3.4 0 1 0 6.8 0a3.4 3.4 0 1 0 -6.8 0M292.4 541a3.4 3.4 0 1 0 6.8 0a3.4 3.4 0 1 0 -6.8 0M438.8 543.6a3.4 3.4 0 1 0 6.8 0a3.4 3.4 0 1 0 -6.8 0M251 537.2a3.4 3.4 0 1 0 6.8 0a3.4 3.4 0 1 0 -6.8 0M287.3 533a3.4 3.4 0 1 0 6.8 0a3.4 3.4 0 1 0 -6.8 0M379.6 540.6a3.4 3.4 0 1 0 6.8 0a3.4 3.4 0 1 0 -6.8 0M369.6 535.3a3.4 3.4 0 1 0 6.8 0a3.4 3.4 0 1 0 -6.8 0M280.7 526.1a3.4 3.4 0 1 0 6.8 0a3.4 3.4 0 1 0 -6.8 0M334.8 523.7a3.4 3.4 0 1 0 6.8 0a3.4 3.4 0 1 0 -6.8 0M387.7 534.5a3.4 3.4 0 1 0 6.8 0a3.4 3.4 0 1 0 -6.8 0M388.5 567.4a3.4 3.4 0 1 0 6.8 0a3.4 3.4 0 1 0 -6.8 0M258.4 538.6a3.4 3.4 0 1 0 6.8 0a3.4 3.4 0 1 0 -6.8 0M422.4 529.7a3.4 3.4 0 1 0 6.8 0a3.4 3.4 0 1 0 -6.8 0M282.9 541a3.4 3.4 0 1 0 6.8 0a3.4 3.4 0 1 0 -6.8 0M297.1 527.5a3.4 3.4 0 1 0 6.8 0a3.4 3.4 0 1 0 -6.8 0M352.1 548.2a3.4 3.4 0 1 0 6.8 0a3.4 3.4 0 1 0 -6.8 0M387.4 529.1a3.4 3.4 0 1 0 6.8 0a3.4 3.4 0 1 0 -6.8 0M254.3 531.9a3.4 3.4 0 1 0 6.8 0a3.4 3.4 0 1 0 -6.8 0M405.4 514.5a3.4 3.4 0 1 0 6.8 0a3.4 3.4 0 1 0 -6.8 0M394.4 535.9a3.4 3.4 0 1 0 6.8 0a3.4 3.4 0 1 0 -6.8 0M372 546.4a3.4 3.4 0 1 0 6.8 0a3.4 3.4 0 1 0 -6.8 0M296.9 539a3.4 3.4 0 1 0 6.8 0a3.4 3.4 0 1 0 -6.8 0M400.6 525.4a3.4 3.4 0 1 0 6.8 0a3.4 3.4 0 1 0 -6.8 0M401.1 526.5a3.4 3.4 0 1 0 6.8 0a3.4 3.4 0 1 0 -6.8 0M392.5 531.3a3.4 3.4 0 1 0 6.8 0a3.4 3.4 0 1 0 -6.8 0M419 552.9a3.4 3.4 0 1 0 6.8 0a3.4 3.4 0 1 0 -6.8 0M223.2 542.3a3.4 3.4 0 1 0 6.8 0a3.4 3.4 0 1 0 -6.8 0M207.8 531.1a3.4 3.4 0 1 0 6.8 0a3.4 3.4 0 1 0 -6.8 0M266.4 537.2a3.4 3.4 0 1 0 6.8 0a3.4 3.4 0 1 0 -6.8 0M283.6 523.8a3.4 3.4 0 1 0 6.8 0a3.4 3.4 0 1 0 -6.8 0M225.1 534.2a3.4 3.4 0 1 0 6.8 0a3.4 3.4 0 1 0 -6.8 0M333.3 503.9a3.4 3.4 0 1 0 6.8 0a3.4 3.4 0 1 0 -6.8 0M398.7 520a3.4 3.4 0 1 0 6.8 0a3.4 3.4 0 1 0 -6.8 0M399.1 518.2a3.4 3.4 0 1 0 6.8 0a3.4 3.4 0 1 0 -6.8 0M277.1 532.5a3.4 3.4 0 1 0 6.8 0a3.4 3.4 0 1 0 -6.8 0M248 533.3a3.4 3.4 0 1 0 6.8 0a3.4 3.4 0 1 0 -6.8 0M378 542.3a3.4 3.4 0 1 0 6.8 0a3.4 3.4 0 1 0 -6.8 0M336.7 522.3a3.4 3.4 0 1 0 6.8 0a3.4 3.4 0 1 0 -6.8 0M326.6 526.6a3.4 3.4 0 1 0 6.8 0a3.4 3.4 0 1 0 -6.8 0M208.5 565.2a3.4 3.4 0 1 0 6.8 0a3.4 3.4 0 1 0 -6.8 0M388.1 524.9a3.4 3.4 0 1 0 6.8 0a3.4 3.4 0 1 0 -6.8 0M304.1 530.3a3.4 3.4 0 1 0 6.8 0a3.4 3.4 0 1 0 -6.8 0M401.1 526.6a3.4 3.4 0 1 0 6.8 0a3.4 3.4 0 1 0 -6.8 0M355.7 530.4a3.4 3.4 0 1 0 6.8 0a3.4 3.4 0 1 0 -6.8 0M438.7 535.6a3.4 3.4 0 1 0 6.8 0a3.4 3.4 0 1 0 -6.8 0M427.2 550.2a3.4 3.4 0 1 0 6.8 0a3.4 3.4 0 1 0 -6.8 0M223.2 539.3a3.4 3.4 0 1 0 6.8 0a3.4 3.4 0 1 0 -6.8 0M367.1 557.2a3.4 3.4 0 1 0 6.8 0a3.4 3.4 0 1 0 -6.8 0M447.2 535.7a3.4 3.4 0 1 0 6.8 0a3.4 3.4 0 1 0 -6.8 0M395 540.5a3.4 3.4 0 1 0 6.8 0a3.4 3.4 0 1 0 -6.8 0M421.2 545.6a3.4 3.4 0 1 0 6.8 0a3.4 3.4 0 1 0 -6.8 0M392.7 531.1a3.4 3.4 0 1 0 6.8 0a3.4 3.4 0 1 0 -6.8 0M268.8 541.4a3.4 3.4 0 1 0 6.8 0a3.4 3.4 0 1 0 -6.8 0M369.9 556.5a3.4 3.4 0 1 0 6.8 0a3.4 3.4 0 1 0 -6.8 0M398.3 530a3.4 3.4 0 1 0 6.8 0a3.4 3.4 0 1 0 -6.8 0M403.3 542.1a3.4 3.4 0 1 0 6.8 0a3.4 3.4 0 1 0 -6.8 0M292.3 556.8a3.4 3.4 0 1 0 6.8 0a3.4 3.4 0 1 0 -6.8 0M287.9 554.1a3.4 3.4 0 1 0 6.8 0a3.4 3.4 0 1 0 -6.8 0M359.7 534.2a3.4 3.4 0 1 0 6.8 0a3.4 3.4 0 1 0 -6.8 0M384.1 516.5a3.4 3.4 0 1 0 6.8 0a3.4 3.4 0 1 0 -6.8 0M392.6 539.9a3.4 3.4 0 1 0 6.8 0a3.4 3.4 0 1 0 -6.8 0M427.3 548a3.4 3.4 0 1 0 6.8 0a3.4 3.4 0 1 0 -6.8 0M414.9 540.9a3.4 3.4 0 1 0 6.8 0a3.4 3.4 0 1 0 -6.8 0M411 530.6a3.4 3.4 0 1 0 6.8 0a3.4 3.4 0 1 0 -6.8 0M420.7 534.4a3.4 3.4 0 1 0 6.8 0a3.4 3.4 0 1 0 -6.8 0M377.7 546.9a3.4 3.4 0 1 0 6.8 0a3.4 3.4 0 1 0 -6.8 0M403.7 534.6a3.4 3.4 0 1 0 6.8 0a3.4 3.4 0 1 0 -6.8 0M249.2 527.8a3.4 3.4 0 1 0 6.8 0a3.4 3.4 0 1 0 -6.8 0M334.4 533.4a3.4 3.4 0 1 0 6.8 0a3.4 3.4 0 1 0 -6.8 0M319.8 545.5a3.4 3.4 0 1 0 6.8 0a3.4 3.4 0 1 0 -6.8 0M363.5 536.2a3.4 3.4 0 1 0 6.8 0a3.4 3.4 0 1 0 -6.8 0M357.7 522.1a3.4 3.4 0 1 0 6.8 0a3.4 3.4 0 1 0 -6.8 0M375 533.7a3.4 3.4 0 1 0 6.8 0a3.4 3.4 0 1 0 -6.8 0M388.8 537.6a3.4 3.4 0 1 0 6.8 0a3.4 3.4 0 1 0 -6.8 0M339.5 554.4a3.4 3.4 0 1 0 6.8 0a3.4 3.4 0 1 0 -6.8 0M440.6 535.3a3.4 3.4 0 1 0 6.8 0a3.4 3.4 0 1 0 -6.8 0M429.2 527.7a3.4 3.4 0 1 0 6.8 0a3.4 3.4 0 1 0 -6.8 0M314.1 524.9a3.4 3.4 0 1 0 6.8 0a3.4 3.4 0 1 0 -6.8 0M314.1 532.7a3.4 3.4 0 1 0 6.8 0a3.4 3.4 0 1 0 -6.8 0M281 529.8a3.4 3.4 0 1 0 6.8 0a3.4 3.4 0 1 0 -6.8 0M385.6 562.9a3.4 3.4 0 1 0 6.8 0a3.4 3.4 0 1 0 -6.8 0M282.2 549.5a3.4 3.4 0 1 0 6.8 0a3.4 3.4 0 1 0 -6.8 0M265.5 535.6a3.4 3.4 0 1 0 6.8 0a3.4 3.4 0 1 0 -6.8 0M325.6 533.3a3.4 3.4 0 1 0 6.8 0a3.4 3.4 0 1 0 -6.8 0M398.1 521.9a3.4 3.4 0 1 0 6.8 0a3.4 3.4 0 1 0 -6.8 0M402 537.7a3.4 3.4 0 1 0 6.8 0a3.4 3.4 0 1 0 -6.8 0M346.6 576.6a3.4 3.4 0 1 0 6.8 0a3.4 3.4 0 1 0 -6.8 0M235.3 550.9a3.4 3.4 0 1 0 6.8 0a3.4 3.4 0 1 0 -6.8 0M430.9 524.8a3.4 3.4 0 1 0 6.8 0a3.4 3.4 0 1 0 -6.8 0M377.6 540.3a3.4 3.4 0 1 0 6.8 0a3.4 3.4 0 1 0 -6.8 0M389.9 550.6a3.4 3.4 0 1 0 6.8 0a3.4 3.4 0 1 0 -6.8 0M353.7 530.8a3.4 3.4 0 1 0 6.8 0a3.4 3.4 0 1 0 -6.8 0M301.3 558.8a3.4 3.4 0 1 0 6.8 0a3.4 3.4 0 1 0 -6.8 0M321.9 534.4a3.4 3.4 0 1 0 6.8 0a3.4 3.4 0 1 0 -6.8 0M350.4 548a3.4 3.4 0 1 0 6.8 0a3.4 3.4 0 1 0 -6.8 0M267.9 537.9a3.4 3.4 0 1 0 6.8 0a3.4 3.4 0 1 0 -6.8 0M326.6 556.8a3.4 3.4 0 1 0 6.8 0a3.4 3.4 0 1 0 -6.8 0M352.4 541.7a3.4 3.4 0 1 0 6.8 0a3.4 3.4 0 1 0 -6.8 0M436.4 535.7a3.4 3.4 0 1 0 6.8 0a3.4 3.4 0 1 0 -6.8 0M275.9 518.7a3.4 3.4 0 1 0 6.8 0a3.4 3.4 0 1 0 -6.8 0M342.3 545a3.4 3.4 0 1 0 6.8 0a3.4 3.4 0 1 0 -6.8 0M251.8 536.4a3.4 3.4 0 1 0 6.8 0a3.4 3.4 0 1 0 -6.8 0M442 535.4a3.4 3.4 0 1 0 6.8 0a3.4 3.4 0 1 0 -6.8 0M394.9 521.6a3.4 3.4 0 1 0 6.8 0a3.4 3.4 0 1 0 -6.8 0M349.2 551a3.4 3.4 0 1 0 6.8 0a3.4 3.4 0 1 0 -6.8 0M354.7 504.4a3.4 3.4 0 1 0 6.8 0a3.4 3.4 0 1 0 -6.8 0M335 547.7a3.4 3.4 0 1 0 6.8 0a3.4 3.4 0 1 0 -6.8 0M421.6 524.4a3.4 3.4 0 1 0 6.8 0a3.4 3.4 0 1 0 -6.8 0M356.1 537a3.4 3.4 0 1 0 6.8 0a3.4 3.4 0 1 0 -6.8 0M419.1 537a3.4 3.4 0 1 0 6.8 0a3.4 3.4 0 1 0 -6.8 0M447.5 525.3a3.4 3.4 0 1 0 6.8 0a3.4 3.4 0 1 0 -6.8 0M351.1 536.4a3.4 3.4 0 1 0 6.8 0a3.4 3.4 0 1 0 -6.8 0M311.1 543.6a3.4 3.4 0 1 0 6.8 0a3.4 3.4 0 1 0 -6.8 0M343.1 531.7a3.4 3.4 0 1 0 6.8 0a3.4 3.4 0 1 0 -6.8 0M419.1 526.9a3.4 3.4 0 1 0 6.8 0a3.4 3.4 0 1 0 -6.8 0M294.5 540.8a3.4 3.4 0 1 0 6.8 0a3.4 3.4 0 1 0 -6.8 0M360.6 522.3a3.4 3.4 0 1 0 6.8 0a3.4 3.4 0 1 0 -6.8 0M325.6 551.2a3.4 3.4 0 1 0 6.8 0a3.4 3.4 0 1 0 -6.8 0M338.1 543.4a3.4 3.4 0 1 0 6.8 0a3.4 3.4 0 1 0 -6.8 0M390.9 553.5a3.4 3.4 0 1 0 6.8 0a3.4 3.4 0 1 0 -6.8 0M341.8 527.1a3.4 3.4 0 1 0 6.8 0a3.4 3.4 0 1 0 -6.8 0M299.5 533.1a3.4 3.4 0 1 0 6.8 0a3.4 3.4 0 1 0 -6.8 0M341.4 522.2a3.4 3.4 0 1 0 6.8 0a3.4 3.4 0 1 0 -6.8 0M301.5 522.8a3.4 3.4 0 1 0 6.8 0a3.4 3.4 0 1 0 -6.8 0M388.6 541.9a3.4 3.4 0 1 0 6.8 0a3.4 3.4 0 1 0 -6.8 0M379.2 542.5a3.4 3.4 0 1 0 6.8 0a3.4 3.4 0 1 0 -6.8 0M354.8 547.8a3.4 3.4 0 1 0 6.8 0a3.4 3.4 0 1 0 -6.8 0M454.9 568.2a3.4 3.4 0 1 0 6.8 0a3.4 3.4 0 1 0 -6.8 0M450.5 562.2a3.4 3.4 0 1 0 6.8 0a3.4 3.4 0 1 0 -6.8 0M422 518a3.4 3.4 0 1 0 6.8 0a3.4 3.4 0 1 0 -6.8 0M229 538.8a3.4 3.4 0 1 0 6.8 0a3.4 3.4 0 1 0 -6.8 0M383.6 562.3a3.4 3.4 0 1 0 6.8 0a3.4 3.4 0 1 0 -6.8 0M341.9 512.5a3.4 3.4 0 1 0 6.8 0a3.4 3.4 0 1 0 -6.8 0M364.3 545.4a3.4 3.4 0 1 0 6.8 0a3.4 3.4 0 1 0 -6.8 0M330.3 557.9a3.4 3.4 0 1 0 6.8 0a3.4 3.4 0 1 0 -6.8 0M338.8 535.5a3.4 3.4 0 1 0 6.8 0a3.4 3.4 0 1 0 -6.8 0M365.9 525a3.4 3.4 0 1 0 6.8 0a3.4 3.4 0 1 0 -6.8 0M390.1 540.1a3.4 3.4 0 1 0 6.8 0a3.4 3.4 0 1 0 -6.8 0M265.7 527.6a3.4 3.4 0 1 0 6.8 0a3.4 3.4 0 1 0 -6.8 0M401.5 558.2a3.4 3.4 0 1 0 6.8 0a3.4 3.4 0 1 0 -6.8 0M418.3 544.6a3.4 3.4 0 1 0 6.8 0a3.4 3.4 0 1 0 -6.8 0M440.2 534.1a3.4 3.4 0 1 0 6.8 0a3.4 3.4 0 1 0 -6.8 0M314.8 531.8a3.4 3.4 0 1 0 6.8 0a3.4 3.4 0 1 0 -6.8 0M398.3 523.3a3.4 3.4 0 1 0 6.8 0a3.4 3.4 0 1 0 -6.8 0M248.4 543.8a3.4 3.4 0 1 0 6.8 0a3.4 3.4 0 1 0 -6.8 0M378.7 550.2a3.4 3.4 0 1 0 6.8 0a3.4 3.4 0 1 0 -6.8 0M456 537.5a3.4 3.4 0 1 0 6.8 0a3.4 3.4 0 1 0 -6.8 0M283.4 546.2a3.4 3.4 0 1 0 6.8 0a3.4 3.4 0 1 0 -6.8 0M402.8 557.3a3.4 3.4 0 1 0 6.8 0a3.4 3.4 0 1 0 -6.8 0M235.4 533.5a3.4 3.4 0 1 0 6.8 0a3.4 3.4 0 1 0 -6.8 0M279.6 540a3.4 3.4 0 1 0 6.8 0a3.4 3.4 0 1 0 -6.8 0M431.3 526.5a3.4 3.4 0 1 0 6.8 0a3.4 3.4 0 1 0 -6.8 0M340.1 548.6a3.4 3.4 0 1 0 6.8 0a3.4 3.4 0 1 0 -6.8 0M399.5 532.8a3.4 3.4 0 1 0 6.8 0a3.4 3.4 0 1 0 -6.8 0M397.8 540.1a3.4 3.4 0 1 0 6.8 0a3.4 3.4 0 1 0 -6.8 0M356.3 496a3.4 3.4 0 1 0 6.8 0a3.4 3.4 0 1 0 -6.8 0M419.4 541a3.4 3.4 0 1 0 6.8 0a3.4 3.4 0 1 0 -6.8 0M417.1 523.4a3.4 3.4 0 1 0 6.8 0a3.4 3.4 0 1 0 -6.8 0M315.2 533.6a3.4 3.4 0 1 0 6.8 0a3.4 3.4 0 1 0 -6.8 0M305.4 537.8a3.4 3.4 0 1 0 6.8 0a3.4 3.4 0 1 0 -6.8 0M306.4 519.6a3.4 3.4 0 1 0 6.8 0a3.4 3.4 0 1 0 -6.8 0M302.3 520.4a3.4 3.4 0 1 0 6.8 0a3.4 3.4 0 1 0 -6.8 0M280.7 534a3.4 3.4 0 1 0 6.8 0a3.4 3.4 0 1 0 -6.8 0M388.1 565.7a3.4 3.4 0 1 0 6.8 0a3.4 3.4 0 1 0 -6.8 0M349.9 536a3.4 3.4 0 1 0 6.8 0a3.4 3.4 0 1 0 -6.8 0M384.8 535.8a3.4 3.4 0 1 0 6.8 0a3.4 3.4 0 1 0 -6.8 0M248.8 533.1a3.4 3.4 0 1 0 6.8 0a3.4 3.4 0 1 0 -6.8 0M302.7 531a3.4 3.4 0 1 0 6.8 0a3.4 3.4 0 1 0 -6.8 0M381.3 528.7a3.4 3.4 0 1 0 6.8 0a3.4 3.4 0 1 0 -6.8 0M320.2 545.1a3.4 3.4 0 1 0 6.8 0a3.4 3.4 0 1 0 -6.8 0M358.9 531.5a3.4 3.4 0 1 0 6.8 0a3.4 3.4 0 1 0 -6.8 0M290 538.6a3.4 3.4 0 1 0 6.8 0a3.4 3.4 0 1 0 -6.8 0M354.3 520a3.4 3.4 0 1 0 6.8 0a3.4 3.4 0 1 0 -6.8 0M353.3 556.6a3.4 3.4 0 1 0 6.8 0a3.4 3.4 0 1 0 -6.8 0M429.9 512.3a3.4 3.4 0 1 0 6.8 0a3.4 3.4 0 1 0 -6.8 0M235.2 540.1a3.4 3.4 0 1 0 6.8 0a3.4 3.4 0 1 0 -6.8 0M330.9 538.6a3.4 3.4 0 1 0 6.8 0a3.4 3.4 0 1 0 -6.8 0M289.2 541.9a3.4 3.4 0 1 0 6.8 0a3.4 3.4 0 1 0 -6.8 0M376.9 542.3a3.4 3.4 0 1 0 6.8 0a3.4 3.4 0 1 0 -6.8 0M353.7 529.1a3.4 3.4 0 1 0 6.8 0a3.4 3.4 0 1 0 -6.8 0M316.8 546.4a3.4 3.4 0 1 0 6.8 0a3.4 3.4 0 1 0 -6.8 0M380.5 523.2a3.4 3.4 0 1 0 6.8 0a3.4 3.4 0 1 0 -6.8 0M333.8 538.8a3.4 3.4 0 1 0 6.8 0a3.4 3.4 0 1 0 -6.8 0M360.5 534.1a3.4 3.4 0 1 0 6.8 0a3.4 3.4 0 1 0 -6.8 0M338.2 543a3.4 3.4 0 1 0 6.8 0a3.4 3.4 0 1 0 -6.8 0M259.8 539.1a3.4 3.4 0 1 0 6.8 0a3.4 3.4 0 1 0 -6.8 0M351.4 519.7a3.4 3.4 0 1 0 6.8 0a3.4 3.4 0 1 0 -6.8 0M260.3 535.3a3.4 3.4 0 1 0 6.8 0a3.4 3.4 0 1 0 -6.8 0M446 528.6a3.4 3.4 0 1 0 6.8 0a3.4 3.4 0 1 0 -6.8 0M424.3 530.2a3.4 3.4 0 1 0 6.8 0a3.4 3.4 0 1 0 -6.8 0M361.8 537.7a3.4 3.4 0 1 0 6.8 0a3.4 3.4 0 1 0 -6.8 0M346.2 547.1a3.4 3.4 0 1 0 6.8 0a3.4 3.4 0 1 0 -6.8 0M304.3 537.9a3.4 3.4 0 1 0 6.8 0a3.4 3.4 0 1 0 -6.8 0M421.5 538.3a3.4 3.4 0 1 0 6.8 0a3.4 3.4 0 1 0 -6.8 0M325.2 551.3a3.4 3.4 0 1 0 6.8 0a3.4 3.4 0 1 0 -6.8 0M375 546.9a3.4 3.4 0 1 0 6.8 0a3.4 3.4 0 1 0 -6.8 0M311.5 529.9a3.4 3.4 0 1 0 6.8 0a3.4 3.4 0 1 0 -6.8 0M381.7 528.3a3.4 3.4 0 1 0 6.8 0a3.4 3.4 0 1 0 -6.8 0M230.9 528.7a3.4 3.4 0 1 0 6.8 0a3.4 3.4 0 1 0 -6.8 0M325.4 524.4a3.4 3.4 0 1 0 6.8 0a3.4 3.4 0 1 0 -6.8 0M381.7 539.5a3.4 3.4 0 1 0 6.8 0a3.4 3.4 0 1 0 -6.8 0M315.7 515.8a3.4 3.4 0 1 0 6.8 0a3.4 3.4 0 1 0 -6.8 0M342.2 559.6a3.4 3.4 0 1 0 6.8 0a3.4 3.4 0 1 0 -6.8 0M356.4 519.3a3.4 3.4 0 1 0 6.8 0a3.4 3.4 0 1 0 -6.8 0M408 549.9a3.4 3.4 0 1 0 6.8 0a3.4 3.4 0 1 0 -6.8 0M279.7 546.2a3.4 3.4 0 1 0 6.8 0a3.4 3.4 0 1 0 -6.8 0M339.3 538.7a3.4 3.4 0 1 0 6.8 0a3.4 3.4 0 1 0 -6.8 0M351.3 536.5a3.4 3.4 0 1 0 6.8 0a3.4 3.4 0 1 0 -6.8 0M329.4 543.5a3.4 3.4 0 1 0 6.8 0a3.4 3.4 0 1 0 -6.8 0M286.8 523.8a3.4 3.4 0 1 0 6.8 0a3.4 3.4 0 1 0 -6.8 0M401.1 534.5a3.4 3.4 0 1 0 6.8 0a3.4 3.4 0 1 0 -6.8 0M428.7 535.8a3.4 3.4 0 1 0 6.8 0a3.4 3.4 0 1 0 -6.8 0M321.6 535.9a3.4 3.4 0 1 0 6.8 0a3.4 3.4 0 1 0 -6.8 0M392.2 575.5a3.4 3.4 0 1 0 6.8 0a3.4 3.4 0 1 0 -6.8 0M340 536.3a3.4 3.4 0 1 0 6.8 0a3.4 3.4 0 1 0 -6.8 0M407.7 523a3.4 3.4 0 1 0 6.8 0a3.4 3.4 0 1 0 -6.8 0M205.7 536.9a3.4 3.4 0 1 0 6.8 0a3.4 3.4 0 1 0 -6.8 0M371.7 531.7a3.4 3.4 0 1 0 6.8 0a3.4 3.4 0 1 0 -6.8 0M411 555.9a3.4 3.4 0 1 0 6.8 0a3.4 3.4 0 1 0 -6.8 0M365.3 527.8a3.4 3.4 0 1 0 6.8 0a3.4 3.4 0 1 0 -6.8 0M397.1 523.7a3.4 3.4 0 1 0 6.8 0a3.4 3.4 0 1 0 -6.8 0M380.3 559.1a3.4 3.4 0 1 0 6.8 0a3.4 3.4 0 1 0 -6.8 0M405.2 529.3a3.4 3.4 0 1 0 6.8 0a3.4 3.4 0 1 0 -6.8 0M366.6 536.3a3.4 3.4 0 1 0 6.8 0a3.4 3.4 0 1 0 -6.8 0M338.4 528a3.4 3.4 0 1 0 6.8 0a3.4 3.4 0 1 0 -6.8 0M344.7 552.9a3.4 3.4 0 1 0 6.8 0a3.4 3.4 0 1 0 -6.8 0M254.9 544.8a3.4 3.4 0 1 0 6.8 0a3.4 3.4 0 1 0 -6.8 0M440.3 542.2a3.4 3.4 0 1 0 6.8 0a3.4 3.4 0 1 0 -6.8 0M247.1 534.5a3.4 3.4 0 1 0 6.8 0a3.4 3.4 0 1 0 -6.8 0M207.7 523.3a3.4 3.4 0 1 0 6.8 0a3.4 3.4 0 1 0 -6.8 0M353.3 549.2a3.4 3.4 0 1 0 6.8 0a3.4 3.4 0 1 0 -6.8 0M285.7 533.6a3.4 3.4 0 1 0 6.8 0a3.4 3.4 0 1 0 -6.8 0M308 531.9a3.4 3.4 0 1 0 6.8 0a3.4 3.4 0 1 0 -6.8 0M344.2 533.3a3.4 3.4 0 1 0 6.8 0a3.4 3.4 0 1 0 -6.8 0M325.9 527a3.4 3.4 0 1 0 6.8 0a3.4 3.4 0 1 0 -6.8 0M280.3 550.5a3.4 3.4 0 1 0 6.8 0a3.4 3.4 0 1 0 -6.8 0M325.7 527.7a3.4 3.4 0 1 0 6.8 0a3.4 3.4 0 1 0 -6.8 0M308.2 530.8a3.4 3.4 0 1 0 6.8 0a3.4 3.4 0 1 0 -6.8 0M255.6 539.6a3.4 3.4 0 1 0 6.8 0a3.4 3.4 0 1 0 -6.8 0M353 539.4a3.4 3.4 0 1 0 6.8 0a3.4 3.4 0 1 0 -6.8 0M302.8 540.7a3.4 3.4 0 1 0 6.8 0a3.4 3.4 0 1 0 -6.8 0M336.3 518.3a3.4 3.4 0 1 0 6.8 0a3.4 3.4 0 1 0 -6.8 0M308.3 535.2a3.4 3.4 0 1 0 6.8 0a3.4 3.4 0 1 0 -6.8 0M246.7 532.7a3.4 3.4 0 1 0 6.8 0a3.4 3.4 0 1 0 -6.8 0M307.1 539.3a3.4 3.4 0 1 0 6.8 0a3.4 3.4 0 1 0 -6.8 0M324.8 530.6a3.4 3.4 0 1 0 6.8 0a3.4 3.4 0 1 0 -6.8 0M383.4 532.6a3.4 3.4 0 1 0 6.8 0a3.4 3.4 0 1 0 -6.8 0M257.9 536.2a3.4 3.4 0 1 0 6.8 0a3.4 3.4 0 1 0 -6.8 0M304.6 534.8a3.4 3.4 0 1 0 6.8 0a3.4 3.4 0 1 0 -6.8 0M384.7 499.3a3.4 3.4 0 1 0 6.8 0a3.4 3.4 0 1 0 -6.8 0M337.8 518.4a3.4 3.4 0 1 0 6.8 0a3.4 3.4 0 1 0 -6.8 0M407.9 539.7a3.4 3.4 0 1 0 6.8 0a3.4 3.4 0 1 0 -6.8 0M257.4 549.8a3.4 3.4 0 1 0 6.8 0a3.4 3.4 0 1 0 -6.8 0M298.4 539.4a3.4 3.4 0 1 0 6.8 0a3.4 3.4 0 1 0 -6.8 0M415.6 541.6a3.4 3.4 0 1 0 6.8 0a3.4 3.4 0 1 0 -6.8 0M330.6 562.5a3.4 3.4 0 1 0 6.8 0a3.4 3.4 0 1 0 -6.8 0M412.3 541a3.4 3.4 0 1 0 6.8 0a3.4 3.4 0 1 0 -6.8 0M438.3 538.8a3.4 3.4 0 1 0 6.8 0a3.4 3.4 0 1 0 -6.8 0M323.7 540.5a3.4 3.4 0 1 0 6.8 0a3.4 3.4 0 1 0 -6.8 0M348.3 553a3.4 3.4 0 1 0 6.8 0a3.4 3.4 0 1 0 -6.8 0M395.3 534.1a3.4 3.4 0 1 0 6.8 0a3.4 3.4 0 1 0 -6.8 0M391.9 507.1a3.4 3.4 0 1 0 6.8 0a3.4 3.4 0 1 0 -6.8 0M353.9 561.3a3.4 3.4 0 1 0 6.8 0a3.4 3.4 0 1 0 -6.8 0M411.2 522.6a3.4 3.4 0 1 0 6.8 0a3.4 3.4 0 1 0 -6.8 0M260.2 544.9a3.4 3.4 0 1 0 6.8 0a3.4 3.4 0 1 0 -6.8 0M421.3 548.5a3.4 3.4 0 1 0 6.8 0a3.4 3.4 0 1 0 -6.8 0M208.2 534.9a3.4 3.4 0 1 0 6.8 0a3.4 3.4 0 1 0 -6.8 0M343 537.3a3.4 3.4 0 1 0 6.8 0a3.4 3.4 0 1 0 -6.8 0M389.5 551.4a3.4 3.4 0 1 0 6.8 0a3.4 3.4 0 1 0 -6.8 0M328.2 530.2a3.4 3.4 0 1 0 6.8 0a3.4 3.4 0 1 0 -6.8 0M418.5 524.8a3.4 3.4 0 1 0 6.8 0a3.4 3.4 0 1 0 -6.8 0M365.7 565.5a3.4 3.4 0 1 0 6.8 0a3.4 3.4 0 1 0 -6.8 0M425.1 536.2a3.4 3.4 0 1 0 6.8 0a3.4 3.4 0 1 0 -6.8 0M452.4 526.6a3.4 3.4 0 1 0 6.8 0a3.4 3.4 0 1 0 -6.8 0M349.6 552.2a3.4 3.4 0 1 0 6.8 0a3.4 3.4 0 1 0 -6.8 0M322.1 534.9a3.4 3.4 0 1 0 6.8 0a3.4 3.4 0 1 0 -6.8 0M382.2 530a3.4 3.4 0 1 0 6.8 0a3.4 3.4 0 1 0 -6.8 0M456 540.2a3.4 3.4 0 1 0 6.8 0a3.4 3.4 0 1 0 -6.8 0M406.2 538.6a3.4 3.4 0 1 0 6.8 0a3.4 3.4 0 1 0 -6.8 0M340.6 532.9a3.4 3.4 0 1 0 6.8 0a3.4 3.4 0 1 0 -6.8 0M348 550.7a3.4 3.4 0 1 0 6.8 0a3.4 3.4 0 1 0 -6.8 0M298.4 537.3a3.4 3.4 0 1 0 6.8 0a3.4 3.4 0 1 0 -6.8 0M391.3 532.3a3.4 3.4 0 1 0 6.8 0a3.4 3.4 0 1 0 -6.8 0M352.8 533.7a3.4 3.4 0 1 0 6.8 0a3.4 3.4 0 1 0 -6.8 0M305.3 534.4a3.4 3.4 0 1 0 6.8 0a3.4 3.4 0 1 0 -6.8 0M381.6 558.5a3.4 3.4 0 1 0 6.8 0a3.4 3.4 0 1 0 -6.8 0M299.1 542.5a3.4 3.4 0 1 0 6.8 0a3.4 3.4 0 1 0 -6.8 0M365.8 533.1a3.4 3.4 0 1 0 6.8 0a3.4 3.4 0 1 0 -6.8 0M451.7 534.8a3.4 3.4 0 1 0 6.8 0a3.4 3.4 0 1 0 -6.8 0M309.5 528.7a3.4 3.4 0 1 0 6.8 0a3.4 3.4 0 1 0 -6.8 0M363.6 571.1a3.4 3.4 0 1 0 6.8 0a3.4 3.4 0 1 0 -6.8 0M370.7 521.3a3.4 3.4 0 1 0 6.8 0a3.4 3.4 0 1 0 -6.8 0M296.5 528.9a3.4 3.4 0 1 0 6.8 0a3.4 3.4 0 1 0 -6.8 0M345.9 545.7a3.4 3.4 0 1 0 6.8 0a3.4 3.4 0 1 0 -6.8 0M346.7 531.8a3.4 3.4 0 1 0 6.8 0a3.4 3.4 0 1 0 -6.8 0M236.8 541.5a3.4 3.4 0 1 0 6.8 0a3.4 3.4 0 1 0 -6.8 0M234.7 534.2a3.4 3.4 0 1 0 6.8 0a3.4 3.4 0 1 0 -6.8 0M341 519.1a3.4 3.4 0 1 0 6.8 0a3.4 3.4 0 1 0 -6.8 0M352 543.5a3.4 3.4 0 1 0 6.8 0a3.4 3.4 0 1 0 -6.8 0M394.7 538.3a3.4 3.4 0 1 0 6.8 0a3.4 3.4 0 1 0 -6.8 0M278.9 532.4a3.4 3.4 0 1 0 6.8 0a3.4 3.4 0 1 0 -6.8 0M444.6 517.5a3.4 3.4 0 1 0 6.8 0a3.4 3.4 0 1 0 -6.8 0M402.2 535.3a3.4 3.4 0 1 0 6.8 0a3.4 3.4 0 1 0 -6.8 0M369.9 543.6a3.4 3.4 0 1 0 6.8 0a3.4 3.4 0 1 0 -6.8 0M398.6 519.5a3.4 3.4 0 1 0 6.8 0a3.4 3.4 0 1 0 -6.8 0M342.5 529.8a3.4 3.4 0 1 0 6.8 0a3.4 3.4 0 1 0 -6.8 0M391.7 543.4a3.4 3.4 0 1 0 6.8 0a3.4 3.4 0 1 0 -6.8 0M330.9 550.4a3.4 3.4 0 1 0 6.8 0a3.4 3.4 0 1 0 -6.8 0M260.8 529.9a3.4 3.4 0 1 0 6.8 0a3.4 3.4 0 1 0 -6.8 0M254.5 542a3.4 3.4 0 1 0 6.8 0a3.4 3.4 0 1 0 -6.8 0M379.7 515.8a3.4 3.4 0 1 0 6.8 0a3.4 3.4 0 1 0 -6.8 0M236.6 535.4a3.4 3.4 0 1 0 6.8 0a3.4 3.4 0 1 0 -6.8 0M244.8 562.1a3.4 3.4 0 1 0 6.8 0a3.4 3.4 0 1 0 -6.8 0M440.6 536.5a3.4 3.4 0 1 0 6.8 0a3.4 3.4 0 1 0 -6.8 0M378.9 538.5a3.4 3.4 0 1 0 6.8 0a3.4 3.4 0 1 0 -6.8 0M378.7 524.3a3.4 3.4 0 1 0 6.8 0a3.4 3.4 0 1 0 -6.8 0M447.9 532.4a3.4 3.4 0 1 0 6.8 0a3.4 3.4 0 1 0 -6.8 0M293.8 514.6a3.4 3.4 0 1 0 6.8 0a3.4 3.4 0 1 0 -6.8 0M264.9 537.8a3.4 3.4 0 1 0 6.8 0a3.4 3.4 0 1 0 -6.8 0M343.3 535.4a3.4 3.4 0 1 0 6.8 0a3.4 3.4 0 1 0 -6.8 0M261.9 543.2a3.4 3.4 0 1 0 6.8 0a3.4 3.4 0 1 0 -6.8 0M373.7 528.2a3.4 3.4 0 1 0 6.8 0a3.4 3.4 0 1 0 -6.8 0M387.8 556.5a3.4 3.4 0 1 0 6.8 0a3.4 3.4 0 1 0 -6.8 0M391.8 548.3a3.4 3.4 0 1 0 6.8 0a3.4 3.4 0 1 0 -6.8 0M453.2 558.5a3.4 3.4 0 1 0 6.8 0a3.4 3.4 0 1 0 -6.8 0M343.6 534.5a3.4 3.4 0 1 0 6.8 0a3.4 3.4 0 1 0 -6.8 0M413.5 532a3.4 3.4 0 1 0 6.8 0a3.4 3.4 0 1 0 -6.8 0M437 533.6a3.4 3.4 0 1 0 6.8 0a3.4 3.4 0 1 0 -6.8 0M422.4 534.9a3.4 3.4 0 1 0 6.8 0a3.4 3.4 0 1 0 -6.8 0M337.3 535.1a3.4 3.4 0 1 0 6.8 0a3.4 3.4 0 1 0 -6.8 0M365.9 529.9a3.4 3.4 0 1 0 6.8 0a3.4 3.4 0 1 0 -6.8 0M383.8 517.7a3.4 3.4 0 1 0 6.8 0a3.4 3.4 0 1 0 -6.8 0M399.4 525.6a3.4 3.4 0 1 0 6.8 0a3.4 3.4 0 1 0 -6.8 0M204.2 535.4a3.4 3.4 0 1 0 6.8 0a3.4 3.4 0 1 0 -6.8 0M381.3 545.9a3.4 3.4 0 1 0 6.8 0a3.4 3.4 0 1 0 -6.8 0M342.3 528.9a3.4 3.4 0 1 0 6.8 0a3.4 3.4 0 1 0 -6.8 0M239.9 535a3.4 3.4 0 1 0 6.8 0a3.4 3.4 0 1 0 -6.8 0M399 533.8a3.4 3.4 0 1 0 6.8 0a3.4 3.4 0 1 0 -6.8 0M279.1 540a3.4 3.4 0 1 0 6.8 0a3.4 3.4 0 1 0 -6.8 0M300.7 529.6a3.4 3.4 0 1 0 6.8 0a3.4 3.4 0 1 0 -6.8 0M264.6 539.6a3.4 3.4 0 1 0 6.8 0a3.4 3.4 0 1 0 -6.8 0M364.4 558a3.4 3.4 0 1 0 6.8 0a3.4 3.4 0 1 0 -6.8 0M335.7 541.2a3.4 3.4 0 1 0 6.8 0a3.4 3.4 0 1 0 -6.8 0M373.2 561.1a3.4 3.4 0 1 0 6.8 0a3.4 3.4 0 1 0 -6.8 0M402.8 537.5a3.4 3.4 0 1 0 6.8 0a3.4 3.4 0 1 0 -6.8 0M421.8 513.4a3.4 3.4 0 1 0 6.8 0a3.4 3.4 0 1 0 -6.8 0M346.9 552.1a3.4 3.4 0 1 0 6.8 0a3.4 3.4 0 1 0 -6.8 0M302.7 533.9a3.4 3.4 0 1 0 6.8 0a3.4 3.4 0 1 0 -6.8 0M372 528.3a3.4 3.4 0 1 0 6.8 0a3.4 3.4 0 1 0 -6.8 0M260.1 531.6a3.4 3.4 0 1 0 6.8 0a3.4 3.4 0 1 0 -6.8 0M398.2 537a3.4 3.4 0 1 0 6.8 0a3.4 3.4 0 1 0 -6.8 0M360 548.7a3.4 3.4 0 1 0 6.8 0a3.4 3.4 0 1 0 -6.8 0M412.5 533.1a3.4 3.4 0 1 0 6.8 0a3.4 3.4 0 1 0 -6.8 0M389.4 508.5a3.4 3.4 0 1 0 6.8 0a3.4 3.4 0 1 0 -6.8 0M385.4 512.6a3.4 3.4 0 1 0 6.8 0a3.4 3.4 0 1 0 -6.8 0M296.9 515.3a3.4 3.4 0 1 0 6.8 0a3.4 3.4 0 1 0 -6.8 0M384.3 541.9a3.4 3.4 0 1 0 6.8 0a3.4 3.4 0 1 0 -6.8 0M436.8 538.7a3.4 3.4 0 1 0 6.8 0a3.4 3.4 0 1 0 -6.8 0M263.5 532.8a3.4 3.4 0 1 0 6.8 0a3.4 3.4 0 1 0 -6.8 0M449.3 545.1a3.4 3.4 0 1 0 6.8 0a3.4 3.4 0 1 0 -6.8 0M361.6 530.7a3.4 3.4 0 1 0 6.8 0a3.4 3.4 0 1 0 -6.8 0M329.4 541.7a3.4 3.4 0 1 0 6.8 0a3.4 3.4 0 1 0 -6.8 0M449.5 514.4a3.4 3.4 0 1 0 6.8 0a3.4 3.4 0 1 0 -6.8 0M310.4 523.2a3.4 3.4 0 1 0 6.8 0a3.4 3.4 0 1 0 -6.8 0M391.1 543a3.4 3.4 0 1 0 6.8 0a3.4 3.4 0 1 0 -6.8 0M352 517.7a3.4 3.4 0 1 0 6.8 0a3.4 3.4 0 1 0 -6.8 0M428.6 545.9a3.4 3.4 0 1 0 6.8 0a3.4 3.4 0 1 0 -6.8 0M311.9 542a3.4 3.4 0 1 0 6.8 0a3.4 3.4 0 1 0 -6.8 0M319.2 541.5a3.4 3.4 0 1 0 6.8 0a3.4 3.4 0 1 0 -6.8 0M264.7 546.6a3.4 3.4 0 1 0 6.8 0a3.4 3.4 0 1 0 -6.8 0M342.8 540.6a3.4 3.4 0 1 0 6.8 0a3.4 3.4 0 1 0 -6.8 0M334.2 536.7a3.4 3.4 0 1 0 6.8 0a3.4 3.4 0 1 0 -6.8 0M333.3 540.8a3.4 3.4 0 1 0 6.8 0a3.4 3.4 0 1 0 -6.8 0M305.6 534.8a3.4 3.4 0 1 0 6.8 0a3.4 3.4 0 1 0 -6.8 0M362.7 551.4a3.4 3.4 0 1 0 6.8 0a3.4 3.4 0 1 0 -6.8 0M407.2 541.3a3.4 3.4 0 1 0 6.8 0a3.4 3.4 0 1 0 -6.8 0M255.6 546.1a3.4 3.4 0 1 0 6.8 0a3.4 3.4 0 1 0 -6.8 0M386 533a3.4 3.4 0 1 0 6.8 0a3.4 3.4 0 1 0 -6.8 0M403.3 537.9a3.4 3.4 0 1 0 6.8 0a3.4 3.4 0 1 0 -6.8 0M248.2 527.8a3.4 3.4 0 1 0 6.8 0a3.4 3.4 0 1 0 -6.8 0M254.3 551.1a3.4 3.4 0 1 0 6.8 0a3.4 3.4 0 1 0 -6.8 0M340.3 563a3.4 3.4 0 1 0 6.8 0a3.4 3.4 0 1 0 -6.8 0M412.2 541.9a3.4 3.4 0 1 0 6.8 0a3.4 3.4 0 1 0 -6.8 0M401.2 539.6a3.4 3.4 0 1 0 6.8 0a3.4 3.4 0 1 0 -6.8 0M337.1 566.6a3.4 3.4 0 1 0 6.8 0a3.4 3.4 0 1 0 -6.8 0M207.4 551.9a3.4 3.4 0 1 0 6.8 0a3.4 3.4 0 1 0 -6.8 0M289.5 525.7a3.4 3.4 0 1 0 6.8 0a3.4 3.4 0 1 0 -6.8 0M349.3 492.9a3.4 3.4 0 1 0 6.8 0a3.4 3.4 0 1 0 -6.8 0M333.2 524.7a3.4 3.4 0 1 0 6.8 0a3.4 3.4 0 1 0 -6.8 0M274.8 547.4a3.4 3.4 0 1 0 6.8 0a3.4 3.4 0 1 0 -6.8 0M406.4 546.1a3.4 3.4 0 1 0 6.8 0a3.4 3.4 0 1 0 -6.8 0M354.5 552.4a3.4 3.4 0 1 0 6.8 0a3.4 3.4 0 1 0 -6.8 0M398.9 526.4a3.4 3.4 0 1 0 6.8 0a3.4 3.4 0 1 0 -6.8 0M395.5 533.7a3.4 3.4 0 1 0 6.8 0a3.4 3.4 0 1 0 -6.8 0M251.7 549.7a3.4 3.4 0 1 0 6.8 0a3.4 3.4 0 1 0 -6.8 0M384.1 570.5a3.4 3.4 0 1 0 6.8 0a3.4 3.4 0 1 0 -6.8 0M389.4 522a3.4 3.4 0 1 0 6.8 0a3.4 3.4 0 1 0 -6.8 0M412.5 552a3.4 3.4 0 1 0 6.8 0a3.4 3.4 0 1 0 -6.8 0M366.4 526.3a3.4 3.4 0 1 0 6.8 0a3.4 3.4 0 1 0 -6.8 0M350 577.1a3.4 3.4 0 1 0 6.8 0a3.4 3.4 0 1 0 -6.8 0M362.8 533.4a3.4 3.4 0 1 0 6.8 0a3.4 3.4 0 1 0 -6.8 0M346.7 549.8a3.4 3.4 0 1 0 6.8 0a3.4 3.4 0 1 0 -6.8 0M363.4 525.9a3.4 3.4 0 1 0 6.8 0a3.4 3.4 0 1 0 -6.8 0M322.6 506.2a3.4 3.4 0 1 0 6.8 0a3.4 3.4 0 1 0 -6.8 0M393 512a3.4 3.4 0 1 0 6.8 0a3.4 3.4 0 1 0 -6.8 0M361 558.7a3.4 3.4 0 1 0 6.8 0a3.4 3.4 0 1 0 -6.8 0M391.9 540.7a3.4 3.4 0 1 0 6.8 0a3.4 3.4 0 1 0 -6.8 0M336.4 551.4a3.4 3.4 0 1 0 6.8 0a3.4 3.4 0 1 0 -6.8 0M346 544.3a3.4 3.4 0 1 0 6.8 0a3.4 3.4 0 1 0 -6.8 0M420.2 560.1a3.4 3.4 0 1 0 6.8 0a3.4 3.4 0 1 0 -6.8 0M301.7 546.2a3.4 3.4 0 1 0 6.8 0a3.4 3.4 0 1 0 -6.8 0M337.5 531.8a3.4 3.4 0 1 0 6.8 0a3.4 3.4 0 1 0 -6.8 0M328.9 534.3a3.4 3.4 0 1 0 6.8 0a3.4 3.4 0 1 0 -6.8 0M421.6 549.7a3.4 3.4 0 1 0 6.8 0a3.4 3.4 0 1 0 -6.8 0M335.9 545.9a3.4 3.4 0 1 0 6.8 0a3.4 3.4 0 1 0 -6.8 0M313.1 551.2a3.4 3.4 0 1 0 6.8 0a3.4 3.4 0 1 0 -6.8 0M363 539.3a3.4 3.4 0 1 0 6.8 0a3.4 3.4 0 1 0 -6.8 0M339 530a3.4 3.4 0 1 0 6.8 0a3.4 3.4 0 1 0 -6.8 0M346.6 542.3a3.4 3.4 0 1 0 6.8 0a3.4 3.4 0 1 0 -6.8 0M384.1 528.8a3.4 3.4 0 1 0 6.8 0a3.4 3.4 0 1 0 -6.8 0M372.4 526.8a3.4 3.4 0 1 0 6.8 0a3.4 3.4 0 1 0 -6.8 0M342.9 549.5a3.4 3.4 0 1 0 6.8 0a3.4 3.4 0 1 0 -6.8 0M361.3 527.2a3.4 3.4 0 1 0 6.8 0a3.4 3.4 0 1 0 -6.8 0M449.5 530.8a3.4 3.4 0 1 0 6.8 0a3.4 3.4 0 1 0 -6.8 0M349.5 559.5a3.4 3.4 0 1 0 6.8 0a3.4 3.4 0 1 0 -6.8 0M346.1 532.9a3.4 3.4 0 1 0 6.8 0a3.4 3.4 0 1 0 -6.8 0M391.3 536.5a3.4 3.4 0 1 0 6.8 0a3.4 3.4 0 1 0 -6.8 0M302.1 558.1a3.4 3.4 0 1 0 6.8 0a3.4 3.4 0 1 0 -6.8 0M356 550.3a3.4 3.4 0 1 0 6.8 0a3.4 3.4 0 1 0 -6.8 0M373.1 490.4a3.4 3.4 0 1 0 6.8 0a3.4 3.4 0 1 0 -6.8 0M270.1 533.5a3.4 3.4 0 1 0 6.8 0a3.4 3.4 0 1 0 -6.8 0M290.6 537.9a3.4 3.4 0 1 0 6.8 0a3.4 3.4 0 1 0 -6.8 0M418.1 556a3.4 3.4 0 1 0 6.8 0a3.4 3.4 0 1 0 -6.8 0M369.2 559.2a3.4 3.4 0 1 0 6.8 0a3.4 3.4 0 1 0 -6.8 0M324.8 509a3.4 3.4 0 1 0 6.8 0a3.4 3.4 0 1 0 -6.8 0M286.4 532.4a3.4 3.4 0 1 0 6.8 0a3.4 3.4 0 1 0 -6.8 0M359.5 544.6a3.4 3.4 0 1 0 6.8 0a3.4 3.4 0 1 0 -6.8 0M425.1 536.9a3.4 3.4 0 1 0 6.8 0a3.4 3.4 0 1 0 -6.8 0M428.5 564.4a3.4 3.4 0 1 0 6.8 0a3.4 3.4 0 1 0 -6.8 0M359.1 563.8a3.4 3.4 0 1 0 6.8 0a3.4 3.4 0 1 0 -6.8 0M379.3 557.1a3.4 3.4 0 1 0 6.8 0a3.4 3.4 0 1 0 -6.8 0M355.4 541.9a3.4 3.4 0 1 0 6.8 0a3.4 3.4 0 1 0 -6.8 0M255.6 532.2a3.4 3.4 0 1 0 6.8 0a3.4 3.4 0 1 0 -6.8 0M278.7 533.6a3.4 3.4 0 1 0 6.8 0a3.4 3.4 0 1 0 -6.8 0M354.4 531a3.4 3.4 0 1 0 6.8 0a3.4 3.4 0 1 0 -6.8 0M295.9 545.6a3.4 3.4 0 1 0 6.8 0a3.4 3.4 0 1 0 -6.8 0M402.8 511.6a3.4 3.4 0 1 0 6.8 0a3.4 3.4 0 1 0 -6.8 0M248.7 542a3.4 3.4 0 1 0 6.8 0a3.4 3.4 0 1 0 -6.8 0M399.3 504.2a3.4 3.4 0 1 0 6.8 0a3.4 3.4 0 1 0 -6.8 0M382.7 533a3.4 3.4 0 1 0 6.8 0a3.4 3.4 0 1 0 -6.8 0M284.4 539.4a3.4 3.4 0 1 0 6.8 0a3.4 3.4 0 1 0 -6.8 0M377.9 526.3a3.4 3.4 0 1 0 6.8 0a3.4 3.4 0 1 0 -6.8 0M397.6 531.1a3.4 3.4 0 1 0 6.8 0a3.4 3.4 0 1 0 -6.8 0M300.6 527.1a3.4 3.4 0 1 0 6.8 0a3.4 3.4 0 1 0 -6.8 0M390.9 552.1a3.4 3.4 0 1 0 6.8 0a3.4 3.4 0 1 0 -6.8 0M278.3 534.8a3.4 3.4 0 1 0 6.8 0a3.4 3.4 0 1 0 -6.8 0M349.7 532a3.4 3.4 0 1 0 6.8 0a3.4 3.4 0 1 0 -6.8 0M383.7 541.9a3.4 3.4 0 1 0 6.8 0a3.4 3.4 0 1 0 -6.8 0M271.2 528.1a3.4 3.4 0 1 0 6.8 0a3.4 3.4 0 1 0 -6.8 0M296.6 534.1a3.4 3.4 0 1 0 6.8 0a3.4 3.4 0 1 0 -6.8 0M376.2 557a3.4 3.4 0 1 0 6.8 0a3.4 3.4 0 1 0 -6.8 0M376.6 524.7a3.4 3.4 0 1 0 6.8 0a3.4 3.4 0 1 0 -6.8 0M312.6 558a3.4 3.4 0 1 0 6.8 0a3.4 3.4 0 1 0 -6.8 0M414 536.3a3.4 3.4 0 1 0 6.8 0a3.4 3.4 0 1 0 -6.8 0M320.6 540.7a3.4 3.4 0 1 0 6.8 0a3.4 3.4 0 1 0 -6.8 0M382.1 538.4a3.4 3.4 0 1 0 6.8 0a3.4 3.4 0 1 0 -6.8 0M368.2 539.2a3.4 3.4 0 1 0 6.8 0a3.4 3.4 0 1 0 -6.8 0M399.9 533.4a3.4 3.4 0 1 0 6.8 0a3.4 3.4 0 1 0 -6.8 0M336.5 540.5a3.4 3.4 0 1 0 6.8 0a3.4 3.4 0 1 0 -6.8 0M358.9 545a3.4 3.4 0 1 0 6.8 0a3.4 3.4 0 1 0 -6.8 0M319.8 510.1a3.4 3.4 0 1 0 6.8 0a3.4 3.4 0 1 0 -6.8 0M258.3 544.3a3.4 3.4 0 1 0 6.8 0a3.4 3.4 0 1 0 -6.8 0M351.3 518.9a3.4 3.4 0 1 0 6.8 0a3.4 3.4 0 1 0 -6.8 0M378.6 546.2a3.4 3.4 0 1 0 6.8 0a3.4 3.4 0 1 0 -6.8 0M365.4 548.5a3.4 3.4 0 1 0 6.8 0a3.4 3.4 0 1 0 -6.8 0M316.2 552a3.4 3.4 0 1 0 6.8 0a3.4 3.4 0 1 0 -6.8 0M386.2 551.3a3.4 3.4 0 1 0 6.8 0a3.4 3.4 0 1 0 -6.8 0M268 549.8a3.4 3.4 0 1 0 6.8 0a3.4 3.4 0 1 0 -6.8 0M353.7 519.6a3.4 3.4 0 1 0 6.8 0a3.4 3.4 0 1 0 -6.8 0M406.3 532.2a3.4 3.4 0 1 0 6.8 0a3.4 3.4 0 1 0 -6.8 0M396 543.2a3.4 3.4 0 1 0 6.8 0a3.4 3.4 0 1 0 -6.8 0M298.5 558.1a3.4 3.4 0 1 0 6.8 0a3.4 3.4 0 1 0 -6.8 0M382.9 533.8a3.4 3.4 0 1 0 6.8 0a3.4 3.4 0 1 0 -6.8 0M378.9 534.7a3.4 3.4 0 1 0 6.8 0a3.4 3.4 0 1 0 -6.8 0M394.1 523.8a3.4 3.4 0 1 0 6.8 0a3.4 3.4 0 1 0 -6.8 0M458.2 530.9a3.4 3.4 0 1 0 6.8 0a3.4 3.4 0 1 0 -6.8 0M336 530.3a3.4 3.4 0 1 0 6.8 0a3.4 3.4 0 1 0 -6.8 0M419.6 547.7a3.4 3.4 0 1 0 6.8 0a3.4 3.4 0 1 0 -6.8 0M422.6 514.4a3.4 3.4 0 1 0 6.8 0a3.4 3.4 0 1 0 -6.8 0M240.7 545.1a3.4 3.4 0 1 0 6.8 0a3.4 3.4 0 1 0 -6.8 0M367.3 499.2a3.4 3.4 0 1 0 6.8 0a3.4 3.4 0 1 0 -6.8 0M262.3 530.1a3.4 3.4 0 1 0 6.8 0a3.4 3.4 0 1 0 -6.8 0M377.7 552.5a3.4 3.4 0 1 0 6.8 0a3.4 3.4 0 1 0 -6.8 0M333.1 547.8a3.4 3.4 0 1 0 6.8 0a3.4 3.4 0 1 0 -6.8 0M317.6 551.6a3.4 3.4 0 1 0 6.8 0a3.4 3.4 0 1 0 -6.8 0M384.1 546.9a3.4 3.4 0 1 0 6.8 0a3.4 3.4 0 1 0 -6.8 0M265.6 532.2a3.4 3.4 0 1 0 6.8 0a3.4 3.4 0 1 0 -6.8 0M418.1 533.2a3.4 3.4 0 1 0 6.8 0a3.4 3.4 0 1 0 -6.8 0M301.5 546.1a3.4 3.4 0 1 0 6.8 0a3.4 3.4 0 1 0 -6.8 0M408.2 530.3a3.4 3.4 0 1 0 6.8 0a3.4 3.4 0 1 0 -6.8 0M271.1 550.3a3.4 3.4 0 1 0 6.8 0a3.4 3.4 0 1 0 -6.8 0M259.5 540.4a3.4 3.4 0 1 0 6.8 0a3.4 3.4 0 1 0 -6.8 0M407 532.8a3.4 3.4 0 1 0 6.8 0a3.4 3.4 0 1 0 -6.8 0M257.8 539.9a3.4 3.4 0 1 0 6.8 0a3.4 3.4 0 1 0 -6.8 0M367.3 548.4a3.4 3.4 0 1 0 6.8 0a3.4 3.4 0 1 0 -6.8 0M255.2 529.1a3.4 3.4 0 1 0 6.8 0a3.4 3.4 0 1 0 -6.8 0M367 528.4a3.4 3.4 0 1 0 6.8 0a3.4 3.4 0 1 0 -6.8 0M331.1 540.3a3.4 3.4 0 1 0 6.8 0a3.4 3.4 0 1 0 -6.8 0M244.2 548.3a3.4 3.4 0 1 0 6.8 0a3.4 3.4 0 1 0 -6.8 0M360.6 536.7a3.4 3.4 0 1 0 6.8 0a3.4 3.4 0 1 0 -6.8 0M369.4 523a3.4 3.4 0 1 0 6.8 0a3.4 3.4 0 1 0 -6.8 0M361 540.7a3.4 3.4 0 1 0 6.8 0a3.4 3.4 0 1 0 -6.8 0M416.8 556.6a3.4 3.4 0 1 0 6.8 0a3.4 3.4 0 1 0 -6.8 0M303.6 534.4a3.4 3.4 0 1 0 6.8 0a3.4 3.4 0 1 0 -6.8 0M393.8 553.5a3.4 3.4 0 1 0 6.8 0a3.4 3.4 0 1 0 -6.8 0M396.2 554.9a3.4 3.4 0 1 0 6.8 0a3.4 3.4 0 1 0 -6.8 0M300.1 535a3.4 3.4 0 1 0 6.8 0a3.4 3.4 0 1 0 -6.8 0M359.8 544.7a3.4 3.4 0 1 0 6.8 0a3.4 3.4 0 1 0 -6.8 0M406 527.4a3.4 3.4 0 1 0 6.8 0a3.4 3.4 0 1 0 -6.8 0M421.5 543.6a3.4 3.4 0 1 0 6.8 0a3.4 3.4 0 1 0 -6.8 0M394.4 540.7a3.4 3.4 0 1 0 6.8 0a3.4 3.4 0 1 0 -6.8 0M389.6 534.9a3.4 3.4 0 1 0 6.8 0a3.4 3.4 0 1 0 -6.8 0M370.3 533.6a3.4 3.4 0 1 0 6.8 0a3.4 3.4 0 1 0 -6.8 0M340.4 539.9a3.4 3.4 0 1 0 6.8 0a3.4 3.4 0 1 0 -6.8 0M307.1 534.7a3.4 3.4 0 1 0 6.8 0a3.4 3.4 0 1 0 -6.8 0M329.5 548.4a3.4 3.4 0 1 0 6.8 0a3.4 3.4 0 1 0 -6.8 0M294.7 529.6a3.4 3.4 0 1 0 6.8 0a3.4 3.4 0 1 0 -6.8 0M359.6 534.4a3.4 3.4 0 1 0 6.8 0a3.4 3.4 0 1 0 -6.8 0M382.5 548.1a3.4 3.4 0 1 0 6.8 0a3.4 3.4 0 1 0 -6.8 0M375.7 515.9a3.4 3.4 0 1 0 6.8 0a3.4 3.4 0 1 0 -6.8 0M368.5 546.9a3.4 3.4 0 1 0 6.8 0a3.4 3.4 0 1 0 -6.8 0M361.8 526.7a3.4 3.4 0 1 0 6.8 0a3.4 3.4 0 1 0 -6.8 0M276.9 527.2a3.4 3.4 0 1 0 6.8 0a3.4 3.4 0 1 0 -6.8 0M298.4 523.7a3.4 3.4 0 1 0 6.8 0a3.4 3.4 0 1 0 -6.8 0M356.3 529.4a3.4 3.4 0 1 0 6.8 0a3.4 3.4 0 1 0 -6.8 0M350.3 550.4a3.4 3.4 0 1 0 6.8 0a3.4 3.4 0 1 0 -6.8 0M406.8 545.2a3.4 3.4 0 1 0 6.8 0a3.4 3.4 0 1 0 -6.8 0M441.2 545.6a3.4 3.4 0 1 0 6.8 0a3.4 3.4 0 1 0 -6.8 0M330.7 566.5a3.4 3.4 0 1 0 6.8 0a3.4 3.4 0 1 0 -6.8 0M288 540.5a3.4 3.4 0 1 0 6.8 0a3.4 3.4 0 1 0 -6.8 0M316.2 537.7a3.4 3.4 0 1 0 6.8 0a3.4 3.4 0 1 0 -6.8 0M261 542.3a3.4 3.4 0 1 0 6.8 0a3.4 3.4 0 1 0 -6.8 0M272.1 528.5a3.4 3.4 0 1 0 6.8 0a3.4 3.4 0 1 0 -6.8 0M332.8 516a3.4 3.4 0 1 0 6.8 0a3.4 3.4 0 1 0 -6.8 0M263.3 539a3.4 3.4 0 1 0 6.8 0a3.4 3.4 0 1 0 -6.8 0M403.3 523.3a3.4 3.4 0 1 0 6.8 0a3.4 3.4 0 1 0 -6.8 0M461.7 529.5a3.4 3.4 0 1 0 6.8 0a3.4 3.4 0 1 0 -6.8 0M428.3 534.5a3.4 3.4 0 1 0 6.8 0a3.4 3.4 0 1 0 -6.8 0M375.3 507.8a3.4 3.4 0 1 0 6.8 0a3.4 3.4 0 1 0 -6.8 0M409.1 533.7a3.4 3.4 0 1 0 6.8 0a3.4 3.4 0 1 0 -6.8 0M310.7 548.6a3.4 3.4 0 1 0 6.8 0a3.4 3.4 0 1 0 -6.8 0M286.7 514a3.4 3.4 0 1 0 6.8 0a3.4 3.4 0 1 0 -6.8 0M266.5 535.9a3.4 3.4 0 1 0 6.8 0a3.4 3.4 0 1 0 -6.8 0M274.7 540.4a3.4 3.4 0 1 0 6.8 0a3.4 3.4 0 1 0 -6.8 0M333.2 541.2a3.4 3.4 0 1 0 6.8 0a3.4 3.4 0 1 0 -6.8 0M304.7 527.5a3.4 3.4 0 1 0 6.8 0a3.4 3.4 0 1 0 -6.8 0M328.1 536.5a3.4 3.4 0 1 0 6.8 0a3.4 3.4 0 1 0 -6.8 0M356.5 539.7a3.4 3.4 0 1 0 6.8 0a3.4 3.4 0 1 0 -6.8 0M341.8 547.5a3.4 3.4 0 1 0 6.8 0a3.4 3.4 0 1 0 -6.8 0M268.8 547a3.4 3.4 0 1 0 6.8 0a3.4 3.4 0 1 0 -6.8 0M296.1 533.5a3.4 3.4 0 1 0 6.8 0a3.4 3.4 0 1 0 -6.8 0M330.1 528.5a3.4 3.4 0 1 0 6.8 0a3.4 3.4 0 1 0 -6.8 0M397.8 516.3a3.4 3.4 0 1 0 6.8 0a3.4 3.4 0 1 0 -6.8 0M333.7 515.6a3.4 3.4 0 1 0 6.8 0a3.4 3.4 0 1 0 -6.8 0M409.2 522.2a3.4 3.4 0 1 0 6.8 0a3.4 3.4 0 1 0 -6.8 0M418.3 557.2a3.4 3.4 0 1 0 6.8 0a3.4 3.4 0 1 0 -6.8 0M336.7 531.4a3.4 3.4 0 1 0 6.8 0a3.4 3.4 0 1 0 -6.8 0M366.6 543.7a3.4 3.4 0 1 0 6.8 0a3.4 3.4 0 1 0 -6.8 0M353.6 533.5a3.4 3.4 0 1 0 6.8 0a3.4 3.4 0 1 0 -6.8 0M317.4 561.9a3.4 3.4 0 1 0 6.8 0a3.4 3.4 0 1 0 -6.8 0M402 546.4a3.4 3.4 0 1 0 6.8 0a3.4 3.4 0 1 0 -6.8 0M344.9 520.8a3.4 3.4 0 1 0 6.8 0a3.4 3.4 0 1 0 -6.8 0M402 538.5a3.4 3.4 0 1 0 6.8 0a3.4 3.4 0 1 0 -6.8 0M409.4 543.7a3.4 3.4 0 1 0 6.8 0a3.4 3.4 0 1 0 -6.8 0M353.9 545.2a3.4 3.4 0 1 0 6.8 0a3.4 3.4 0 1 0 -6.8 0M210.2 515.5a3.4 3.4 0 1 0 6.8 0a3.4 3.4 0 1 0 -6.8 0M432.7 525.6a3.4 3.4 0 1 0 6.8 0a3.4 3.4 0 1 0 -6.8 0M358.8 540.5a3.4 3.4 0 1 0 6.8 0a3.4 3.4 0 1 0 -6.8 0M312 539.5a3.4 3.4 0 1 0 6.8 0a3.4 3.4 0 1 0 -6.8 0M363.2 517.6a3.4 3.4 0 1 0 6.8 0a3.4 3.4 0 1 0 -6.8 0M364.9 529.2a3.4 3.4 0 1 0 6.8 0a3.4 3.4 0 1 0 -6.8 0M372.2 510.7a3.4 3.4 0 1 0 6.8 0a3.4 3.4 0 1 0 -6.8 0M418.6 537.5a3.4 3.4 0 1 0 6.8 0a3.4 3.4 0 1 0 -6.8 0M450.2 535a3.4 3.4 0 1 0 6.8 0a3.4 3.4 0 1 0 -6.8 0M416.1 538.4a3.4 3.4 0 1 0 6.8 0a3.4 3.4 0 1 0 -6.8 0M291.7 519.7a3.4 3.4 0 1 0 6.8 0a3.4 3.4 0 1 0 -6.8 0M316.8 553.9a3.4 3.4 0 1 0 6.8 0a3.4 3.4 0 1 0 -6.8 0M330.8 518.8a3.4 3.4 0 1 0 6.8 0a3.4 3.4 0 1 0 -6.8 0M298.9 533.1a3.4 3.4 0 1 0 6.8 0a3.4 3.4 0 1 0 -6.8 0M292.6 539.3a3.4 3.4 0 1 0 6.8 0a3.4 3.4 0 1 0 -6.8 0M316.1 533.1a3.4 3.4 0 1 0 6.8 0a3.4 3.4 0 1 0 -6.8 0M425.4 549.5a3.4 3.4 0 1 0 6.8 0a3.4 3.4 0 1 0 -6.8 0M275 531.7a3.4 3.4 0 1 0 6.8 0a3.4 3.4 0 1 0 -6.8 0M374.7 544.8a3.4 3.4 0 1 0 6.8 0a3.4 3.4 0 1 0 -6.8 0M366.3 533.5a3.4 3.4 0 1 0 6.8 0a3.4 3.4 0 1 0 -6.8 0M344.5 547.9a3.4 3.4 0 1 0 6.8 0a3.4 3.4 0 1 0 -6.8 0M392.7 534.8a3.4 3.4 0 1 0 6.8 0a3.4 3.4 0 1 0 -6.8 0M325.7 539.3a3.4 3.4 0 1 0 6.8 0a3.4 3.4 0 1 0 -6.8 0M351.3 531.1a3.4 3.4 0 1 0 6.8 0a3.4 3.4 0 1 0 -6.8 0M388 542.6a3.4 3.4 0 1 0 6.8 0a3.4 3.4 0 1 0 -6.8 0M410.9 554.8a3.4 3.4 0 1 0 6.8 0a3.4 3.4 0 1 0 -6.8 0M351.7 510.2a3.4 3.4 0 1 0 6.8 0a3.4 3.4 0 1 0 -6.8 0M327.7 536.7a3.4 3.4 0 1 0 6.8 0a3.4 3.4 0 1 0 -6.8 0M365.5 533.4a3.4 3.4 0 1 0 6.8 0a3.4 3.4 0 1 0 -6.8 0M352.6 552.2a3.4 3.4 0 1 0 6.8 0a3.4 3.4 0 1 0 -6.8 0M437.6 524a3.4 3.4 0 1 0 6.8 0a3.4 3.4 0 1 0 -6.8 0M408.4 522.7a3.4 3.4 0 1 0 6.8 0a3.4 3.4 0 1 0 -6.8 0M413.2 543.7a3.4 3.4 0 1 0 6.8 0a3.4 3.4 0 1 0 -6.8 0M391.2 544a3.4 3.4 0 1 0 6.8 0a3.4 3.4 0 1 0 -6.8 0M389.3 558.1a3.4 3.4 0 1 0 6.8 0a3.4 3.4 0 1 0 -6.8 0M416.9 551.5a3.4 3.4 0 1 0 6.8 0a3.4 3.4 0 1 0 -6.8 0M246.8 534.3a3.4 3.4 0 1 0 6.8 0a3.4 3.4 0 1 0 -6.8 0M337.1 541.2a3.4 3.4 0 1 0 6.8 0a3.4 3.4 0 1 0 -6.8 0M376.5 537.3a3.4 3.4 0 1 0 6.8 0a3.4 3.4 0 1 0 -6.8 0M352.9 537.8a3.4 3.4 0 1 0 6.8 0a3.4 3.4 0 1 0 -6.8 0M409.3 537.9a3.4 3.4 0 1 0 6.8 0a3.4 3.4 0 1 0 -6.8 0M411 534.9a3.4 3.4 0 1 0 6.8 0a3.4 3.4 0 1 0 -6.8 0M228.8 531.3a3.4 3.4 0 1 0 6.8 0a3.4 3.4 0 1 0 -6.8 0M430.5 535.4a3.4 3.4 0 1 0 6.8 0a3.4 3.4 0 1 0 -6.8 0M352.9 561.1a3.4 3.4 0 1 0 6.8 0a3.4 3.4 0 1 0 -6.8 0M307.9 524.1a3.4 3.4 0 1 0 6.8 0a3.4 3.4 0 1 0 -6.8 0M387.4 535.9a3.4 3.4 0 1 0 6.8 0a3.4 3.4 0 1 0 -6.8 0M347 531.1a3.4 3.4 0 1 0 6.8 0a3.4 3.4 0 1 0 -6.8 0M378.8 531.6a3.4 3.4 0 1 0 6.8 0a3.4 3.4 0 1 0 -6.8 0M361.9 529.6a3.4 3.4 0 1 0 6.8 0a3.4 3.4 0 1 0 -6.8 0M428.6 548.5a3.4 3.4 0 1 0 6.8 0a3.4 3.4 0 1 0 -6.8 0M385.6 534a3.4 3.4 0 1 0 6.8 0a3.4 3.4 0 1 0 -6.8 0M443.5 546.9a3.4 3.4 0 1 0 6.8 0a3.4 3.4 0 1 0 -6.8 0M406.9 546.9a3.4 3.4 0 1 0 6.8 0a3.4 3.4 0 1 0 -6.8 0M375.6 532.3a3.4 3.4 0 1 0 6.8 0a3.4 3.4 0 1 0 -6.8 0M332 534.2a3.4 3.4 0 1 0 6.8 0a3.4 3.4 0 1 0 -6.8 0M361.2 574.7a3.4 3.4 0 1 0 6.8 0a3.4 3.4 0 1 0 -6.8 0M358.7 536.1a3.4 3.4 0 1 0 6.8 0a3.4 3.4 0 1 0 -6.8 0M432.9 540.1a3.4 3.4 0 1 0 6.8 0a3.4 3.4 0 1 0 -6.8 0M440.7 537.7a3.4 3.4 0 1 0 6.8 0a3.4 3.4 0 1 0 -6.8 0M309.5 540.3a3.4 3.4 0 1 0 6.8 0a3.4 3.4 0 1 0 -6.8 0M407 534.5a3.4 3.4 0 1 0 6.8 0a3.4 3.4 0 1 0 -6.8 0M323.3 548.9a3.4 3.4 0 1 0 6.8 0a3.4 3.4 0 1 0 -6.8 0M381 506.5a3.4 3.4 0 1 0 6.8 0a3.4 3.4 0 1 0 -6.8 0M289.1 544a3.4 3.4 0 1 0 6.8 0a3.4 3.4 0 1 0 -6.8 0M304 546.6a3.4 3.4 0 1 0 6.8 0a3.4 3.4 0 1 0 -6.8 0M366.3 566.6a3.4 3.4 0 1 0 6.8 0a3.4 3.4 0 1 0 -6.8 0M364.9 541.4a3.4 3.4 0 1 0 6.8 0a3.4 3.4 0 1 0 -6.8 0M380.3 546.8a3.4 3.4 0 1 0 6.8 0a3.4 3.4 0 1 0 -6.8 0M283.2 538a3.4 3.4 0 1 0 6.8 0a3.4 3.4 0 1 0 -6.8 0M412 546.2a3.4 3.4 0 1 0 6.8 0a3.4 3.4 0 1 0 -6.8 0M458 539.7a3.4 3.4 0 1 0 6.8 0a3.4 3.4 0 1 0 -6.8 0M301.9 525.1a3.4 3.4 0 1 0 6.8 0a3.4 3.4 0 1 0 -6.8 0M305.7 537.1a3.4 3.4 0 1 0 6.8 0a3.4 3.4 0 1 0 -6.8 0M370.8 560.6a3.4 3.4 0 1 0 6.8 0a3.4 3.4 0 1 0 -6.8 0M386.9 552a3.4 3.4 0 1 0 6.8 0a3.4 3.4 0 1 0 -6.8 0M250.7 532.4a3.4 3.4 0 1 0 6.8 0a3.4 3.4 0 1 0 -6.8 0M378.7 550a3.4 3.4 0 1 0 6.8 0a3.4 3.4 0 1 0 -6.8 0M314.3 533.8a3.4 3.4 0 1 0 6.8 0a3.4 3.4 0 1 0 -6.8 0M325.2 536.5a3.4 3.4 0 1 0 6.8 0a3.4 3.4 0 1 0 -6.8 0M230.3 542.9a3.4 3.4 0 1 0 6.8 0a3.4 3.4 0 1 0 -6.8 0M376.3 546.3a3.4 3.4 0 1 0 6.8 0a3.4 3.4 0 1 0 -6.8 0M443.7 532.9a3.4 3.4 0 1 0 6.8 0a3.4 3.4 0 1 0 -6.8 0M314.9 520.8a3.4 3.4 0 1 0 6.8 0a3.4 3.4 0 1 0 -6.8 0M363.3 544.2a3.4 3.4 0 1 0 6.8 0a3.4 3.4 0 1 0 -6.8 0M414.2 531.5a3.4 3.4 0 1 0 6.8 0a3.4 3.4 0 1 0 -6.8 0M265.3 543.7a3.4 3.4 0 1 0 6.8 0a3.4 3.4 0 1 0 -6.8 0M327.7 541.5a3.4 3.4 0 1 0 6.8 0a3.4 3.4 0 1 0 -6.8 0M408.9 531.4a3.4 3.4 0 1 0 6.8 0a3.4 3.4 0 1 0 -6.8 0M426.4 551a3.4 3.4 0 1 0 6.8 0a3.4 3.4 0 1 0 -6.8 0M246.3 543.3a3.4 3.4 0 1 0 6.8 0a3.4 3.4 0 1 0 -6.8 0M406.3 529.9a3.4 3.4 0 1 0 6.8 0a3.4 3.4 0 1 0 -6.8 0M358.4 534a3.4 3.4 0 1 0 6.8 0a3.4 3.4 0 1 0 -6.8 0M308.7 542.4a3.4 3.4 0 1 0 6.8 0a3.4 3.4 0 1 0 -6.8 0M415.8 537.8a3.4 3.4 0 1 0 6.8 0a3.4 3.4 0 1 0 -6.8 0M459.7 538a3.4 3.4 0 1 0 6.8 0a3.4 3.4 0 1 0 -6.8 0M354.8 534.6a3.4 3.4 0 1 0 6.8 0a3.4 3.4 0 1 0 -6.8 0M372 567.7a3.4 3.4 0 1 0 6.8 0a3.4 3.4 0 1 0 -6.8 0M330.9 557.1a3.4 3.4 0 1 0 6.8 0a3.4 3.4 0 1 0 -6.8 0M360.4 506a3.4 3.4 0 1 0 6.8 0a3.4 3.4 0 1 0 -6.8 0M385.3 542.3a3.4 3.4 0 1 0 6.8 0a3.4 3.4 0 1 0 -6.8 0M406 540a3.4 3.4 0 1 0 6.8 0a3.4 3.4 0 1 0 -6.8 0M394.5 558.8a3.4 3.4 0 1 0 6.8 0a3.4 3.4 0 1 0 -6.8 0M365.4 516.4a3.4 3.4 0 1 0 6.8 0a3.4 3.4 0 1 0 -6.8 0M412.2 526.8a3.4 3.4 0 1 0 6.8 0a3.4 3.4 0 1 0 -6.8 0M289.2 532.5a3.4 3.4 0 1 0 6.8 0a3.4 3.4 0 1 0 -6.8 0M284.6 531.4a3.4 3.4 0 1 0 6.8 0a3.4 3.4 0 1 0 -6.8 0M255.4 521.6a3.4 3.4 0 1 0 6.8 0a3.4 3.4 0 1 0 -6.8 0M421.4 528.3a3.4 3.4 0 1 0 6.8 0a3.4 3.4 0 1 0 -6.8 0M422 547.4a3.4 3.4 0 1 0 6.8 0a3.4 3.4 0 1 0 -6.8 0M367.1 545.2a3.4 3.4 0 1 0 6.8 0a3.4 3.4 0 1 0 -6.8 0M232.7 535.5a3.4 3.4 0 1 0 6.8 0a3.4 3.4 0 1 0 -6.8 0M390.3 541.1a3.4 3.4 0 1 0 6.8 0a3.4 3.4 0 1 0 -6.8 0M385.5 541.2a3.4 3.4 0 1 0 6.8 0a3.4 3.4 0 1 0 -6.8 0M374.9 538.3a3.4 3.4 0 1 0 6.8 0a3.4 3.4 0 1 0 -6.8 0M340.1 522.8a3.4 3.4 0 1 0 6.8 0a3.4 3.4 0 1 0 -6.8 0M221.1 542.8a3.4 3.4 0 1 0 6.8 0a3.4 3.4 0 1 0 -6.8 0M376.2 558.4a3.4 3.4 0 1 0 6.8 0a3.4 3.4 0 1 0 -6.8 0M405.5 524.6a3.4 3.4 0 1 0 6.8 0a3.4 3.4 0 1 0 -6.8 0M398.1 527.9a3.4 3.4 0 1 0 6.8 0a3.4 3.4 0 1 0 -6.8 0M447.5 525.2a3.4 3.4 0 1 0 6.8 0a3.4 3.4 0 1 0 -6.8 0M324.4 520.8a3.4 3.4 0 1 0 6.8 0a3.4 3.4 0 1 0 -6.8 0M301.6 532.2a3.4 3.4 0 1 0 6.8 0a3.4 3.4 0 1 0 -6.8 0M357.3 542a3.4 3.4 0 1 0 6.8 0a3.4 3.4 0 1 0 -6.8 0M221.9 543.7a3.4 3.4 0 1 0 6.8 0a3.4 3.4 0 1 0 -6.8 0M269 528.4a3.4 3.4 0 1 0 6.8 0a3.4 3.4 0 1 0 -6.8 0M341.8 549.9a3.4 3.4 0 1 0 6.8 0a3.4 3.4 0 1 0 -6.8 0M367.8 540.1a3.4 3.4 0 1 0 6.8 0a3.4 3.4 0 1 0 -6.8 0M365.2 518a3.4 3.4 0 1 0 6.8 0a3.4 3.4 0 1 0 -6.8 0M397.4 537.5a3.4 3.4 0 1 0 6.8 0a3.4 3.4 0 1 0 -6.8 0M345.1 535.2a3.4 3.4 0 1 0 6.8 0a3.4 3.4 0 1 0 -6.8 0M294.5 552.1a3.4 3.4 0 1 0 6.8 0a3.4 3.4 0 1 0 -6.8 0M415.2 523.7a3.4 3.4 0 1 0 6.8 0a3.4 3.4 0 1 0 -6.8 0M399.6 560.8a3.4 3.4 0 1 0 6.8 0a3.4 3.4 0 1 0 -6.8 0M439.2 530.1a3.4 3.4 0 1 0 6.8 0a3.4 3.4 0 1 0 -6.8 0M338.2 539.9a3.4 3.4 0 1 0 6.8 0a3.4 3.4 0 1 0 -6.8 0M385.7 544.4a3.4 3.4 0 1 0 6.8 0a3.4 3.4 0 1 0 -6.8 0M317 542.4a3.4 3.4 0 1 0 6.8 0a3.4 3.4 0 1 0 -6.8 0M317.2 516.9a3.4 3.4 0 1 0 6.8 0a3.4 3.4 0 1 0 -6.8 0M364.8 521.6a3.4 3.4 0 1 0 6.8 0a3.4 3.4 0 1 0 -6.8 0M216.4 541.6a3.4 3.4 0 1 0 6.8 0a3.4 3.4 0 1 0 -6.8 0M418.4 549.7a3.4 3.4 0 1 0 6.8 0a3.4 3.4 0 1 0 -6.8 0M418.6 546.4a3.4 3.4 0 1 0 6.8 0a3.4 3.4 0 1 0 -6.8 0M341.5 543.1a3.4 3.4 0 1 0 6.8 0a3.4 3.4 0 1 0 -6.8 0M333 545.5a3.4 3.4 0 1 0 6.8 0a3.4 3.4 0 1 0 -6.8 0M297.2 513.5a3.4 3.4 0 1 0 6.8 0a3.4 3.4 0 1 0 -6.8 0M385.3 520.6a3.4 3.4 0 1 0 6.8 0a3.4 3.4 0 1 0 -6.8 0M367.7 547.2a3.4 3.4 0 1 0 6.8 0a3.4 3.4 0 1 0 -6.8 0M358.8 507a3.4 3.4 0 1 0 6.8 0a3.4 3.4 0 1 0 -6.8 0M454.4 528.8a3.4 3.4 0 1 0 6.8 0a3.4 3.4 0 1 0 -6.8 0M393.1 543.8a3.4 3.4 0 1 0 6.8 0a3.4 3.4 0 1 0 -6.8 0M408.8 533.3a3.4 3.4 0 1 0 6.8 0a3.4 3.4 0 1 0 -6.8 0M301.4 515.3a3.4 3.4 0 1 0 6.8 0a3.4 3.4 0 1 0 -6.8 0M247.1 540.6a3.4 3.4 0 1 0 6.8 0a3.4 3.4 0 1 0 -6.8 0M276.5 524.1a3.4 3.4 0 1 0 6.8 0a3.4 3.4 0 1 0 -6.8 0M295.9 537.3a3.4 3.4 0 1 0 6.8 0a3.4 3.4 0 1 0 -6.8 0M430.5 518.1a3.4 3.4 0 1 0 6.8 0a3.4 3.4 0 1 0 -6.8 0M327.6 541.5a3.4 3.4 0 1 0 6.8 0a3.4 3.4 0 1 0 -6.8 0M401.7 553.8a3.4 3.4 0 1 0 6.8 0a3.4 3.4 0 1 0 -6.8 0M339.7 513.4a3.4 3.4 0 1 0 6.8 0a3.4 3.4 0 1 0 -6.8 0M367.3 544.8a3.4 3.4 0 1 0 6.8 0a3.4 3.4 0 1 0 -6.8 0M323 519.3a3.4 3.4 0 1 0 6.8 0a3.4 3.4 0 1 0 -6.8 0M425.4 533.6a3.4 3.4 0 1 0 6.8 0a3.4 3.4 0 1 0 -6.8 0M323.4 537.7a3.4 3.4 0 1 0 6.8 0a3.4 3.4 0 1 0 -6.8 0M314.7 535.4a3.4 3.4 0 1 0 6.8 0a3.4 3.4 0 1 0 -6.8 0M431 534.1a3.4 3.4 0 1 0 6.8 0a3.4 3.4 0 1 0 -6.8 0M317.5 527.4a3.4 3.4 0 1 0 6.8 0a3.4 3.4 0 1 0 -6.8 0M378.9 572.3a3.4 3.4 0 1 0 6.8 0a3.4 3.4 0 1 0 -6.8 0M322.9 537.5a3.4 3.4 0 1 0 6.8 0a3.4 3.4 0 1 0 -6.8 0M334.6 550.6a3.4 3.4 0 1 0 6.8 0a3.4 3.4 0 1 0 -6.8 0M311.3 531.5a3.4 3.4 0 1 0 6.8 0a3.4 3.4 0 1 0 -6.8 0M232.7 531.3a3.4 3.4 0 1 0 6.8 0a3.4 3.4 0 1 0 -6.8 0M362.5 543.2a3.4 3.4 0 1 0 6.8 0a3.4 3.4 0 1 0 -6.8 0M375.7 530.5a3.4 3.4 0 1 0 6.8 0a3.4 3.4 0 1 0 -6.8 0M353.2 534.1a3.4 3.4 0 1 0 6.8 0a3.4 3.4 0 1 0 -6.8 0M343.6 532a3.4 3.4 0 1 0 6.8 0a3.4 3.4 0 1 0 -6.8 0M316 513.4a3.4 3.4 0 1 0 6.8 0a3.4 3.4 0 1 0 -6.8 0M313.2 522.7a3.4 3.4 0 1 0 6.8 0a3.4 3.4 0 1 0 -6.8 0M343.6 528.6a3.4 3.4 0 1 0 6.8 0a3.4 3.4 0 1 0 -6.8 0M322.4 538.9a3.4 3.4 0 1 0 6.8 0a3.4 3.4 0 1 0 -6.8 0M415.4 548.9a3.4 3.4 0 1 0 6.8 0a3.4 3.4 0 1 0 -6.8 0M378.1 532.1a3.4 3.4 0 1 0 6.8 0a3.4 3.4 0 1 0 -6.8 0M339.9 544.3a3.4 3.4 0 1 0 6.8 0a3.4 3.4 0 1 0 -6.8 0M326 542.5a3.4 3.4 0 1 0 6.8 0a3.4 3.4 0 1 0 -6.8 0M356 545.4a3.4 3.4 0 1 0 6.8 0a3.4 3.4 0 1 0 -6.8 0M292.8 533a3.4 3.4 0 1 0 6.8 0a3.4 3.4 0 1 0 -6.8 0M236.3 552.4a3.4 3.4 0 1 0 6.8 0a3.4 3.4 0 1 0 -6.8 0M304.6 539.4a3.4 3.4 0 1 0 6.8 0a3.4 3.4 0 1 0 -6.8 0M379.7 561.4a3.4 3.4 0 1 0 6.8 0a3.4 3.4 0 1 0 -6.8 0M358.5 546.8a3.4 3.4 0 1 0 6.8 0a3.4 3.4 0 1 0 -6.8 0M297.7 550.7a3.4 3.4 0 1 0 6.8 0a3.4 3.4 0 1 0 -6.8 0M306.5 541.5a3.4 3.4 0 1 0 6.8 0a3.4 3.4 0 1 0 -6.8 0M296 539.6a3.4 3.4 0 1 0 6.8 0a3.4 3.4 0 1 0 -6.8 0M381.7 556.9a3.4 3.4 0 1 0 6.8 0a3.4 3.4 0 1 0 -6.8 0M351.2 552.2a3.4 3.4 0 1 0 6.8 0a3.4 3.4 0 1 0 -6.8 0M248 520.2a3.4 3.4 0 1 0 6.8 0a3.4 3.4 0 1 0 -6.8 0M383 563.2a3.4 3.4 0 1 0 6.8 0a3.4 3.4 0 1 0 -6.8 0M360.1 528.6a3.4 3.4 0 1 0 6.8 0a3.4 3.4 0 1 0 -6.8 0M297.4 531.5a3.4 3.4 0 1 0 6.8 0a3.4 3.4 0 1 0 -6.8 0M343.4 536.3a3.4 3.4 0 1 0 6.8 0a3.4 3.4 0 1 0 -6.8 0M389.6 530.2a3.4 3.4 0 1 0 6.8 0a3.4 3.4 0 1 0 -6.8 0M393.3 537.5a3.4 3.4 0 1 0 6.8 0a3.4 3.4 0 1 0 -6.8 0M344.4 537.2a3.4 3.4 0 1 0 6.8 0a3.4 3.4 0 1 0 -6.8 0M328.7 535.1a3.4 3.4 0 1 0 6.8 0a3.4 3.4 0 1 0 -6.8 0M316.3 548.3a3.4 3.4 0 1 0 6.8 0a3.4 3.4 0 1 0 -6.8 0M378.2 530.6a3.4 3.4 0 1 0 6.8 0a3.4 3.4 0 1 0 -6.8 0M263.2 548.8a3.4 3.4 0 1 0 6.8 0a3.4 3.4 0 1 0 -6.8 0M297.5 546.1a3.4 3.4 0 1 0 6.8 0a3.4 3.4 0 1 0 -6.8 0M368.7 556.2a3.4 3.4 0 1 0 6.8 0a3.4 3.4 0 1 0 -6.8 0M377.8 534.2a3.4 3.4 0 1 0 6.8 0a3.4 3.4 0 1 0 -6.8 0M288.6 537.2a3.4 3.4 0 1 0 6.8 0a3.4 3.4 0 1 0 -6.8 0M388.6 544.6a3.4 3.4 0 1 0 6.8 0a3.4 3.4 0 1 0 -6.8 0M351.6 564.1a3.4 3.4 0 1 0 6.8 0a3.4 3.4 0 1 0 -6.8 0M329.7 528.1a3.4 3.4 0 1 0 6.8 0a3.4 3.4 0 1 0 -6.8 0M350.5 558.6a3.4 3.4 0 1 0 6.8 0a3.4 3.4 0 1 0 -6.8 0M344.3 526.4a3.4 3.4 0 1 0 6.8 0a3.4 3.4 0 1 0 -6.8 0M395.1 546.5a3.4 3.4 0 1 0 6.8 0a3.4 3.4 0 1 0 -6.8 0M306 538.8a3.4 3.4 0 1 0 6.8 0a3.4 3.4 0 1 0 -6.8 0M369.6 533.7a3.4 3.4 0 1 0 6.8 0a3.4 3.4 0 1 0 -6.8 0M411.3 532.1a3.4 3.4 0 1 0 6.8 0a3.4 3.4 0 1 0 -6.8 0M418.5 548.5a3.4 3.4 0 1 0 6.8 0a3.4 3.4 0 1 0 -6.8 0M419.9 517.7a3.4 3.4 0 1 0 6.8 0a3.4 3.4 0 1 0 -6.8 0M405.5 551a3.4 3.4 0 1 0 6.8 0a3.4 3.4 0 1 0 -6.8 0M362.3 549.7a3.4 3.4 0 1 0 6.8 0a3.4 3.4 0 1 0 -6.8 0M328.8 527.3a3.4 3.4 0 1 0 6.8 0a3.4 3.4 0 1 0 -6.8 0M431.6 523.5a3.4 3.4 0 1 0 6.8 0a3.4 3.4 0 1 0 -6.8 0M307.1 513.8a3.4 3.4 0 1 0 6.8 0a3.4 3.4 0 1 0 -6.8 0M279 533.1a3.4 3.4 0 1 0 6.8 0a3.4 3.4 0 1 0 -6.8 0M379.7 526.2a3.4 3.4 0 1 0 6.8 0a3.4 3.4 0 1 0 -6.8 0M318.3 529.4a3.4 3.4 0 1 0 6.8 0a3.4 3.4 0 1 0 -6.8 0M288.5 529a3.4 3.4 0 1 0 6.8 0a3.4 3.4 0 1 0 -6.8 0M311.8 519.2a3.4 3.4 0 1 0 6.8 0a3.4 3.4 0 1 0 -6.8 0M343.4 545.9a3.4 3.4 0 1 0 6.8 0a3.4 3.4 0 1 0 -6.8 0M308.3 540.1a3.4 3.4 0 1 0 6.8 0a3.4 3.4 0 1 0 -6.8 0M350.5 532a3.4 3.4 0 1 0 6.8 0a3.4 3.4 0 1 0 -6.8 0M348.5 533.6a3.4 3.4 0 1 0 6.8 0a3.4 3.4 0 1 0 -6.8 0M378.6 533.8a3.4 3.4 0 1 0 6.8 0a3.4 3.4 0 1 0 -6.8 0M323.5 540.6a3.4 3.4 0 1 0 6.8 0a3.4 3.4 0 1 0 -6.8 0M369.7 564.5a3.4 3.4 0 1 0 6.8 0a3.4 3.4 0 1 0 -6.8 0M388.8 532.9a3.4 3.4 0 1 0 6.8 0a3.4 3.4 0 1 0 -6.8 0M408.3 531.5a3.4 3.4 0 1 0 6.8 0a3.4 3.4 0 1 0 -6.8 0M378.8 532.7a3.4 3.4 0 1 0 6.8 0a3.4 3.4 0 1 0 -6.8 0M397.3 546.7a3.4 3.4 0 1 0 6.8 0a3.4 3.4 0 1 0 -6.8 0M332.1 552.7a3.4 3.4 0 1 0 6.8 0a3.4 3.4 0 1 0 -6.8 0M288.7 532.8a3.4 3.4 0 1 0 6.8 0a3.4 3.4 0 1 0 -6.8 0M365.2 528.8a3.4 3.4 0 1 0 6.8 0a3.4 3.4 0 1 0 -6.8 0M379.7 518a3.4 3.4 0 1 0 6.8 0a3.4 3.4 0 1 0 -6.8 0M286.9 538a3.4 3.4 0 1 0 6.8 0a3.4 3.4 0 1 0 -6.8 0M380.6 523.8a3.4 3.4 0 1 0 6.8 0a3.4 3.4 0 1 0 -6.8 0M301.1 560.6a3.4 3.4 0 1 0 6.8 0a3.4 3.4 0 1 0 -6.8 0M351.6 519.3a3.4 3.4 0 1 0 6.8 0a3.4 3.4 0 1 0 -6.8 0M405.4 539.1a3.4 3.4 0 1 0 6.8 0a3.4 3.4 0 1 0 -6.8 0M364.6 528.6a3.4 3.4 0 1 0 6.8 0a3.4 3.4 0 1 0 -6.8 0M321.3 531.6a3.4 3.4 0 1 0 6.8 0a3.4 3.4 0 1 0 -6.8 0M347.6 547.2a3.4 3.4 0 1 0 6.8 0a3.4 3.4 0 1 0 -6.8 0M382.1 529.3a3.4 3.4 0 1 0 6.8 0a3.4 3.4 0 1 0 -6.8 0M374.4 540.2a3.4 3.4 0 1 0 6.8 0a3.4 3.4 0 1 0 -6.8 0M393.4 543.8a3.4 3.4 0 1 0 6.8 0a3.4 3.4 0 1 0 -6.8 0M282.4 538.5a3.4 3.4 0 1 0 6.8 0a3.4 3.4 0 1 0 -6.8 0M439.1 524.8a3.4 3.4 0 1 0 6.8 0a3.4 3.4 0 1 0 -6.8 0M439.1 543.5a3.4 3.4 0 1 0 6.8 0a3.4 3.4 0 1 0 -6.8 0M376.6 555.5a3.4 3.4 0 1 0 6.8 0a3.4 3.4 0 1 0 -6.8 0M281.2 546.5a3.4 3.4 0 1 0 6.8 0a3.4 3.4 0 1 0 -6.8 0M337.5 542.4a3.4 3.4 0 1 0 6.8 0a3.4 3.4 0 1 0 -6.8 0M417.7 532.1a3.4 3.4 0 1 0 6.8 0a3.4 3.4 0 1 0 -6.8 0M408.2 567.9a3.4 3.4 0 1 0 6.8 0a3.4 3.4 0 1 0 -6.8 0M357.8 548.2a3.4 3.4 0 1 0 6.8 0a3.4 3.4 0 1 0 -6.8 0M306.5 524.4a3.4 3.4 0 1 0 6.8 0a3.4 3.4 0 1 0 -6.8 0M398.5 506.6a3.4 3.4 0 1 0 6.8 0a3.4 3.4 0 1 0 -6.8 0M443.6 530.7a3.4 3.4 0 1 0 6.8 0a3.4 3.4 0 1 0 -6.8 0M400.2 523.5a3.4 3.4 0 1 0 6.8 0a3.4 3.4 0 1 0 -6.8 0M296.8 537.8a3.4 3.4 0 1 0 6.8 0a3.4 3.4 0 1 0 -6.8 0M279.3 531.7a3.4 3.4 0 1 0 6.8 0a3.4 3.4 0 1 0 -6.8 0M385.6 524.4a3.4 3.4 0 1 0 6.8 0a3.4 3.4 0 1 0 -6.8 0M242.4 536.6a3.4 3.4 0 1 0 6.8 0a3.4 3.4 0 1 0 -6.8 0M228.5 554.4a3.4 3.4 0 1 0 6.8 0a3.4 3.4 0 1 0 -6.8 0M387.7 529.3a3.4 3.4 0 1 0 6.8 0a3.4 3.4 0 1 0 -6.8 0M305.8 521a3.4 3.4 0 1 0 6.8 0a3.4 3.4 0 1 0 -6.8 0M409.5 552.1a3.4 3.4 0 1 0 6.8 0a3.4 3.4 0 1 0 -6.8 0M326.4 538.8a3.4 3.4 0 1 0 6.8 0a3.4 3.4 0 1 0 -6.8 0M353.8 550.5a3.4 3.4 0 1 0 6.8 0a3.4 3.4 0 1 0 -6.8 0M325.5 530.1a3.4 3.4 0 1 0 6.8 0a3.4 3.4 0 1 0 -6.8 0M423.8 517.7a3.4 3.4 0 1 0 6.8 0a3.4 3.4 0 1 0 -6.8 0M357.9 543.3a3.4 3.4 0 1 0 6.8 0a3.4 3.4 0 1 0 -6.8 0M294 529.4a3.4 3.4 0 1 0 6.8 0a3.4 3.4 0 1 0 -6.8 0M294.4 531.3a3.4 3.4 0 1 0 6.8 0a3.4 3.4 0 1 0 -6.8 0M335 548.5a3.4 3.4 0 1 0 6.8 0a3.4 3.4 0 1 0 -6.8 0M357.2 532.2a3.4 3.4 0 1 0 6.8 0a3.4 3.4 0 1 0 -6.8 0M346 561a3.4 3.4 0 1 0 6.8 0a3.4 3.4 0 1 0 -6.8 0M355.7 547.9a3.4 3.4 0 1 0 6.8 0a3.4 3.4 0 1 0 -6.8 0M348.9 552.3a3.4 3.4 0 1 0 6.8 0a3.4 3.4 0 1 0 -6.8 0M288.5 521.7a3.4 3.4 0 1 0 6.8 0a3.4 3.4 0 1 0 -6.8 0M422 541a3.4 3.4 0 1 0 6.8 0a3.4 3.4 0 1 0 -6.8 0M293.2 546.5a3.4 3.4 0 1 0 6.8 0a3.4 3.4 0 1 0 -6.8 0M381.8 539.6a3.4 3.4 0 1 0 6.8 0a3.4 3.4 0 1 0 -6.8 0M373.5 534a3.4 3.4 0 1 0 6.8 0a3.4 3.4 0 1 0 -6.8 0M403.3 537.8a3.4 3.4 0 1 0 6.8 0a3.4 3.4 0 1 0 -6.8 0M415 545.5a3.4 3.4 0 1 0 6.8 0a3.4 3.4 0 1 0 -6.8 0M223 540.3a3.4 3.4 0 1 0 6.8 0a3.4 3.4 0 1 0 -6.8 0M315.6 557.8a3.4 3.4 0 1 0 6.8 0a3.4 3.4 0 1 0 -6.8 0M254.3 523.1a3.4 3.4 0 1 0 6.8 0a3.4 3.4 0 1 0 -6.8 0M411.5 547a3.4 3.4 0 1 0 6.8 0a3.4 3.4 0 1 0 -6.8 0M412 537.2a3.4 3.4 0 1 0 6.8 0a3.4 3.4 0 1 0 -6.8 0M321.3 554.7a3.4 3.4 0 1 0 6.8 0a3.4 3.4 0 1 0 -6.8 0M445.1 520.5a3.4 3.4 0 1 0 6.8 0a3.4 3.4 0 1 0 -6.8 0M355.3 533.7a3.4 3.4 0 1 0 6.8 0a3.4 3.4 0 1 0 -6.8 0M367.5 537.2a3.4 3.4 0 1 0 6.8 0a3.4 3.4 0 1 0 -6.8 0M363.7 530.2a3.4 3.4 0 1 0 6.8 0a3.4 3.4 0 1 0 -6.8 0M304.9 546a3.4 3.4 0 1 0 6.8 0a3.4 3.4 0 1 0 -6.8 0M365.3 547.6a3.4 3.4 0 1 0 6.8 0a3.4 3.4 0 1 0 -6.8 0M345.9 534.3a3.4 3.4 0 1 0 6.8 0a3.4 3.4 0 1 0 -6.8 0M385.1 539.3a3.4 3.4 0 1 0 6.8 0a3.4 3.4 0 1 0 -6.8 0M348.2 543.9a3.4 3.4 0 1 0 6.8 0a3.4 3.4 0 1 0 -6.8 0M323.7 526.5a3.4 3.4 0 1 0 6.8 0a3.4 3.4 0 1 0 -6.8 0M384.7 547.5a3.4 3.4 0 1 0 6.8 0a3.4 3.4 0 1 0 -6.8 0M362.9 534a3.4 3.4 0 1 0 6.8 0a3.4 3.4 0 1 0 -6.8 0M85.6 540.6a3.4 3.4 0 1 0 6.8 0a3.4 3.4 0 1 0 -6.8 0M88.1 537a3.4 3.4 0 1 0 6.8 0a3.4 3.4 0 1 0 -6.8 0M107.5 511.4a3.4 3.4 0 1 0 6.8 0a3.4 3.4 0 1 0 -6.8 0M115.9 524.2a3.4 3.4 0 1 0 6.8 0a3.4 3.4 0 1 0 -6.8 0M132.3 522.4a3.4 3.4 0 1 0 6.8 0a3.4 3.4 0 1 0 -6.8 0M132.3 527.1a3.4 3.4 0 1 0 6.8 0a3.4 3.4 0 1 0 -6.8 0M136.7 526.7a3.4 3.4 0 1 0 6.8 0a3.4 3.4 0 1 0 -6.8 0M153.1 541.7a3.4 3.4 0 1 0 6.8 0a3.4 3.4 0 1 0 -6.8 0M162.3 557.8a3.4 3.4 0 1 0 6.8 0a3.4 3.4 0 1 0 -6.8 0M168.8 529.7a3.4 3.4 0 1 0 6.8 0a3.4 3.4 0 1 0 -6.8 0M175 529.7a3.4 3.4 0 1 0 6.8 0a3.4 3.4 0 1 0 -6.8 0M181.2 529.7a3.4 3.4 0 1 0 6.8 0a3.4 3.4 0 1 0 -6.8 0M186 528.6a3.4 3.4 0 1 0 6.8 0a3.4 3.4 0 1 0 -6.8 0M192.2 529.7a3.4 3.4 0 1 0 6.8 0a3.4 3.4 0 1 0 -6.8 0M191.5 493.9a3.4 3.4 0 1 0 6.8 0a3.4 3.4 0 1 0 -6.8 0M195.9 508.8a3.4 3.4 0 1 0 6.8 0a3.4 3.4 0 1 0 -6.8 0M194.4 522.4a3.4 3.4 0 1 0 6.8 0a3.4 3.4 0 1 0 -6.8 0M200.6 524.2a3.4 3.4 0 1 0 6.8 0a3.4 3.4 0 1 0 -6.8 0M200.6 533.3a3.4 3.4 0 1 0 6.8 0a3.4 3.4 0 1 0 -6.8 0M202.4 558.1a3.4 3.4 0 1 0 6.8 0a3.4 3.4 0 1 0 -6.8 0M188.5 575.3a3.4 3.4 0 1 0 6.8 0a3.4 3.4 0 1 0 -6.8 0M211.6 518.7a3.4 3.4 0 1 0 6.8 0a3.4 3.4 0 1 0 -6.8 0M209 526a3.4 3.4 0 1 0 6.8 0a3.4 3.4 0 1 0 -6.8 0M215.9 586.3a3.4 3.4 0 1 0 6.8 0a3.4 3.4 0 1 0 -6.8 0M222.5 580.8a3.4 3.4 0 1 0 6.8 0a3.4 3.4 0 1 0 -6.8 0M239 483.3a3.4 3.4 0 1 0 6.8 0a3.4 3.4 0 1 0 -6.8 0M260.9 491.3a3.4 3.4 0 1 0 6.8 0a3.4 3.4 0 1 0 -6.8 0M259 495.7a3.4 3.4 0 1 0 6.8 0a3.4 3.4 0 1 0 -6.8 0M262.7 509.6a3.4 3.4 0 1 0 6.8 0a3.4 3.4 0 1 0 -6.8 0M273.6 510.3a3.4 3.4 0 1 0 6.8 0a3.4 3.4 0 1 0 -6.8 0M279.1 508.5a3.4 3.4 0 1 0 6.8 0a3.4 3.4 0 1 0 -6.8 0M220.7 553.4a3.4 3.4 0 1 0 6.8 0a3.4 3.4 0 1 0 -6.8 0M223.6 550.5a3.4 3.4 0 1 0 6.8 0a3.4 3.4 0 1 0 -6.8 0M232.4 560.7a3.4 3.4 0 1 0 6.8 0a3.4 3.4 0 1 0 -6.8 0M243.3 554.1a3.4 3.4 0 1 0 6.8 0a3.4 3.4 0 1 0 -6.8 0M251.7 566.2a3.4 3.4 0 1 0 6.8 0a3.4 3.4 0 1 0 -6.8 0M256.1 568a3.4 3.4 0 1 0 6.8 0a3.4 3.4 0 1 0 -6.8 0M267.1 580.1a3.4 3.4 0 1 0 6.8 0a3.4 3.4 0 1 0 -6.8 0M280.2 571.7a3.4 3.4 0 1 0 6.8 0a3.4 3.4 0 1 0 -6.8 0M266.3 558.9a3.4 3.4 0 1 0 6.8 0a3.4 3.4 0 1 0 -6.8 0M365.4 419.3a3.4 3.4 0 1 0 6.8 0a3.4 3.4 0 1 0 -6.8 0M453 432.1a3.4 3.4 0 1 0 6.8 0a3.4 3.4 0 1 0 -6.8 0M296 443.8a3.4 3.4 0 1 0 6.8 0a3.4 3.4 0 1 0 -6.8 0M307.7 446a3.4 3.4 0 1 0 6.8 0a3.4 3.4 0 1 0 -6.8 0M352.6 456.6a3.4 3.4 0 1 0 6.8 0a3.4 3.4 0 1 0 -6.8 0M345.3 465.7a3.4 3.4 0 1 0 6.8 0a3.4 3.4 0 1 0 -6.8 0M417.2 473.4a3.4 3.4 0 1 0 6.8 0a3.4 3.4 0 1 0 -6.8 0M354.4 476.6a3.4 3.4 0 1 0 6.8 0a3.4 3.4 0 1 0 -6.8 0M356.2 482.1a3.4 3.4 0 1 0 6.8 0a3.4 3.4 0 1 0 -6.8 0M326 483.9a3.4 3.4 0 1 0 6.8 0a3.4 3.4 0 1 0 -6.8 0M366.5 485.8a3.4 3.4 0 1 0 6.8 0a3.4 3.4 0 1 0 -6.8 0M390.9 489.4a3.4 3.4 0 1 0 6.8 0a3.4 3.4 0 1 0 -6.8 0M455.9 502.9a3.4 3.4 0 1 0 6.8 0a3.4 3.4 0 1 0 -6.8 0M469.4 528.5a3.4 3.4 0 1 0 6.8 0a3.4 3.4 0 1 0 -6.8 0M478.5 546.7a3.4 3.4 0 1 0 6.8 0a3.4 3.4 0 1 0 -6.8 0M490.6 566.8a3.4 3.4 0 1 0 6.8 0a3.4 3.4 0 1 0 -6.8 0M467.6 549.6a3.4 3.4 0 1 0 6.8 0a3.4 3.4 0 1 0 -6.8 0M458.4 559.9a3.4 3.4 0 1 0 6.8 0a3.4 3.4 0 1 0 -6.8 0M448.2 556.2a3.4 3.4 0 1 0 6.8 0a3.4 3.4 0 1 0 -6.8 0M301.5 600.7a3.4 3.4 0 1 0 6.8 0a3.4 3.4 0 1 0 -6.8 0M347.8 592.7a3.4 3.4 0 1 0 6.8 0a3.4 3.4 0 1 0 -6.8 0M363.5 588a3.4 3.4 0 1 0 6.8 0a3.4 3.4 0 1 0 -6.8 0M385.4 588a3.4 3.4 0 1 0 6.8 0a3.4 3.4 0 1 0 -6.8 0M398.2 592.7a3.4 3.4 0 1 0 6.8 0a3.4 3.4 0 1 0 -6.8 0M429.2 581.8a3.4 3.4 0 1 0 6.8 0a3.4 3.4 0 1 0 -6.8 0M471.9 603.3a3.4 3.4 0 1 0 6.8 0a3.4 3.4 0 1 0 -6.8 0M372.7 629.9a3.4 3.4 0 1 0 6.8 0a3.4 3.4 0 1 0 -6.8 0M319.7 583.2a3.4 3.4 0 1 0 6.8 0a3.4 3.4 0 1 0 -6.8 0M323.4 583.2a3.4 3.4 0 1 0 6.8 0a3.4 3.4 0 1 0 -6.8 0M297.8 578.8a3.4 3.4 0 1 0 6.8 0a3.4 3.4 0 1 0 -6.8 0M416.5 493.1a3.4 3.4 0 1 0 6.8 0a3.4 3.4 0 1 0 -6.8 0M423.8 492a3.4 3.4 0 1 0 6.8 0a3.4 3.4 0 1 0 -6.8 0M428.5 503.3a3.4 3.4 0 1 0 6.8 0a3.4 3.4 0 1 0 -6.8 0M429.2 509.5a3.4 3.4 0 1 0 6.8 0a3.4 3.4 0 1 0 -6.8 0M415.4 505.8a3.4 3.4 0 1 0 6.8 0a3.4 3.4 0 1 0 -6.8 0M376.3 491.2a3.4 3.4 0 1 0 6.8 0a3.4 3.4 0 1 0 -6.8 0M378.9 493.1a3.4 3.4 0 1 0 6.8 0a3.4 3.4 0 1 0 -6.8 0M400 504.7a3.4 3.4 0 1 0 6.8 0a3.4 3.4 0 1 0 -6.8 0" fill="#000"/>
<rect x="77" y="484.5" width="419.9" height="4.8" fill="#ff0000"/>
<rect x="77" y="530.2" width="419.9" height="4.8" fill="#ff0000"/>
<rect x="77" y="576.8" width="419.9" height="4.8" fill="#ff0000"/>
<path d="M623.5 400.2H1048.5V662.4H623.5ZM644.8 662.4v-3M644.8 400.2v3M666 662.4v-5M666 400.2v5M687.2 662.4v-3M687.2 400.2v3M708.5 662.4v-3M708.5 400.2v3M729.8 662.4v-3M729.8 400.2v3M751 662.4v-5M751 400.2v5M772.2 662.4v-3M772.2 400.2v3M793.5 662.4v-3M793.5 400.2v3M814.8 662.4v-3M814.8 400.2v3M836 662.4v-5M836 400.2v5M857.2 662.4v-3M857.2 400.2v3M878.5 662.4v-3M878.5 400.2v3M899.8 662.4v-3M899.8 400.2v3M921 662.4v-5M921 400.2v5M942.2 662.4v-3M942.2 400.2v3M963.5 662.4v-3M963.5 400.2v3M984.8 662.4v-3M984.8 400.2v3M1006 662.4v-5M1006 400.2v5M1027.2 662.4v-3M1027.2 400.2v3M623.5 653.7h3M1048.5 653.7h-3M623.5 644.9h3M1048.5 644.9h-3M623.5 636.2h3M1048.5 636.2h-3M623.5 627.4h3M1048.5 627.4h-3M623.5 618.7h5M1048.5 618.7h-5M623.5 610h3M1048.5 610h-3M623.5 601.2h3M1048.5 601.2h-3M623.5 592.5h3M1048.5 592.5h-3M623.5 583.7h3M1048.5 583.7h-3M623.5 575h5M1048.5 575h-5M623.5 566.3h3M1048.5 566.3h-3M623.5 557.5h3M1048.5 557.5h-3M623.5 548.8h3M1048.5 548.8h-3M623.5 540h3M1048.5 540h-3M623.5 531.3h5M1048.5 531.3h-5M623.5 522.6h3M1048.5 522.6h-3M623.5 513.8h3M1048.5 513.8h-3M623.5 505.1h3M1048.5 505.1h-3M623.5 496.3h3M1048.5 496.3h-3M623.5 487.6h5M1048.5 487.6h-5M623.5 478.9h3M1048.5 478.9h-3M623.5 470.1h3M1048.5 470.1h-3M623.5 461.4h3M1048.5 461.4h-3M623.5 452.6h3M1048.5 452.6h-3M623.5 443.9h5M1048.5 443.9h-5M623.5 435.2h3M1048.5 435.2h-3M623.5 426.4h3M1048.5 426.4h-3M623.5 417.7h3M1048.5 417.7h-3M623.5 408.9h3M1048.5 408.9h-3" stroke="#8a8a8a" stroke-width="1" fill="none"/>
<path d="M690 537.6a3.4 3.4 0 1 0 6.8 0a3.4 3.4 0 1 0 -6.8 0M832.7 540.7a3.4 3.4 0 1 0 6.8 0a3.4 3.4 0 1 0 -6.8 0M646.3 528.9a3.4 3.4 0 1 0 6.8 0a3.4 3.4 0 1 0 -6.8 0M917.9 534.5a3.4 3.4 0 1 0 6.8 0a3.4 3.4 0 1 0 -6.8 0M827.1 542.5a3.4 3.4 0 1 0 6.8 0a3.4 3.4 0 1 0 -6.8 0M743 534.3a3.4 3.4 0 1 0 6.8 0a3.4 3.4 0 1 0 -6.8 0M700.1 531.9a3.4 3.4 0 1 0 6.8 0a3.4 3.4 0 1 0 -6.8 0M819 540.9a3.4 3.4 0 1 0 6.8 0a3.4 3.4 0 1 0 -6.8 0M752.3 543.1a3.4 3.4 0 1 0 6.8 0a3.4 3.4 0 1 0 -6.8 0M687.3 534.3a3.4 3.4 0 1 0 6.8 0a3.4 3.4 0 1 0 -6.8 0M800.7 529.2a3.4 3.4 0 1 0 6.8 0a3.4 3.4 0 1 0 -6.8 0M891.8 532.1a3.4 3.4 0 1 0 6.8 0a3.4 3.4 0 1 0 -6.8 0M911.7 534.9a3.4 3.4 0 1 0 6.8 0a3.4 3.4 0 1 0 -6.8 0M720.8 544.8a3.4 3.4 0 1 0 6.8 0a3.4 3.4 0 1 0 -6.8 0M926.9 528.5a3.4 3.4 0 1 0 6.8 0a3.4 3.4 0 1 0 -6.8 0M786.9 530.1a3.4 3.4 0 1 0 6.8 0a3.4 3.4 0 1 0 -6.8 0M942.7 544a3.4 3.4 0 1 0 6.8 0a3.4 3.4 0 1 0 -6.8 0M962.6 547.1a3.4 3.4 0 1 0 6.8 0a3.4 3.4 0 1 0 -6.8 0M912.7 544.4a3.4 3.4 0 1 0 6.8 0a3.4 3.4 0 1 0 -6.8 0M653.2 532.4a3.4 3.4 0 1 0 6.8 0a3.4 3.4 0 1 0 -6.8 0M754 521.7a3.4 3.4 0 1 0 6.8 0a3.4 3.4 0 1 0 -6.8 0M914.8 531.7a3.4 3.4 0 1 0 6.8 0a3.4 3.4 0 1 0 -6.8 0M828.1 527.9a3.4 3.4 0 1 0 6.8 0a3.4 3.4 0 1 0 -6.8 0M718.6 536.3a3.4 3.4 0 1 0 6.8 0a3.4 3.4 0 1 0 -6.8 0M907 533.2a3.4 3.4 0 1 0 6.8 0a3.4 3.4 0 1 0 -6.8 0M836.5 532.7a3.4 3.4 0 1 0 6.8 0a3.4 3.4 0 1 0 -6.8 0M863.3 544.5a3.4 3.4 0 1 0 6.8 0a3.4 3.4 0 1 0 -6.8 0M713.4 521.2a3.4 3.4 0 1 0 6.8 0a3.4 3.4 0 1 0 -6.8 0M752.7 520.3a3.4 3.4 0 1 0 6.8 0a3.4 3.4 0 1 0 -6.8 0M807.1 539.7a3.4 3.4 0 1 0 6.8 0a3.4 3.4 0 1 0 -6.8 0M847.2 529.4a3.4 3.4 0 1 0 6.8 0a3.4 3.4 0 1 0 -6.8 0M840.2 527.1a3.4 3.4 0 1 0 6.8 0a3.4 3.4 0 1 0 -6.8 0M739.9 538.8a3.4 3.4 0 1 0 6.8 0a3.4 3.4 0 1 0 -6.8 0M878.5 535.7a3.4 3.4 0 1 0 6.8 0a3.4 3.4 0 1 0 -6.8 0M753.9 546.4a3.4 3.4 0 1 0 6.8 0a3.4 3.4 0 1 0 -6.8 0M925.8 528.2a3.4 3.4 0 1 0 6.8 0a3.4 3.4 0 1 0 -6.8 0M818.7 528.8a3.4 3.4 0 1 0 6.8 0a3.4 3.4 0 1 0 -6.8 0M919 537.7a3.4 3.4 0 1 0 6.8 0a3.4 3.4 0 1 0 -6.8 0M801.7 532.3a3.4 3.4 0 1 0 6.8 0a3.4 3.4 0 1 0 -6.8 0M813.2 532.9a3.4 3.4 0 1 0 6.8 0a3.4 3.4 0 1 0 -6.8 0M859.5 534a3.4 3.4 0 1 0 6.8 0a3.4 3.4 0 1 0 -6.8 0M887 535.3a3.4 3.4 0 1 0 6.8 0a3.4 3.4 0 1 0 -6.8 0M946.7 530.2a3.4 3.4 0 1 0 6.8 0a3.4 3.4 0 1 0 -6.8 0M824.4 534.6a3.4 3.4 0 1 0 6.8 0a3.4 3.4 0 1 0 -6.8 0M655.5 527.6a3.4 3.4 0 1 0 6.8 0a3.4 3.4 0 1 0 -6.8 0M757.8 528.4a3.4 3.4 0 1 0 6.8 0a3.4 3.4 0 1 0 -6.8 0M787.2 545.8a3.4 3.4 0 1 0 6.8 0a3.4 3.4 0 1 0 -6.8 0M816.3 554.7a3.4 3.4 0 1 0 6.8 0a3.4 3.4 0 1 0 -6.8 0M900.2 532.1a3.4 3.4 0 1 0 6.8 0a3.4 3.4 0 1 0 -6.8 0M943.4 542.5a3.4 3.4 0 1 0 6.8 0a3.4 3.4 0 1 0 -6.8 0M893 534.6a3.4 3.4 0 1 0 6.8 0a3.4 3.4 0 1 0 -6.8 0M899.7 546a3.4 3.4 0 1 0 6.8 0a3.4 3.4 0 1 0 -6.8 0M635.4 527.7a3.4 3.4 0 1 0 6.8 0a3.4 3.4 0 1 0 -6.8 0M841.7 535.6a3.4 3.4 0 1 0 6.8 0a3.4 3.4 0 1 0 -6.8 0M790.5 521.6a3.4 3.4 0 1 0 6.8 0a3.4 3.4 0 1 0 -6.8 0M921 534.4a3.4 3.4 0 1 0 6.8 0a3.4 3.4 0 1 0 -6.8 0M682.2 525.2a3.4 3.4 0 1 0 6.8 0a3.4 3.4 0 1 0 -6.8 0M909.5 546.7a3.4 3.4 0 1 0 6.8 0a3.4 3.4 0 1 0 -6.8 0M822.8 529a3.4 3.4 0 1 0 6.8 0a3.4 3.4 0 1 0 -6.8 0M912.3 535.9a3.4 3.4 0 1 0 6.8 0a3.4 3.4 0 1 0 -6.8 0M932.2 555.6a3.4 3.4 0 1 0 6.8 0a3.4 3.4 0 1 0 -6.8 0M841.3 542.5a3.4 3.4 0 1 0 6.8 0a3.4 3.4 0 1 0 -6.8 0M788.5 530.5a3.4 3.4 0 1 0 6.8 0a3.4 3.4 0 1 0 -6.8 0M844.8 535.9a3.4 3.4 0 1 0 6.8 0a3.4 3.4 0 1 0 -6.8 0M724.7 540.1a3.4 3.4 0 1 0 6.8 0a3.4 3.4 0 1 0 -6.8 0M741.7 533.2a3.4 3.4 0 1 0 6.8 0a3.4 3.4 0 1 0 -6.8 0M810.4 532.4a3.4 3.4 0 1 0 6.8 0a3.4 3.4 0 1 0 -6.8 0M810.7 535.6a3.4 3.4 0 1 0 6.8 0a3.4 3.4 0 1 0 -6.8 0M939.9 535.4a3.4 3.4 0 1 0 6.8 0a3.4 3.4 0 1 0 -6.8 0M722.9 543.6a3.4 3.4 0 1 0 6.8 0a3.4 3.4 0 1 0 -6.8 0M818.1 551.8a3.4 3.4 0 1 0 6.8 0a3.4 3.4 0 1 0 -6.8 0M747.8 539.5a3.4 3.4 0 1 0 6.8 0a3.4 3.4 0 1 0 -6.8 0M742.4 537.1a3.4 3.4 0 1 0 6.8 0a3.4 3.4 0 1 0 -6.8 0M855.9 534.5a3.4 3.4 0 1 0 6.8 0a3.4 3.4 0 1 0 -6.8 0M791.6 540.7a3.4 3.4 0 1 0 6.8 0a3.4 3.4 0 1 0 -6.8 0M791.8 534.3a3.4 3.4 0 1 0 6.8 0a3.4 3.4 0 1 0 -6.8 0M811.4 533.1a3.4 3.4 0 1 0 6.8 0a3.4 3.4 0 1 0 -6.8 0M865.9 527a3.4 3.4 0 1 0 6.8 0a3.4 3.4 0 1 0 -6.8 0M909.8 529.6a3.4 3.4 0 1 0 6.8 0a3.4 3.4 0 1 0 -6.8 0M902.6 531.7a3.4 3.4 0 1 0 6.8 0a3.4 3.4 0 1 0 -6.8 0M786.8 541a3.4 3.4 0 1 0 6.8 0a3.4 3.4 0 1 0 -6.8 0M642.5 527.1a3.4 3.4 0 1 0 6.8 0a3.4 3.4 0 1 0 -6.8 0M709.9 533.4a3.4 3.4 0 1 0 6.8 0a3.4 3.4 0 1 0 -6.8 0M887.9 511.5a3.4 3.4 0 1 0 6.8 0a3.4 3.4 0 1 0 -6.8 0M852 534.5a3.4 3.4 0 1 0 6.8 0a3.4 3.4 0 1 0 -6.8 0M843.3 540a3.4 3.4 0 1 0 6.8 0a3.4 3.4 0 1 0 -6.8 0M753.1 524.8a3.4 3.4 0 1 0 6.8 0a3.4 3.4 0 1 0 -6.8 0M844.6 532.4a3.4 3.4 0 1 0 6.8 0a3.4 3.4 0 1 0 -6.8 0M852.9 548.4a3.4 3.4 0 1 0 6.8 0a3.4 3.4 0 1 0 -6.8 0M844.9 529.7a3.4 3.4 0 1 0 6.8 0a3.4 3.4 0 1 0 -6.8 0M933.7 526.7a3.4 3.4 0 1 0 6.8 0a3.4 3.4 0 1 0 -6.8 0M891.9 534a3.4 3.4 0 1 0 6.8 0a3.4 3.4 0 1 0 -6.8 0M793.2 550.8a3.4 3.4 0 1 0 6.8 0a3.4 3.4 0 1 0 -6.8 0M744.2 531.9a3.4 3.4 0 1 0 6.8 0a3.4 3.4 0 1 0 -6.8 0M729.6 537.5a3.4 3.4 0 1 0 6.8 0a3.4 3.4 0 1 0 -6.8 0M625.2 533.3a3.4 3.4 0 1 0 6.8 0a3.4 3.4 0 1 0 -6.8 0M638.3 529a3.4 3.4 0 1 0 6.8 0a3.4 3.4 0 1 0 -6.8 0M939.4 550.1a3.4 3.4 0 1 0 6.8 0a3.4 3.4 0 1 0 -6.8 0M809.8 527a3.4 3.4 0 1 0 6.8 0a3.4 3.4 0 1 0 -6.8 0M873.3 546.7a3.4 3.4 0 1 0 6.8 0a3.4 3.4 0 1 0 -6.8 0M903.8 557a3.4 3.4 0 1 0 6.8 0a3.4 3.4 0 1 0 -6.8 0M761.7 542.1a3.4 3.4 0 1 0 6.8 0a3.4 3.4 0 1 0 -6.8 0M793.5 537a3.4 3.4 0 1 0 6.8 0a3.4 3.4 0 1 0 -6.8 0M691.8 534.8a3.4 3.4 0 1 0 6.8 0a3.4 3.4 0 1 0 -6.8 0M830.6 526.5a3.4 3.4 0 1 0 6.8 0a3.4 3.4 0 1 0 -6.8 0M909.8 543.8a3.4 3.4 0 1 0 6.8 0a3.4 3.4 0 1 0 -6.8 0M729.5 533a3.4 3.4 0 1 0 6.8 0a3.4 3.4 0 1 0 -6.8 0M911 537.3a3.4 3.4 0 1 0 6.8 0a3.4 3.4 0 1 0 -6.8 0M719 541.1a3.4 3.4 0 1 0 6.8 0a3.4 3.4 0 1 0 -6.8 0M748.7 550.1a3.4 3.4 0 1 0 6.8 0a3.4 3.4 0 1 0 -6.8 0M714.2 535.3a3.4 3.4 0 1 0 6.8 0a3.4 3.4 0 1 0 -6.8 0M740.1 536.1a3.4 3.4 0 1 0 6.8 0a3.4 3.4 0 1 0 -6.8 0M816.3 541.5a3.4 3.4 0 1 0 6.8 0a3.4 3.4 0 1 0 -6.8 0M785.8 530.5a3.4 3.4 0 1 0 6.8 0a3.4 3.4 0 1 0 -6.8 0M783.8 536.1a3.4 3.4 0 1 0 6.8 0a3.4 3.4 0 1 0 -6.8 0M915.5 530.8a3.4 3.4 0 1 0 6.8 0a3.4 3.4 0 1 0 -6.8 0M750.8 526a3.4 3.4 0 1 0 6.8 0a3.4 3.4 0 1 0 -6.8 0M748.2 525.1a3.4 3.4 0 1 0 6.8 0a3.4 3.4 0 1 0 -6.8 0M832.6 522.8a3.4 3.4 0 1 0 6.8 0a3.4 3.4 0 1 0 -6.8 0M835.4 534.3a3.4 3.4 0 1 0 6.8 0a3.4 3.4 0 1 0 -6.8 0M885.8 540.9a3.4 3.4 0 1 0 6.8 0a3.4 3.4 0 1 0 -6.8 0M901.7 545.3a3.4 3.4 0 1 0 6.8 0a3.4 3.4 0 1 0 -6.8 0M823.3 532.1a3.4 3.4 0 1 0 6.8 0a3.4 3.4 0 1 0 -6.8 0M777.5 534.9a3.4 3.4 0 1 0 6.8 0a3.4 3.4 0 1 0 -6.8 0M925.8 538.8a3.4 3.4 0 1 0 6.8 0a3.4 3.4 0 1 0 -6.8 0M779.9 544.6a3.4 3.4 0 1 0 6.8 0a3.4 3.4 0 1 0 -6.8 0M791.2 535.4a3.4 3.4 0 1 0 6.8 0a3.4 3.4 0 1 0 -6.8 0M867.2 541.9a3.4 3.4 0 1 0 6.8 0a3.4 3.4 0 1 0 -6.8 0M776.2 542a3.4 3.4 0 1 0 6.8 0a3.4 3.4 0 1 0 -6.8 0M750.7 542a3.4 3.4 0 1 0 6.8 0a3.4 3.4 0 1 0 -6.8 0M685.2 530a3.4 3.4 0 1 0 6.8 0a3.4 3.4 0 1 0 -6.8 0M891.1 535.1a3.4 3.4 0 1 0 6.8 0a3.4 3.4 0 1 0 -6.8 0M803 526.4a3.4 3.4 0 1 0 6.8 0a3.4 3.4 0 1 0 -6.8 0M762.4 536.7a3.4 3.4 0 1 0 6.8 0a3.4 3.4 0 1 0 -6.8 0M902.3 537.5a3.4 3.4 0 1 0 6.8 0a3.4 3.4 0 1 0 -6.8 0M794.2 543.4a3.4 3.4 0 1 0 6.8 0a3.4 3.4 0 1 0 -6.8 0M823.6 533.6a3.4 3.4 0 1 0 6.8 0a3.4 3.4 0 1 0 -6.8 0M909.4 534.3a3.4 3.4 0 1 0 6.8 0a3.4 3.4 0 1 0 -6.8 0M775.4 553.1a3.4 3.4 0 1 0 6.8 0a3.4 3.4 0 1 0 -6.8 0M733.6 518.4a3.4 3.4 0 1 0 6.8 0a3.4 3.4 0 1 0 -6.8 0M910.2 536.6a3.4 3.4 0 1 0 6.8 0a3.4 3.4 0 1 0 -6.8 0M957.5 526.1a3.4 3.4 0 1 0 6.8 0a3.4 3.4 0 1 0 -6.8 0M838.1 538.3a3.4 3.4 0 1 0 6.8 0a3.4 3.4 0 1 0 -6.8 0M802.5 548.4a3.4 3.4 0 1 0 6.8 0a3.4 3.4 0 1 0 -6.8 0M781.6 552.1a3.4 3.4 0 1 0 6.8 0a3.4 3.4 0 1 0 -6.8 0M910.3 532.2a3.4 3.4 0 1 0 6.8 0a3.4 3.4 0 1 0 -6.8 0M911 545.1a3.4 3.4 0 1 0 6.8 0a3.4 3.4 0 1 0 -6.8 0M777.9 539.1a3.4 3.4 0 1 0 6.8 0a3.4 3.4 0 1 0 -6.8 0M762.1 554.9a3.4 3.4 0 1 0 6.8 0a3.4 3.4 0 1 0 -6.8 0M737.5 519.1a3.4 3.4 0 1 0 6.8 0a3.4 3.4 0 1 0 -6.8 0M713.9 553.4a3.4 3.4 0 1 0 6.8 0a3.4 3.4 0 1 0 -6.8 0M788 568.4a3.4 3.4 0 1 0 6.8 0a3.4 3.4 0 1 0 -6.8 0M747.5 549.3a3.4 3.4 0 1 0 6.8 0a3.4 3.4 0 1 0 -6.8 0M702.6 541.5a3.4 3.4 0 1 0 6.8 0a3.4 3.4 0 1 0 -6.8 0M770.1 546.4a3.4 3.4 0 1 0 6.8 0a3.4 3.4 0 1 0 -6.8 0M773.8 530.5a3.4 3.4 0 1 0 6.8 0a3.4 3.4 0 1 0 -6.8 0M784.6 541.4a3.4 3.4 0 1 0 6.8 0a3.4 3.4 0 1 0 -6.8 0M841.2 546.6a3.4 3.4 0 1 0 6.8 0a3.4 3.4 0 1 0 -6.8 0M960.5 529.2a3.4 3.4 0 1 0 6.8 0a3.4 3.4 0 1 0 -6.8 0M768 539.1a3.4 3.4 0 1 0 6.8 0a3.4 3.4 0 1 0 -6.8 0M964.5 523.4a3.4 3.4 0 1 0 6.8 0a3.4 3.4 0 1 0 -6.8 0M940.8 543.1a3.4 3.4 0 1 0 6.8 0a3.4 3.4 0 1 0 -6.8 0M755.3 540.7a3.4 3.4 0 1 0 6.8 0a3.4 3.4 0 1 0 -6.8 0M738.3 542.2a3.4 3.4 0 1 0 6.8 0a3.4 3.4 0 1 0 -6.8 0M709.7 542.9a3.4 3.4 0 1 0 6.8 0a3.4 3.4 0 1 0 -6.8 0M718.7 564.6a3.4 3.4 0 1 0 6.8 0a3.4 3.4 0 1 0 -6.8 0M823.1 554.4a3.4 3.4 0 1 0 6.8 0a3.4 3.4 0 1 0 -6.8 0M842.7 541.7a3.4 3.4 0 1 0 6.8 0a3.4 3.4 0 1 0 -6.8 0M783.9 549.3a3.4 3.4 0 1 0 6.8 0a3.4 3.4 0 1 0 -6.8 0M705.9 549.6a3.4 3.4 0 1 0 6.8 0a3.4 3.4 0 1 0 -6.8 0M903 549.4a3.4 3.4 0 1 0 6.8 0a3.4 3.4 0 1 0 -6.8 0M814.8 519.4a3.4 3.4 0 1 0 6.8 0a3.4 3.4 0 1 0 -6.8 0M807.8 535.1a3.4 3.4 0 1 0 6.8 0a3.4 3.4 0 1 0 -6.8 0M847.3 533.7a3.4 3.4 0 1 0 6.8 0a3.4 3.4 0 1 0 -6.8 0M854.1 541.8a3.4 3.4 0 1 0 6.8 0a3.4 3.4 0 1 0 -6.8 0M865.1 534.7a3.4 3.4 0 1 0 6.8 0a3.4 3.4 0 1 0 -6.8 0M914.6 539.7a3.4 3.4 0 1 0 6.8 0a3.4 3.4 0 1 0 -6.8 0M918.7 529.2a3.4 3.4 0 1 0 6.8 0a3.4 3.4 0 1 0 -6.8 0M783.1 533.6a3.4 3.4 0 1 0 6.8 0a3.4 3.4 0 1 0 -6.8 0M764.7 527.3a3.4 3.4 0 1 0 6.8 0a3.4 3.4 0 1 0 -6.8 0M803.9 547.7a3.4 3.4 0 1 0 6.8 0a3.4 3.4 0 1 0 -6.8 0M690.2 534a3.4 3.4 0 1 0 6.8 0a3.4 3.4 0 1 0 -6.8 0M735.4 525.9a3.4 3.4 0 1 0 6.8 0a3.4 3.4 0 1 0 -6.8 0M875.1 549.1a3.4 3.4 0 1 0 6.8 0a3.4 3.4 0 1 0 -6.8 0M793.6 539.5a3.4 3.4 0 1 0 6.8 0a3.4 3.4 0 1 0 -6.8 0M917.5 532.3a3.4 3.4 0 1 0 6.8 0a3.4 3.4 0 1 0 -6.8 0M934.1 532.5a3.4 3.4 0 1 0 6.8 0a3.4 3.4 0 1 0 -6.8 0M647.8 534a3.4 3.4 0 1 0 6.8 0a3.4 3.4 0 1 0 -6.8 0M828.3 524a3.4 3.4 0 1 0 6.8 0a3.4 3.4 0 1 0 -6.8 0M795.6 529.6a3.4 3.4 0 1 0 6.8 0a3.4 3.4 0 1 0 -6.8 0M747.5 543.9a3.4 3.4 0 1 0 6.8 0a3.4 3.4 0 1 0 -6.8 0M821 525.4a3.4 3.4 0 1 0 6.8 0a3.4 3.4 0 1 0 -6.8 0M927.4 542.6a3.4 3.4 0 1 0 6.8 0a3.4 3.4 0 1 0 -6.8 0M796.9 532.8a3.4 3.4 0 1 0 6.8 0a3.4 3.4 0 1 0 -6.8 0M791.6 527.5a3.4 3.4 0 1 0 6.8 0a3.4 3.4 0 1 0 -6.8 0M822 526.3a3.4 3.4 0 1 0 6.8 0a3.4 3.4 0 1 0 -6.8 0M806.2 579.9a3.4 3.4 0 1 0 6.8 0a3.4 3.4 0 1 0 -6.8 0M801.1 532a3.4 3.4 0 1 0 6.8 0a3.4 3.4 0 1 0 -6.8 0M944.7 533.1a3.4 3.4 0 1 0 6.8 0a3.4 3.4 0 1 0 -6.8 0M720.4 535.9a3.4 3.4 0 1 0 6.8 0a3.4 3.4 0 1 0 -6.8 0M716.9 523.8a3.4 3.4 0 1 0 6.8 0a3.4 3.4 0 1 0 -6.8 0M733.2 535.6a3.4 3.4 0 1 0 6.8 0a3.4 3.4 0 1 0 -6.8 0M794.1 539.1a3.4 3.4 0 1 0 6.8 0a3.4 3.4 0 1 0 -6.8 0M687.4 528.9a3.4 3.4 0 1 0 6.8 0a3.4 3.4 0 1 0 -6.8 0M804.2 545.7a3.4 3.4 0 1 0 6.8 0a3.4 3.4 0 1 0 -6.8 0M690.9 531.6a3.4 3.4 0 1 0 6.8 0a3.4 3.4 0 1 0 -6.8 0M849.8 538.8a3.4 3.4 0 1 0 6.8 0a3.4 3.4 0 1 0 -6.8 0M794.8 528.6a3.4 3.4 0 1 0 6.8 0a3.4 3.4 0 1 0 -6.8 0M705.4 534.1a3.4 3.4 0 1 0 6.8 0a3.4 3.4 0 1 0 -6.8 0M934.5 541.8a3.4 3.4 0 1 0 6.8 0a3.4 3.4 0 1 0 -6.8 0M903.4 541.5a3.4 3.4 0 1 0 6.8 0a3.4 3.4 0 1 0 -6.8 0M747.4 533.4a3.4 3.4 0 1 0 6.8 0a3.4 3.4 0 1 0 -6.8 0M880.5 521.8a3.4 3.4 0 1 0 6.8 0a3.4 3.4 0 1 0 -6.8 0M766.8 532.9a3.4 3.4 0 1 0 6.8 0a3.4 3.4 0 1 0 -6.8 0M793.2 539.5a3.4 3.4 0 1 0 6.8 0a3.4 3.4 0 1 0 -6.8 0M926.1 527a3.4 3.4 0 1 0 6.8 0a3.4 3.4 0 1 0 -6.8 0M817.5 538.6a3.4 3.4 0 1 0 6.8 0a3.4 3.4 0 1 0 -6.8 0M800 529.7a3.4 3.4 0 1 0 6.8 0a3.4 3.4 0 1 0 -6.8 0M799.4 544.9a3.4 3.4 0 1 0 6.8 0a3.4 3.4 0 1 0 -6.8 0M745.2 536.1a3.4 3.4 0 1 0 6.8 0a3.4 3.4 0 1 0 -6.8 0M823 537.6a3.4 3.4 0 1 0 6.8 0a3.4 3.4 0 1 0 -6.8 0M734 534.4a3.4 3.4 0 1 0 6.8 0a3.4 3.4 0 1 0 -6.8 0M841.9 529a3.4 3.4 0 1 0 6.8 0a3.4 3.4 0 1 0 -6.8 0M771.8 532.3a3.4 3.4 0 1 0 6.8 0a3.4 3.4 0 1 0 -6.8 0M846.8 546.3a3.4 3.4 0 1 0 6.8 0a3.4 3.4 0 1 0 -6.8 0M879.9 538.8a3.4 3.4 0 1 0 6.8 0a3.4 3.4 0 1 0 -6.8 0M770.2 529.4a3.4 3.4 0 1 0 6.8 0a3.4 3.4 0 1 0 -6.8 0M770.7 535.4a3.4 3.4 0 1 0 6.8 0a3.4 3.4 0 1 0 -6.8 0M809.4 538.4a3.4 3.4 0 1 0 6.8 0a3.4 3.4 0 1 0 -6.8 0M731.4 547a3.4 3.4 0 1 0 6.8 0a3.4 3.4 0 1 0 -6.8 0M830.6 545.9a3.4 3.4 0 1 0 6.8 0a3.4 3.4 0 1 0 -6.8 0M840.3 523a3.4 3.4 0 1 0 6.8 0a3.4 3.4 0 1 0 -6.8 0M973.9 545.1a3.4 3.4 0 1 0 6.8 0a3.4 3.4 0 1 0 -6.8 0M789.2 556.9a3.4 3.4 0 1 0 6.8 0a3.4 3.4 0 1 0 -6.8 0M906.3 551.1a3.4 3.4 0 1 0 6.8 0a3.4 3.4 0 1 0 -6.8 0M800.2 538.4a3.4 3.4 0 1 0 6.8 0a3.4 3.4 0 1 0 -6.8 0M869.5 553a3.4 3.4 0 1 0 6.8 0a3.4 3.4 0 1 0 -6.8 0M811 560a3.4 3.4 0 1 0 6.8 0a3.4 3.4 0 1 0 -6.8 0M760 527.7a3.4 3.4 0 1 0 6.8 0a3.4 3.4 0 1 0 -6.8 0M800.3 542.9a3.4 3.4 0 1 0 6.8 0a3.4 3.4 0 1 0 -6.8 0M902.5 531.6a3.4 3.4 0 1 0 6.8 0a3.4 3.4 0 1 0 -6.8 0M844.7 524.8a3.4 3.4 0 1 0 6.8 0a3.4 3.4 0 1 0 -6.8 0M793 553.5a3.4 3.4 0 1 0 6.8 0a3.4 3.4 0 1 0 -6.8 0M749 525.7a3.4 3.4 0 1 0 6.8 0a3.4 3.4 0 1 0 -6.8 0M670.8 532.7a3.4 3.4 0 1 0 6.8 0a3.4 3.4 0 1 0 -6.8 0M731.5 546.5a3.4 3.4 0 1 0 6.8 0a3.4 3.4 0 1 0 -6.8 0M950.1 528.3a3.4 3.4 0 1 0 6.8 0a3.4 3.4 0 1 0 -6.8 0M735 548.9a3.4 3.4 0 1 0 6.8 0a3.4 3.4 0 1 0 -6.8 0M838.8 539.4a3.4 3.4 0 1 0 6.8 0a3.4 3.4 0 1 0 -6.8 0M903.5 525.6a3.4 3.4 0 1 0 6.8 0a3.4 3.4 0 1 0 -6.8 0M709.1 532.1a3.4 3.4 0 1 0 6.8 0a3.4 3.4 0 1 0 -6.8 0M901.9 535a3.4 3.4 0 1 0 6.8 0a3.4 3.4 0 1 0 -6.8 0M743 528.3a3.4 3.4 0 1 0 6.8 0a3.4 3.4 0 1 0 -6.8 0M812.8 537.2a3.4 3.4 0 1 0 6.8 0a3.4 3.4 0 1 0 -6.8 0M905.2 527.5a3.4 3.4 0 1 0 6.8 0a3.4 3.4 0 1 0 -6.8 0M622.3 529.4a3.4 3.4 0 1 0 6.8 0a3.4 3.4 0 1 0 -6.8 0M814.6 545.5a3.4 3.4 0 1 0 6.8 0a3.4 3.4 0 1 0 -6.8 0M747.6 529.2a3.4 3.4 0 1 0 6.8 0a3.4 3.4 0 1 0 -6.8 0M695.4 538.2a3.4 3.4 0 1 0 6.8 0a3.4 3.4 0 1 0 -6.8 0M828.1 534.3a3.4 3.4 0 1 0 6.8 0a3.4 3.4 0 1 0 -6.8 0M824.3 541.6a3.4 3.4 0 1 0 6.8 0a3.4 3.4 0 1 0 -6.8 0M712 530.6a3.4 3.4 0 1 0 6.8 0a3.4 3.4 0 1 0 -6.8 0M956.1 530.1a3.4 3.4 0 1 0 6.8 0a3.4 3.4 0 1 0 -6.8 0M738.1 534a3.4 3.4 0 1 0 6.8 0a3.4 3.4 0 1 0 -6.8 0M824.6 539.4a3.4 3.4 0 1 0 6.8 0a3.4 3.4 0 1 0 -6.8 0M731 547.2a3.4 3.4 0 1 0 6.8 0a3.4 3.4 0 1 0 -6.8 0M911.1 540.4a3.4 3.4 0 1 0 6.8 0a3.4 3.4 0 1 0 -6.8 0M909.7 575.8a3.4 3.4 0 1 0 6.8 0a3.4 3.4 0 1 0 -6.8 0M673.5 531a3.4 3.4 0 1 0 6.8 0a3.4 3.4 0 1 0 -6.8 0M893.4 535.8a3.4 3.4 0 1 0 6.8 0a3.4 3.4 0 1 0 -6.8 0M958 530.6a3.4 3.4 0 1 0 6.8 0a3.4 3.4 0 1 0 -6.8 0M866.1 536.6a3.4 3.4 0 1 0 6.8 0a3.4 3.4 0 1 0 -6.8 0M859.3 543.6a3.4 3.4 0 1 0 6.8 0a3.4 3.4 0 1 0 -6.8 0M947.3 533.9a3.4 3.4 0 1 0 6.8 0a3.4 3.4 0 1 0 -6.8 0M682.8 530.3a3.4 3.4 0 1 0 6.8 0a3.4 3.4 0 1 0 -6.8 0M806.7 542.6a3.4 3.4 0 1 0 6.8 0a3.4 3.4 0 1 0 -6.8 0M848.9 534.1a3.4 3.4 0 1 0 6.8 0a3.4 3.4 0 1 0 -6.8 0M933.6 530.3a3.4 3.4 0 1 0 6.8 0a3.4 3.4 0 1 0 -6.8 0M941.1 532.5a3.4 3.4 0 1 0 6.8 0a3.4 3.4 0 1 0 -6.8 0M684.4 530.3a3.4 3.4 0 1 0 6.8 0a3.4 3.4 0 1 0 -6.8 0M915.6 527a3.4 3.4 0 1 0 6.8 0a3.4 3.4 0 1 0 -6.8 0M820.9 526.6a3.4 3.4 0 1 0 6.8 0a3.4 3.4 0 1 0 -6.8 0M645.5 528.8a3.4 3.4 0 1 0 6.8 0a3.4 3.4 0 1 0 -6.8 0M794 541.1a3.4 3.4 0 1 0 6.8 0a3.4 3.4 0 1 0 -6.8 0M844.7 551.3a3.4 3.4 0 1 0 6.8 0a3.4 3.4 0 1 0 -6.8 0M717.6 528.4a3.4 3.4 0 1 0 6.8 0a3.4 3.4 0 1 0 -6.8 0M814.2 542.4a3.4 3.4 0 1 0 6.8 0a3.4 3.4 0 1 0 -6.8 0M913.4 536.8a3.4 3.4 0 1 0 6.8 0a3.4 3.4 0 1 0 -6.8 0M746.7 534.7a3.4 3.4 0 1 0 6.8 0a3.4 3.4 0 1 0 -6.8 0M811.7 542.3a3.4 3.4 0 1 0 6.8 0a3.4 3.4 0 1 0 -6.8 0M697.7 538.2a3.4 3.4 0 1 0 6.8 0a3.4 3.4 0 1 0 -6.8 0M703.5 539.1a3.4 3.4 0 1 0 6.8 0a3.4 3.4 0 1 0 -6.8 0M857.7 546a3.4 3.4 0 1 0 6.8 0a3.4 3.4 0 1 0 -6.8 0M726.4 534.4a3.4 3.4 0 1 0 6.8 0a3.4 3.4 0 1 0 -6.8 0M661.7 530.1a3.4 3.4 0 1 0 6.8 0a3.4 3.4 0 1 0 -6.8 0M809.8 544.8a3.4 3.4 0 1 0 6.8 0a3.4 3.4 0 1 0 -6.8 0M812.9 533.2a3.4 3.4 0 1 0 6.8 0a3.4 3.4 0 1 0 -6.8 0M794.6 525.1a3.4 3.4 0 1 0 6.8 0a3.4 3.4 0 1 0 -6.8 0M846 547.3a3.4 3.4 0 1 0 6.8 0a3.4 3.4 0 1 0 -6.8 0M833.2 543.8a3.4 3.4 0 1 0 6.8 0a3.4 3.4 0 1 0 -6.8 0M908.3 530.6a3.4 3.4 0 1 0 6.8 0a3.4 3.4 0 1 0 -6.8 0M864.2 536.4a3.4 3.4 0 1 0 6.8 0a3.4 3.4 0 1 0 -6.8 0M830.8 539.5a3.4 3.4 0 1 0 6.8 0a3.4 3.4 0 1 0 -6.8 0M696.3 541.5a3.4 3.4 0 1 0 6.8 0a3.4 3.4 0 1 0 -6.8 0M807.4 528.5a3.4 3.4 0 1 0 6.8 0a3.4 3.4 0 1 0 -6.8 0M868.2 533.4a3.4 3.4 0 1 0 6.8 0a3.4 3.4 0 1 0 -6.8 0M869.2 542.2a3.4 3.4 0 1 0 6.8 0a3.4 3.4 0 1 0 -6.8 0M948.9 551.2a3.4 3.4 0 1 0 6.8 0a3.4 3.4 0 1 0 -6.8 0M806.6 535a3.4 3.4 0 1 0 6.8 0a3.4 3.4 0 1 0 -6.8 0M718.7 519.7a3.4 3.4 0 1 0 6.8 0a3.4 3.4 0 1 0 -6.8 0M777.7 551a3.4 3.4 0 1 0 6.8 0a3.4 3.4 0 1 0 -6.8 0M914.5 543.1a3.4 3.4 0 1 0 6.8 0a3.4 3.4 0 1 0 -6.8 0M705.3 527.5a3.4 3.4 0 1 0 6.8 0a3.4 3.4 0 1 0 -6.8 0M823.5 536.5a3.4 3.4 0 1 0 6.8 0a3.4 3.4 0 1 0 -6.8 0M896.6 556a3.4 3.4 0 1 0 6.8 0a3.4 3.4 0 1 0 -6.8 0M662.4 528.1a3.4 3.4 0 1 0 6.8 0a3.4 3.4 0 1 0 -6.8 0M642.2 530.2a3.4 3.4 0 1 0 6.8 0a3.4 3.4 0 1 0 -6.8 0M757.5 534.1a3.4 3.4 0 1 0 6.8 0a3.4 3.4 0 1 0 -6.8 0M905.7 541.9a3.4 3.4 0 1 0 6.8 0a3.4 3.4 0 1 0 -6.8 0M824.9 533.6a3.4 3.4 0 1 0 6.8 0a3.4 3.4 0 1 0 -6.8 0M674.5 535.7a3.4 3.4 0 1 0 6.8 0a3.4 3.4 0 1 0 -6.8 0M915.3 553.6a3.4 3.4 0 1 0 6.8 0a3.4 3.4 0 1 0 -6.8 0M751.6 522.5a3.4 3.4 0 1 0 6.8 0a3.4 3.4 0 1 0 -6.8 0M779.6 530.1a3.4 3.4 0 1 0 6.8 0a3.4 3.4 0 1 0 -6.8 0M853.5 526.3a3.4 3.4 0 1 0 6.8 0a3.4 3.4 0 1 0 -6.8 0M633.6 536.5a3.4 3.4 0 1 0 6.8 0a3.4 3.4 0 1 0 -6.8 0M923.5 539.1a3.4 3.4 0 1 0 6.8 0a3.4 3.4 0 1 0 -6.8 0M758.6 523.4a3.4 3.4 0 1 0 6.8 0a3.4 3.4 0 1 0 -6.8 0M713.3 540a3.4 3.4 0 1 0 6.8 0a3.4 3.4 0 1 0 -6.8 0M922.6 531.5a3.4 3.4 0 1 0 6.8 0a3.4 3.4 0 1 0 -6.8 0M816.2 535.3a3.4 3.4 0 1 0 6.8 0a3.4 3.4 0 1 0 -6.8 0M794.3 539.7a3.4 3.4 0 1 0 6.8 0a3.4 3.4 0 1 0 -6.8 0M787.4 531.1a3.4 3.4 0 1 0 6.8 0a3.4 3.4 0 1 0 -6.8 0M749.9 534.2a3.4 3.4 0 1 0 6.8 0a3.4 3.4 0 1 0 -6.8 0M797.5 535a3.4 3.4 0 1 0 6.8 0a3.4 3.4 0 1 0 -6.8 0M865.8 534.1a3.4 3.4 0 1 0 6.8 0a3.4 3.4 0 1 0 -6.8 0M904 531.7a3.4 3.4 0 1 0 6.8 0a3.4 3.4 0 1 0 -6.8 0M769.9 531.5a3.4 3.4 0 1 0 6.8 0a3.4 3.4 0 1 0 -6.8 0M715.2 556.7a3.4 3.4 0 1 0 6.8 0a3.4 3.4 0 1 0 -6.8 0M780 531.9a3.4 3.4 0 1 0 6.8 0a3.4 3.4 0 1 0 -6.8 0M934.2 531.2a3.4 3.4 0 1 0 6.8 0a3.4 3.4 0 1 0 -6.8 0M849.9 531.2a3.4 3.4 0 1 0 6.8 0a3.4 3.4 0 1 0 -6.8 0M795.1 541.3a3.4 3.4 0 1 0 6.8 0a3.4 3.4 0 1 0 -6.8 0M834.8 540.2a3.4 3.4 0 1 0 6.8 0a3.4 3.4 0 1 0 -6.8 0M848.4 530.4a3.4 3.4 0 1 0 6.8 0a3.4 3.4 0 1 0 -6.8 0M815.4 532.2a3.4 3.4 0 1 0 6.8 0a3.4 3.4 0 1 0 -6.8 0M831.3 521.4a3.4 3.4 0 1 0 6.8 0a3.4 3.4 0 1 0 -6.8 0M824.2 532a3.4 3.4 0 1 0 6.8 0a3.4 3.4 0 1 0 -6.8 0M838.2 537.9a3.4 3.4 0 1 0 6.8 0a3.4 3.4 0 1 0 -6.8 0M875.9 545.6a3.4 3.4 0 1 0 6.8 0a3.4 3.4 0 1 0 -6.8 0M796.4 539.7a3.4 3.4 0 1 0 6.8 0a3.4 3.4 0 1 0 -6.8 0M662.1 531.9a3.4 3.4 0 1 0 6.8 0a3.4 3.4 0 1 0 -6.8 0M793.9 565.4a3.4 3.4 0 1 0 6.8 0a3.4 3.4 0 1 0 -6.8 0M635.2 533.6a3.4 3.4 0 1 0 6.8 0a3.4 3.4 0 1 0 -6.8 0M638.6 528.3a3.4 3.4 0 1 0 6.8 0a3.4 3.4 0 1 0 -6.8 0M873.1 534.1a3.4 3.4 0 1 0 6.8 0a3.4 3.4 0 1 0 -6.8 0M855.7 537.7a3.4 3.4 0 1 0 6.8 0a3.4 3.4 0 1 0 -6.8 0M760.1 522.9a3.4 3.4 0 1 0 6.8 0a3.4 3.4 0 1 0 -6.8 0M913.1 569.5a3.4 3.4 0 1 0 6.8 0a3.4 3.4 0 1 0 -6.8 0M922.2 530.8a3.4 3.4 0 1 0 6.8 0a3.4 3.4 0 1 0 -6.8 0M780.7 553.1a3.4 3.4 0 1 0 6.8 0a3.4 3.4 0 1 0 -6.8 0M762.9 551.6a3.4 3.4 0 1 0 6.8 0a3.4 3.4 0 1 0 -6.8 0M750.7 533.6a3.4 3.4 0 1 0 6.8 0a3.4 3.4 0 1 0 -6.8 0M727.4 529.8a3.4 3.4 0 1 0 6.8 0a3.4 3.4 0 1 0 -6.8 0M623.5 532.3a3.4 3.4 0 1 0 6.8 0a3.4 3.4 0 1 0 -6.8 0M813.6 534.6a3.4 3.4 0 1 0 6.8 0a3.4 3.4 0 1 0 -6.8 0M769.4 543a3.4 3.4 0 1 0 6.8 0a3.4 3.4 0 1 0 -6.8 0M969.6 552.1a3.4 3.4 0 1 0 6.8 0a3.4 3.4 0 1 0 -6.8 0M673.4 529a3.4 3.4 0 1 0 6.8 0a3.4 3.4 0 1 0 -6.8 0M849.4 527.5a3.4 3.4 0 1 0 6.8 0a3.4 3.4 0 1 0 -6.8 0M744.4 519.3a3.4 3.4 0 1 0 6.8 0a3.4 3.4 0 1 0 -6.8 0M656.9 528.7a3.4 3.4 0 1 0 6.8 0a3.4 3.4 0 1 0 -6.8 0M772.9 523.5a3.4 3.4 0 1 0 6.8 0a3.4 3.4 0 1 0 -6.8 0M641.7 535.7a3.4 3.4 0 1 0 6.8 0a3.4 3.4 0 1 0 -6.8 0M791.4 543a3.4 3.4 0 1 0 6.8 0a3.4 3.4 0 1 0 -6.8 0M798.4 554a3.4 3.4 0 1 0 6.8 0a3.4 3.4 0 1 0 -6.8 0M753.2 543.9a3.4 3.4 0 1 0 6.8 0a3.4 3.4 0 1 0 -6.8 0M694.1 531.2a3.4 3.4 0 1 0 6.8 0a3.4 3.4 0 1 0 -6.8 0M917.6 546.7a3.4 3.4 0 1 0 6.8 0a3.4 3.4 0 1 0 -6.8 0M792.3 540.8a3.4 3.4 0 1 0 6.8 0a3.4 3.4 0 1 0 -6.8 0M705.6 532.9a3.4 3.4 0 1 0 6.8 0a3.4 3.4 0 1 0 -6.8 0M783.9 532.2a3.4 3.4 0 1 0 6.8 0a3.4 3.4 0 1 0 -6.8 0M829.1 529.5a3.4 3.4 0 1 0 6.8 0a3.4 3.4 0 1 0 -6.8 0M799.9 532.9a3.4 3.4 0 1 0 6.8 0a3.4 3.4 0 1 0 -6.8 0M805.7 538a3.4 3.4 0 1 0 6.8 0a3.4 3.4 0 1 0 -6.8 0M850.7 526.9a3.4 3.4 0 1 0 6.8 0a3.4 3.4 0 1 0 -6.8 0M850.9 533.8a3.4 3.4 0 1 0 6.8 0a3.4 3.4 0 1 0 -6.8 0M710.8 531.9a3.4 3.4 0 1 0 6.8 0a3.4 3.4 0 1 0 -6.8 0M895.5 539.8a3.4 3.4 0 1 0 6.8 0a3.4 3.4 0 1 0 -6.8 0M702.9 530a3.4 3.4 0 1 0 6.8 0a3.4 3.4 0 1 0 -6.8 0M771.2 558.4a3.4 3.4 0 1 0 6.8 0a3.4 3.4 0 1 0 -6.8 0M705.2 545.4a3.4 3.4 0 1 0 6.8 0a3.4 3.4 0 1 0 -6.8 0M712.3 524a3.4 3.4 0 1 0 6.8 0a3.4 3.4 0 1 0 -6.8 0M856.7 534.7a3.4 3.4 0 1 0 6.8 0a3.4 3.4 0 1 0 -6.8 0M826.7 530.6a3.4 3.4 0 1 0 6.8 0a3.4 3.4 0 1 0 -6.8 0M734.4 537.2a3.4 3.4 0 1 0 6.8 0a3.4 3.4 0 1 0 -6.8 0M691.4 540.4a3.4 3.4 0 1 0 6.8 0a3.4 3.4 0 1 0 -6.8 0M753.9 533a3.4 3.4 0 1 0 6.8 0a3.4 3.4 0 1 0 -6.8 0M834.8 529.8a3.4 3.4 0 1 0 6.8 0a3.4 3.4 0 1 0 -6.8 0M804.8 541.3a3.4 3.4 0 1 0 6.8 0a3.4 3.4 0 1 0 -6.8 0M740.6 529.4a3.4 3.4 0 1 0 6.8 0a3.4 3.4 0 1 0 -6.8 0M911.9 531.8a3.4 3.4 0 1 0 6.8 0a3.4 3.4 0 1 0 -6.8 0M785.9 531.6a3.4 3.4 0 1 0 6.8 0a3.4 3.4 0 1 0 -6.8 0M852.7 529.1a3.4 3.4 0 1 0 6.8 0a3.4 3.4 0 1 0 -6.8 0M802.4 539.5a3.4 3.4 0 1 0 6.8 0a3.4 3.4 0 1 0 -6.8 0M777.9 549.7a3.4 3.4 0 1 0 6.8 0a3.4 3.4 0 1 0 -6.8 0M757.8 522.4a3.4 3.4 0 1 0 6.8 0a3.4 3.4 0 1 0 -6.8 0M725.3 560.4a3.4 3.4 0 1 0 6.8 0a3.4 3.4 0 1 0 -6.8 0M782.2 530.4a3.4 3.4 0 1 0 6.8 0a3.4 3.4 0 1 0 -6.8 0M829 541.8a3.4 3.4 0 1 0 6.8 0a3.4 3.4 0 1 0 -6.8 0M757.3 538a3.4 3.4 0 1 0 6.8 0a3.4 3.4 0 1 0 -6.8 0M917.1 544.6a3.4 3.4 0 1 0 6.8 0a3.4 3.4 0 1 0 -6.8 0M816.2 526.9a3.4 3.4 0 1 0 6.8 0a3.4 3.4 0 1 0 -6.8 0M939.5 534.1a3.4 3.4 0 1 0 6.8 0a3.4 3.4 0 1 0 -6.8 0M963.4 540.1a3.4 3.4 0 1 0 6.8 0a3.4 3.4 0 1 0 -6.8 0M916.3 512.4a3.4 3.4 0 1 0 6.8 0a3.4 3.4 0 1 0 -6.8 0M835.7 529.4a3.4 3.4 0 1 0 6.8 0a3.4 3.4 0 1 0 -6.8 0M746.3 523.5a3.4 3.4 0 1 0 6.8 0a3.4 3.4 0 1 0 -6.8 0M932.7 551.5a3.4 3.4 0 1 0 6.8 0a3.4 3.4 0 1 0 -6.8 0M712.4 525.5a3.4 3.4 0 1 0 6.8 0a3.4 3.4 0 1 0 -6.8 0M908.3 545.7a3.4 3.4 0 1 0 6.8 0a3.4 3.4 0 1 0 -6.8 0M812.8 551.3a3.4 3.4 0 1 0 6.8 0a3.4 3.4 0 1 0 -6.8 0M762.3 542a3.4 3.4 0 1 0 6.8 0a3.4 3.4 0 1 0 -6.8 0M681.3 534.7a3.4 3.4 0 1 0 6.8 0a3.4 3.4 0 1 0 -6.8 0M875.3 540.8a3.4 3.4 0 1 0 6.8 0a3.4 3.4 0 1 0 -6.8 0M888 544.5a3.4 3.4 0 1 0 6.8 0a3.4 3.4 0 1 0 -6.8 0M787.9 522.9a3.4 3.4 0 1 0 6.8 0a3.4 3.4 0 1 0 -6.8 0M922.3 528.5a3.4 3.4 0 1 0 6.8 0a3.4 3.4 0 1 0 -6.8 0M700.7 554.4a3.4 3.4 0 1 0 6.8 0a3.4 3.4 0 1 0 -6.8 0M942.6 537.7a3.4 3.4 0 1 0 6.8 0a3.4 3.4 0 1 0 -6.8 0M790.4 539a3.4 3.4 0 1 0 6.8 0a3.4 3.4 0 1 0 -6.8 0M783.9 512.5a3.4 3.4 0 1 0 6.8 0a3.4 3.4 0 1 0 -6.8 0M833.4 544.3a3.4 3.4 0 1 0 6.8 0a3.4 3.4 0 1 0 -6.8 0M921.4 550a3.4 3.4 0 1 0 6.8 0a3.4 3.4 0 1 0 -6.8 0M850.4 534.7a3.4 3.4 0 1 0 6.8 0a3.4 3.4 0 1 0 -6.8 0M688 529.1a3.4 3.4 0 1 0 6.8 0a3.4 3.4 0 1 0 -6.8 0M810 533.1a3.4 3.4 0 1 0 6.8 0a3.4 3.4 0 1 0 -6.8 0M859.2 529.4a3.4 3.4 0 1 0 6.8 0a3.4 3.4 0 1 0 -6.8 0M862.8 533.4a3.4 3.4 0 1 0 6.8 0a3.4 3.4 0 1 0 -6.8 0M836.6 541.4a3.4 3.4 0 1 0 6.8 0a3.4 3.4 0 1 0 -6.8 0M804.5 536.8a3.4 3.4 0 1 0 6.8 0a3.4 3.4 0 1 0 -6.8 0M745.7 529.8a3.4 3.4 0 1 0 6.8 0a3.4 3.4 0 1 0 -6.8 0M977.4 528.2a3.4 3.4 0 1 0 6.8 0a3.4 3.4 0 1 0 -6.8 0M911.1 528.5a3.4 3.4 0 1 0 6.8 0a3.4 3.4 0 1 0 -6.8 0M761.9 547.4a3.4 3.4 0 1 0 6.8 0a3.4 3.4 0 1 0 -6.8 0M923.3 535.5a3.4 3.4 0 1 0 6.8 0a3.4 3.4 0 1 0 -6.8 0M622.3 530.4a3.4 3.4 0 1 0 6.8 0a3.4 3.4 0 1 0 -6.8 0M805.1 531a3.4 3.4 0 1 0 6.8 0a3.4 3.4 0 1 0 -6.8 0M722.2 534.1a3.4 3.4 0 1 0 6.8 0a3.4 3.4 0 1 0 -6.8 0M884.1 529.6a3.4 3.4 0 1 0 6.8 0a3.4 3.4 0 1 0 -6.8 0M784.4 516.1a3.4 3.4 0 1 0 6.8 0a3.4 3.4 0 1 0 -6.8 0M736.5 554a3.4 3.4 0 1 0 6.8 0a3.4 3.4 0 1 0 -6.8 0M757.9 530.3a3.4 3.4 0 1 0 6.8 0a3.4 3.4 0 1 0 -6.8 0M791.1 529.6a3.4 3.4 0 1 0 6.8 0a3.4 3.4 0 1 0 -6.8 0M853 510.9a3.4 3.4 0 1 0 6.8 0a3.4 3.4 0 1 0 -6.8 0M687.6 530.1a3.4 3.4 0 1 0 6.8 0a3.4 3.4 0 1 0 -6.8 0M815.1 538.5a3.4 3.4 0 1 0 6.8 0a3.4 3.4 0 1 0 -6.8 0M692.3 544a3.4 3.4 0 1 0 6.8 0a3.4 3.4 0 1 0 -6.8 0M845.4 535.8a3.4 3.4 0 1 0 6.8 0a3.4 3.4 0 1 0 -6.8 0M959.2 543a3.4 3.4 0 1 0 6.8 0a3.4 3.4 0 1 0 -6.8 0M853.8 535a3.4 3.4 0 1 0 6.8 0a3.4 3.4 0 1 0 -6.8 0M849.7 541.7a3.4 3.4 0 1 0 6.8 0a3.4 3.4 0 1 0 -6.8 0M793.2 538.9a3.4 3.4 0 1 0 6.8 0a3.4 3.4 0 1 0 -6.8 0M815.6 528.9a3.4 3.4 0 1 0 6.8 0a3.4 3.4 0 1 0 -6.8 0M901.2 517.7a3.4 3.4 0 1 0 6.8 0a3.4 3.4 0 1 0 -6.8 0M705 530.2a3.4 3.4 0 1 0 6.8 0a3.4 3.4 0 1 0 -6.8 0M866.2 533.2a3.4 3.4 0 1 0 6.8 0a3.4 3.4 0 1 0 -6.8 0M781.4 539.5a3.4 3.4 0 1 0 6.8 0a3.4 3.4 0 1 0 -6.8 0M691.1 534.8a3.4 3.4 0 1 0 6.8 0a3.4 3.4 0 1 0 -6.8 0M790.4 534.4a3.4 3.4 0 1 0 6.8 0a3.4 3.4 0 1 0 -6.8 0M778.3 538a3.4 3.4 0 1 0 6.8 0a3.4 3.4 0 1 0 -6.8 0M692 532.3a3.4 3.4 0 1 0 6.8 0a3.4 3.4 0 1 0 -6.8 0M931.7 534.8a3.4 3.4 0 1 0 6.8 0a3.4 3.4 0 1 0 -6.8 0M722.9 535.6a3.4 3.4 0 1 0 6.8 0a3.4 3.4 0 1 0 -6.8 0M826.3 532.6a3.4 3.4 0 1 0 6.8 0a3.4 3.4 0 1 0 -6.8 0M834.2 554.4a3.4 3.4 0 1 0 6.8 0a3.4 3.4 0 1 0 -6.8 0M930.8 545a3.4 3.4 0 1 0 6.8 0a3.4 3.4 0 1 0 -6.8 0M750.6 522a3.4 3.4 0 1 0 6.8 0a3.4 3.4 0 1 0 -6.8 0M718 540.7a3.4 3.4 0 1 0 6.8 0a3.4 3.4 0 1 0 -6.8 0M744.7 546.7a3.4 3.4 0 1 0 6.8 0a3.4 3.4 0 1 0 -6.8 0M719.1 544.5a3.4 3.4 0 1 0 6.8 0a3.4 3.4 0 1 0 -6.8 0M673.4 531.2a3.4 3.4 0 1 0 6.8 0a3.4 3.4 0 1 0 -6.8 0M925.7 537.2a3.4 3.4 0 1 0 6.8 0a3.4 3.4 0 1 0 -6.8 0M662.8 533.8a3.4 3.4 0 1 0 6.8 0a3.4 3.4 0 1 0 -6.8 0M827.2 536.8a3.4 3.4 0 1 0 6.8 0a3.4 3.4 0 1 0 -6.8 0M807.5 529.7a3.4 3.4 0 1 0 6.8 0a3.4 3.4 0 1 0 -6.8 0M799 539.2a3.4 3.4 0 1 0 6.8 0a3.4 3.4 0 1 0 -6.8 0M833.3 531.1a3.4 3.4 0 1 0 6.8 0a3.4 3.4 0 1 0 -6.8 0M767.2 531.6a3.4 3.4 0 1 0 6.8 0a3.4 3.4 0 1 0 -6.8 0M759 551.3a3.4 3.4 0 1 0 6.8 0a3.4 3.4 0 1 0 -6.8 0M807.5 525.4a3.4 3.4 0 1 0 6.8 0a3.4 3.4 0 1 0 -6.8 0M853.2 535.6a3.4 3.4 0 1 0 6.8 0a3.4 3.4 0 1 0 -6.8 0M787 526.8a3.4 3.4 0 1 0 6.8 0a3.4 3.4 0 1 0 -6.8 0M719.6 519.4a3.4 3.4 0 1 0 6.8 0a3.4 3.4 0 1 0 -6.8 0M798.2 532.5a3.4 3.4 0 1 0 6.8 0a3.4 3.4 0 1 0 -6.8 0M816.7 528.2a3.4 3.4 0 1 0 6.8 0a3.4 3.4 0 1 0 -6.8 0M925.1 554.9a3.4 3.4 0 1 0 6.8 0a3.4 3.4 0 1 0 -6.8 0M758.1 532a3.4 3.4 0 1 0 6.8 0a3.4 3.4 0 1 0 -6.8 0M678.5 530.5a3.4 3.4 0 1 0 6.8 0a3.4 3.4 0 1 0 -6.8 0M776.5 533.9a3.4 3.4 0 1 0 6.8 0a3.4 3.4 0 1 0 -6.8 0M929.1 552.5a3.4 3.4 0 1 0 6.8 0a3.4 3.4 0 1 0 -6.8 0M748 542.5a3.4 3.4 0 1 0 6.8 0a3.4 3.4 0 1 0 -6.8 0M824.1 530.4a3.4 3.4 0 1 0 6.8 0a3.4 3.4 0 1 0 -6.8 0M786.7 532.3a3.4 3.4 0 1 0 6.8 0a3.4 3.4 0 1 0 -6.8 0M813.2 535.1a3.4 3.4 0 1 0 6.8 0a3.4 3.4 0 1 0 -6.8 0M813.3 532.4a3.4 3.4 0 1 0 6.8 0a3.4 3.4 0 1 0 -6.8 0M777.9 529.7a3.4 3.4 0 1 0 6.8 0a3.4 3.4 0 1 0 -6.8 0M908.4 528a3.4 3.4 0 1 0 6.8 0a3.4 3.4 0 1 0 -6.8 0M897.6 531.4a3.4 3.4 0 1 0 6.8 0a3.4 3.4 0 1 0 -6.8 0M869.8 544.2a3.4 3.4 0 1 0 6.8 0a3.4 3.4 0 1 0 -6.8 0M850.8 540a3.4 3.4 0 1 0 6.8 0a3.4 3.4 0 1 0 -6.8 0M779.2 539.5a3.4 3.4 0 1 0 6.8 0a3.4 3.4 0 1 0 -6.8 0M739.9 532.3a3.4 3.4 0 1 0 6.8 0a3.4 3.4 0 1 0 -6.8 0M724.6 530.1a3.4 3.4 0 1 0 6.8 0a3.4 3.4 0 1 0 -6.8 0M786.2 529.7a3.4 3.4 0 1 0 6.8 0a3.4 3.4 0 1 0 -6.8 0M727.5 552.5a3.4 3.4 0 1 0 6.8 0a3.4 3.4 0 1 0 -6.8 0M843.7 546a3.4 3.4 0 1 0 6.8 0a3.4 3.4 0 1 0 -6.8 0M775.2 546.4a3.4 3.4 0 1 0 6.8 0a3.4 3.4 0 1 0 -6.8 0M901.9 530.1a3.4 3.4 0 1 0 6.8 0a3.4 3.4 0 1 0 -6.8 0M790.9 546.9a3.4 3.4 0 1 0 6.8 0a3.4 3.4 0 1 0 -6.8 0M830.8 537a3.4 3.4 0 1 0 6.8 0a3.4 3.4 0 1 0 -6.8 0M766.8 548.3a3.4 3.4 0 1 0 6.8 0a3.4 3.4 0 1 0 -6.8 0M815.5 536.5a3.4 3.4 0 1 0 6.8 0a3.4 3.4 0 1 0 -6.8 0M942.9 533.7a3.4 3.4 0 1 0 6.8 0a3.4 3.4 0 1 0 -6.8 0M775.1 525.3a3.4 3.4 0 1 0 6.8 0a3.4 3.4 0 1 0 -6.8 0M756.1 532.2a3.4 3.4 0 1 0 6.8 0a3.4 3.4 0 1 0 -6.8 0M818.1 547.2a3.4 3.4 0 1 0 6.8 0a3.4 3.4 0 1 0 -6.8 0M866.7 528.5a3.4 3.4 0 1 0 6.8 0a3.4 3.4 0 1 0 -6.8 0M677.6 531.9a3.4 3.4 0 1 0 6.8 0a3.4 3.4 0 1 0 -6.8 0M797.7 532a3.4 3.4 0 1 0 6.8 0a3.4 3.4 0 1 0 -6.8 0M866.1 545.4a3.4 3.4 0 1 0 6.8 0a3.4 3.4 0 1 0 -6.8 0M786.8 545a3.4 3.4 0 1 0 6.8 0a3.4 3.4 0 1 0 -6.8 0M756.9 537.1a3.4 3.4 0 1 0 6.8 0a3.4 3.4 0 1 0 -6.8 0M878 537a3.4 3.4 0 1 0 6.8 0a3.4 3.4 0 1 0 -6.8 0M631.2 531.1a3.4 3.4 0 1 0 6.8 0a3.4 3.4 0 1 0 -6.8 0M758.3 528.9a3.4 3.4 0 1 0 6.8 0a3.4 3.4 0 1 0 -6.8 0M759.2 525.9a3.4 3.4 0 1 0 6.8 0a3.4 3.4 0 1 0 -6.8 0M878.7 527.7a3.4 3.4 0 1 0 6.8 0a3.4 3.4 0 1 0 -6.8 0M637.8 530a3.4 3.4 0 1 0 6.8 0a3.4 3.4 0 1 0 -6.8 0M778.3 544.6a3.4 3.4 0 1 0 6.8 0a3.4 3.4 0 1 0 -6.8 0M763.4 542.9a3.4 3.4 0 1 0 6.8 0a3.4 3.4 0 1 0 -6.8 0M797 527a3.4 3.4 0 1 0 6.8 0a3.4 3.4 0 1 0 -6.8 0M734 522.8a3.4 3.4 0 1 0 6.8 0a3.4 3.4 0 1 0 -6.8 0M726.7 530.9a3.4 3.4 0 1 0 6.8 0a3.4 3.4 0 1 0 -6.8 0M762.2 542.5a3.4 3.4 0 1 0 6.8 0a3.4 3.4 0 1 0 -6.8 0M970.3 534.1a3.4 3.4 0 1 0 6.8 0a3.4 3.4 0 1 0 -6.8 0M800.5 540.2a3.4 3.4 0 1 0 6.8 0a3.4 3.4 0 1 0 -6.8 0M763 524.5a3.4 3.4 0 1 0 6.8 0a3.4 3.4 0 1 0 -6.8 0M719.1 531a3.4 3.4 0 1 0 6.8 0a3.4 3.4 0 1 0 -6.8 0M846.2 549.6a3.4 3.4 0 1 0 6.8 0a3.4 3.4 0 1 0 -6.8 0M813.5 538.8a3.4 3.4 0 1 0 6.8 0a3.4 3.4 0 1 0 -6.8 0M911.4 526.3a3.4 3.4 0 1 0 6.8 0a3.4 3.4 0 1 0 -6.8 0M762.5 554.7a3.4 3.4 0 1 0 6.8 0a3.4 3.4 0 1 0 -6.8 0M930.1 569.5a3.4 3.4 0 1 0 6.8 0a3.4 3.4 0 1 0 -6.8 0M712.5 539.5a3.4 3.4 0 1 0 6.8 0a3.4 3.4 0 1 0 -6.8 0M733.5 539.5a3.4 3.4 0 1 0 6.8 0a3.4 3.4 0 1 0 -6.8 0M920.8 543.5a3.4 3.4 0 1 0 6.8 0a3.4 3.4 0 1 0 -6.8 0M766.2 534.3a3.4 3.4 0 1 0 6.8 0a3.4 3.4 0 1 0 -6.8 0M774.7 531.6a3.4 3.4 0 1 0 6.8 0a3.4 3.4 0 1 0 -6.8 0M839 547.2a3.4 3.4 0 1 0 6.8 0a3.4 3.4 0 1 0 -6.8 0M836.1 546.8a3.4 3.4 0 1 0 6.8 0a3.4 3.4 0 1 0 -6.8 0M860.2 545.2a3.4 3.4 0 1 0 6.8 0a3.4 3.4 0 1 0 -6.8 0M791.3 532.1a3.4 3.4 0 1 0 6.8 0a3.4 3.4 0 1 0 -6.8 0M912.5 537.1a3.4 3.4 0 1 0 6.8 0a3.4 3.4 0 1 0 -6.8 0M775.4 541a3.4 3.4 0 1 0 6.8 0a3.4 3.4 0 1 0 -6.8 0M794.8 546.5a3.4 3.4 0 1 0 6.8 0a3.4 3.4 0 1 0 -6.8 0M880.8 541.5a3.4 3.4 0 1 0 6.8 0a3.4 3.4 0 1 0 -6.8 0M801.2 535.8a3.4 3.4 0 1 0 6.8 0a3.4 3.4 0 1 0 -6.8 0M681.8 536.8a3.4 3.4 0 1 0 6.8 0a3.4 3.4 0 1 0 -6.8 0M935.2 535.2a3.4 3.4 0 1 0 6.8 0a3.4 3.4 0 1 0 -6.8 0M932.2 540.9a3.4 3.4 0 1 0 6.8 0a3.4 3.4 0 1 0 -6.8 0M803.5 519.2a3.4 3.4 0 1 0 6.8 0a3.4 3.4 0 1 0 -6.8 0M710.8 538a3.4 3.4 0 1 0 6.8 0a3.4 3.4 0 1 0 -6.8 0M762.4 549.2a3.4 3.4 0 1 0 6.8 0a3.4 3.4 0 1 0 -6.8 0M863.8 545a3.4 3.4 0 1 0 6.8 0a3.4 3.4 0 1 0 -6.8 0M756.7 535.5a3.4 3.4 0 1 0 6.8 0a3.4 3.4 0 1 0 -6.8 0M859.2 529.4a3.4 3.4 0 1 0 6.8 0a3.4 3.4 0 1 0 -6.8 0M743.6 524.4a3.4 3.4 0 1 0 6.8 0a3.4 3.4 0 1 0 -6.8 0M789.3 545.5a3.4 3.4 0 1 0 6.8 0a3.4 3.4 0 1 0 -6.8 0M913.9 541.6a3.4 3.4 0 1 0 6.8 0a3.4 3.4 0 1 0 -6.8 0M745.6 538.5a3.4 3.4 0 1 0 6.8 0a3.4 3.4 0 1 0 -6.8 0M911 524.5a3.4 3.4 0 1 0 6.8 0a3.4 3.4 0 1 0 -6.8 0M682.4 531.7a3.4 3.4 0 1 0 6.8 0a3.4 3.4 0 1 0 -6.8 0M774.8 528.5a3.4 3.4 0 1 0 6.8 0a3.4 3.4 0 1 0 -6.8 0M831.1 539.2a3.4 3.4 0 1 0 6.8 0a3.4 3.4 0 1 0 -6.8 0M889.1 527.5a3.4 3.4 0 1 0 6.8 0a3.4 3.4 0 1 0 -6.8 0M789.7 526.1a3.4 3.4 0 1 0 6.8 0a3.4 3.4 0 1 0 -6.8 0M864.4 545.3a3.4 3.4 0 1 0 6.8 0a3.4 3.4 0 1 0 -6.8 0M794.4 531.6a3.4 3.4 0 1 0 6.8 0a3.4 3.4 0 1 0 -6.8 0M964 539.5a3.4 3.4 0 1 0 6.8 0a3.4 3.4 0 1 0 -6.8 0M882.3 526a3.4 3.4 0 1 0 6.8 0a3.4 3.4 0 1 0 -6.8 0M904.5 530.2a3.4 3.4 0 1 0 6.8 0a3.4 3.4 0 1 0 -6.8 0M776.4 520.8a3.4 3.4 0 1 0 6.8 0a3.4 3.4 0 1 0 -6.8 0M668.8 534.8a3.4 3.4 0 1 0 6.8 0a3.4 3.4 0 1 0 -6.8 0M906.4 528.5a3.4 3.4 0 1 0 6.8 0a3.4 3.4 0 1 0 -6.8 0M673.9 531.9a3.4 3.4 0 1 0 6.8 0a3.4 3.4 0 1 0 -6.8 0M832.3 558.2a3.4 3.4 0 1 0 6.8 0a3.4 3.4 0 1 0 -6.8 0M752.2 537.8a3.4 3.4 0 1 0 6.8 0a3.4 3.4 0 1 0 -6.8 0M627 532.2a3.4 3.4 0 1 0 6.8 0a3.4 3.4 0 1 0 -6.8 0M881.8 541.3a3.4 3.4 0 1 0 6.8 0a3.4 3.4 0 1 0 -6.8 0M863.7 543.9a3.4 3.4 0 1 0 6.8 0a3.4 3.4 0 1 0 -6.8 0M788.5 530.7a3.4 3.4 0 1 0 6.8 0a3.4 3.4 0 1 0 -6.8 0M867.9 541.5a3.4 3.4 0 1 0 6.8 0a3.4 3.4 0 1 0 -6.8 0M857.7 538.5a3.4 3.4 0 1 0 6.8 0a3.4 3.4 0 1 0 -6.8 0M841 521.7a3.4 3.4 0 1 0 6.8 0a3.4 3.4 0 1 0 -6.8 0M781.9 544.4a3.4 3.4 0 1 0 6.8 0a3.4 3.4 0 1 0 -6.8 0M735.4 536a3.4 3.4 0 1 0 6.8 0a3.4 3.4 0 1 0 -6.8 0M782.3 521.7a3.4 3.4 0 1 0 6.8 0a3.4 3.4 0 1 0 -6.8 0M714.7 542.9a3.4 3.4 0 1 0 6.8 0a3.4 3.4 0 1 0 -6.8 0M738.3 532.3a3.4 3.4 0 1 0 6.8 0a3.4 3.4 0 1 0 -6.8 0M891.1 524.2a3.4 3.4 0 1 0 6.8 0a3.4 3.4 0 1 0 -6.8 0M916.1 533.2a3.4 3.4 0 1 0 6.8 0a3.4 3.4 0 1 0 -6.8 0M731.9 529.1a3.4 3.4 0 1 0 6.8 0a3.4 3.4 0 1 0 -6.8 0M791.8 517.8a3.4 3.4 0 1 0 6.8 0a3.4 3.4 0 1 0 -6.8 0M736 534.1a3.4 3.4 0 1 0 6.8 0a3.4 3.4 0 1 0 -6.8 0M677.4 532.4a3.4 3.4 0 1 0 6.8 0a3.4 3.4 0 1 0 -6.8 0M634.4 526.4a3.4 3.4 0 1 0 6.8 0a3.4 3.4 0 1 0 -6.8 0M649.8 536.3a3.4 3.4 0 1 0 6.8 0a3.4 3.4 0 1 0 -6.8 0M747.4 548.8a3.4 3.4 0 1 0 6.8 0a3.4 3.4 0 1 0 -6.8 0M783.4 530.5a3.4 3.4 0 1 0 6.8 0a3.4 3.4 0 1 0 -6.8 0M671.1 529.2a3.4 3.4 0 1 0 6.8 0a3.4 3.4 0 1 0 -6.8 0M714.5 533a3.4 3.4 0 1 0 6.8 0a3.4 3.4 0 1 0 -6.8 0M813.4 516.3a3.4 3.4 0 1 0 6.8 0a3.4 3.4 0 1 0 -6.8 0M728.8 544.6a3.4 3.4 0 1 0 6.8 0a3.4 3.4 0 1 0 -6.8 0M787.5 532.9a3.4 3.4 0 1 0 6.8 0a3.4 3.4 0 1 0 -6.8 0M792.1 530.4a3.4 3.4 0 1 0 6.8 0a3.4 3.4 0 1 0 -6.8 0M865.8 542.7a3.4 3.4 0 1 0 6.8 0a3.4 3.4 0 1 0 -6.8 0M728.1 536.7a3.4 3.4 0 1 0 6.8 0a3.4 3.4 0 1 0 -6.8 0M756 544.6a3.4 3.4 0 1 0 6.8 0a3.4 3.4 0 1 0 -6.8 0M849.5 547.9a3.4 3.4 0 1 0 6.8 0a3.4 3.4 0 1 0 -6.8 0M739.8 534.7a3.4 3.4 0 1 0 6.8 0a3.4 3.4 0 1 0 -6.8 0M746.7 534.9a3.4 3.4 0 1 0 6.8 0a3.4 3.4 0 1 0 -6.8 0M783.9 537.4a3.4 3.4 0 1 0 6.8 0a3.4 3.4 0 1 0 -6.8 0M715.7 528.7a3.4 3.4 0 1 0 6.8 0a3.4 3.4 0 1 0 -6.8 0M806.4 554.1a3.4 3.4 0 1 0 6.8 0a3.4 3.4 0 1 0 -6.8 0M940.9 523.7a3.4 3.4 0 1 0 6.8 0a3.4 3.4 0 1 0 -6.8 0M802.4 534.7a3.4 3.4 0 1 0 6.8 0a3.4 3.4 0 1 0 -6.8 0M888.9 525.6a3.4 3.4 0 1 0 6.8 0a3.4 3.4 0 1 0 -6.8 0M887.9 535.4a3.4 3.4 0 1 0 6.8 0a3.4 3.4 0 1 0 -6.8 0M883.3 534.9a3.4 3.4 0 1 0 6.8 0a3.4 3.4 0 1 0 -6.8 0M810 532.4a3.4 3.4 0 1 0 6.8 0a3.4 3.4 0 1 0 -6.8 0M721.6 540.4a3.4 3.4 0 1 0 6.8 0a3.4 3.4 0 1 0 -6.8 0M842.9 546.8a3.4 3.4 0 1 0 6.8 0a3.4 3.4 0 1 0 -6.8 0M858.7 529.4a3.4 3.4 0 1 0 6.8 0a3.4 3.4 0 1 0 -6.8 0M835.8 535.7a3.4 3.4 0 1 0 6.8 0a3.4 3.4 0 1 0 -6.8 0M788.3 531.7a3.4 3.4 0 1 0 6.8 0a3.4 3.4 0 1 0 -6.8 0M942.8 539.5a3.4 3.4 0 1 0 6.8 0a3.4 3.4 0 1 0 -6.8 0M673.8 529.9a3.4 3.4 0 1 0 6.8 0a3.4 3.4 0 1 0 -6.8 0M777.4 535.6a3.4 3.4 0 1 0 6.8 0a3.4 3.4 0 1 0 -6.8 0M807.1 526a3.4 3.4 0 1 0 6.8 0a3.4 3.4 0 1 0 -6.8 0M703.1 538.8a3.4 3.4 0 1 0 6.8 0a3.4 3.4 0 1 0 -6.8 0M869.8 555.1a3.4 3.4 0 1 0 6.8 0a3.4 3.4 0 1 0 -6.8 0M740.5 529.7a3.4 3.4 0 1 0 6.8 0a3.4 3.4 0 1 0 -6.8 0M971.4 531.2a3.4 3.4 0 1 0 6.8 0a3.4 3.4 0 1 0 -6.8 0M708.2 534.1a3.4 3.4 0 1 0 6.8 0a3.4 3.4 0 1 0 -6.8 0M834.5 542.6a3.4 3.4 0 1 0 6.8 0a3.4 3.4 0 1 0 -6.8 0M935.2 536a3.4 3.4 0 1 0 6.8 0a3.4 3.4 0 1 0 -6.8 0M875.8 540.6a3.4 3.4 0 1 0 6.8 0a3.4 3.4 0 1 0 -6.8 0M817.1 557.6a3.4 3.4 0 1 0 6.8 0a3.4 3.4 0 1 0 -6.8 0M685.9 531.1a3.4 3.4 0 1 0 6.8 0a3.4 3.4 0 1 0 -6.8 0M867.2 520.1a3.4 3.4 0 1 0 6.8 0a3.4 3.4 0 1 0 -6.8 0M967.1 544.4a3.4 3.4 0 1 0 6.8 0a3.4 3.4 0 1 0 -6.8 0M898.7 547.6a3.4 3.4 0 1 0 6.8 0a3.4 3.4 0 1 0 -6.8 0M839.7 527.8a3.4 3.4 0 1 0 6.8 0a3.4 3.4 0 1 0 -6.8 0M713.5 533a3.4 3.4 0 1 0 6.8 0a3.4 3.4 0 1 0 -6.8 0M646.8 527.5a3.4 3.4 0 1 0 6.8 0a3.4 3.4 0 1 0 -6.8 0M906.2 523.5a3.4 3.4 0 1 0 6.8 0a3.4 3.4 0 1 0 -6.8 0M831.4 539a3.4 3.4 0 1 0 6.8 0a3.4 3.4 0 1 0 -6.8 0M714.3 535a3.4 3.4 0 1 0 6.8 0a3.4 3.4 0 1 0 -6.8 0M824.8 535.4a3.4 3.4 0 1 0 6.8 0a3.4 3.4 0 1 0 -6.8 0M777.2 539.1a3.4 3.4 0 1 0 6.8 0a3.4 3.4 0 1 0 -6.8 0M814 546.8a3.4 3.4 0 1 0 6.8 0a3.4 3.4 0 1 0 -6.8 0M860.9 537.8a3.4 3.4 0 1 0 6.8 0a3.4 3.4 0 1 0 -6.8 0M906.8 552.1a3.4 3.4 0 1 0 6.8 0a3.4 3.4 0 1 0 -6.8 0M701.9 538.5a3.4 3.4 0 1 0 6.8 0a3.4 3.4 0 1 0 -6.8 0M902.9 546.2a3.4 3.4 0 1 0 6.8 0a3.4 3.4 0 1 0 -6.8 0M902.9 527.6a3.4 3.4 0 1 0 6.8 0a3.4 3.4 0 1 0 -6.8 0M878.4 544.9a3.4 3.4 0 1 0 6.8 0a3.4 3.4 0 1 0 -6.8 0M710.8 554.9a3.4 3.4 0 1 0 6.8 0a3.4 3.4 0 1 0 -6.8 0M803.2 566.3a3.4 3.4 0 1 0 6.8 0a3.4 3.4 0 1 0 -6.8 0M792.5 534a3.4 3.4 0 1 0 6.8 0a3.4 3.4 0 1 0 -6.8 0M650.1 531.3a3.4 3.4 0 1 0 6.8 0a3.4 3.4 0 1 0 -6.8 0M637.3 530.4a3.4 3.4 0 1 0 6.8 0a3.4 3.4 0 1 0 -6.8 0M738.7 558.9a3.4 3.4 0 1 0 6.8 0a3.4 3.4 0 1 0 -6.8 0M737.5 535a3.4 3.4 0 1 0 6.8 0a3.4 3.4 0 1 0 -6.8 0M644.7 534a3.4 3.4 0 1 0 6.8 0a3.4 3.4 0 1 0 -6.8 0M791.3 529.2a3.4 3.4 0 1 0 6.8 0a3.4 3.4 0 1 0 -6.8 0M738 523.4a3.4 3.4 0 1 0 6.8 0a3.4 3.4 0 1 0 -6.8 0M778.1 537.9a3.4 3.4 0 1 0 6.8 0a3.4 3.4 0 1 0 -6.8 0M863.9 537.7a3.4 3.4 0 1 0 6.8 0a3.4 3.4 0 1 0 -6.8 0M762.5 533a3.4 3.4 0 1 0 6.8 0a3.4 3.4 0 1 0 -6.8 0M955.6 543.4a3.4 3.4 0 1 0 6.8 0a3.4 3.4 0 1 0 -6.8 0M812.3 530a3.4 3.4 0 1 0 6.8 0a3.4 3.4 0 1 0 -6.8 0M917.9 554.4a3.4 3.4 0 1 0 6.8 0a3.4 3.4 0 1 0 -6.8 0M680.4 528.8a3.4 3.4 0 1 0 6.8 0a3.4 3.4 0 1 0 -6.8 0M798.7 533.2a3.4 3.4 0 1 0 6.8 0a3.4 3.4 0 1 0 -6.8 0M857 555.5a3.4 3.4 0 1 0 6.8 0a3.4 3.4 0 1 0 -6.8 0M852.9 534.2a3.4 3.4 0 1 0 6.8 0a3.4 3.4 0 1 0 -6.8 0M828.1 530.8a3.4 3.4 0 1 0 6.8 0a3.4 3.4 0 1 0 -6.8 0M749.8 529.1a3.4 3.4 0 1 0 6.8 0a3.4 3.4 0 1 0 -6.8 0M831.5 548.7a3.4 3.4 0 1 0 6.8 0a3.4 3.4 0 1 0 -6.8 0M843.2 527a3.4 3.4 0 1 0 6.8 0a3.4 3.4 0 1 0 -6.8 0M805.6 540.3a3.4 3.4 0 1 0 6.8 0a3.4 3.4 0 1 0 -6.8 0M768.9 535.9a3.4 3.4 0 1 0 6.8 0a3.4 3.4 0 1 0 -6.8 0M880.4 535.2a3.4 3.4 0 1 0 6.8 0a3.4 3.4 0 1 0 -6.8 0M723.7 530.2a3.4 3.4 0 1 0 6.8 0a3.4 3.4 0 1 0 -6.8 0M970.2 544a3.4 3.4 0 1 0 6.8 0a3.4 3.4 0 1 0 -6.8 0M826 535.9a3.4 3.4 0 1 0 6.8 0a3.4 3.4 0 1 0 -6.8 0M833.6 525.4a3.4 3.4 0 1 0 6.8 0a3.4 3.4 0 1 0 -6.8 0M913.9 540.8a3.4 3.4 0 1 0 6.8 0a3.4 3.4 0 1 0 -6.8 0M763.6 564.3a3.4 3.4 0 1 0 6.8 0a3.4 3.4 0 1 0 -6.8 0M807.6 538.8a3.4 3.4 0 1 0 6.8 0a3.4 3.4 0 1 0 -6.8 0M727.7 549a3.4 3.4 0 1 0 6.8 0a3.4 3.4 0 1 0 -6.8 0M744.8 529.1a3.4 3.4 0 1 0 6.8 0a3.4 3.4 0 1 0 -6.8 0M862.1 547.1a3.4 3.4 0 1 0 6.8 0a3.4 3.4 0 1 0 -6.8 0M818.1 535.6a3.4 3.4 0 1 0 6.8 0a3.4 3.4 0 1 0 -6.8 0M904.9 541.8a3.4 3.4 0 1 0 6.8 0a3.4 3.4 0 1 0 -6.8 0M728 532.2a3.4 3.4 0 1 0 6.8 0a3.4 3.4 0 1 0 -6.8 0M936 537.2a3.4 3.4 0 1 0 6.8 0a3.4 3.4 0 1 0 -6.8 0M881.3 535a3.4 3.4 0 1 0 6.8 0a3.4 3.4 0 1 0 -6.8 0M678.3 532.3a3.4 3.4 0 1 0 6.8 0a3.4 3.4 0 1 0 -6.8 0M653.8 534.2a3.4 3.4 0 1 0 6.8 0a3.4 3.4 0 1 0 -6.8 0M796.5 540.3a3.4 3.4 0 1 0 6.8 0a3.4 3.4 0 1 0 -6.8 0M836.1 532.6a3.4 3.4 0 1 0 6.8 0a3.4 3.4 0 1 0 -6.8 0M691.4 532.8a3.4 3.4 0 1 0 6.8 0a3.4 3.4 0 1 0 -6.8 0M792.4 552.1a3.4 3.4 0 1 0 6.8 0a3.4 3.4 0 1 0 -6.8 0M815.3 544a3.4 3.4 0 1 0 6.8 0a3.4 3.4 0 1 0 -6.8 0M931.3 531.1a3.4 3.4 0 1 0 6.8 0a3.4 3.4 0 1 0 -6.8 0M878.9 530.9a3.4 3.4 0 1 0 6.8 0a3.4 3.4 0 1 0 -6.8 0M784.5 549.9a3.4 3.4 0 1 0 6.8 0a3.4 3.4 0 1 0 -6.8 0M724.5 528.4a3.4 3.4 0 1 0 6.8 0a3.4 3.4 0 1 0 -6.8 0M808.6 531.6a3.4 3.4 0 1 0 6.8 0a3.4 3.4 0 1 0 -6.8 0M822.8 548.3a3.4 3.4 0 1 0 6.8 0a3.4 3.4 0 1 0 -6.8 0M641 526a3.4 3.4 0 1 0 6.8 0a3.4 3.4 0 1 0 -6.8 0M787.4 530.1a3.4 3.4 0 1 0 6.8 0a3.4 3.4 0 1 0 -6.8 0M817.6 528.1a3.4 3.4 0 1 0 6.8 0a3.4 3.4 0 1 0 -6.8 0M881.4 548.3a3.4 3.4 0 1 0 6.8 0a3.4 3.4 0 1 0 -6.8 0M902.8 544.2a3.4 3.4 0 1 0 6.8 0a3.4 3.4 0 1 0 -6.8 0M787.2 528a3.4 3.4 0 1 0 6.8 0a3.4 3.4 0 1 0 -6.8 0M744.5 533a3.4 3.4 0 1 0 6.8 0a3.4 3.4 0 1 0 -6.8 0M858 524.5a3.4 3.4 0 1 0 6.8 0a3.4 3.4 0 1 0 -6.8 0M825.4 535.7a3.4 3.4 0 1 0 6.8 0a3.4 3.4 0 1 0 -6.8 0M796.6 534.3a3.4 3.4 0 1 0 6.8 0a3.4 3.4 0 1 0 -6.8 0M635.9 530.7a3.4 3.4 0 1 0 6.8 0a3.4 3.4 0 1 0 -6.8 0M758.6 540.6a3.4 3.4 0 1 0 6.8 0a3.4 3.4 0 1 0 -6.8 0M681.9 532.5a3.4 3.4 0 1 0 6.8 0a3.4 3.4 0 1 0 -6.8 0M717.9 538.5a3.4 3.4 0 1 0 6.8 0a3.4 3.4 0 1 0 -6.8 0M915.2 541.8a3.4 3.4 0 1 0 6.8 0a3.4 3.4 0 1 0 -6.8 0M746.6 548a3.4 3.4 0 1 0 6.8 0a3.4 3.4 0 1 0 -6.8 0M760.2 545.7a3.4 3.4 0 1 0 6.8 0a3.4 3.4 0 1 0 -6.8 0M848.5 528.1a3.4 3.4 0 1 0 6.8 0a3.4 3.4 0 1 0 -6.8 0M823.5 524a3.4 3.4 0 1 0 6.8 0a3.4 3.4 0 1 0 -6.8 0M843.6 530.9a3.4 3.4 0 1 0 6.8 0a3.4 3.4 0 1 0 -6.8 0M674 529.3a3.4 3.4 0 1 0 6.8 0a3.4 3.4 0 1 0 -6.8 0M865 535.8a3.4 3.4 0 1 0 6.8 0a3.4 3.4 0 1 0 -6.8 0M776.7 530a3.4 3.4 0 1 0 6.8 0a3.4 3.4 0 1 0 -6.8 0M743.1 546.1a3.4 3.4 0 1 0 6.8 0a3.4 3.4 0 1 0 -6.8 0M771.1 545.3a3.4 3.4 0 1 0 6.8 0a3.4 3.4 0 1 0 -6.8 0M935.3 544.3a3.4 3.4 0 1 0 6.8 0a3.4 3.4 0 1 0 -6.8 0M808.8 538.5a3.4 3.4 0 1 0 6.8 0a3.4 3.4 0 1 0 -6.8 0M806.4 550.5a3.4 3.4 0 1 0 6.8 0a3.4 3.4 0 1 0 -6.8 0M901.6 536.9a3.4 3.4 0 1 0 6.8 0a3.4 3.4 0 1 0 -6.8 0M759 543.1a3.4 3.4 0 1 0 6.8 0a3.4 3.4 0 1 0 -6.8 0M944.6 531.9a3.4 3.4 0 1 0 6.8 0a3.4 3.4 0 1 0 -6.8 0M746.3 551a3.4 3.4 0 1 0 6.8 0a3.4 3.4 0 1 0 -6.8 0M772.5 535.2a3.4 3.4 0 1 0 6.8 0a3.4 3.4 0 1 0 -6.8 0M924.8 534.9a3.4 3.4 0 1 0 6.8 0a3.4 3.4 0 1 0 -6.8 0M781.7 525a3.4 3.4 0 1 0 6.8 0a3.4 3.4 0 1 0 -6.8 0M827.4 535.8a3.4 3.4 0 1 0 6.8 0a3.4 3.4 0 1 0 -6.8 0M940.7 534.1a3.4 3.4 0 1 0 6.8 0a3.4 3.4 0 1 0 -6.8 0M810.9 558.5a3.4 3.4 0 1 0 6.8 0a3.4 3.4 0 1 0 -6.8 0M656 533.7a3.4 3.4 0 1 0 6.8 0a3.4 3.4 0 1 0 -6.8 0M714.9 545.7a3.4 3.4 0 1 0 6.8 0a3.4 3.4 0 1 0 -6.8 0M888.3 541.9a3.4 3.4 0 1 0 6.8 0a3.4 3.4 0 1 0 -6.8 0M782 540.6a3.4 3.4 0 1 0 6.8 0a3.4 3.4 0 1 0 -6.8 0M637 528.9a3.4 3.4 0 1 0 6.8 0a3.4 3.4 0 1 0 -6.8 0M765.2 535.2a3.4 3.4 0 1 0 6.8 0a3.4 3.4 0 1 0 -6.8 0M822.6 538.1a3.4 3.4 0 1 0 6.8 0a3.4 3.4 0 1 0 -6.8 0M913.6 535.8a3.4 3.4 0 1 0 6.8 0a3.4 3.4 0 1 0 -6.8 0M817.9 557.4a3.4 3.4 0 1 0 6.8 0a3.4 3.4 0 1 0 -6.8 0M950 546.1a3.4 3.4 0 1 0 6.8 0a3.4 3.4 0 1 0 -6.8 0M874.1 543.1a3.4 3.4 0 1 0 6.8 0a3.4 3.4 0 1 0 -6.8 0M850.5 533.9a3.4 3.4 0 1 0 6.8 0a3.4 3.4 0 1 0 -6.8 0M772.3 544.2a3.4 3.4 0 1 0 6.8 0a3.4 3.4 0 1 0 -6.8 0M932.6 532.2a3.4 3.4 0 1 0 6.8 0a3.4 3.4 0 1 0 -6.8 0M869.2 543.8a3.4 3.4 0 1 0 6.8 0a3.4 3.4 0 1 0 -6.8 0M912.4 530.5a3.4 3.4 0 1 0 6.8 0a3.4 3.4 0 1 0 -6.8 0M904 543.2a3.4 3.4 0 1 0 6.8 0a3.4 3.4 0 1 0 -6.8 0M789.2 531.3a3.4 3.4 0 1 0 6.8 0a3.4 3.4 0 1 0 -6.8 0M715 537.2a3.4 3.4 0 1 0 6.8 0a3.4 3.4 0 1 0 -6.8 0M937.2 540.6a3.4 3.4 0 1 0 6.8 0a3.4 3.4 0 1 0 -6.8 0M743.6 545a3.4 3.4 0 1 0 6.8 0a3.4 3.4 0 1 0 -6.8 0M754.3 525.8a3.4 3.4 0 1 0 6.8 0a3.4 3.4 0 1 0 -6.8 0M885.2 547.1a3.4 3.4 0 1 0 6.8 0a3.4 3.4 0 1 0 -6.8 0M882.5 530.7a3.4 3.4 0 1 0 6.8 0a3.4 3.4 0 1 0 -6.8 0M896.3 519.8a3.4 3.4 0 1 0 6.8 0a3.4 3.4 0 1 0 -6.8 0M744.1 537.4a3.4 3.4 0 1 0 6.8 0a3.4 3.4 0 1 0 -6.8 0M832.4 537a3.4 3.4 0 1 0 6.8 0a3.4 3.4 0 1 0 -6.8 0M824.4 527.8a3.4 3.4 0 1 0 6.8 0a3.4 3.4 0 1 0 -6.8 0M786 535.1a3.4 3.4 0 1 0 6.8 0a3.4 3.4 0 1 0 -6.8 0M775.7 526.4a3.4 3.4 0 1 0 6.8 0a3.4 3.4 0 1 0 -6.8 0M692.5 541.5a3.4 3.4 0 1 0 6.8 0a3.4 3.4 0 1 0 -6.8 0M838.1 543.5a3.4 3.4 0 1 0 6.8 0a3.4 3.4 0 1 0 -6.8 0M833.9 541.3a3.4 3.4 0 1 0 6.8 0a3.4 3.4 0 1 0 -6.8 0M834.3 528.6a3.4 3.4 0 1 0 6.8 0a3.4 3.4 0 1 0 -6.8 0M764.9 541.2a3.4 3.4 0 1 0 6.8 0a3.4 3.4 0 1 0 -6.8 0M913.1 542.2a3.4 3.4 0 1 0 6.8 0a3.4 3.4 0 1 0 -6.8 0M851.3 544.4a3.4 3.4 0 1 0 6.8 0a3.4 3.4 0 1 0 -6.8 0M738.4 531a3.4 3.4 0 1 0 6.8 0a3.4 3.4 0 1 0 -6.8 0M865.8 533.6a3.4 3.4 0 1 0 6.8 0a3.4 3.4 0 1 0 -6.8 0M760.9 546.1a3.4 3.4 0 1 0 6.8 0a3.4 3.4 0 1 0 -6.8 0M837.5 547.1a3.4 3.4 0 1 0 6.8 0a3.4 3.4 0 1 0 -6.8 0M800 530.7a3.4 3.4 0 1 0 6.8 0a3.4 3.4 0 1 0 -6.8 0M940.6 539.1a3.4 3.4 0 1 0 6.8 0a3.4 3.4 0 1 0 -6.8 0M907.3 544.7a3.4 3.4 0 1 0 6.8 0a3.4 3.4 0 1 0 -6.8 0M817.9 537.3a3.4 3.4 0 1 0 6.8 0a3.4 3.4 0 1 0 -6.8 0M726.6 545.8a3.4 3.4 0 1 0 6.8 0a3.4 3.4 0 1 0 -6.8 0M911.1 547.5a3.4 3.4 0 1 0 6.8 0a3.4 3.4 0 1 0 -6.8 0M804.2 540.7a3.4 3.4 0 1 0 6.8 0a3.4 3.4 0 1 0 -6.8 0M768.7 529.1a3.4 3.4 0 1 0 6.8 0a3.4 3.4 0 1 0 -6.8 0M928.3 538.8a3.4 3.4 0 1 0 6.8 0a3.4 3.4 0 1 0 -6.8 0M751.9 525.6a3.4 3.4 0 1 0 6.8 0a3.4 3.4 0 1 0 -6.8 0M794.7 553.1a3.4 3.4 0 1 0 6.8 0a3.4 3.4 0 1 0 -6.8 0M931.3 537.8a3.4 3.4 0 1 0 6.8 0a3.4 3.4 0 1 0 -6.8 0M772.3 544.2a3.4 3.4 0 1 0 6.8 0a3.4 3.4 0 1 0 -6.8 0M741.6 537.2a3.4 3.4 0 1 0 6.8 0a3.4 3.4 0 1 0 -6.8 0M906.5 536.6a3.4 3.4 0 1 0 6.8 0a3.4 3.4 0 1 0 -6.8 0M970.8 536a3.4 3.4 0 1 0 6.8 0a3.4 3.4 0 1 0 -6.8 0M972.7 537.9a3.4 3.4 0 1 0 6.8 0a3.4 3.4 0 1 0 -6.8 0M763.3 546.4a3.4 3.4 0 1 0 6.8 0a3.4 3.4 0 1 0 -6.8 0M712.7 527.1a3.4 3.4 0 1 0 6.8 0a3.4 3.4 0 1 0 -6.8 0M934.5 551.5a3.4 3.4 0 1 0 6.8 0a3.4 3.4 0 1 0 -6.8 0M715.3 544.8a3.4 3.4 0 1 0 6.8 0a3.4 3.4 0 1 0 -6.8 0M810.7 537.3a3.4 3.4 0 1 0 6.8 0a3.4 3.4 0 1 0 -6.8 0M840.4 535.7a3.4 3.4 0 1 0 6.8 0a3.4 3.4 0 1 0 -6.8 0M872.4 534.2a3.4 3.4 0 1 0 6.8 0a3.4 3.4 0 1 0 -6.8 0M787.1 534.2a3.4 3.4 0 1 0 6.8 0a3.4 3.4 0 1 0 -6.8 0M903 549a3.4 3.4 0 1 0 6.8 0a3.4 3.4 0 1 0 -6.8 0M773.1 537.9a3.4 3.4 0 1 0 6.8 0a3.4 3.4 0 1 0 -6.8 0M748.1 532.9a3.4 3.4 0 1 0 6.8 0a3.4 3.4 0 1 0 -6.8 0M768.4 530.9a3.4 3.4 0 1 0 6.8 0a3.4 3.4 0 1 0 -6.8 0M927.7 555.7a3.4 3.4 0 1 0 6.8 0a3.4 3.4 0 1 0 -6.8 0M907.9 528.1a3.4 3.4 0 1 0 6.8 0a3.4 3.4 0 1 0 -6.8 0M652.1 532.1a3.4 3.4 0 1 0 6.8 0a3.4 3.4 0 1 0 -6.8 0M804.8 531.1a3.4 3.4 0 1 0 6.8 0a3.4 3.4 0 1 0 -6.8 0M742.3 552.4a3.4 3.4 0 1 0 6.8 0a3.4 3.4 0 1 0 -6.8 0M937 533.4a3.4 3.4 0 1 0 6.8 0a3.4 3.4 0 1 0 -6.8 0M821.7 535.9a3.4 3.4 0 1 0 6.8 0a3.4 3.4 0 1 0 -6.8 0M794.5 529.7a3.4 3.4 0 1 0 6.8 0a3.4 3.4 0 1 0 -6.8 0M892 539.8a3.4 3.4 0 1 0 6.8 0a3.4 3.4 0 1 0 -6.8 0M887.7 533.9a3.4 3.4 0 1 0 6.8 0a3.4 3.4 0 1 0 -6.8 0M861.3 537.2a3.4 3.4 0 1 0 6.8 0a3.4 3.4 0 1 0 -6.8 0M888.9 530.1a3.4 3.4 0 1 0 6.8 0a3.4 3.4 0 1 0 -6.8 0M932.5 530.7a3.4 3.4 0 1 0 6.8 0a3.4 3.4 0 1 0 -6.8 0M795.5 544.3a3.4 3.4 0 1 0 6.8 0a3.4 3.4 0 1 0 -6.8 0M930 527.3a3.4 3.4 0 1 0 6.8 0a3.4 3.4 0 1 0 -6.8 0M846.3 529.1a3.4 3.4 0 1 0 6.8 0a3.4 3.4 0 1 0 -6.8 0M666.9 529.3a3.4 3.4 0 1 0 6.8 0a3.4 3.4 0 1 0 -6.8 0M776.8 555.2a3.4 3.4 0 1 0 6.8 0a3.4 3.4 0 1 0 -6.8 0M733.2 531.9a3.4 3.4 0 1 0 6.8 0a3.4 3.4 0 1 0 -6.8 0M951.9 534.9a3.4 3.4 0 1 0 6.8 0a3.4 3.4 0 1 0 -6.8 0M770 532.2a3.4 3.4 0 1 0 6.8 0a3.4 3.4 0 1 0 -6.8 0M835.6 543a3.4 3.4 0 1 0 6.8 0a3.4 3.4 0 1 0 -6.8 0M680.1 532.2a3.4 3.4 0 1 0 6.8 0a3.4 3.4 0 1 0 -6.8 0M786.4 544.7a3.4 3.4 0 1 0 6.8 0a3.4 3.4 0 1 0 -6.8 0M693.2 545.8a3.4 3.4 0 1 0 6.8 0a3.4 3.4 0 1 0 -6.8 0M890.3 556.8a3.4 3.4 0 1 0 6.8 0a3.4 3.4 0 1 0 -6.8 0M921.5 543.2a3.4 3.4 0 1 0 6.8 0a3.4 3.4 0 1 0 -6.8 0M752.6 541.7a3.4 3.4 0 1 0 6.8 0a3.4 3.4 0 1 0 -6.8 0M887.3 536a3.4 3.4 0 1 0 6.8 0a3.4 3.4 0 1 0 -6.8 0M864.5 550.1a3.4 3.4 0 1 0 6.8 0a3.4 3.4 0 1 0 -6.8 0M804.2 542.4a3.4 3.4 0 1 0 6.8 0a3.4 3.4 0 1 0 -6.8 0M855.2 543a3.4 3.4 0 1 0 6.8 0a3.4 3.4 0 1 0 -6.8 0M658.5 532a3.4 3.4 0 1 0 6.8 0a3.4 3.4 0 1 0 -6.8 0M829.4 539.6a3.4 3.4 0 1 0 6.8 0a3.4 3.4 0 1 0 -6.8 0M665.4 535.1a3.4 3.4 0 1 0 6.8 0a3.4 3.4 0 1 0 -6.8 0M885.8 550.8a3.4 3.4 0 1 0 6.8 0a3.4 3.4 0 1 0 -6.8 0M837.1 543.7a3.4 3.4 0 1 0 6.8 0a3.4 3.4 0 1 0 -6.8 0M841.1 528.8a3.4 3.4 0 1 0 6.8 0a3.4 3.4 0 1 0 -6.8 0M836.5 524.3a3.4 3.4 0 1 0 6.8 0a3.4 3.4 0 1 0 -6.8 0M826.6 537.2a3.4 3.4 0 1 0 6.8 0a3.4 3.4 0 1 0 -6.8 0M874.5 538.3a3.4 3.4 0 1 0 6.8 0a3.4 3.4 0 1 0 -6.8 0M915.3 544.2a3.4 3.4 0 1 0 6.8 0a3.4 3.4 0 1 0 -6.8 0M772.3 547.2a3.4 3.4 0 1 0 6.8 0a3.4 3.4 0 1 0 -6.8 0M821.9 546.2a3.4 3.4 0 1 0 6.8 0a3.4 3.4 0 1 0 -6.8 0M659.8 534.8a3.4 3.4 0 1 0 6.8 0a3.4 3.4 0 1 0 -6.8 0M741.7 536.9a3.4 3.4 0 1 0 6.8 0a3.4 3.4 0 1 0 -6.8 0M874.4 536.2a3.4 3.4 0 1 0 6.8 0a3.4 3.4 0 1 0 -6.8 0M860.6 519.4a3.4 3.4 0 1 0 6.8 0a3.4 3.4 0 1 0 -6.8 0M928.5 532.7a3.4 3.4 0 1 0 6.8 0a3.4 3.4 0 1 0 -6.8 0M921.5 523.2a3.4 3.4 0 1 0 6.8 0a3.4 3.4 0 1 0 -6.8 0M835 542.6a3.4 3.4 0 1 0 6.8 0a3.4 3.4 0 1 0 -6.8 0M927 533.4a3.4 3.4 0 1 0 6.8 0a3.4 3.4 0 1 0 -6.8 0M960.6 532.9a3.4 3.4 0 1 0 6.8 0a3.4 3.4 0 1 0 -6.8 0M842.7 531.2a3.4 3.4 0 1 0 6.8 0a3.4 3.4 0 1 0 -6.8 0M865.6 548.9a3.4 3.4 0 1 0 6.8 0a3.4 3.4 0 1 0 -6.8 0M826.1 536.5a3.4 3.4 0 1 0 6.8 0a3.4 3.4 0 1 0 -6.8 0M920.9 537a3.4 3.4 0 1 0 6.8 0a3.4 3.4 0 1 0 -6.8 0M790.2 530.1a3.4 3.4 0 1 0 6.8 0a3.4 3.4 0 1 0 -6.8 0M669.9 531.7a3.4 3.4 0 1 0 6.8 0a3.4 3.4 0 1 0 -6.8 0M823.7 515.9a3.4 3.4 0 1 0 6.8 0a3.4 3.4 0 1 0 -6.8 0M769.9 529.4a3.4 3.4 0 1 0 6.8 0a3.4 3.4 0 1 0 -6.8 0M663.4 531a3.4 3.4 0 1 0 6.8 0a3.4 3.4 0 1 0 -6.8 0M782.4 543.3a3.4 3.4 0 1 0 6.8 0a3.4 3.4 0 1 0 -6.8 0M922.6 555.2a3.4 3.4 0 1 0 6.8 0a3.4 3.4 0 1 0 -6.8 0M815.7 537.7a3.4 3.4 0 1 0 6.8 0a3.4 3.4 0 1 0 -6.8 0M668.9 527.2a3.4 3.4 0 1 0 6.8 0a3.4 3.4 0 1 0 -6.8 0M859.4 544.7a3.4 3.4 0 1 0 6.8 0a3.4 3.4 0 1 0 -6.8 0M934 544.3a3.4 3.4 0 1 0 6.8 0a3.4 3.4 0 1 0 -6.8 0M630.4 531.7a3.4 3.4 0 1 0 6.8 0a3.4 3.4 0 1 0 -6.8 0M701.3 537.4a3.4 3.4 0 1 0 6.8 0a3.4 3.4 0 1 0 -6.8 0M933.7 559.2a3.4 3.4 0 1 0 6.8 0a3.4 3.4 0 1 0 -6.8 0M842.5 533.8a3.4 3.4 0 1 0 6.8 0a3.4 3.4 0 1 0 -6.8 0M728.8 548.5a3.4 3.4 0 1 0 6.8 0a3.4 3.4 0 1 0 -6.8 0M937.6 527.8a3.4 3.4 0 1 0 6.8 0a3.4 3.4 0 1 0 -6.8 0M903.7 543.9a3.4 3.4 0 1 0 6.8 0a3.4 3.4 0 1 0 -6.8 0M739.7 528.6a3.4 3.4 0 1 0 6.8 0a3.4 3.4 0 1 0 -6.8 0M678.7 537.2a3.4 3.4 0 1 0 6.8 0a3.4 3.4 0 1 0 -6.8 0M845.5 537.4a3.4 3.4 0 1 0 6.8 0a3.4 3.4 0 1 0 -6.8 0M741.6 554.9a3.4 3.4 0 1 0 6.8 0a3.4 3.4 0 1 0 -6.8 0M969.8 547.3a3.4 3.4 0 1 0 6.8 0a3.4 3.4 0 1 0 -6.8 0M926.5 558.6a3.4 3.4 0 1 0 6.8 0a3.4 3.4 0 1 0 -6.8 0M812.7 538.8a3.4 3.4 0 1 0 6.8 0a3.4 3.4 0 1 0 -6.8 0M767.4 548.4a3.4 3.4 0 1 0 6.8 0a3.4 3.4 0 1 0 -6.8 0M848.2 547.2a3.4 3.4 0 1 0 6.8 0a3.4 3.4 0 1 0 -6.8 0M656 530.4a3.4 3.4 0 1 0 6.8 0a3.4 3.4 0 1 0 -6.8 0M924.9 570.9a3.4 3.4 0 1 0 6.8 0a3.4 3.4 0 1 0 -6.8 0M856.1 530.2a3.4 3.4 0 1 0 6.8 0a3.4 3.4 0 1 0 -6.8 0M913.8 523.2a3.4 3.4 0 1 0 6.8 0a3.4 3.4 0 1 0 -6.8 0M911.8 532.6a3.4 3.4 0 1 0 6.8 0a3.4 3.4 0 1 0 -6.8 0M719.9 534.5a3.4 3.4 0 1 0 6.8 0a3.4 3.4 0 1 0 -6.8 0M774.7 543.5a3.4 3.4 0 1 0 6.8 0a3.4 3.4 0 1 0 -6.8 0M864 537.7a3.4 3.4 0 1 0 6.8 0a3.4 3.4 0 1 0 -6.8 0M653.1 537.7a3.4 3.4 0 1 0 6.8 0a3.4 3.4 0 1 0 -6.8 0M786.3 534.7a3.4 3.4 0 1 0 6.8 0a3.4 3.4 0 1 0 -6.8 0M812 545.7a3.4 3.4 0 1 0 6.8 0a3.4 3.4 0 1 0 -6.8 0M919.6 542.3a3.4 3.4 0 1 0 6.8 0a3.4 3.4 0 1 0 -6.8 0M691.2 530.1a3.4 3.4 0 1 0 6.8 0a3.4 3.4 0 1 0 -6.8 0M638.4 526.5a3.4 3.4 0 1 0 6.8 0a3.4 3.4 0 1 0 -6.8 0M827 542.5a3.4 3.4 0 1 0 6.8 0a3.4 3.4 0 1 0 -6.8 0M893.6 545.4a3.4 3.4 0 1 0 6.8 0a3.4 3.4 0 1 0 -6.8 0M802.9 524.7a3.4 3.4 0 1 0 6.8 0a3.4 3.4 0 1 0 -6.8 0M797.2 527.7a3.4 3.4 0 1 0 6.8 0a3.4 3.4 0 1 0 -6.8 0M664.7 530.9a3.4 3.4 0 1 0 6.8 0a3.4 3.4 0 1 0 -6.8 0M749.6 526.5a3.4 3.4 0 1 0 6.8 0a3.4 3.4 0 1 0 -6.8 0M790 558.9a3.4 3.4 0 1 0 6.8 0a3.4 3.4 0 1 0 -6.8 0M805.3 534.9a3.4 3.4 0 1 0 6.8 0a3.4 3.4 0 1 0 -6.8 0M890.7 525.3a3.4 3.4 0 1 0 6.8 0a3.4 3.4 0 1 0 -6.8 0M912.9 547.4a3.4 3.4 0 1 0 6.8 0a3.4 3.4 0 1 0 -6.8 0M878.4 531.7a3.4 3.4 0 1 0 6.8 0a3.4 3.4 0 1 0 -6.8 0M898.2 526.2a3.4 3.4 0 1 0 6.8 0a3.4 3.4 0 1 0 -6.8 0M917.3 512a3.4 3.4 0 1 0 6.8 0a3.4 3.4 0 1 0 -6.8 0M683.2 528.3a3.4 3.4 0 1 0 6.8 0a3.4 3.4 0 1 0 -6.8 0M916.7 531.8a3.4 3.4 0 1 0 6.8 0a3.4 3.4 0 1 0 -6.8 0M691.6 536.4a3.4 3.4 0 1 0 6.8 0a3.4 3.4 0 1 0 -6.8 0M680.9 532.3a3.4 3.4 0 1 0 6.8 0a3.4 3.4 0 1 0 -6.8 0M853.5 530.6a3.4 3.4 0 1 0 6.8 0a3.4 3.4 0 1 0 -6.8 0M928.1 535.2a3.4 3.4 0 1 0 6.8 0a3.4 3.4 0 1 0 -6.8 0M929.4 531.4a3.4 3.4 0 1 0 6.8 0a3.4 3.4 0 1 0 -6.8 0M731.9 539a3.4 3.4 0 1 0 6.8 0a3.4 3.4 0 1 0 -6.8 0M906.1 536.3a3.4 3.4 0 1 0 6.8 0a3.4 3.4 0 1 0 -6.8 0M719.2 533.6a3.4 3.4 0 1 0 6.8 0a3.4 3.4 0 1 0 -6.8 0M862.8 532.1a3.4 3.4 0 1 0 6.8 0a3.4 3.4 0 1 0 -6.8 0M840.2 545.4a3.4 3.4 0 1 0 6.8 0a3.4 3.4 0 1 0 -6.8 0M833.9 540.9a3.4 3.4 0 1 0 6.8 0a3.4 3.4 0 1 0 -6.8 0M902.6 541.3a3.4 3.4 0 1 0 6.8 0a3.4 3.4 0 1 0 -6.8 0M805.9 532.5a3.4 3.4 0 1 0 6.8 0a3.4 3.4 0 1 0 -6.8 0M785.3 521.8a3.4 3.4 0 1 0 6.8 0a3.4 3.4 0 1 0 -6.8 0M889.3 540.6a3.4 3.4 0 1 0 6.8 0a3.4 3.4 0 1 0 -6.8 0M763.9 526a3.4 3.4 0 1 0 6.8 0a3.4 3.4 0 1 0 -6.8 0M754.1 536.4a3.4 3.4 0 1 0 6.8 0a3.4 3.4 0 1 0 -6.8 0M858.9 554.2a3.4 3.4 0 1 0 6.8 0a3.4 3.4 0 1 0 -6.8 0M639 527.3a3.4 3.4 0 1 0 6.8 0a3.4 3.4 0 1 0 -6.8 0M821 532.4a3.4 3.4 0 1 0 6.8 0a3.4 3.4 0 1 0 -6.8 0M879 550.7a3.4 3.4 0 1 0 6.8 0a3.4 3.4 0 1 0 -6.8 0M738 532.7a3.4 3.4 0 1 0 6.8 0a3.4 3.4 0 1 0 -6.8 0M908.7 534.8a3.4 3.4 0 1 0 6.8 0a3.4 3.4 0 1 0 -6.8 0M729.3 536.7a3.4 3.4 0 1 0 6.8 0a3.4 3.4 0 1 0 -6.8 0M869 533.6a3.4 3.4 0 1 0 6.8 0a3.4 3.4 0 1 0 -6.8 0M798.7 526.9a3.4 3.4 0 1 0 6.8 0a3.4 3.4 0 1 0 -6.8 0M626.9 529.3a3.4 3.4 0 1 0 6.8 0a3.4 3.4 0 1 0 -6.8 0M823.8 550a3.4 3.4 0 1 0 6.8 0a3.4 3.4 0 1 0 -6.8 0M846.5 547.7a3.4 3.4 0 1 0 6.8 0a3.4 3.4 0 1 0 -6.8 0M620.8 533.8a3.4 3.4 0 1 0 6.8 0a3.4 3.4 0 1 0 -6.8 0M791.4 558.3a3.4 3.4 0 1 0 6.8 0a3.4 3.4 0 1 0 -6.8 0M902.7 556.6a3.4 3.4 0 1 0 6.8 0a3.4 3.4 0 1 0 -6.8 0M775.2 539.3a3.4 3.4 0 1 0 6.8 0a3.4 3.4 0 1 0 -6.8 0M964.8 535.6a3.4 3.4 0 1 0 6.8 0a3.4 3.4 0 1 0 -6.8 0M914.3 526.5a3.4 3.4 0 1 0 6.8 0a3.4 3.4 0 1 0 -6.8 0M745.6 526.3a3.4 3.4 0 1 0 6.8 0a3.4 3.4 0 1 0 -6.8 0M942.4 534.4a3.4 3.4 0 1 0 6.8 0a3.4 3.4 0 1 0 -6.8 0M729.5 538.3a3.4 3.4 0 1 0 6.8 0a3.4 3.4 0 1 0 -6.8 0M924.8 512.4a3.4 3.4 0 1 0 6.8 0a3.4 3.4 0 1 0 -6.8 0M795 554.9a3.4 3.4 0 1 0 6.8 0a3.4 3.4 0 1 0 -6.8 0M801.4 532.8a3.4 3.4 0 1 0 6.8 0a3.4 3.4 0 1 0 -6.8 0M816.9 526.9a3.4 3.4 0 1 0 6.8 0a3.4 3.4 0 1 0 -6.8 0M703.5 527.8a3.4 3.4 0 1 0 6.8 0a3.4 3.4 0 1 0 -6.8 0M901 522.7a3.4 3.4 0 1 0 6.8 0a3.4 3.4 0 1 0 -6.8 0M826.4 535.2a3.4 3.4 0 1 0 6.8 0a3.4 3.4 0 1 0 -6.8 0M667.2 533.6a3.4 3.4 0 1 0 6.8 0a3.4 3.4 0 1 0 -6.8 0M848 549.2a3.4 3.4 0 1 0 6.8 0a3.4 3.4 0 1 0 -6.8 0M713.1 517.4a3.4 3.4 0 1 0 6.8 0a3.4 3.4 0 1 0 -6.8 0M730.8 533.7a3.4 3.4 0 1 0 6.8 0a3.4 3.4 0 1 0 -6.8 0M750.9 526.9a3.4 3.4 0 1 0 6.8 0a3.4 3.4 0 1 0 -6.8 0M918.9 535.6a3.4 3.4 0 1 0 6.8 0a3.4 3.4 0 1 0 -6.8 0M885.7 538.7a3.4 3.4 0 1 0 6.8 0a3.4 3.4 0 1 0 -6.8 0M780.5 524.7a3.4 3.4 0 1 0 6.8 0a3.4 3.4 0 1 0 -6.8 0M934.5 547a3.4 3.4 0 1 0 6.8 0a3.4 3.4 0 1 0 -6.8 0M936.2 524.5a3.4 3.4 0 1 0 6.8 0a3.4 3.4 0 1 0 -6.8 0M801.5 535.2a3.4 3.4 0 1 0 6.8 0a3.4 3.4 0 1 0 -6.8 0M831.9 534.2a3.4 3.4 0 1 0 6.8 0a3.4 3.4 0 1 0 -6.8 0M909.8 549.8a3.4 3.4 0 1 0 6.8 0a3.4 3.4 0 1 0 -6.8 0M747.6 533.6a3.4 3.4 0 1 0 6.8 0a3.4 3.4 0 1 0 -6.8 0M871.5 529.6a3.4 3.4 0 1 0 6.8 0a3.4 3.4 0 1 0 -6.8 0M634.6 535.3a3.4 3.4 0 1 0 6.8 0a3.4 3.4 0 1 0 -6.8 0M860.6 523.2a3.4 3.4 0 1 0 6.8 0a3.4 3.4 0 1 0 -6.8 0M823.3 542.9a3.4 3.4 0 1 0 6.8 0a3.4 3.4 0 1 0 -6.8 0M743.2 535.3a3.4 3.4 0 1 0 6.8 0a3.4 3.4 0 1 0 -6.8 0M637.7 526.4a3.4 3.4 0 1 0 6.8 0a3.4 3.4 0 1 0 -6.8 0M937.6 550.1a3.4 3.4 0 1 0 6.8 0a3.4 3.4 0 1 0 -6.8 0M838.8 540.8a3.4 3.4 0 1 0 6.8 0a3.4 3.4 0 1 0 -6.8 0M685.4 528.9a3.4 3.4 0 1 0 6.8 0a3.4 3.4 0 1 0 -6.8 0M878.6 530.8a3.4 3.4 0 1 0 6.8 0a3.4 3.4 0 1 0 -6.8 0M851.7 523.6a3.4 3.4 0 1 0 6.8 0a3.4 3.4 0 1 0 -6.8 0M831.4 509.7a3.4 3.4 0 1 0 6.8 0a3.4 3.4 0 1 0 -6.8 0M684.8 531.8a3.4 3.4 0 1 0 6.8 0a3.4 3.4 0 1 0 -6.8 0M684.7 530a3.4 3.4 0 1 0 6.8 0a3.4 3.4 0 1 0 -6.8 0M788.5 532.5a3.4 3.4 0 1 0 6.8 0a3.4 3.4 0 1 0 -6.8 0M851.7 549.7a3.4 3.4 0 1 0 6.8 0a3.4 3.4 0 1 0 -6.8 0M803.7 532.1a3.4 3.4 0 1 0 6.8 0a3.4 3.4 0 1 0 -6.8 0M880.2 519.2a3.4 3.4 0 1 0 6.8 0a3.4 3.4 0 1 0 -6.8 0M907 548.7a3.4 3.4 0 1 0 6.8 0a3.4 3.4 0 1 0 -6.8 0M904.8 553.7a3.4 3.4 0 1 0 6.8 0a3.4 3.4 0 1 0 -6.8 0M800.4 543.3a3.4 3.4 0 1 0 6.8 0a3.4 3.4 0 1 0 -6.8 0M801.1 522.5a3.4 3.4 0 1 0 6.8 0a3.4 3.4 0 1 0 -6.8 0M875.9 555.9a3.4 3.4 0 1 0 6.8 0a3.4 3.4 0 1 0 -6.8 0M927.1 532.9a3.4 3.4 0 1 0 6.8 0a3.4 3.4 0 1 0 -6.8 0M826 543.1a3.4 3.4 0 1 0 6.8 0a3.4 3.4 0 1 0 -6.8 0M805.2 533.8a3.4 3.4 0 1 0 6.8 0a3.4 3.4 0 1 0 -6.8 0M793.6 540.7a3.4 3.4 0 1 0 6.8 0a3.4 3.4 0 1 0 -6.8 0M810.5 532.2a3.4 3.4 0 1 0 6.8 0a3.4 3.4 0 1 0 -6.8 0M777.6 531.5a3.4 3.4 0 1 0 6.8 0a3.4 3.4 0 1 0 -6.8 0M778.6 533.1a3.4 3.4 0 1 0 6.8 0a3.4 3.4 0 1 0 -6.8 0M788.6 533.1a3.4 3.4 0 1 0 6.8 0a3.4 3.4 0 1 0 -6.8 0M724.6 526.5a3.4 3.4 0 1 0 6.8 0a3.4 3.4 0 1 0 -6.8 0M959.7 535.8a3.4 3.4 0 1 0 6.8 0a3.4 3.4 0 1 0 -6.8 0M818.5 544.6a3.4 3.4 0 1 0 6.8 0a3.4 3.4 0 1 0 -6.8 0M825.1 553.8a3.4 3.4 0 1 0 6.8 0a3.4 3.4 0 1 0 -6.8 0M787.8 529.5a3.4 3.4 0 1 0 6.8 0a3.4 3.4 0 1 0 -6.8 0M693.1 538.8a3.4 3.4 0 1 0 6.8 0a3.4 3.4 0 1 0 -6.8 0M776.6 535.9a3.4 3.4 0 1 0 6.8 0a3.4 3.4 0 1 0 -6.8 0M953.6 532a3.4 3.4 0 1 0 6.8 0a3.4 3.4 0 1 0 -6.8 0M826.2 538a3.4 3.4 0 1 0 6.8 0a3.4 3.4 0 1 0 -6.8 0M644.4 527.2a3.4 3.4 0 1 0 6.8 0a3.4 3.4 0 1 0 -6.8 0M796.6 533.2a3.4 3.4 0 1 0 6.8 0a3.4 3.4 0 1 0 -6.8 0M807 539.8a3.4 3.4 0 1 0 6.8 0a3.4 3.4 0 1 0 -6.8 0M764.4 537.3a3.4 3.4 0 1 0 6.8 0a3.4 3.4 0 1 0 -6.8 0M817.8 537a3.4 3.4 0 1 0 6.8 0a3.4 3.4 0 1 0 -6.8 0M799 543.9a3.4 3.4 0 1 0 6.8 0a3.4 3.4 0 1 0 -6.8 0M771.7 533.4a3.4 3.4 0 1 0 6.8 0a3.4 3.4 0 1 0 -6.8 0M882.6 520.7a3.4 3.4 0 1 0 6.8 0a3.4 3.4 0 1 0 -6.8 0M849.1 531.1a3.4 3.4 0 1 0 6.8 0a3.4 3.4 0 1 0 -6.8 0M628.7 528.7a3.4 3.4 0 1 0 6.8 0a3.4 3.4 0 1 0 -6.8 0M890.6 533a3.4 3.4 0 1 0 6.8 0a3.4 3.4 0 1 0 -6.8 0M863.7 535.5a3.4 3.4 0 1 0 6.8 0a3.4 3.4 0 1 0 -6.8 0M783.8 543.9a3.4 3.4 0 1 0 6.8 0a3.4 3.4 0 1 0 -6.8 0M772.9 531a3.4 3.4 0 1 0 6.8 0a3.4 3.4 0 1 0 -6.8 0M941.4 550.6a3.4 3.4 0 1 0 6.8 0a3.4 3.4 0 1 0 -6.8 0M753.5 533.8a3.4 3.4 0 1 0 6.8 0a3.4 3.4 0 1 0 -6.8 0M930.8 531.4a3.4 3.4 0 1 0 6.8 0a3.4 3.4 0 1 0 -6.8 0M819.9 527.3a3.4 3.4 0 1 0 6.8 0a3.4 3.4 0 1 0 -6.8 0M908.3 539.8a3.4 3.4 0 1 0 6.8 0a3.4 3.4 0 1 0 -6.8 0M859.9 538.5a3.4 3.4 0 1 0 6.8 0a3.4 3.4 0 1 0 -6.8 0M723.9 524.8a3.4 3.4 0 1 0 6.8 0a3.4 3.4 0 1 0 -6.8 0M826.2 533.3a3.4 3.4 0 1 0 6.8 0a3.4 3.4 0 1 0 -6.8 0M834.8 532.7a3.4 3.4 0 1 0 6.8 0a3.4 3.4 0 1 0 -6.8 0M663.7 531.9a3.4 3.4 0 1 0 6.8 0a3.4 3.4 0 1 0 -6.8 0M812.3 555a3.4 3.4 0 1 0 6.8 0a3.4 3.4 0 1 0 -6.8 0M843.6 532a3.4 3.4 0 1 0 6.8 0a3.4 3.4 0 1 0 -6.8 0M751.7 535.4a3.4 3.4 0 1 0 6.8 0a3.4 3.4 0 1 0 -6.8 0M648.9 528.3a3.4 3.4 0 1 0 6.8 0a3.4 3.4 0 1 0 -6.8 0M903.9 535.3a3.4 3.4 0 1 0 6.8 0a3.4 3.4 0 1 0 -6.8 0M635.6 528.6a3.4 3.4 0 1 0 6.8 0a3.4 3.4 0 1 0 -6.8 0M825.1 529.3a3.4 3.4 0 1 0 6.8 0a3.4 3.4 0 1 0 -6.8 0M811.5 546a3.4 3.4 0 1 0 6.8 0a3.4 3.4 0 1 0 -6.8 0M833.8 534a3.4 3.4 0 1 0 6.8 0a3.4 3.4 0 1 0 -6.8 0M818.5 533.7a3.4 3.4 0 1 0 6.8 0a3.4 3.4 0 1 0 -6.8 0M801.6 543.2a3.4 3.4 0 1 0 6.8 0a3.4 3.4 0 1 0 -6.8 0M765.5 535.3a3.4 3.4 0 1 0 6.8 0a3.4 3.4 0 1 0 -6.8 0M856.8 536.1a3.4 3.4 0 1 0 6.8 0a3.4 3.4 0 1 0 -6.8 0M805.6 545.2a3.4 3.4 0 1 0 6.8 0a3.4 3.4 0 1 0 -6.8 0M784 533.3a3.4 3.4 0 1 0 6.8 0a3.4 3.4 0 1 0 -6.8 0M756.8 558.3a3.4 3.4 0 1 0 6.8 0a3.4 3.4 0 1 0 -6.8 0M937.2 532.3a3.4 3.4 0 1 0 6.8 0a3.4 3.4 0 1 0 -6.8 0M851.1 523.4a3.4 3.4 0 1 0 6.8 0a3.4 3.4 0 1 0 -6.8 0M823.1 543.4a3.4 3.4 0 1 0 6.8 0a3.4 3.4 0 1 0 -6.8 0M667.1 530.9a3.4 3.4 0 1 0 6.8 0a3.4 3.4 0 1 0 -6.8 0M755.6 535.9a3.4 3.4 0 1 0 6.8 0a3.4 3.4 0 1 0 -6.8 0M768.9 542.9a3.4 3.4 0 1 0 6.8 0a3.4 3.4 0 1 0 -6.8 0M799.3 526.9a3.4 3.4 0 1 0 6.8 0a3.4 3.4 0 1 0 -6.8 0M801.8 530.1a3.4 3.4 0 1 0 6.8 0a3.4 3.4 0 1 0 -6.8 0M766.2 532.4a3.4 3.4 0 1 0 6.8 0a3.4 3.4 0 1 0 -6.8 0M790.3 528.1a3.4 3.4 0 1 0 6.8 0a3.4 3.4 0 1 0 -6.8 0M831.3 527.2a3.4 3.4 0 1 0 6.8 0a3.4 3.4 0 1 0 -6.8 0M630.5 535.4a3.4 3.4 0 1 0 6.8 0a3.4 3.4 0 1 0 -6.8 0M881.8 538.9a3.4 3.4 0 1 0 6.8 0a3.4 3.4 0 1 0 -6.8 0M675.3 529.6a3.4 3.4 0 1 0 6.8 0a3.4 3.4 0 1 0 -6.8 0M765.8 548.5a3.4 3.4 0 1 0 6.8 0a3.4 3.4 0 1 0 -6.8 0M647.8 528.7a3.4 3.4 0 1 0 6.8 0a3.4 3.4 0 1 0 -6.8 0M726.4 529.5a3.4 3.4 0 1 0 6.8 0a3.4 3.4 0 1 0 -6.8 0M802.4 528.8a3.4 3.4 0 1 0 6.8 0a3.4 3.4 0 1 0 -6.8 0M713.2 531.9a3.4 3.4 0 1 0 6.8 0a3.4 3.4 0 1 0 -6.8 0M760 537.1a3.4 3.4 0 1 0 6.8 0a3.4 3.4 0 1 0 -6.8 0M922.6 533.1a3.4 3.4 0 1 0 6.8 0a3.4 3.4 0 1 0 -6.8 0M846.7 547.8a3.4 3.4 0 1 0 6.8 0a3.4 3.4 0 1 0 -6.8 0M824.2 525.9a3.4 3.4 0 1 0 6.8 0a3.4 3.4 0 1 0 -6.8 0M822.6 546.5a3.4 3.4 0 1 0 6.8 0a3.4 3.4 0 1 0 -6.8 0M732.2 544.4a3.4 3.4 0 1 0 6.8 0a3.4 3.4 0 1 0 -6.8 0M809.9 534.4a3.4 3.4 0 1 0 6.8 0a3.4 3.4 0 1 0 -6.8 0M717.5 554.2a3.4 3.4 0 1 0 6.8 0a3.4 3.4 0 1 0 -6.8 0M778 535.5a3.4 3.4 0 1 0 6.8 0a3.4 3.4 0 1 0 -6.8 0M776.9 537.9a3.4 3.4 0 1 0 6.8 0a3.4 3.4 0 1 0 -6.8 0M860.9 538.9a3.4 3.4 0 1 0 6.8 0a3.4 3.4 0 1 0 -6.8 0M825.9 543.7a3.4 3.4 0 1 0 6.8 0a3.4 3.4 0 1 0 -6.8 0M805.3 549.5a3.4 3.4 0 1 0 6.8 0a3.4 3.4 0 1 0 -6.8 0M635.4 527.9a3.4 3.4 0 1 0 6.8 0a3.4 3.4 0 1 0 -6.8 0M805.5 530.9a3.4 3.4 0 1 0 6.8 0a3.4 3.4 0 1 0 -6.8 0M806.3 549.6a3.4 3.4 0 1 0 6.8 0a3.4 3.4 0 1 0 -6.8 0M865.7 560.6a3.4 3.4 0 1 0 6.8 0a3.4 3.4 0 1 0 -6.8 0M760.7 530.8a3.4 3.4 0 1 0 6.8 0a3.4 3.4 0 1 0 -6.8 0M814.7 529.5a3.4 3.4 0 1 0 6.8 0a3.4 3.4 0 1 0 -6.8 0M806.7 537.3a3.4 3.4 0 1 0 6.8 0a3.4 3.4 0 1 0 -6.8 0M811.5 527.3a3.4 3.4 0 1 0 6.8 0a3.4 3.4 0 1 0 -6.8 0M863.9 537a3.4 3.4 0 1 0 6.8 0a3.4 3.4 0 1 0 -6.8 0M808.5 529a3.4 3.4 0 1 0 6.8 0a3.4 3.4 0 1 0 -6.8 0M628.6 536.5a3.4 3.4 0 1 0 6.8 0a3.4 3.4 0 1 0 -6.8 0M833.9 542.7a3.4 3.4 0 1 0 6.8 0a3.4 3.4 0 1 0 -6.8 0M911.9 526.9a3.4 3.4 0 1 0 6.8 0a3.4 3.4 0 1 0 -6.8 0M801.5 526.9a3.4 3.4 0 1 0 6.8 0a3.4 3.4 0 1 0 -6.8 0M888.4 542.2a3.4 3.4 0 1 0 6.8 0a3.4 3.4 0 1 0 -6.8 0M944.7 532.8a3.4 3.4 0 1 0 6.8 0a3.4 3.4 0 1 0 -6.8 0M766.7 531.6a3.4 3.4 0 1 0 6.8 0a3.4 3.4 0 1 0 -6.8 0M770.7 542.7a3.4 3.4 0 1 0 6.8 0a3.4 3.4 0 1 0 -6.8 0M917.3 534a3.4 3.4 0 1 0 6.8 0a3.4 3.4 0 1 0 -6.8 0M913.5 524.6a3.4 3.4 0 1 0 6.8 0a3.4 3.4 0 1 0 -6.8 0M797.3 535.5a3.4 3.4 0 1 0 6.8 0a3.4 3.4 0 1 0 -6.8 0M689.4 535.5a3.4 3.4 0 1 0 6.8 0a3.4 3.4 0 1 0 -6.8 0M784.7 543.5a3.4 3.4 0 1 0 6.8 0a3.4 3.4 0 1 0 -6.8 0M824.4 534.3a3.4 3.4 0 1 0 6.8 0a3.4 3.4 0 1 0 -6.8 0M634.1 533.3a3.4 3.4 0 1 0 6.8 0a3.4 3.4 0 1 0 -6.8 0M909.2 534.4a3.4 3.4 0 1 0 6.8 0a3.4 3.4 0 1 0 -6.8 0M780.9 536.6a3.4 3.4 0 1 0 6.8 0a3.4 3.4 0 1 0 -6.8 0M670.2 529.1a3.4 3.4 0 1 0 6.8 0a3.4 3.4 0 1 0 -6.8 0M902.9 537.6a3.4 3.4 0 1 0 6.8 0a3.4 3.4 0 1 0 -6.8 0M717.9 544.6a3.4 3.4 0 1 0 6.8 0a3.4 3.4 0 1 0 -6.8 0M800 530.1a3.4 3.4 0 1 0 6.8 0a3.4 3.4 0 1 0 -6.8 0M641.3 536.2a3.4 3.4 0 1 0 6.8 0a3.4 3.4 0 1 0 -6.8 0M810.6 536.4a3.4 3.4 0 1 0 6.8 0a3.4 3.4 0 1 0 -6.8 0M880.4 548.5a3.4 3.4 0 1 0 6.8 0a3.4 3.4 0 1 0 -6.8 0M864.2 540.5a3.4 3.4 0 1 0 6.8 0a3.4 3.4 0 1 0 -6.8 0M838.6 538.3a3.4 3.4 0 1 0 6.8 0a3.4 3.4 0 1 0 -6.8 0M874.7 541.9a3.4 3.4 0 1 0 6.8 0a3.4 3.4 0 1 0 -6.8 0M784.4 532.7a3.4 3.4 0 1 0 6.8 0a3.4 3.4 0 1 0 -6.8 0M798.6 524.3a3.4 3.4 0 1 0 6.8 0a3.4 3.4 0 1 0 -6.8 0M812.2 548.4a3.4 3.4 0 1 0 6.8 0a3.4 3.4 0 1 0 -6.8 0M780.8 527.5a3.4 3.4 0 1 0 6.8 0a3.4 3.4 0 1 0 -6.8 0M781.3 536.6a3.4 3.4 0 1 0 6.8 0a3.4 3.4 0 1 0 -6.8 0M648.2 528.9a3.4 3.4 0 1 0 6.8 0a3.4 3.4 0 1 0 -6.8 0M930.3 538.5a3.4 3.4 0 1 0 6.8 0a3.4 3.4 0 1 0 -6.8 0M795.5 529.5a3.4 3.4 0 1 0 6.8 0a3.4 3.4 0 1 0 -6.8 0M838.7 543a3.4 3.4 0 1 0 6.8 0a3.4 3.4 0 1 0 -6.8 0M936.4 535.9a3.4 3.4 0 1 0 6.8 0a3.4 3.4 0 1 0 -6.8 0M689 537.2a3.4 3.4 0 1 0 6.8 0a3.4 3.4 0 1 0 -6.8 0M775.7 533.8a3.4 3.4 0 1 0 6.8 0a3.4 3.4 0 1 0 -6.8 0M735.2 538.7a3.4 3.4 0 1 0 6.8 0a3.4 3.4 0 1 0 -6.8 0M693.3 548.7a3.4 3.4 0 1 0 6.8 0a3.4 3.4 0 1 0 -6.8 0M831.8 522.6a3.4 3.4 0 1 0 6.8 0a3.4 3.4 0 1 0 -6.8 0M820.8 535a3.4 3.4 0 1 0 6.8 0a3.4 3.4 0 1 0 -6.8 0M925.8 542.6a3.4 3.4 0 1 0 6.8 0a3.4 3.4 0 1 0 -6.8 0M717.7 533.8a3.4 3.4 0 1 0 6.8 0a3.4 3.4 0 1 0 -6.8 0M776.2 553.4a3.4 3.4 0 1 0 6.8 0a3.4 3.4 0 1 0 -6.8 0M795.1 547.8a3.4 3.4 0 1 0 6.8 0a3.4 3.4 0 1 0 -6.8 0M764.1 536.3a3.4 3.4 0 1 0 6.8 0a3.4 3.4 0 1 0 -6.8 0M653.3 530.2a3.4 3.4 0 1 0 6.8 0a3.4 3.4 0 1 0 -6.8 0M800.8 530a3.4 3.4 0 1 0 6.8 0a3.4 3.4 0 1 0 -6.8 0M841.3 542a3.4 3.4 0 1 0 6.8 0a3.4 3.4 0 1 0 -6.8 0M730.9 533.5a3.4 3.4 0 1 0 6.8 0a3.4 3.4 0 1 0 -6.8 0M774.3 527.3a3.4 3.4 0 1 0 6.8 0a3.4 3.4 0 1 0 -6.8 0M836 524.4a3.4 3.4 0 1 0 6.8 0a3.4 3.4 0 1 0 -6.8 0M726.4 539.9a3.4 3.4 0 1 0 6.8 0a3.4 3.4 0 1 0 -6.8 0M810 532a3.4 3.4 0 1 0 6.8 0a3.4 3.4 0 1 0 -6.8 0M694.1 532.3a3.4 3.4 0 1 0 6.8 0a3.4 3.4 0 1 0 -6.8 0M909.2 549.6a3.4 3.4 0 1 0 6.8 0a3.4 3.4 0 1 0 -6.8 0M762.6 531.2a3.4 3.4 0 1 0 6.8 0a3.4 3.4 0 1 0 -6.8 0M864.2 543.9a3.4 3.4 0 1 0 6.8 0a3.4 3.4 0 1 0 -6.8 0M750.6 536.2a3.4 3.4 0 1 0 6.8 0a3.4 3.4 0 1 0 -6.8 0M676.9 523.8a3.4 3.4 0 1 0 6.8 0a3.4 3.4 0 1 0 -6.8 0M661.6 525.4a3.4 3.4 0 1 0 6.8 0a3.4 3.4 0 1 0 -6.8 0M688.7 538a3.4 3.4 0 1 0 6.8 0a3.4 3.4 0 1 0 -6.8 0M739.6 555.9a3.4 3.4 0 1 0 6.8 0a3.4 3.4 0 1 0 -6.8 0M687.5 531.2a3.4 3.4 0 1 0 6.8 0a3.4 3.4 0 1 0 -6.8 0M671.1 529a3.4 3.4 0 1 0 6.8 0a3.4 3.4 0 1 0 -6.8 0M791.4 546.2a3.4 3.4 0 1 0 6.8 0a3.4 3.4 0 1 0 -6.8 0M757.6 534.2a3.4 3.4 0 1 0 6.8 0a3.4 3.4 0 1 0 -6.8 0M834.3 545a3.4 3.4 0 1 0 6.8 0a3.4 3.4 0 1 0 -6.8 0M811.9 548.1a3.4 3.4 0 1 0 6.8 0a3.4 3.4 0 1 0 -6.8 0M787.2 540.5a3.4 3.4 0 1 0 6.8 0a3.4 3.4 0 1 0 -6.8 0M748.8 539.9a3.4 3.4 0 1 0 6.8 0a3.4 3.4 0 1 0 -6.8 0M919.3 545.8a3.4 3.4 0 1 0 6.8 0a3.4 3.4 0 1 0 -6.8 0M749.2 553.5a3.4 3.4 0 1 0 6.8 0a3.4 3.4 0 1 0 -6.8 0M808.5 540.6a3.4 3.4 0 1 0 6.8 0a3.4 3.4 0 1 0 -6.8 0M690.7 539.5a3.4 3.4 0 1 0 6.8 0a3.4 3.4 0 1 0 -6.8 0M707.1 526.1a3.4 3.4 0 1 0 6.8 0a3.4 3.4 0 1 0 -6.8 0M876.9 526.9a3.4 3.4 0 1 0 6.8 0a3.4 3.4 0 1 0 -6.8 0M774.8 538a3.4 3.4 0 1 0 6.8 0a3.4 3.4 0 1 0 -6.8 0M812.6 544.1a3.4 3.4 0 1 0 6.8 0a3.4 3.4 0 1 0 -6.8 0M812.3 549.4a3.4 3.4 0 1 0 6.8 0a3.4 3.4 0 1 0 -6.8 0M924.4 545.8a3.4 3.4 0 1 0 6.8 0a3.4 3.4 0 1 0 -6.8 0M629.8 532.6a3.4 3.4 0 1 0 6.8 0a3.4 3.4 0 1 0 -6.8 0M884.8 531.8a3.4 3.4 0 1 0 6.8 0a3.4 3.4 0 1 0 -6.8 0M733.6 536.1a3.4 3.4 0 1 0 6.8 0a3.4 3.4 0 1 0 -6.8 0M816.1 542.8a3.4 3.4 0 1 0 6.8 0a3.4 3.4 0 1 0 -6.8 0M860.6 554a3.4 3.4 0 1 0 6.8 0a3.4 3.4 0 1 0 -6.8 0M745.3 550.6a3.4 3.4 0 1 0 6.8 0a3.4 3.4 0 1 0 -6.8 0M942.2 533.4a3.4 3.4 0 1 0 6.8 0a3.4 3.4 0 1 0 -6.8 0M692.2 535.6a3.4 3.4 0 1 0 6.8 0a3.4 3.4 0 1 0 -6.8 0M721.6 530.6a3.4 3.4 0 1 0 6.8 0a3.4 3.4 0 1 0 -6.8 0M885.7 545a3.4 3.4 0 1 0 6.8 0a3.4 3.4 0 1 0 -6.8 0M825.5 533.3a3.4 3.4 0 1 0 6.8 0a3.4 3.4 0 1 0 -6.8 0M622.5 532.7a3.4 3.4 0 1 0 6.8 0a3.4 3.4 0 1 0 -6.8 0M784.4 534.9a3.4 3.4 0 1 0 6.8 0a3.4 3.4 0 1 0 -6.8 0M837.3 551.8a3.4 3.4 0 1 0 6.8 0a3.4 3.4 0 1 0 -6.8 0M808.6 542.9a3.4 3.4 0 1 0 6.8 0a3.4 3.4 0 1 0 -6.8 0M822.9 530.3a3.4 3.4 0 1 0 6.8 0a3.4 3.4 0 1 0 -6.8 0M783 539.2a3.4 3.4 0 1 0 6.8 0a3.4 3.4 0 1 0 -6.8 0M745.9 537a3.4 3.4 0 1 0 6.8 0a3.4 3.4 0 1 0 -6.8 0M907.4 535.3a3.4 3.4 0 1 0 6.8 0a3.4 3.4 0 1 0 -6.8 0M856.6 531.2a3.4 3.4 0 1 0 6.8 0a3.4 3.4 0 1 0 -6.8 0M877.2 507.9a3.4 3.4 0 1 0 6.8 0a3.4 3.4 0 1 0 -6.8 0M884.6 570.2a3.4 3.4 0 1 0 6.8 0a3.4 3.4 0 1 0 -6.8 0M835.2 537.8a3.4 3.4 0 1 0 6.8 0a3.4 3.4 0 1 0 -6.8 0M941.6 531.1a3.4 3.4 0 1 0 6.8 0a3.4 3.4 0 1 0 -6.8 0M759.6 543.8a3.4 3.4 0 1 0 6.8 0a3.4 3.4 0 1 0 -6.8 0M755.2 529.8a3.4 3.4 0 1 0 6.8 0a3.4 3.4 0 1 0 -6.8 0M652.3 528.8a3.4 3.4 0 1 0 6.8 0a3.4 3.4 0 1 0 -6.8 0M869.9 538.8a3.4 3.4 0 1 0 6.8 0a3.4 3.4 0 1 0 -6.8 0M754.6 550.2a3.4 3.4 0 1 0 6.8 0a3.4 3.4 0 1 0 -6.8 0M837.4 523.2a3.4 3.4 0 1 0 6.8 0a3.4 3.4 0 1 0 -6.8 0M890.2 539a3.4 3.4 0 1 0 6.8 0a3.4 3.4 0 1 0 -6.8 0M859.5 532.3a3.4 3.4 0 1 0 6.8 0a3.4 3.4 0 1 0 -6.8 0M822.3 528.6a3.4 3.4 0 1 0 6.8 0a3.4 3.4 0 1 0 -6.8 0M810 538.7a3.4 3.4 0 1 0 6.8 0a3.4 3.4 0 1 0 -6.8 0M796 524.5a3.4 3.4 0 1 0 6.8 0a3.4 3.4 0 1 0 -6.8 0M840.1 550.2a3.4 3.4 0 1 0 6.8 0a3.4 3.4 0 1 0 -6.8 0M890.5 532.6a3.4 3.4 0 1 0 6.8 0a3.4 3.4 0 1 0 -6.8 0M830.3 546.7a3.4 3.4 0 1 0 6.8 0a3.4 3.4 0 1 0 -6.8 0M819.7 535.7a3.4 3.4 0 1 0 6.8 0a3.4 3.4 0 1 0 -6.8 0M755.8 552a3.4 3.4 0 1 0 6.8 0a3.4 3.4 0 1 0 -6.8 0M947.1 536.4a3.4 3.4 0 1 0 6.8 0a3.4 3.4 0 1 0 -6.8 0M651.7 527.7a3.4 3.4 0 1 0 6.8 0a3.4 3.4 0 1 0 -6.8 0M841 544.2a3.4 3.4 0 1 0 6.8 0a3.4 3.4 0 1 0 -6.8 0M749.1 535.5a3.4 3.4 0 1 0 6.8 0a3.4 3.4 0 1 0 -6.8 0M923.5 530.3a3.4 3.4 0 1 0 6.8 0a3.4 3.4 0 1 0 -6.8 0M872.4 515a3.4 3.4 0 1 0 6.8 0a3.4 3.4 0 1 0 -6.8 0M851.6 532.5a3.4 3.4 0 1 0 6.8 0a3.4 3.4 0 1 0 -6.8 0M827.1 527.2a3.4 3.4 0 1 0 6.8 0a3.4 3.4 0 1 0 -6.8 0M690.5 533.9a3.4 3.4 0 1 0 6.8 0a3.4 3.4 0 1 0 -6.8 0M755 553.5a3.4 3.4 0 1 0 6.8 0a3.4 3.4 0 1 0 -6.8 0M784.5 548.2a3.4 3.4 0 1 0 6.8 0a3.4 3.4 0 1 0 -6.8 0M871.5 533.5a3.4 3.4 0 1 0 6.8 0a3.4 3.4 0 1 0 -6.8 0M817.3 550.9a3.4 3.4 0 1 0 6.8 0a3.4 3.4 0 1 0 -6.8 0M734.2 538.2a3.4 3.4 0 1 0 6.8 0a3.4 3.4 0 1 0 -6.8 0M931.4 534.5a3.4 3.4 0 1 0 6.8 0a3.4 3.4 0 1 0 -6.8 0M837.1 548a3.4 3.4 0 1 0 6.8 0a3.4 3.4 0 1 0 -6.8 0M823.1 538.8a3.4 3.4 0 1 0 6.8 0a3.4 3.4 0 1 0 -6.8 0M769.4 527.5a3.4 3.4 0 1 0 6.8 0a3.4 3.4 0 1 0 -6.8 0M965.1 533.2a3.4 3.4 0 1 0 6.8 0a3.4 3.4 0 1 0 -6.8 0M917.9 533a3.4 3.4 0 1 0 6.8 0a3.4 3.4 0 1 0 -6.8 0M788.2 541.2a3.4 3.4 0 1 0 6.8 0a3.4 3.4 0 1 0 -6.8 0M804.7 547.1a3.4 3.4 0 1 0 6.8 0a3.4 3.4 0 1 0 -6.8 0M785.8 546.2a3.4 3.4 0 1 0 6.8 0a3.4 3.4 0 1 0 -6.8 0M850.4 537.9a3.4 3.4 0 1 0 6.8 0a3.4 3.4 0 1 0 -6.8 0M910.5 552.7a3.4 3.4 0 1 0 6.8 0a3.4 3.4 0 1 0 -6.8 0M764.3 543.9a3.4 3.4 0 1 0 6.8 0a3.4 3.4 0 1 0 -6.8 0M714.9 524.3a3.4 3.4 0 1 0 6.8 0a3.4 3.4 0 1 0 -6.8 0M769.3 534.2a3.4 3.4 0 1 0 6.8 0a3.4 3.4 0 1 0 -6.8 0M909.1 543.3a3.4 3.4 0 1 0 6.8 0a3.4 3.4 0 1 0 -6.8 0M805.1 521.7a3.4 3.4 0 1 0 6.8 0a3.4 3.4 0 1 0 -6.8 0M928.1 537.2a3.4 3.4 0 1 0 6.8 0a3.4 3.4 0 1 0 -6.8 0M853.7 534.5a3.4 3.4 0 1 0 6.8 0a3.4 3.4 0 1 0 -6.8 0M745.4 539.5a3.4 3.4 0 1 0 6.8 0a3.4 3.4 0 1 0 -6.8 0M973.8 533.1a3.4 3.4 0 1 0 6.8 0a3.4 3.4 0 1 0 -6.8 0M890 536.4a3.4 3.4 0 1 0 6.8 0a3.4 3.4 0 1 0 -6.8 0M797.5 519a3.4 3.4 0 1 0 6.8 0a3.4 3.4 0 1 0 -6.8 0M646.2 532.5a3.4 3.4 0 1 0 6.8 0a3.4 3.4 0 1 0 -6.8 0M771.2 519.2a3.4 3.4 0 1 0 6.8 0a3.4 3.4 0 1 0 -6.8 0M810.2 537.8a3.4 3.4 0 1 0 6.8 0a3.4 3.4 0 1 0 -6.8 0M783.2 530.9a3.4 3.4 0 1 0 6.8 0a3.4 3.4 0 1 0 -6.8 0M768.4 533.1a3.4 3.4 0 1 0 6.8 0a3.4 3.4 0 1 0 -6.8 0M881.2 527.7a3.4 3.4 0 1 0 6.8 0a3.4 3.4 0 1 0 -6.8 0M904.1 532.9a3.4 3.4 0 1 0 6.8 0a3.4 3.4 0 1 0 -6.8 0M917.3 540a3.4 3.4 0 1 0 6.8 0a3.4 3.4 0 1 0 -6.8 0M810.1 519.5a3.4 3.4 0 1 0 6.8 0a3.4 3.4 0 1 0 -6.8 0M800.9 502.4a3.4 3.4 0 1 0 6.8 0a3.4 3.4 0 1 0 -6.8 0M626.6 529.7a3.4 3.4 0 1 0 6.8 0a3.4 3.4 0 1 0 -6.8 0M911.7 543.5a3.4 3.4 0 1 0 6.8 0a3.4 3.4 0 1 0 -6.8 0M937.1 541.3a3.4 3.4 0 1 0 6.8 0a3.4 3.4 0 1 0 -6.8 0M919.7 528.7a3.4 3.4 0 1 0 6.8 0a3.4 3.4 0 1 0 -6.8 0M852.5 535.3a3.4 3.4 0 1 0 6.8 0a3.4 3.4 0 1 0 -6.8 0M632.1 528a3.4 3.4 0 1 0 6.8 0a3.4 3.4 0 1 0 -6.8 0M767.6 543.5a3.4 3.4 0 1 0 6.8 0a3.4 3.4 0 1 0 -6.8 0M682.2 536.4a3.4 3.4 0 1 0 6.8 0a3.4 3.4 0 1 0 -6.8 0M769.5 535.5a3.4 3.4 0 1 0 6.8 0a3.4 3.4 0 1 0 -6.8 0M931.9 533.8a3.4 3.4 0 1 0 6.8 0a3.4 3.4 0 1 0 -6.8 0M693.4 533.3a3.4 3.4 0 1 0 6.8 0a3.4 3.4 0 1 0 -6.8 0M829.3 543.1a3.4 3.4 0 1 0 6.8 0a3.4 3.4 0 1 0 -6.8 0M713.3 533.5a3.4 3.4 0 1 0 6.8 0a3.4 3.4 0 1 0 -6.8 0M713.4 514a3.4 3.4 0 1 0 6.8 0a3.4 3.4 0 1 0 -6.8 0M673.2 530.4a3.4 3.4 0 1 0 6.8 0a3.4 3.4 0 1 0 -6.8 0M648 527.7a3.4 3.4 0 1 0 6.8 0a3.4 3.4 0 1 0 -6.8 0M770.1 527.3a3.4 3.4 0 1 0 6.8 0a3.4 3.4 0 1 0 -6.8 0M666.2 530.2a3.4 3.4 0 1 0 6.8 0a3.4 3.4 0 1 0 -6.8 0M719.6 520.8a3.4 3.4 0 1 0 6.8 0a3.4 3.4 0 1 0 -6.8 0M828.4 522.8a3.4 3.4 0 1 0 6.8 0a3.4 3.4 0 1 0 -6.8 0M921.4 528a3.4 3.4 0 1 0 6.8 0a3.4 3.4 0 1 0 -6.8 0M845.2 540.8a3.4 3.4 0 1 0 6.8 0a3.4 3.4 0 1 0 -6.8 0M690 538.5a3.4 3.4 0 1 0 6.8 0a3.4 3.4 0 1 0 -6.8 0M857.3 533.5a3.4 3.4 0 1 0 6.8 0a3.4 3.4 0 1 0 -6.8 0M680.6 531.4a3.4 3.4 0 1 0 6.8 0a3.4 3.4 0 1 0 -6.8 0M781.3 541.9a3.4 3.4 0 1 0 6.8 0a3.4 3.4 0 1 0 -6.8 0M883.8 540.7a3.4 3.4 0 1 0 6.8 0a3.4 3.4 0 1 0 -6.8 0M873.3 554.4a3.4 3.4 0 1 0 6.8 0a3.4 3.4 0 1 0 -6.8 0M872 534a3.4 3.4 0 1 0 6.8 0a3.4 3.4 0 1 0 -6.8 0M780.9 532.7a3.4 3.4 0 1 0 6.8 0a3.4 3.4 0 1 0 -6.8 0M913.5 536.1a3.4 3.4 0 1 0 6.8 0a3.4 3.4 0 1 0 -6.8 0M689.5 535.5a3.4 3.4 0 1 0 6.8 0a3.4 3.4 0 1 0 -6.8 0M810.8 532.7a3.4 3.4 0 1 0 6.8 0a3.4 3.4 0 1 0 -6.8 0M868.5 526.6a3.4 3.4 0 1 0 6.8 0a3.4 3.4 0 1 0 -6.8 0M776.4 537.9a3.4 3.4 0 1 0 6.8 0a3.4 3.4 0 1 0 -6.8 0M873.3 540.6a3.4 3.4 0 1 0 6.8 0a3.4 3.4 0 1 0 -6.8 0M761.4 532.7a3.4 3.4 0 1 0 6.8 0a3.4 3.4 0 1 0 -6.8 0M674.8 535.7a3.4 3.4 0 1 0 6.8 0a3.4 3.4 0 1 0 -6.8 0M799.4 529.8a3.4 3.4 0 1 0 6.8 0a3.4 3.4 0 1 0 -6.8 0M654.8 527.7a3.4 3.4 0 1 0 6.8 0a3.4 3.4 0 1 0 -6.8 0M926.2 551.8a3.4 3.4 0 1 0 6.8 0a3.4 3.4 0 1 0 -6.8 0M782.7 543.4a3.4 3.4 0 1 0 6.8 0a3.4 3.4 0 1 0 -6.8 0M775.8 534a3.4 3.4 0 1 0 6.8 0a3.4 3.4 0 1 0 -6.8 0M860.7 543.7a3.4 3.4 0 1 0 6.8 0a3.4 3.4 0 1 0 -6.8 0M852.2 533.3a3.4 3.4 0 1 0 6.8 0a3.4 3.4 0 1 0 -6.8 0M635.9 537.4a3.4 3.4 0 1 0 6.8 0a3.4 3.4 0 1 0 -6.8 0M620.4 532.3a3.4 3.4 0 1 0 6.8 0a3.4 3.4 0 1 0 -6.8 0M841.7 532.5a3.4 3.4 0 1 0 6.8 0a3.4 3.4 0 1 0 -6.8 0M807.3 531.1a3.4 3.4 0 1 0 6.8 0a3.4 3.4 0 1 0 -6.8 0M852.6 532.4a3.4 3.4 0 1 0 6.8 0a3.4 3.4 0 1 0 -6.8 0M758.6 545.1a3.4 3.4 0 1 0 6.8 0a3.4 3.4 0 1 0 -6.8 0M842.6 529.1a3.4 3.4 0 1 0 6.8 0a3.4 3.4 0 1 0 -6.8 0M692.1 532.3a3.4 3.4 0 1 0 6.8 0a3.4 3.4 0 1 0 -6.8 0M780.2 545.9a3.4 3.4 0 1 0 6.8 0a3.4 3.4 0 1 0 -6.8 0M798.5 528.8a3.4 3.4 0 1 0 6.8 0a3.4 3.4 0 1 0 -6.8 0M788.2 533.8a3.4 3.4 0 1 0 6.8 0a3.4 3.4 0 1 0 -6.8 0M823.5 532.8a3.4 3.4 0 1 0 6.8 0a3.4 3.4 0 1 0 -6.8 0M968.2 535.1a3.4 3.4 0 1 0 6.8 0a3.4 3.4 0 1 0 -6.8 0M840.3 538.1a3.4 3.4 0 1 0 6.8 0a3.4 3.4 0 1 0 -6.8 0M907.6 567.2a3.4 3.4 0 1 0 6.8 0a3.4 3.4 0 1 0 -6.8 0M855.8 530.5a3.4 3.4 0 1 0 6.8 0a3.4 3.4 0 1 0 -6.8 0M799.2 541.3a3.4 3.4 0 1 0 6.8 0a3.4 3.4 0 1 0 -6.8 0M809.2 527.9a3.4 3.4 0 1 0 6.8 0a3.4 3.4 0 1 0 -6.8 0M924.1 533.4a3.4 3.4 0 1 0 6.8 0a3.4 3.4 0 1 0 -6.8 0M762.3 533.8a3.4 3.4 0 1 0 6.8 0a3.4 3.4 0 1 0 -6.8 0M824.6 527.5a3.4 3.4 0 1 0 6.8 0a3.4 3.4 0 1 0 -6.8 0M823.3 550.2a3.4 3.4 0 1 0 6.8 0a3.4 3.4 0 1 0 -6.8 0M703.8 526.8a3.4 3.4 0 1 0 6.8 0a3.4 3.4 0 1 0 -6.8 0M694.3 536.8a3.4 3.4 0 1 0 6.8 0a3.4 3.4 0 1 0 -6.8 0M686.3 529.3a3.4 3.4 0 1 0 6.8 0a3.4 3.4 0 1 0 -6.8 0M664.7 529.4a3.4 3.4 0 1 0 6.8 0a3.4 3.4 0 1 0 -6.8 0M784.7 526a3.4 3.4 0 1 0 6.8 0a3.4 3.4 0 1 0 -6.8 0M821.2 535.8a3.4 3.4 0 1 0 6.8 0a3.4 3.4 0 1 0 -6.8 0M742.3 549a3.4 3.4 0 1 0 6.8 0a3.4 3.4 0 1 0 -6.8 0M870.2 535.9a3.4 3.4 0 1 0 6.8 0a3.4 3.4 0 1 0 -6.8 0M841.3 553.3a3.4 3.4 0 1 0 6.8 0a3.4 3.4 0 1 0 -6.8 0M939 529.4a3.4 3.4 0 1 0 6.8 0a3.4 3.4 0 1 0 -6.8 0M849.2 532.3a3.4 3.4 0 1 0 6.8 0a3.4 3.4 0 1 0 -6.8 0M676.3 533.2a3.4 3.4 0 1 0 6.8 0a3.4 3.4 0 1 0 -6.8 0M789.2 525.6a3.4 3.4 0 1 0 6.8 0a3.4 3.4 0 1 0 -6.8 0M819.3 538.7a3.4 3.4 0 1 0 6.8 0a3.4 3.4 0 1 0 -6.8 0M794.7 525a3.4 3.4 0 1 0 6.8 0a3.4 3.4 0 1 0 -6.8 0M838.4 538.2a3.4 3.4 0 1 0 6.8 0a3.4 3.4 0 1 0 -6.8 0M873.1 536.6a3.4 3.4 0 1 0 6.8 0a3.4 3.4 0 1 0 -6.8 0M950.6 529.8a3.4 3.4 0 1 0 6.8 0a3.4 3.4 0 1 0 -6.8 0M622.1 528.5a3.4 3.4 0 1 0 6.8 0a3.4 3.4 0 1 0 -6.8 0M831.4 539.7a3.4 3.4 0 1 0 6.8 0a3.4 3.4 0 1 0 -6.8 0M771.4 535.4a3.4 3.4 0 1 0 6.8 0a3.4 3.4 0 1 0 -6.8 0M733 534.8a3.4 3.4 0 1 0 6.8 0a3.4 3.4 0 1 0 -6.8 0M786.2 526.7a3.4 3.4 0 1 0 6.8 0a3.4 3.4 0 1 0 -6.8 0M828.2 556.6a3.4 3.4 0 1 0 6.8 0a3.4 3.4 0 1 0 -6.8 0M791.8 525.8a3.4 3.4 0 1 0 6.8 0a3.4 3.4 0 1 0 -6.8 0M641.9 529.9a3.4 3.4 0 1 0 6.8 0a3.4 3.4 0 1 0 -6.8 0M852.4 539.8a3.4 3.4 0 1 0 6.8 0a3.4 3.4 0 1 0 -6.8 0M874.4 517.5a3.4 3.4 0 1 0 6.8 0a3.4 3.4 0 1 0 -6.8 0M712.8 524.1a3.4 3.4 0 1 0 6.8 0a3.4 3.4 0 1 0 -6.8 0M717.8 469.7a3.4 3.4 0 1 0 6.8 0a3.4 3.4 0 1 0 -6.8 0M791.2 468.6a3.4 3.4 0 1 0 6.8 0a3.4 3.4 0 1 0 -6.8 0M664.1 481.5a3.4 3.4 0 1 0 6.8 0a3.4 3.4 0 1 0 -6.8 0M822.7 482.3a3.4 3.4 0 1 0 6.8 0a3.4 3.4 0 1 0 -6.8 0M640 508.6a3.4 3.4 0 1 0 6.8 0a3.4 3.4 0 1 0 -6.8 0M643.7 509.3a3.4 3.4 0 1 0 6.8 0a3.4 3.4 0 1 0 -6.8 0M619.6 517.9a3.4 3.4 0 1 0 6.8 0a3.4 3.4 0 1 0 -6.8 0M691.9 505.6a3.4 3.4 0 1 0 6.8 0a3.4 3.4 0 1 0 -6.8 0M695.6 501.9a3.4 3.4 0 1 0 6.8 0a3.4 3.4 0 1 0 -6.8 0M704.8 500.1a3.4 3.4 0 1 0 6.8 0a3.4 3.4 0 1 0 -6.8 0M712.3 504.5a3.4 3.4 0 1 0 6.8 0a3.4 3.4 0 1 0 -6.8 0M723.4 500.1a3.4 3.4 0 1 0 6.8 0a3.4 3.4 0 1 0 -6.8 0M730.8 498.2a3.4 3.4 0 1 0 6.8 0a3.4 3.4 0 1 0 -6.8 0M745.6 499.3a3.4 3.4 0 1 0 6.8 0a3.4 3.4 0 1 0 -6.8 0M756.7 510.5a3.4 3.4 0 1 0 6.8 0a3.4 3.4 0 1 0 -6.8 0M781.6 500.1a3.4 3.4 0 1 0 6.8 0a3.4 3.4 0 1 0 -6.8 0M796.8 499.3a3.4 3.4 0 1 0 6.8 0a3.4 3.4 0 1 0 -6.8 0M790.1 507.5a3.4 3.4 0 1 0 6.8 0a3.4 3.4 0 1 0 -6.8 0M808.6 507.5a3.4 3.4 0 1 0 6.8 0a3.4 3.4 0 1 0 -6.8 0M823.5 500.1a3.4 3.4 0 1 0 6.8 0a3.4 3.4 0 1 0 -6.8 0M640 573.5a3.4 3.4 0 1 0 6.8 0a3.4 3.4 0 1 0 -6.8 0M645.6 582.7a3.4 3.4 0 1 0 6.8 0a3.4 3.4 0 1 0 -6.8 0M678.9 567.5a3.4 3.4 0 1 0 6.8 0a3.4 3.4 0 1 0 -6.8 0M698.6 583.5a3.4 3.4 0 1 0 6.8 0a3.4 3.4 0 1 0 -6.8 0M698.6 569.8a3.4 3.4 0 1 0 6.8 0a3.4 3.4 0 1 0 -6.8 0M714.1 570.5a3.4 3.4 0 1 0 6.8 0a3.4 3.4 0 1 0 -6.8 0M735.6 576a3.4 3.4 0 1 0 6.8 0a3.4 3.4 0 1 0 -6.8 0M750.4 580.5a3.4 3.4 0 1 0 6.8 0a3.4 3.4 0 1 0 -6.8 0M788.2 584.6a3.4 3.4 0 1 0 6.8 0a3.4 3.4 0 1 0 -6.8 0M793.1 584.6a3.4 3.4 0 1 0 6.8 0a3.4 3.4 0 1 0 -6.8 0M829 584.6a3.4 3.4 0 1 0 6.8 0a3.4 3.4 0 1 0 -6.8 0M682.6 600.9a3.4 3.4 0 1 0 6.8 0a3.4 3.4 0 1 0 -6.8 0M677.1 614.2a3.4 3.4 0 1 0 6.8 0a3.4 3.4 0 1 0 -6.8 0M699.3 615.7a3.4 3.4 0 1 0 6.8 0a3.4 3.4 0 1 0 -6.8 0M734.5 605.7a3.4 3.4 0 1 0 6.8 0a3.4 3.4 0 1 0 -6.8 0M733.8 625.4a3.4 3.4 0 1 0 6.8 0a3.4 3.4 0 1 0 -6.8 0M707.8 660.6a3.4 3.4 0 1 0 6.8 0a3.4 3.4 0 1 0 -6.8 0M752.3 662.4a3.4 3.4 0 1 0 6.8 0a3.4 3.4 0 1 0 -6.8 0M651.1 552a3.4 3.4 0 1 0 6.8 0a3.4 3.4 0 1 0 -6.8 0M650 553.8a3.4 3.4 0 1 0 6.8 0a3.4 3.4 0 1 0 -6.8 0M664.1 552.7a3.4 3.4 0 1 0 6.8 0a3.4 3.4 0 1 0 -6.8 0M673.3 550.1a3.4 3.4 0 1 0 6.8 0a3.4 3.4 0 1 0 -6.8 0M690 550.1a3.4 3.4 0 1 0 6.8 0a3.4 3.4 0 1 0 -6.8 0M703 557.5a3.4 3.4 0 1 0 6.8 0a3.4 3.4 0 1 0 -6.8 0M704.1 563.1a3.4 3.4 0 1 0 6.8 0a3.4 3.4 0 1 0 -6.8 0M712.3 563.1a3.4 3.4 0 1 0 6.8 0a3.4 3.4 0 1 0 -6.8 0M740.1 563.1a3.4 3.4 0 1 0 6.8 0a3.4 3.4 0 1 0 -6.8 0M760.4 567.5a3.4 3.4 0 1 0 6.8 0a3.4 3.4 0 1 0 -6.8 0M769.7 570.5a3.4 3.4 0 1 0 6.8 0a3.4 3.4 0 1 0 -6.8 0M782.7 567.5a3.4 3.4 0 1 0 6.8 0a3.4 3.4 0 1 0 -6.8 0M816 563.1a3.4 3.4 0 1 0 6.8 0a3.4 3.4 0 1 0 -6.8 0M929 426a3.4 3.4 0 1 0 6.8 0a3.4 3.4 0 1 0 -6.8 0M852.6 474.9a3.4 3.4 0 1 0 6.8 0a3.4 3.4 0 1 0 -6.8 0M1034.3 482.3a3.4 3.4 0 1 0 6.8 0a3.4 3.4 0 1 0 -6.8 0M909.3 493.5a3.4 3.4 0 1 0 6.8 0a3.4 3.4 0 1 0 -6.8 0M925.3 490.9a3.4 3.4 0 1 0 6.8 0a3.4 3.4 0 1 0 -6.8 0M876 497.2a3.4 3.4 0 1 0 6.8 0a3.4 3.4 0 1 0 -6.8 0M874.1 502a3.4 3.4 0 1 0 6.8 0a3.4 3.4 0 1 0 -6.8 0M885.2 506.8a3.4 3.4 0 1 0 6.8 0a3.4 3.4 0 1 0 -6.8 0M841.5 508.7a3.4 3.4 0 1 0 6.8 0a3.4 3.4 0 1 0 -6.8 0M901.9 509.4a3.4 3.4 0 1 0 6.8 0a3.4 3.4 0 1 0 -6.8 0M898.2 513.1a3.4 3.4 0 1 0 6.8 0a3.4 3.4 0 1 0 -6.8 0M923.1 506.8a3.4 3.4 0 1 0 6.8 0a3.4 3.4 0 1 0 -6.8 0M959.4 497.2a3.4 3.4 0 1 0 6.8 0a3.4 3.4 0 1 0 -6.8 0M956.8 502a3.4 3.4 0 1 0 6.8 0a3.4 3.4 0 1 0 -6.8 0M1003.9 505.7a3.4 3.4 0 1 0 6.8 0a3.4 3.4 0 1 0 -6.8 0M1004.7 512a3.4 3.4 0 1 0 6.8 0a3.4 3.4 0 1 0 -6.8 0M989.1 513.1a3.4 3.4 0 1 0 6.8 0a3.4 3.4 0 1 0 -6.8 0M984.6 514.2a3.4 3.4 0 1 0 6.8 0a3.4 3.4 0 1 0 -6.8 0M1032.9 518a3.4 3.4 0 1 0 6.8 0a3.4 3.4 0 1 0 -6.8 0M1019.5 519.4a3.4 3.4 0 1 0 6.8 0a3.4 3.4 0 1 0 -6.8 0M940.1 518a3.4 3.4 0 1 0 6.8 0a3.4 3.4 0 1 0 -6.8 0M948.3 515.7a3.4 3.4 0 1 0 6.8 0a3.4 3.4 0 1 0 -6.8 0M955.7 515a3.4 3.4 0 1 0 6.8 0a3.4 3.4 0 1 0 -6.8 0M999.5 521.3a3.4 3.4 0 1 0 6.8 0a3.4 3.4 0 1 0 -6.8 0M1044 522.4a3.4 3.4 0 1 0 6.8 0a3.4 3.4 0 1 0 -6.8 0M1044 552.8a3.4 3.4 0 1 0 6.8 0a3.4 3.4 0 1 0 -6.8 0M1035.5 572.5a3.4 3.4 0 1 0 6.8 0a3.4 3.4 0 1 0 -6.8 0M1011.4 580.6a3.4 3.4 0 1 0 6.8 0a3.4 3.4 0 1 0 -6.8 0M990.9 578a3.4 3.4 0 1 0 6.8 0a3.4 3.4 0 1 0 -6.8 0M1025.4 592.9a3.4 3.4 0 1 0 6.8 0a3.4 3.4 0 1 0 -6.8 0M976.9 568.8a3.4 3.4 0 1 0 6.8 0a3.4 3.4 0 1 0 -6.8 0M959.4 570.6a3.4 3.4 0 1 0 6.8 0a3.4 3.4 0 1 0 -6.8 0M961.3 584.3a3.4 3.4 0 1 0 6.8 0a3.4 3.4 0 1 0 -6.8 0M933.5 581.8a3.4 3.4 0 1 0 6.8 0a3.4 3.4 0 1 0 -6.8 0M940.9 579.9a3.4 3.4 0 1 0 6.8 0a3.4 3.4 0 1 0 -6.8 0M934.2 576.2a3.4 3.4 0 1 0 6.8 0a3.4 3.4 0 1 0 -6.8 0M908.2 606.6a3.4 3.4 0 1 0 6.8 0a3.4 3.4 0 1 0 -6.8 0M935.3 625.5a3.4 3.4 0 1 0 6.8 0a3.4 3.4 0 1 0 -6.8 0M837.8 617.7a3.4 3.4 0 1 0 6.8 0a3.4 3.4 0 1 0 -6.8 0M871.1 644.1a3.4 3.4 0 1 0 6.8 0a3.4 3.4 0 1 0 -6.8 0M853.7 591a3.4 3.4 0 1 0 6.8 0a3.4 3.4 0 1 0 -6.8 0M864.8 594.7a3.4 3.4 0 1 0 6.8 0a3.4 3.4 0 1 0 -6.8 0M868.6 592.9a3.4 3.4 0 1 0 6.8 0a3.4 3.4 0 1 0 -6.8 0M887.1 589.2a3.4 3.4 0 1 0 6.8 0a3.4 3.4 0 1 0 -6.8 0M829.6 583.6a3.4 3.4 0 1 0 6.8 0a3.4 3.4 0 1 0 -6.8 0M857.4 579.9a3.4 3.4 0 1 0 6.8 0a3.4 3.4 0 1 0 -6.8 0M876 574.3a3.4 3.4 0 1 0 6.8 0a3.4 3.4 0 1 0 -6.8 0M903 571.4a3.4 3.4 0 1 0 6.8 0a3.4 3.4 0 1 0 -6.8 0M920.5 569.9a3.4 3.4 0 1 0 6.8 0a3.4 3.4 0 1 0 -6.8 0M937.2 559.5a3.4 3.4 0 1 0 6.8 0a3.4 3.4 0 1 0 -6.8 0M931.6 563.2a3.4 3.4 0 1 0 6.8 0a3.4 3.4 0 1 0 -6.8 0M917.9 557.6a3.4 3.4 0 1 0 6.8 0a3.4 3.4 0 1 0 -6.8 0M888.2 566.9a3.4 3.4 0 1 0 6.8 0a3.4 3.4 0 1 0 -6.8 0M960.2 550.2a3.4 3.4 0 1 0 6.8 0a3.4 3.4 0 1 0 -6.8 0M972.4 553.9a3.4 3.4 0 1 0 6.8 0a3.4 3.4 0 1 0 -6.8 0M985.4 552.1a3.4 3.4 0 1 0 6.8 0a3.4 3.4 0 1 0 -6.8 0M992.8 546.5a3.4 3.4 0 1 0 6.8 0a3.4 3.4 0 1 0 -6.8 0M1002.1 545.4a3.4 3.4 0 1 0 6.8 0a3.4 3.4 0 1 0 -6.8 0M1011.4 541.7a3.4 3.4 0 1 0 6.8 0a3.4 3.4 0 1 0 -6.8 0M1011.4 529.8a3.4 3.4 0 1 0 6.8 0a3.4 3.4 0 1 0 -6.8 0M1022.5 528a3.4 3.4 0 1 0 6.8 0a3.4 3.4 0 1 0 -6.8 0M1032.9 529.8a3.4 3.4 0 1 0 6.8 0a3.4 3.4 0 1 0 -6.8 0" fill="#000"/>
<rect x="622.2" y="479.9" width="427.4" height="4.8" fill="#ff0000"/>
<rect x="622.2" y="534" width="427.4" height="4.8" fill="#ff0000"/>
<rect x="622.2" y="588.1" width="427.4" height="4.8" fill="#ff0000"/>
<g font-family="'Liberation Sans', sans-serif" font-size="13" fill="#000">
<text x="77.3" y="299.3" text-anchor="middle">50</text>
<text x="181" y="299.3" text-anchor="middle">100</text>
<text x="284.7" y="299.3" text-anchor="middle">150</text>
<text x="388.4" y="299.3" text-anchor="middle">200</text>
<text x="492.1" y="299.3" text-anchor="middle">250</text>
<text x="72.3" y="262.3" text-anchor="end">- 20</text>
<text x="72.3" y="211.2" text-anchor="end">- 10</text>
<text x="72.3" y="160" text-anchor="end">0</text>
<text x="72.3" y="108.9" text-anchor="end">10</text>
<text x="72.3" y="57.8" text-anchor="end">20</text>
<text x="626" y="299.3" text-anchor="middle">0</text>
<text x="708.9" y="299.3" text-anchor="middle">20</text>
<text x="791.8" y="299.3" text-anchor="middle">40</text>
<text x="874.6" y="299.3" text-anchor="middle">60</text>
<text x="957.5" y="299.3" text-anchor="middle">80</text>
<text x="1040.4" y="299.3" text-anchor="middle">100</text>
<text x="621" y="262.3" text-anchor="end">- 20</text>
<text x="621" y="211.2" text-anchor="end">- 10</text>
<text x="621" y="160" text-anchor="end">0</text>
<text x="621" y="108.9" text-anchor="end">10</text>
<text x="621" y="57.8" text-anchor="end">20</text>
<text x="78.3" y="674.5" text-anchor="middle">40</text>
<text x="161.8" y="674.5" text-anchor="middle">50</text>
<text x="245.3" y="674.5" text-anchor="middle">60</text>
<text x="328.8" y="674.5" text-anchor="middle">70</text>
<text x="412.3" y="674.5" text-anchor="middle">80</text>
<text x="495.8" y="674.5" text-anchor="middle">90</text>
<text x="73.3" y="662.9" text-anchor="end">- 10</text>
<text x="73.3" y="598.6" text-anchor="end">- 5</text>
<text x="73.3" y="534.2" text-anchor="end">0</text>
<text x="73.3" y="469.9" text-anchor="end">5</text>
<text x="73.3" y="405.5" text-anchor="end">10</text>
<text x="666" y="678.6" text-anchor="middle">60</text>
<text x="751" y="678.6" text-anchor="middle">80</text>
<text x="836" y="678.6" text-anchor="middle">100</text>
<text x="921" y="678.6" text-anchor="middle">120</text>
<text x="1006" y="678.6" text-anchor="middle">140</text>
<text x="618.3" y="667.1" text-anchor="end">- 15</text>
<text x="618.3" y="623.4" text-anchor="end">- 10</text>
<text x="618.3" y="579.7" text-anchor="end">- 5</text>
<text x="618.3" y="536" text-anchor="end">0</text>
<text x="618.3" y="492.3" text-anchor="end">5</text>
<text x="618.3" y="448.6" text-anchor="end">10</text>
<text x="618.3" y="404.9" text-anchor="end">15</text>
</g>
<g font-family="'Liberation Sans', sans-serif" font-size="21.8" fill="#000">
<text x="225.1" y="17.2" textLength="115.5" lengthAdjust="spacingAndGlyphs">ED Volume</text>
<text x="773.5" y="17.2" textLength="112" lengthAdjust="spacingAndGlyphs">ES Volume</text>
<text x="193.7" y="386.8" textLength="175" lengthAdjust="spacingAndGlyphs">Ejection Fraction</text>
<text x="756.7" y="386.8" textLength="155" lengthAdjust="spacingAndGlyphs">Stroke Volume</text>
<text x="224.4" y="328" textLength="121" lengthAdjust="spacingAndGlyphs">Average (ml)</text>
<text x="772.3" y="328" textLength="120" lengthAdjust="spacingAndGlyphs">Average (ml)</text>
<text x="229.7" y="703" textLength="112.5" lengthAdjust="spacingAndGlyphs">Average (%)</text>
<text x="775.7" y="707" textLength="119.5" lengthAdjust="spacingAndGlyphs">Average (ml)</text>
<text transform="translate(43.6 227.2) rotate(-90)" x="0" y="0" textLength="143.5" lengthAdjust="spacingAndGlyphs">Difference (ml)</text>
<text transform="translate(591.4 227.4) rotate(-90)" x="0" y="0" textLength="143" lengthAdjust="spacingAndGlyphs">Difference (ml)</text>
<text transform="translate(45.2 597.2) rotate(-90)" x="0" y="0" textLength="134.5" lengthAdjust="spacingAndGlyphs">Difference (%)</text>
<text transform="translate(589.4 603.5) rotate(-90)" x="0" y="0" textLength="143" lengthAdjust="spacingAndGlyphs">Difference (ml)</text>
<text x="0.4" y="328.3" textLength="18.6" lengthAdjust="spacingAndGlyphs">a)</text>
<text x="547" y="330.3" textLength="19.1" lengthAdjust="spacingAndGlyphs">b)</text>
<text x="-0.7" y="703.5" textLength="17.1" lengthAdjust="spacingAndGlyphs">c)</text>
<text x="544" y="707.3" textLength="18.5" lengthAdjust="spacingAndGlyphs">d)</text>
</g>
</svg>
</body></html>
